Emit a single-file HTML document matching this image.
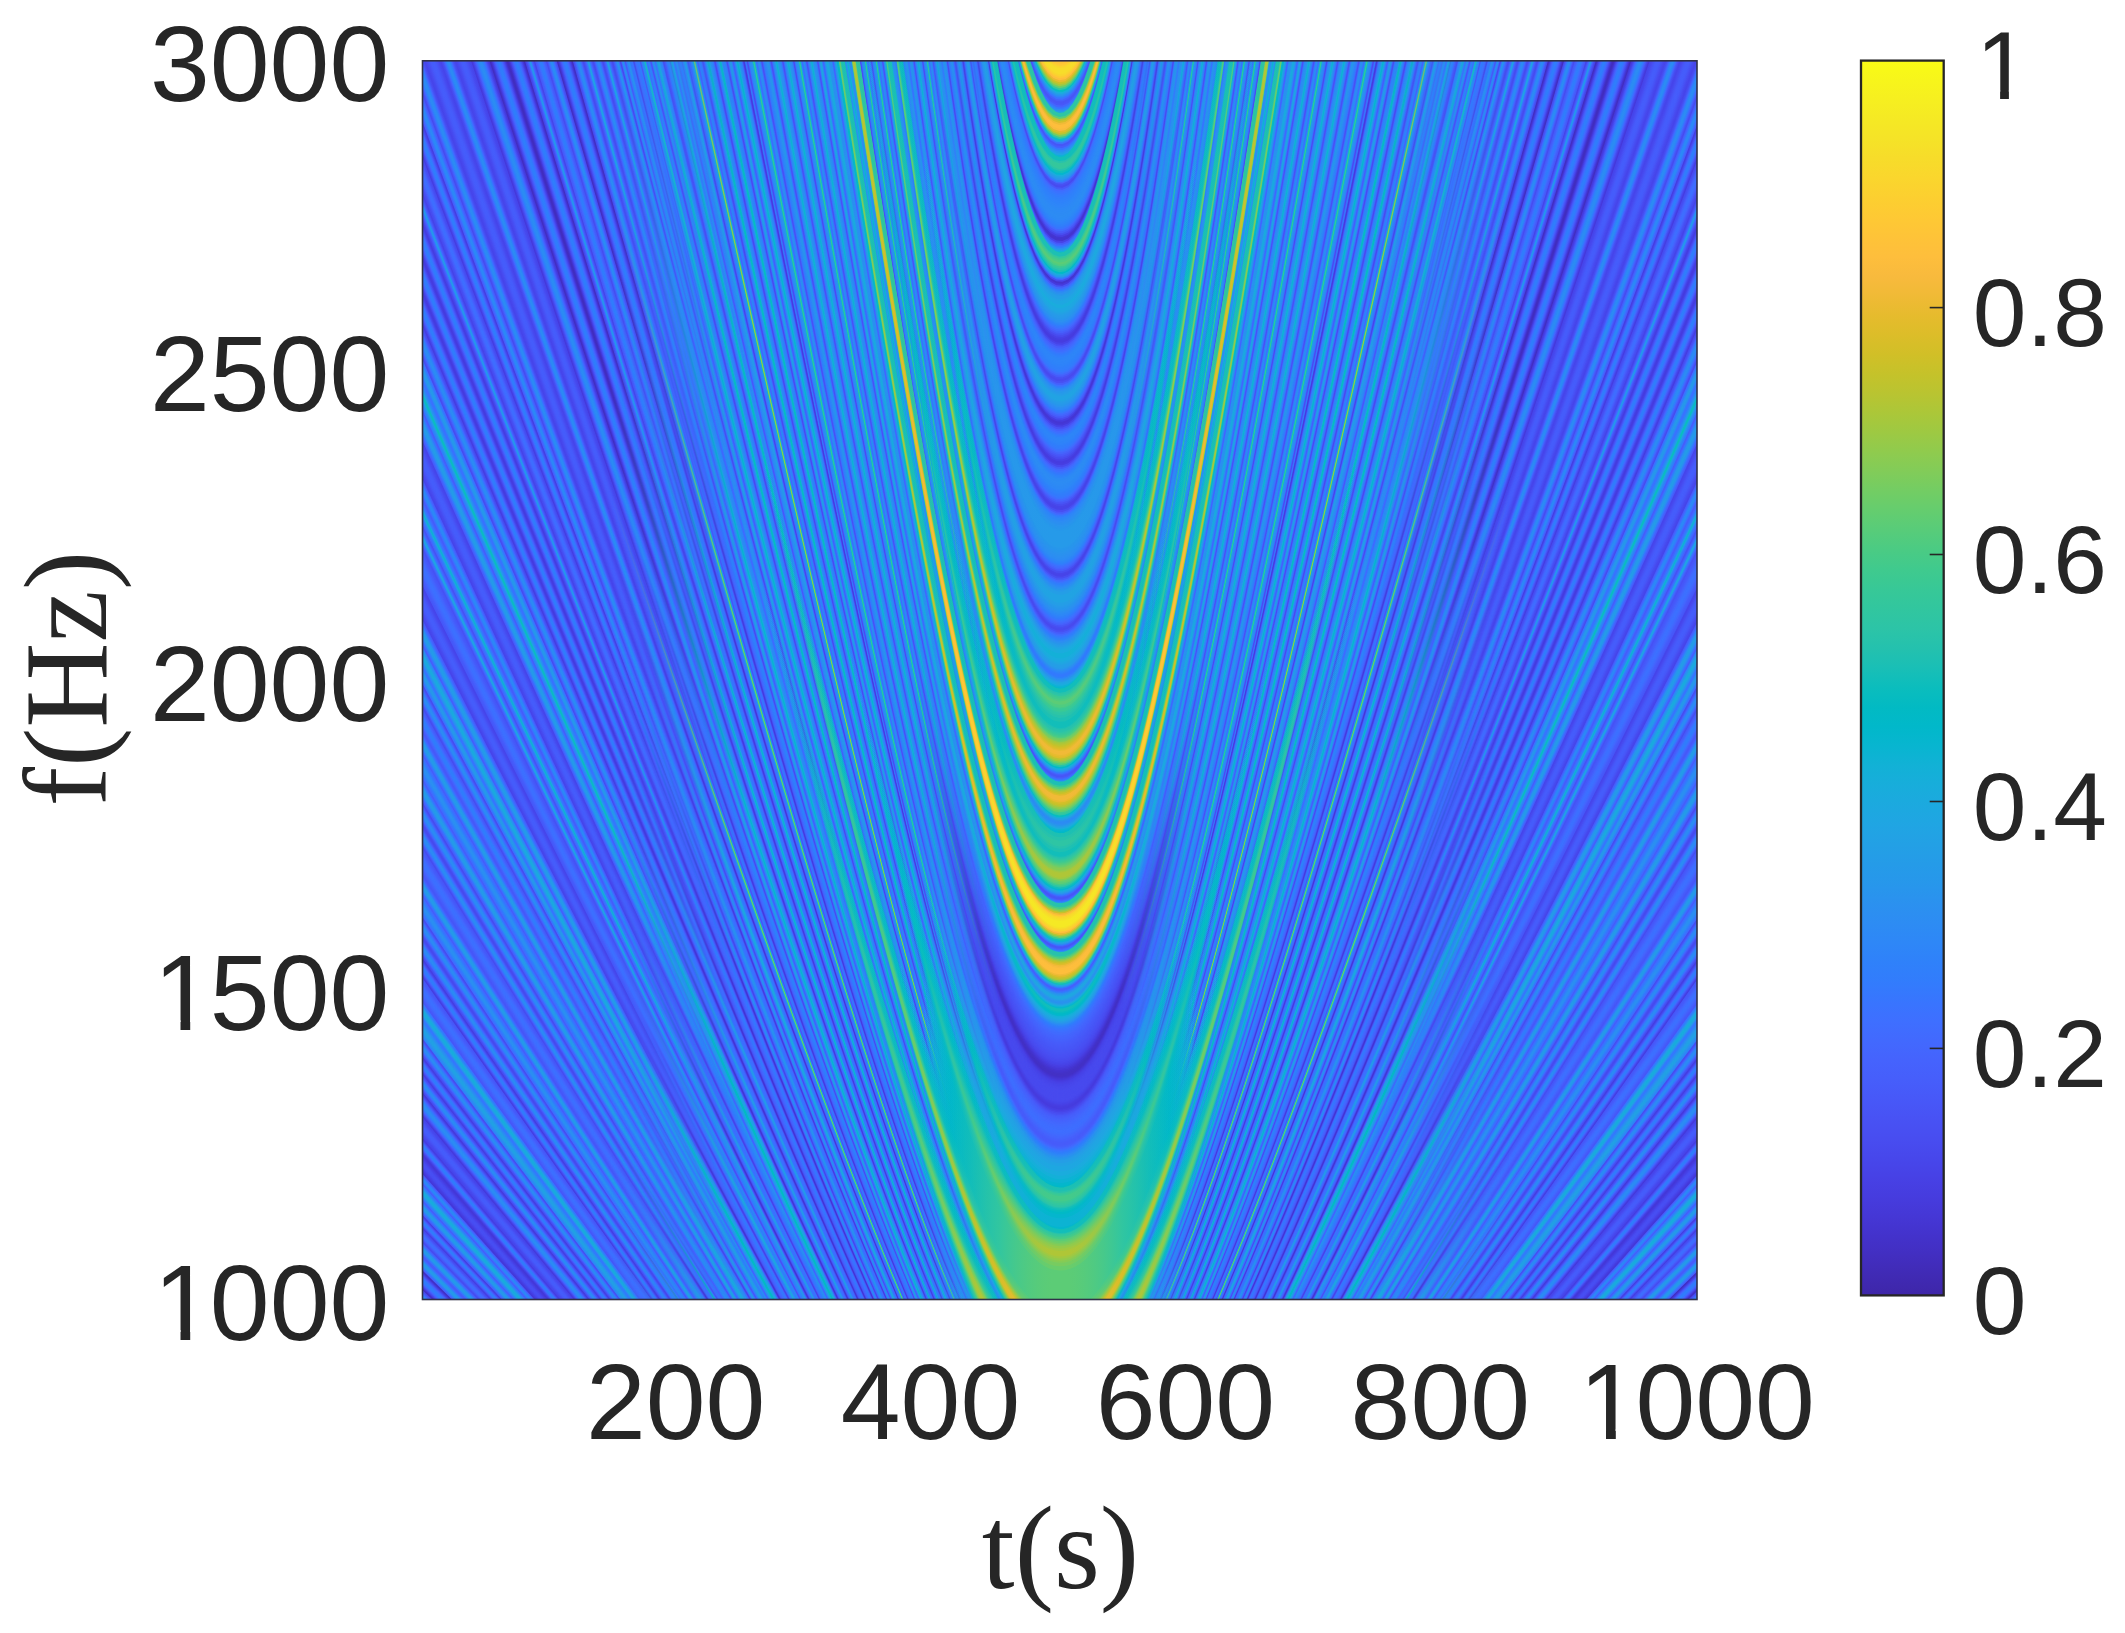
<!DOCTYPE html><html><head><meta charset="utf-8"><title>f-t</title><style>html,body{margin:0;padding:0;background:#fff}svg{display:block}text{fill:#262626}.s{font-family:"Liberation Sans",Arial,sans-serif}.r{font-family:"Liberation Serif","Times New Roman",serif}path{fill:none;stroke-width:4;vector-effect:non-scaling-stroke}.b22{stroke:url(#b22)}.v22{stroke:url(#v22)}.b23{stroke:url(#b23)}.v23{stroke:url(#v23)}.b24{stroke:url(#b24)}.v24{stroke:url(#v24)}.b25{stroke:url(#b25)}.v25{stroke:url(#v25)}.b26{stroke:url(#b26)}.v26{stroke:url(#v26)}.b27{stroke:url(#b27)}.v27{stroke:url(#v27)}.b28{stroke:url(#b28)}.v28{stroke:url(#v28)}.b29{stroke:url(#b29)}.v29{stroke:url(#v29)}.b30{stroke:url(#b30)}.v30{stroke:url(#v30)}.b31{stroke:url(#b31)}.v31{stroke:url(#v31)}.b32{stroke:url(#b32)}.v32{stroke:url(#v32)}.b33{stroke:url(#b33)}.v33{stroke:url(#v33)}.b34{stroke:url(#b34)}.v34{stroke:url(#v34)}.b35{stroke:url(#b35)}.v35{stroke:url(#v35)}.b36{stroke:url(#b36)}.v36{stroke:url(#v36)}.b37{stroke:url(#b37)}.v37{stroke:url(#v37)}.b38{stroke:url(#b38)}.v38{stroke:url(#v38)}.b39{stroke:url(#b39)}.v39{stroke:url(#v39)}.b40{stroke:url(#b40)}.v40{stroke:url(#v40)}.b41{stroke:url(#b41)}.v41{stroke:url(#v41)}.b42{stroke:url(#b42)}.v42{stroke:url(#v42)}.b43{stroke:url(#b43)}.v43{stroke:url(#v43)}.b44{stroke:url(#b44)}.v44{stroke:url(#v44)}.b45{stroke:url(#b45)}.v45{stroke:url(#v45)}.b46{stroke:url(#b46)}.v46{stroke:url(#v46)}.b47{stroke:url(#b47)}.v47{stroke:url(#v47)}.b48{stroke:url(#b48)}.v48{stroke:url(#v48)}.b49{stroke:url(#b49)}.v49{stroke:url(#v49)}.b50{stroke:url(#b50)}.v50{stroke:url(#v50)}.b51{stroke:url(#b51)}.v51{stroke:url(#v51)}.b52{stroke:url(#b52)}.v52{stroke:url(#v52)}.v53{stroke:url(#v53)}.v54{stroke:url(#v54)}.v55{stroke:url(#v55)}.v56{stroke:url(#v56)}.v57{stroke:url(#v57)}.v58{stroke:url(#v58)}.v59{stroke:url(#v59)}.v60{stroke:url(#v60)}.v61{stroke:url(#v61)}</style></head><body>
<svg width="2125" height="1633" viewBox="0 0 2125 1633">
<defs><clipPath id="cp"><rect x="422.5" y="60.8" width="1274.5" height="1238.7"/></clipPath><path id="c" d="M-153.344,0.957770 -148.344,0.939726 -143.344,0.921945 -138.344,0.904441 -133.344,0.887231 -128.344,0.870334 -123.344,0.853766 -118.344,0.837549 -113.344,0.821701 -108.344,0.806247 -103.344,0.791208 -98.3444,0.776608 -93.3444,0.762473 -88.3444,0.748829 -83.3444,0.735704 -78.3444,0.723126 -73.3444,0.711123 -68.3444,0.699725 -63.3444,0.688963 -58.3444,0.678866 -53.3444,0.669466 -48.3444,0.660790 -43.3444,0.652869 -38.3444,0.645730 -33.3444,0.639399 -28.3444,0.633901 -23.3444,0.629257 -18.3444,0.625486 -13.3444,0.622604 -8.34442,0.620625 -3.34442,0.619555 1.65558,0.619400 6.65558,0.620161 11.6556,0.621834 16.6556,0.624413 21.6556,0.627884 26.6556,0.632236 31.6556,0.637448 36.6556,0.643500 41.6556,0.650369 46.6556,0.658029 51.6556,0.666453 56.6556,0.675612 61.6556,0.685477 66.6556,0.696018 71.6556,0.707204 76.6556,0.719006 81.6556,0.731393 86.6556,0.744337 91.6556,0.757808 96.6556,0.771780 101.656,0.786226 106.656,0.801119 111.656,0.816436 116.656,0.832153 121.656,0.848248 126.656,0.864700 131.656,0.881488 136.656,0.898594 141.656,0.916001 146.656,0.933690 151.656,0.951647 153.344,0.957770"/><path id="ch" d="M-643.85,3.129352 -631.85,3.073333 -619.85,3.017357 -607.85,2.961427 -595.85,2.905545 -583.85,2.849714 -571.85,2.793938 -559.85,2.738219 -547.85,2.682561 -535.85,2.626968 -523.85,2.571444 -511.85,2.515994 -499.85,2.460623 -487.85,2.405336 -475.85,2.350139 -463.85,2.295038 -451.85,2.240042 -439.85,2.185157 -427.85,2.130392 -415.85,2.075757 -403.85,2.021263 -391.85,1.966920 -379.85,1.912742 -367.85,1.858744 -355.85,1.804941 -343.85,1.751351 -331.85,1.697995 -319.85,1.644895 -307.85,1.592077 -295.85,1.539571 -283.85,1.487408 -271.85,1.435627 -259.85,1.384270 -247.85,1.333386 -235.85,1.283032 -230.85,1.262222 -225.85,1.241521 -220.85,1.220933 -215.85,1.200465 -210.85,1.180123 -205.85,1.159914 -200.85,1.139844 -195.85,1.119921 -190.85,1.100153 -185.85,1.080548 -180.85,1.061116 -175.85,1.041867 -170.85,1.022810 -165.85,1.003956 -160.85,0.985318 -155.85,0.966907 -150.85,0.948737 -145.85,0.930822 -140.85,0.913177 -135.85,0.895818 -130.85,0.878761 -125.85,0.862026 -120.85,0.845630 -115.85,0.829595 -110.85,0.813941 -105.85,0.798691 -100.85,0.783868 -95.85,0.769497 -90.85,0.755603 -85.85,0.742215 -80.85,0.729359 -75.85,0.717064 -70.85,0.705359 -65.85,0.694275 -60.85,0.683841 -55.85,0.674088 -50.85,0.665045 -45.85,0.656742 -40.85,0.649208 -35.85,0.642469 -30.85,0.636550 -25.85,0.631476 -20.85,0.627265 -15.85,0.623936 -10.85,0.621503 -5.85,0.619977 -0.85,0.619363 4.15,0.619666 9.15,0.620882 14.15,0.623008 19.15,0.626034 24.15,0.629946 29.15,0.634729 34.15,0.640363 39.15,0.646826 44.15,0.654093 49.15,0.662138 54.15,0.670932 59.15,0.680447 64.15,0.690653 69.15,0.701519 74.15,0.713016 79.15,0.725114 84.15,0.737783 89.15,0.750993 94.15,0.764718 99.15,0.778929 104.15,0.793602 109.15,0.808709 114.15,0.824229 119.15,0.840137 124.15,0.856412 129.15,0.873034 134.15,0.889984 139.15,0.907242 144.15,0.924791 149.15,0.942616 154.15,0.960701 159.15,0.979032 164.15,0.997594 169.15,1.016376 174.15,1.035365 179.15,1.054551 184.15,1.073922 189.15,1.093469 194.15,1.113182 199.15,1.133053 204.15,1.153074 209.15,1.173237 214.15,1.193535 219.15,1.213960 224.15,1.234508 229.15,1.255171 234.15,1.275944 239.15,1.296823 244.15,1.317801 256.15,1.368527 268.15,1.419744 280.15,1.471400 292.15,1.523449 304.15,1.575853 316.15,1.628578 328.15,1.681594 340.15,1.734874 352.15,1.788394 364.15,1.842133 376.15,1.896073 388.15,1.950197 400.15,2.004490 412.15,2.058939 424.15,2.113532 436.15,2.168258 448.15,2.223107 460.15,2.278070 472.15,2.333139 484.15,2.388307 496.15,2.443567 508.15,2.498912 520.15,2.554339 532.15,2.609840 544.15,2.665412 556.15,2.721051 568.15,2.776751 580.15,2.832511 592.15,2.888325 604.15,2.944191 616.15,3.000107 628.15,3.056069 640.15,3.112075 643.85,3.129352"/><path id="c2" d="M-457.582,2.266299 -445.582,2.211359 -433.582,2.156536 -421.582,2.101838 -409.582,2.047275 -397.582,1.992858 -385.582,1.938600 -373.582,1.884514 -361.582,1.830615 -349.582,1.776921 -337.582,1.723451 -325.582,1.670226 -313.582,1.617270 -301.582,1.564611 -289.582,1.512279 -277.582,1.460311 -265.582,1.408745 -253.582,1.357629 -241.582,1.307014 -229.582,1.256962 -224.582,1.236289 -219.582,1.215731 -214.582,1.195295 -209.582,1.174986 -204.582,1.154811 -199.582,1.134777 -194.582,1.114893 -189.582,1.095165 -184.582,1.075604 -179.582,1.056217 -174.582,1.037015 -169.582,1.018009 -164.582,0.999209 -159.582,0.980627 -154.582,0.962276 -149.582,0.944169 -144.582,0.926321 -139.582,0.908747 -134.582,0.891463 -129.582,0.874486 -124.582,0.857835 -119.582,0.841529 -114.582,0.825588 -109.582,0.810034 -104.582,0.794890 -99.582,0.780179 -94.582,0.765927 -89.582,0.752159 -84.582,0.738903 -79.582,0.726187 -74.582,0.714039 -69.582,0.702488 -64.582,0.691566 -59.582,0.681302 -54.582,0.671726 -51.5735,0.666308M51.5735,0.666308 56.5735,0.675456 61.5735,0.685309 66.5735,0.695839 71.5735,0.707015 76.5735,0.718807 81.5735,0.731185 86.5735,0.744120 91.5735,0.757583 96.5735,0.771547 101.573,0.785985 106.573,0.800871 111.573,0.816182 116.573,0.831892 121.573,0.847981 126.573,0.864427 131.573,0.881210 136.573,0.898311 141.573,0.915713 146.573,0.933398 151.573,0.951350 156.573,0.969556 161.573,0.988001 166.573,1.006671 171.573,1.025555 176.573,1.044641 181.573,1.063917 186.573,1.083375 191.573,1.103003 196.573,1.122794 201.573,1.142739 206.573,1.162830 211.573,1.183059 216.573,1.203419 221.573,1.223905 226.573,1.244509 231.573,1.265226 236.573,1.286051 241.573,1.306978 253.573,1.357593 265.573,1.408709 277.573,1.460274 289.573,1.512242 301.573,1.564573 313.573,1.617232 325.573,1.670188 337.573,1.723413 349.573,1.776883 361.573,1.830577 373.573,1.884475 385.573,1.938561 397.573,1.992820 409.573,2.047236 421.573,2.101799 433.573,2.156497 445.573,2.211320 457.573,2.266259 457.582,2.266299"/><path id="c3" d="M-643.85,3.129352 -631.85,3.073333 -619.85,3.017357 -607.85,2.961427 -595.85,2.905545 -583.85,2.849714 -571.85,2.793938 -559.85,2.738219 -547.85,2.682561 -535.85,2.626968 -523.85,2.571444 -511.85,2.515994 -499.85,2.460623 -487.85,2.405336 -475.85,2.350139 -463.85,2.295038 -451.85,2.240042 -439.85,2.185157 -427.85,2.130392 -415.85,2.075757 -403.85,2.021263 -391.85,1.966920 -379.85,1.912742 -367.85,1.858744 -355.85,1.804941 -343.85,1.751351 -331.85,1.697995 -319.85,1.644895 -307.85,1.592077 -304,1.575196M304,1.575196 316,1.627918 328,1.680930 340,1.734206 352,1.787723 364,1.841460 376,1.895398 388,1.949520 400,2.003811 412,2.058258 424,2.112849 436,2.167573 448,2.222420 460,2.277382 472,2.332450 484,2.387616 496,2.442875 508,2.498220 520,2.553645 532,2.609146 544,2.664717 556,2.720355 568,2.776055 580,2.831813 592,2.887627 604,2.943493 616,2.999408 628,3.055369 640,3.111375 643.85,3.129352"/><linearGradient id="cb" x1="0" y1="0" x2="0" y2="1"><stop offset="0.0000" stop-color="#f9fb15"/><stop offset="0.0159" stop-color="#f7f51b"/><stop offset="0.0317" stop-color="#f6ef20"/><stop offset="0.0476" stop-color="#f5e924"/><stop offset="0.0635" stop-color="#f5e327"/><stop offset="0.0794" stop-color="#f7dc2a"/><stop offset="0.0952" stop-color="#fad62d"/><stop offset="0.1111" stop-color="#fccf30"/><stop offset="0.1270" stop-color="#fec934"/><stop offset="0.1429" stop-color="#fec338"/><stop offset="0.1587" stop-color="#febe3c"/><stop offset="0.1746" stop-color="#f8ba3d"/><stop offset="0.1905" stop-color="#f0ba36"/><stop offset="0.2063" stop-color="#e6bb2d"/><stop offset="0.2222" stop-color="#dcbd29"/><stop offset="0.2381" stop-color="#d1bf27"/><stop offset="0.2540" stop-color="#c5c22a"/><stop offset="0.2698" stop-color="#b9c431"/><stop offset="0.2857" stop-color="#abc739"/><stop offset="0.3016" stop-color="#9dc943"/><stop offset="0.3175" stop-color="#8fcb4e"/><stop offset="0.3333" stop-color="#81cc59"/><stop offset="0.3492" stop-color="#72cd64"/><stop offset="0.3651" stop-color="#64cd6f"/><stop offset="0.3810" stop-color="#57cc7a"/><stop offset="0.3968" stop-color="#4acb84"/><stop offset="0.4127" stop-color="#3fca8e"/><stop offset="0.4286" stop-color="#37c897"/><stop offset="0.4444" stop-color="#31c69f"/><stop offset="0.4603" stop-color="#2cc4a7"/><stop offset="0.4762" stop-color="#24c1ae"/><stop offset="0.4921" stop-color="#19bfb6"/><stop offset="0.5079" stop-color="#0bbdbd"/><stop offset="0.5238" stop-color="#02bac3"/><stop offset="0.5397" stop-color="#01b8ca"/><stop offset="0.5556" stop-color="#08b5d0"/><stop offset="0.5714" stop-color="#12b1d6"/><stop offset="0.5873" stop-color="#18addb"/><stop offset="0.6032" stop-color="#1ca9df"/><stop offset="0.6190" stop-color="#20a5e3"/><stop offset="0.6349" stop-color="#23a0e5"/><stop offset="0.6508" stop-color="#259be8"/><stop offset="0.6667" stop-color="#2797eb"/><stop offset="0.6825" stop-color="#2b91ef"/><stop offset="0.6984" stop-color="#2d8cf3"/><stop offset="0.7143" stop-color="#2e87f7"/><stop offset="0.7302" stop-color="#2f81fa"/><stop offset="0.7460" stop-color="#327cfc"/><stop offset="0.7619" stop-color="#3875fe"/><stop offset="0.7778" stop-color="#3e6fff"/><stop offset="0.7937" stop-color="#4269fe"/><stop offset="0.8095" stop-color="#4563fd"/><stop offset="0.8254" stop-color="#465efb"/><stop offset="0.8413" stop-color="#4758f8"/><stop offset="0.8571" stop-color="#4852f4"/><stop offset="0.8730" stop-color="#484df0"/><stop offset="0.8889" stop-color="#4747eb"/><stop offset="0.9048" stop-color="#4741e5"/><stop offset="0.9206" stop-color="#463cde"/><stop offset="0.9365" stop-color="#4537d5"/><stop offset="0.9524" stop-color="#4332cb"/><stop offset="0.9683" stop-color="#422ec0"/><stop offset="0.9841" stop-color="#402ab4"/><stop offset="1.0000" stop-color="#3e26a8"/></linearGradient><linearGradient id="b22" gradientUnits="userSpaceOnUse" x1="0" x2="0" y1="0.61935" y2="3.22062"><stop offset="0.000" stop-color="#269ae9"/><stop offset="0.024" stop-color="#2896ec"/><stop offset="0.048" stop-color="#2a93ee"/><stop offset="0.071" stop-color="#2b90ef"/><stop offset="0.107" stop-color="#2c8ef1"/><stop offset="0.143" stop-color="#2d8df2"/><stop offset="0.190" stop-color="#2d8cf3"/><stop offset="0.238" stop-color="#2d8bf4"/><stop offset="0.286" stop-color="#2d8bf4"/><stop offset="0.357" stop-color="#2d8af4"/><stop offset="0.452" stop-color="#2d8af4"/><stop offset="0.595" stop-color="#2d8af4"/><stop offset="0.786" stop-color="#2d8af4"/><stop offset="1.000" stop-color="#2d8af4"/></linearGradient><linearGradient id="v22" gradientUnits="userSpaceOnUse" x1="0" x2="0" y1="0.61935" y2="3.22062"><stop offset="0.000" stop-color="#269ae9"/><stop offset="0.024" stop-color="#2896ec"/><stop offset="0.048" stop-color="#2a93ee"/><stop offset="0.071" stop-color="#2b90ef"/><stop offset="0.107" stop-color="#2c8ef1"/><stop offset="0.143" stop-color="#2d8df2"/><stop offset="0.190" stop-color="#2d8cf3"/><stop offset="0.238" stop-color="#2d8bf4"/><stop offset="0.286" stop-color="#2d8bf4"/><stop offset="0.357" stop-color="#2d8af4"/><stop offset="0.452" stop-color="#2d8af4"/><stop offset="0.595" stop-color="#2d8af4"/><stop offset="0.786" stop-color="#2d8af4"/><stop offset="1.000" stop-color="#2d8af4"/></linearGradient><linearGradient id="b23" gradientUnits="userSpaceOnUse" x1="0" x2="0" y1="0.61935" y2="3.22062"><stop offset="0.000" stop-color="#249ee6"/><stop offset="0.024" stop-color="#2699e9"/><stop offset="0.048" stop-color="#2896ec"/><stop offset="0.071" stop-color="#2a93ed"/><stop offset="0.107" stop-color="#2b90f0"/><stop offset="0.143" stop-color="#2c8ff1"/><stop offset="0.190" stop-color="#2d8df2"/><stop offset="0.238" stop-color="#2d8cf3"/><stop offset="0.286" stop-color="#2d8cf3"/><stop offset="0.357" stop-color="#2d8cf3"/><stop offset="0.452" stop-color="#2d8cf3"/><stop offset="0.595" stop-color="#2d8cf3"/><stop offset="0.786" stop-color="#2d8cf3"/><stop offset="1.000" stop-color="#2d8cf3"/></linearGradient><linearGradient id="v23" gradientUnits="userSpaceOnUse" x1="0" x2="0" y1="0.61935" y2="3.22062"><stop offset="0.000" stop-color="#249ee6"/><stop offset="0.024" stop-color="#2699e9"/><stop offset="0.048" stop-color="#2896ec"/><stop offset="0.071" stop-color="#2a93ed"/><stop offset="0.107" stop-color="#2b90f0"/><stop offset="0.143" stop-color="#2c8ff1"/><stop offset="0.190" stop-color="#2d8df2"/><stop offset="0.238" stop-color="#2d8cf3"/><stop offset="0.286" stop-color="#2d8cf3"/><stop offset="0.357" stop-color="#2d8cf3"/><stop offset="0.452" stop-color="#2d8cf3"/><stop offset="0.595" stop-color="#2d8cf3"/><stop offset="0.786" stop-color="#2d8cf3"/><stop offset="1.000" stop-color="#2d8cf3"/></linearGradient><linearGradient id="b24" gradientUnits="userSpaceOnUse" x1="0" x2="0" y1="0.61935" y2="3.22062"><stop offset="0.000" stop-color="#21a3e3"/><stop offset="0.024" stop-color="#249de6"/><stop offset="0.048" stop-color="#2699e9"/><stop offset="0.071" stop-color="#2896ec"/><stop offset="0.107" stop-color="#2a92ee"/><stop offset="0.143" stop-color="#2b90ef"/><stop offset="0.190" stop-color="#2c8ff1"/><stop offset="0.238" stop-color="#2c8ef1"/><stop offset="0.286" stop-color="#2d8df2"/><stop offset="0.357" stop-color="#2d8df2"/><stop offset="0.452" stop-color="#2d8df2"/><stop offset="0.595" stop-color="#2d8df2"/><stop offset="0.786" stop-color="#2d8df2"/><stop offset="1.000" stop-color="#2d8df2"/></linearGradient><linearGradient id="v24" gradientUnits="userSpaceOnUse" x1="0" x2="0" y1="0.61935" y2="3.22062"><stop offset="0.000" stop-color="#21a3e3"/><stop offset="0.024" stop-color="#249de6"/><stop offset="0.048" stop-color="#2699e9"/><stop offset="0.071" stop-color="#2896ec"/><stop offset="0.107" stop-color="#2a92ee"/><stop offset="0.143" stop-color="#2b90ef"/><stop offset="0.190" stop-color="#2c8ff1"/><stop offset="0.238" stop-color="#2c8ef1"/><stop offset="0.286" stop-color="#2d8df2"/><stop offset="0.357" stop-color="#2d8df2"/><stop offset="0.452" stop-color="#2d8df2"/><stop offset="0.595" stop-color="#2d8df2"/><stop offset="0.786" stop-color="#2d8df2"/><stop offset="1.000" stop-color="#2d8df2"/></linearGradient><linearGradient id="b25" gradientUnits="userSpaceOnUse" x1="0" x2="0" y1="0.61935" y2="3.22062"><stop offset="0.000" stop-color="#1ea7e1"/><stop offset="0.024" stop-color="#23a1e4"/><stop offset="0.048" stop-color="#259ce7"/><stop offset="0.071" stop-color="#2698ea"/><stop offset="0.107" stop-color="#2995ec"/><stop offset="0.143" stop-color="#2a92ee"/><stop offset="0.190" stop-color="#2b90f0"/><stop offset="0.238" stop-color="#2c8ff0"/><stop offset="0.286" stop-color="#2c8ff1"/><stop offset="0.357" stop-color="#2c8ef1"/><stop offset="0.452" stop-color="#2c8ef1"/><stop offset="0.595" stop-color="#2c8ef1"/><stop offset="0.786" stop-color="#2c8ef1"/><stop offset="1.000" stop-color="#2c8ef1"/></linearGradient><linearGradient id="v25" gradientUnits="userSpaceOnUse" x1="0" x2="0" y1="0.61935" y2="3.22062"><stop offset="0.000" stop-color="#1ea7e1"/><stop offset="0.024" stop-color="#23a1e4"/><stop offset="0.048" stop-color="#259ce7"/><stop offset="0.071" stop-color="#2698ea"/><stop offset="0.107" stop-color="#2995ec"/><stop offset="0.143" stop-color="#2a92ee"/><stop offset="0.190" stop-color="#2b90f0"/><stop offset="0.238" stop-color="#2c8ff0"/><stop offset="0.286" stop-color="#2c8ff1"/><stop offset="0.357" stop-color="#2c8ef1"/><stop offset="0.452" stop-color="#2c8ef1"/><stop offset="0.595" stop-color="#2c8ef1"/><stop offset="0.786" stop-color="#2c8ef1"/><stop offset="1.000" stop-color="#2c8ef1"/></linearGradient><linearGradient id="b26" gradientUnits="userSpaceOnUse" x1="0" x2="0" y1="0.61935" y2="3.22062"><stop offset="0.000" stop-color="#1aacdd"/><stop offset="0.024" stop-color="#20a5e3"/><stop offset="0.048" stop-color="#249fe5"/><stop offset="0.071" stop-color="#259be8"/><stop offset="0.107" stop-color="#2797eb"/><stop offset="0.143" stop-color="#2994ed"/><stop offset="0.190" stop-color="#2b92ee"/><stop offset="0.238" stop-color="#2b91ef"/><stop offset="0.286" stop-color="#2b90f0"/><stop offset="0.357" stop-color="#2c90f0"/><stop offset="0.452" stop-color="#2c90f0"/><stop offset="0.595" stop-color="#2c90f0"/><stop offset="0.786" stop-color="#2c8ff0"/><stop offset="1.000" stop-color="#2c8ff0"/></linearGradient><linearGradient id="v26" gradientUnits="userSpaceOnUse" x1="0" x2="0" y1="0.61935" y2="3.22062"><stop offset="0.000" stop-color="#1aacdd"/><stop offset="0.024" stop-color="#20a5e3"/><stop offset="0.048" stop-color="#249fe5"/><stop offset="0.071" stop-color="#259be8"/><stop offset="0.107" stop-color="#2797eb"/><stop offset="0.143" stop-color="#2994ed"/><stop offset="0.190" stop-color="#2b92ee"/><stop offset="0.238" stop-color="#2b91ef"/><stop offset="0.286" stop-color="#2b90f0"/><stop offset="0.357" stop-color="#2c90f0"/><stop offset="0.452" stop-color="#2c90f0"/><stop offset="0.595" stop-color="#2c90f0"/><stop offset="0.786" stop-color="#2c8ff0"/><stop offset="1.000" stop-color="#2c8ff0"/></linearGradient><linearGradient id="b27" gradientUnits="userSpaceOnUse" x1="0" x2="0" y1="0.61935" y2="3.22062"><stop offset="0.000" stop-color="#14b0d8"/><stop offset="0.024" stop-color="#1da8e0"/><stop offset="0.048" stop-color="#22a2e4"/><stop offset="0.071" stop-color="#249de6"/><stop offset="0.107" stop-color="#2699e9"/><stop offset="0.143" stop-color="#2896ec"/><stop offset="0.190" stop-color="#2a93ed"/><stop offset="0.238" stop-color="#2a92ee"/><stop offset="0.286" stop-color="#2b92ef"/><stop offset="0.357" stop-color="#2b91ef"/><stop offset="0.452" stop-color="#2b91ef"/><stop offset="0.595" stop-color="#2b91ef"/><stop offset="0.786" stop-color="#2b91ef"/><stop offset="1.000" stop-color="#2b91ef"/></linearGradient><linearGradient id="v27" gradientUnits="userSpaceOnUse" x1="0" x2="0" y1="0.61935" y2="3.22062"><stop offset="0.000" stop-color="#14b0d8"/><stop offset="0.024" stop-color="#1da8e0"/><stop offset="0.048" stop-color="#22a2e4"/><stop offset="0.071" stop-color="#249de6"/><stop offset="0.107" stop-color="#2699e9"/><stop offset="0.143" stop-color="#2896ec"/><stop offset="0.190" stop-color="#2a93ed"/><stop offset="0.238" stop-color="#2a92ee"/><stop offset="0.286" stop-color="#2b92ef"/><stop offset="0.357" stop-color="#2b91ef"/><stop offset="0.452" stop-color="#2b91ef"/><stop offset="0.595" stop-color="#2b91ef"/><stop offset="0.786" stop-color="#2b91ef"/><stop offset="1.000" stop-color="#2b91ef"/></linearGradient><linearGradient id="b28" gradientUnits="userSpaceOnUse" x1="0" x2="0" y1="0.61935" y2="3.22062"><stop offset="0.000" stop-color="#0cb3d3"/><stop offset="0.024" stop-color="#1aabdd"/><stop offset="0.048" stop-color="#20a5e2"/><stop offset="0.071" stop-color="#23a0e5"/><stop offset="0.107" stop-color="#259be8"/><stop offset="0.143" stop-color="#2798ea"/><stop offset="0.190" stop-color="#2895ec"/><stop offset="0.238" stop-color="#2994ed"/><stop offset="0.286" stop-color="#2a93ee"/><stop offset="0.357" stop-color="#2a92ee"/><stop offset="0.452" stop-color="#2b92ee"/><stop offset="0.595" stop-color="#2b92ee"/><stop offset="0.786" stop-color="#2b92ee"/><stop offset="1.000" stop-color="#2b92ee"/></linearGradient><linearGradient id="v28" gradientUnits="userSpaceOnUse" x1="0" x2="0" y1="0.61935" y2="3.22062"><stop offset="0.000" stop-color="#0cb3d3"/><stop offset="0.024" stop-color="#1aabdd"/><stop offset="0.048" stop-color="#20a5e2"/><stop offset="0.071" stop-color="#23a0e5"/><stop offset="0.107" stop-color="#259be8"/><stop offset="0.143" stop-color="#2798ea"/><stop offset="0.190" stop-color="#2895ec"/><stop offset="0.238" stop-color="#2994ed"/><stop offset="0.286" stop-color="#2a93ee"/><stop offset="0.357" stop-color="#2a92ee"/><stop offset="0.452" stop-color="#2b92ee"/><stop offset="0.595" stop-color="#2b92ee"/><stop offset="0.786" stop-color="#2b92ee"/><stop offset="1.000" stop-color="#2b92ee"/></linearGradient><linearGradient id="b29" gradientUnits="userSpaceOnUse" x1="0" x2="0" y1="0.61935" y2="3.22062"><stop offset="0.000" stop-color="#04b6cd"/><stop offset="0.024" stop-color="#16afda"/><stop offset="0.048" stop-color="#1da8e0"/><stop offset="0.071" stop-color="#22a2e4"/><stop offset="0.107" stop-color="#259de7"/><stop offset="0.143" stop-color="#2699e9"/><stop offset="0.190" stop-color="#2796eb"/><stop offset="0.238" stop-color="#2895ec"/><stop offset="0.286" stop-color="#2994ed"/><stop offset="0.357" stop-color="#2994ed"/><stop offset="0.452" stop-color="#2a93ed"/><stop offset="0.595" stop-color="#2a93ed"/><stop offset="0.786" stop-color="#2a93ed"/><stop offset="1.000" stop-color="#2a93ed"/></linearGradient><linearGradient id="v29" gradientUnits="userSpaceOnUse" x1="0" x2="0" y1="0.61935" y2="3.22062"><stop offset="0.000" stop-color="#04b6cd"/><stop offset="0.024" stop-color="#16afda"/><stop offset="0.048" stop-color="#1da8e0"/><stop offset="0.071" stop-color="#22a2e4"/><stop offset="0.107" stop-color="#259de7"/><stop offset="0.143" stop-color="#2699e9"/><stop offset="0.190" stop-color="#2796eb"/><stop offset="0.238" stop-color="#2895ec"/><stop offset="0.286" stop-color="#2994ed"/><stop offset="0.357" stop-color="#2994ed"/><stop offset="0.452" stop-color="#2a93ed"/><stop offset="0.595" stop-color="#2a93ed"/><stop offset="0.786" stop-color="#2a93ed"/><stop offset="1.000" stop-color="#2a93ed"/></linearGradient><linearGradient id="b30" gradientUnits="userSpaceOnUse" x1="0" x2="0" y1="0.61935" y2="3.22062"><stop offset="0.000" stop-color="#01b9c6"/><stop offset="0.024" stop-color="#11b1d6"/><stop offset="0.048" stop-color="#1babde"/><stop offset="0.071" stop-color="#20a5e2"/><stop offset="0.107" stop-color="#249fe6"/><stop offset="0.143" stop-color="#259be8"/><stop offset="0.190" stop-color="#2798ea"/><stop offset="0.238" stop-color="#2796eb"/><stop offset="0.286" stop-color="#2896ec"/><stop offset="0.357" stop-color="#2895ec"/><stop offset="0.452" stop-color="#2995ec"/><stop offset="0.595" stop-color="#2995ec"/><stop offset="0.786" stop-color="#2995ec"/><stop offset="1.000" stop-color="#2995ec"/></linearGradient><linearGradient id="v30" gradientUnits="userSpaceOnUse" x1="0" x2="0" y1="0.61935" y2="3.22062"><stop offset="0.000" stop-color="#01b9c6"/><stop offset="0.024" stop-color="#11b1d6"/><stop offset="0.048" stop-color="#1babde"/><stop offset="0.071" stop-color="#20a5e2"/><stop offset="0.107" stop-color="#249fe6"/><stop offset="0.143" stop-color="#259be8"/><stop offset="0.190" stop-color="#2798ea"/><stop offset="0.238" stop-color="#2796eb"/><stop offset="0.286" stop-color="#2896ec"/><stop offset="0.357" stop-color="#2895ec"/><stop offset="0.452" stop-color="#2995ec"/><stop offset="0.595" stop-color="#2995ec"/><stop offset="0.786" stop-color="#2995ec"/><stop offset="1.000" stop-color="#2995ec"/></linearGradient><linearGradient id="b31" gradientUnits="userSpaceOnUse" x1="0" x2="0" y1="0.61935" y2="3.22062"><stop offset="0.000" stop-color="#07bcc0"/><stop offset="0.024" stop-color="#09b4d1"/><stop offset="0.048" stop-color="#18addb"/><stop offset="0.071" stop-color="#1ea7e1"/><stop offset="0.107" stop-color="#23a1e4"/><stop offset="0.143" stop-color="#259de7"/><stop offset="0.190" stop-color="#2699e9"/><stop offset="0.238" stop-color="#2798ea"/><stop offset="0.286" stop-color="#2797eb"/><stop offset="0.357" stop-color="#2896eb"/><stop offset="0.452" stop-color="#2896eb"/><stop offset="0.595" stop-color="#2896ec"/><stop offset="0.786" stop-color="#2896ec"/><stop offset="1.000" stop-color="#2896ec"/></linearGradient><linearGradient id="v31" gradientUnits="userSpaceOnUse" x1="0" x2="0" y1="0.61935" y2="3.22062"><stop offset="0.000" stop-color="#07bcc0"/><stop offset="0.024" stop-color="#09b4d1"/><stop offset="0.048" stop-color="#18addb"/><stop offset="0.071" stop-color="#1ea7e1"/><stop offset="0.107" stop-color="#23a1e4"/><stop offset="0.143" stop-color="#259de7"/><stop offset="0.190" stop-color="#2699e9"/><stop offset="0.238" stop-color="#2798ea"/><stop offset="0.286" stop-color="#2797eb"/><stop offset="0.357" stop-color="#2896eb"/><stop offset="0.452" stop-color="#2896eb"/><stop offset="0.595" stop-color="#2896ec"/><stop offset="0.786" stop-color="#2896ec"/><stop offset="1.000" stop-color="#2896ec"/></linearGradient><linearGradient id="b32" gradientUnits="userSpaceOnUse" x1="0" x2="0" y1="0.61935" y2="3.22062"><stop offset="0.000" stop-color="#12beb9"/><stop offset="0.024" stop-color="#03b7cc" stop-opacity="0.19"/><stop offset="0.048" stop-color="#14b0d8" stop-opacity="0.00"/><stop offset="0.071" stop-color="#1caadf" stop-opacity="0.00"/><stop offset="0.107" stop-color="#21a3e4" stop-opacity="0.00"/><stop offset="0.143" stop-color="#249ee6" stop-opacity="0.00"/><stop offset="0.190" stop-color="#259be8" stop-opacity="0.00"/><stop offset="0.238" stop-color="#2699e9" stop-opacity="0.00"/><stop offset="0.286" stop-color="#2798ea" stop-opacity="0.00"/><stop offset="0.357" stop-color="#2797ea" stop-opacity="0.00"/><stop offset="0.452" stop-color="#2797eb" stop-opacity="0.00"/><stop offset="0.595" stop-color="#2797eb" stop-opacity="0.00"/><stop offset="0.786" stop-color="#2797eb" stop-opacity="0.00"/><stop offset="1.000" stop-color="#2797eb" stop-opacity="0.00"/></linearGradient><linearGradient id="v32" gradientUnits="userSpaceOnUse" x1="0" x2="0" y1="0.61935" y2="3.22062"><stop offset="0.000" stop-color="#12beb9"/><stop offset="0.024" stop-color="#03b7cc" stop-opacity="0.19"/><stop offset="0.048" stop-color="#14b0d8" stop-opacity="0.00"/><stop offset="0.071" stop-color="#1caadf" stop-opacity="0.00"/><stop offset="0.107" stop-color="#21a3e4" stop-opacity="0.00"/><stop offset="0.143" stop-color="#249ee6" stop-opacity="0.00"/><stop offset="0.190" stop-color="#259be8" stop-opacity="0.00"/><stop offset="0.238" stop-color="#2699e9" stop-opacity="0.00"/><stop offset="0.286" stop-color="#2798ea" stop-opacity="0.00"/><stop offset="0.357" stop-color="#2797ea" stop-opacity="0.00"/><stop offset="0.452" stop-color="#2797eb" stop-opacity="0.00"/><stop offset="0.595" stop-color="#2797eb" stop-opacity="0.00"/><stop offset="0.786" stop-color="#2797eb" stop-opacity="0.00"/><stop offset="1.000" stop-color="#2797eb" stop-opacity="0.00"/></linearGradient><linearGradient id="b33" gradientUnits="userSpaceOnUse" x1="0" x2="0" y1="0.61935" y2="3.22062"><stop offset="0.000" stop-color="#1ec0b2"/><stop offset="0.024" stop-color="#01b9c7" stop-opacity="0.29"/><stop offset="0.048" stop-color="#0fb2d5" stop-opacity="0.02"/><stop offset="0.071" stop-color="#1aacdd" stop-opacity="0.00"/><stop offset="0.107" stop-color="#20a5e3" stop-opacity="0.00"/><stop offset="0.143" stop-color="#23a0e5" stop-opacity="0.00"/><stop offset="0.190" stop-color="#259ce7" stop-opacity="0.00"/><stop offset="0.238" stop-color="#269ae8" stop-opacity="0.00"/><stop offset="0.286" stop-color="#2699e9" stop-opacity="0.00"/><stop offset="0.357" stop-color="#2699e9" stop-opacity="0.00"/><stop offset="0.452" stop-color="#2798ea" stop-opacity="0.00"/><stop offset="0.595" stop-color="#2798ea" stop-opacity="0.00"/><stop offset="0.786" stop-color="#2798ea" stop-opacity="0.00"/><stop offset="1.000" stop-color="#2798ea" stop-opacity="0.00"/></linearGradient><linearGradient id="v33" gradientUnits="userSpaceOnUse" x1="0" x2="0" y1="0.61935" y2="3.22062"><stop offset="0.000" stop-color="#1ec0b2"/><stop offset="0.024" stop-color="#01b9c7" stop-opacity="0.29"/><stop offset="0.048" stop-color="#0fb2d5" stop-opacity="0.02"/><stop offset="0.071" stop-color="#1aacdd" stop-opacity="0.00"/><stop offset="0.107" stop-color="#20a5e3" stop-opacity="0.00"/><stop offset="0.143" stop-color="#23a0e5" stop-opacity="0.00"/><stop offset="0.190" stop-color="#259ce7" stop-opacity="0.00"/><stop offset="0.238" stop-color="#269ae8" stop-opacity="0.00"/><stop offset="0.286" stop-color="#2699e9" stop-opacity="0.00"/><stop offset="0.357" stop-color="#2699e9" stop-opacity="0.00"/><stop offset="0.452" stop-color="#2798ea" stop-opacity="0.00"/><stop offset="0.595" stop-color="#2798ea" stop-opacity="0.00"/><stop offset="0.786" stop-color="#2798ea" stop-opacity="0.00"/><stop offset="1.000" stop-color="#2798ea" stop-opacity="0.00"/></linearGradient><linearGradient id="b34" gradientUnits="userSpaceOnUse" x1="0" x2="0" y1="0.61935" y2="3.22062"><stop offset="0.000" stop-color="#28c2ab"/><stop offset="0.024" stop-color="#04bbc2" stop-opacity="0.38"/><stop offset="0.048" stop-color="#09b4d1" stop-opacity="0.09"/><stop offset="0.071" stop-color="#17aedb" stop-opacity="0.00"/><stop offset="0.107" stop-color="#1ea7e1" stop-opacity="0.00"/><stop offset="0.143" stop-color="#22a2e4" stop-opacity="0.00"/><stop offset="0.190" stop-color="#249ee6" stop-opacity="0.00"/><stop offset="0.238" stop-color="#259ce7" stop-opacity="0.00"/><stop offset="0.286" stop-color="#269be8" stop-opacity="0.00"/><stop offset="0.357" stop-color="#269ae9" stop-opacity="0.00"/><stop offset="0.452" stop-color="#269ae9" stop-opacity="0.00"/><stop offset="0.595" stop-color="#2699e9" stop-opacity="0.00"/><stop offset="0.786" stop-color="#2699e9" stop-opacity="0.00"/><stop offset="1.000" stop-color="#2699e9" stop-opacity="0.00"/></linearGradient><linearGradient id="v34" gradientUnits="userSpaceOnUse" x1="0" x2="0" y1="0.61935" y2="3.22062"><stop offset="0.000" stop-color="#28c2ab"/><stop offset="0.024" stop-color="#04bbc2" stop-opacity="0.38"/><stop offset="0.048" stop-color="#09b4d1" stop-opacity="0.09"/><stop offset="0.071" stop-color="#17aedb" stop-opacity="0.00"/><stop offset="0.107" stop-color="#1ea7e1" stop-opacity="0.00"/><stop offset="0.143" stop-color="#22a2e4" stop-opacity="0.00"/><stop offset="0.190" stop-color="#249ee6" stop-opacity="0.00"/><stop offset="0.238" stop-color="#259ce7" stop-opacity="0.00"/><stop offset="0.286" stop-color="#269be8" stop-opacity="0.00"/><stop offset="0.357" stop-color="#269ae9" stop-opacity="0.00"/><stop offset="0.452" stop-color="#269ae9" stop-opacity="0.00"/><stop offset="0.595" stop-color="#2699e9" stop-opacity="0.00"/><stop offset="0.786" stop-color="#2699e9" stop-opacity="0.00"/><stop offset="1.000" stop-color="#2699e9" stop-opacity="0.00"/></linearGradient><linearGradient id="b35" gradientUnits="userSpaceOnUse" x1="0" x2="0" y1="0.61935" y2="3.22062"><stop offset="0.000" stop-color="#2ec5a4"/><stop offset="0.024" stop-color="#0bbdbd" stop-opacity="0.48"/><stop offset="0.048" stop-color="#04b6cd" stop-opacity="0.17"/><stop offset="0.071" stop-color="#14b0d8" stop-opacity="0.00"/><stop offset="0.107" stop-color="#1da8e0" stop-opacity="0.00"/><stop offset="0.143" stop-color="#21a3e3" stop-opacity="0.00"/><stop offset="0.190" stop-color="#249fe5" stop-opacity="0.00"/><stop offset="0.238" stop-color="#259de7" stop-opacity="0.00"/><stop offset="0.286" stop-color="#259ce7" stop-opacity="0.00"/><stop offset="0.357" stop-color="#259be8" stop-opacity="0.00"/><stop offset="0.452" stop-color="#259be8" stop-opacity="0.00"/><stop offset="0.595" stop-color="#269be8" stop-opacity="0.00"/><stop offset="0.786" stop-color="#269be8" stop-opacity="0.00"/><stop offset="1.000" stop-color="#269be8" stop-opacity="0.00"/></linearGradient><linearGradient id="v35" gradientUnits="userSpaceOnUse" x1="0" x2="0" y1="0.61935" y2="3.22062"><stop offset="0.000" stop-color="#2ec5a4"/><stop offset="0.024" stop-color="#0bbdbd" stop-opacity="0.48"/><stop offset="0.048" stop-color="#04b6cd" stop-opacity="0.17"/><stop offset="0.071" stop-color="#14b0d8" stop-opacity="0.00"/><stop offset="0.107" stop-color="#1da8e0" stop-opacity="0.00"/><stop offset="0.143" stop-color="#21a3e3" stop-opacity="0.00"/><stop offset="0.190" stop-color="#249fe5" stop-opacity="0.00"/><stop offset="0.238" stop-color="#259de7" stop-opacity="0.00"/><stop offset="0.286" stop-color="#259ce7" stop-opacity="0.00"/><stop offset="0.357" stop-color="#259be8" stop-opacity="0.00"/><stop offset="0.452" stop-color="#259be8" stop-opacity="0.00"/><stop offset="0.595" stop-color="#269be8" stop-opacity="0.00"/><stop offset="0.786" stop-color="#269be8" stop-opacity="0.00"/><stop offset="1.000" stop-color="#269be8" stop-opacity="0.00"/></linearGradient><linearGradient id="b36" gradientUnits="userSpaceOnUse" x1="0" x2="0" y1="0.61935" y2="3.22062"><stop offset="0.000" stop-color="#34c79c"/><stop offset="0.024" stop-color="#16bfb7" stop-opacity="0.57"/><stop offset="0.048" stop-color="#01b8c9" stop-opacity="0.25"/><stop offset="0.071" stop-color="#10b2d5" stop-opacity="0.01"/><stop offset="0.107" stop-color="#1baade" stop-opacity="0.00"/><stop offset="0.143" stop-color="#20a5e2" stop-opacity="0.00"/><stop offset="0.190" stop-color="#23a1e5" stop-opacity="0.00"/><stop offset="0.238" stop-color="#249ee6" stop-opacity="0.00"/><stop offset="0.286" stop-color="#249de6" stop-opacity="0.00"/><stop offset="0.357" stop-color="#259ce7" stop-opacity="0.00"/><stop offset="0.452" stop-color="#259ce7" stop-opacity="0.00"/><stop offset="0.595" stop-color="#259ce7" stop-opacity="0.00"/><stop offset="0.786" stop-color="#259ce7" stop-opacity="0.00"/><stop offset="1.000" stop-color="#259ce7" stop-opacity="0.00"/></linearGradient><linearGradient id="v36" gradientUnits="userSpaceOnUse" x1="0" x2="0" y1="0.61935" y2="3.22062"><stop offset="0.000" stop-color="#34c79c"/><stop offset="0.024" stop-color="#16bfb7" stop-opacity="0.57"/><stop offset="0.048" stop-color="#01b8c9" stop-opacity="0.25"/><stop offset="0.071" stop-color="#10b2d5" stop-opacity="0.01"/><stop offset="0.107" stop-color="#1baade" stop-opacity="0.00"/><stop offset="0.143" stop-color="#20a5e2" stop-opacity="0.00"/><stop offset="0.190" stop-color="#23a1e5" stop-opacity="0.00"/><stop offset="0.238" stop-color="#249ee6" stop-opacity="0.00"/><stop offset="0.286" stop-color="#249de6" stop-opacity="0.00"/><stop offset="0.357" stop-color="#259ce7" stop-opacity="0.00"/><stop offset="0.452" stop-color="#259ce7" stop-opacity="0.00"/><stop offset="0.595" stop-color="#259ce7" stop-opacity="0.00"/><stop offset="0.786" stop-color="#259ce7" stop-opacity="0.00"/><stop offset="1.000" stop-color="#259ce7" stop-opacity="0.00"/></linearGradient><linearGradient id="b37" gradientUnits="userSpaceOnUse" x1="0" x2="0" y1="0.61935" y2="3.22062"><stop offset="0.000" stop-color="#3ac993"/><stop offset="0.024" stop-color="#1fc0b2" stop-opacity="0.67"/><stop offset="0.048" stop-color="#02bac5" stop-opacity="0.33"/><stop offset="0.071" stop-color="#0ab4d2" stop-opacity="0.08"/><stop offset="0.107" stop-color="#1aacdd" stop-opacity="0.00"/><stop offset="0.143" stop-color="#1ea7e1" stop-opacity="0.00"/><stop offset="0.190" stop-color="#22a2e4" stop-opacity="0.00"/><stop offset="0.238" stop-color="#23a0e5" stop-opacity="0.00"/><stop offset="0.286" stop-color="#249ee6" stop-opacity="0.00"/><stop offset="0.357" stop-color="#249de6" stop-opacity="0.00"/><stop offset="0.452" stop-color="#249de7" stop-opacity="0.00"/><stop offset="0.595" stop-color="#259de7" stop-opacity="0.00"/><stop offset="0.786" stop-color="#259de7" stop-opacity="0.00"/><stop offset="1.000" stop-color="#259de7" stop-opacity="0.00"/></linearGradient><linearGradient id="v37" gradientUnits="userSpaceOnUse" x1="0" x2="0" y1="0.61935" y2="3.22062"><stop offset="0.000" stop-color="#3ac993"/><stop offset="0.024" stop-color="#1fc0b2" stop-opacity="0.67"/><stop offset="0.048" stop-color="#02bac5" stop-opacity="0.33"/><stop offset="0.071" stop-color="#0ab4d2" stop-opacity="0.08"/><stop offset="0.107" stop-color="#1aacdd" stop-opacity="0.00"/><stop offset="0.143" stop-color="#1ea7e1" stop-opacity="0.00"/><stop offset="0.190" stop-color="#22a2e4" stop-opacity="0.00"/><stop offset="0.238" stop-color="#23a0e5" stop-opacity="0.00"/><stop offset="0.286" stop-color="#249ee6" stop-opacity="0.00"/><stop offset="0.357" stop-color="#249de6" stop-opacity="0.00"/><stop offset="0.452" stop-color="#249de7" stop-opacity="0.00"/><stop offset="0.595" stop-color="#259de7" stop-opacity="0.00"/><stop offset="0.786" stop-color="#259de7" stop-opacity="0.00"/><stop offset="1.000" stop-color="#259de7" stop-opacity="0.00"/></linearGradient><linearGradient id="b38" gradientUnits="userSpaceOnUse" x1="0" x2="0" y1="0.61935" y2="3.22062"><stop offset="0.000" stop-color="#44ca8a"/><stop offset="0.024" stop-color="#27c2ac" stop-opacity="0.76"/><stop offset="0.048" stop-color="#05bbc1" stop-opacity="0.40"/><stop offset="0.071" stop-color="#06b5cf" stop-opacity="0.14"/><stop offset="0.107" stop-color="#18aedb" stop-opacity="0.00"/><stop offset="0.143" stop-color="#1da8e0" stop-opacity="0.00"/><stop offset="0.190" stop-color="#21a3e3" stop-opacity="0.00"/><stop offset="0.238" stop-color="#23a1e4" stop-opacity="0.00"/><stop offset="0.286" stop-color="#23a0e5" stop-opacity="0.00"/><stop offset="0.357" stop-color="#249fe6" stop-opacity="0.00"/><stop offset="0.452" stop-color="#249ee6" stop-opacity="0.00"/><stop offset="0.595" stop-color="#249ee6" stop-opacity="0.00"/><stop offset="0.786" stop-color="#249ee6" stop-opacity="0.00"/><stop offset="1.000" stop-color="#249ee6" stop-opacity="0.00"/></linearGradient><linearGradient id="v38" gradientUnits="userSpaceOnUse" x1="0" x2="0" y1="0.61935" y2="3.22062"><stop offset="0.000" stop-color="#44ca8a"/><stop offset="0.024" stop-color="#27c2ac" stop-opacity="0.76"/><stop offset="0.048" stop-color="#05bbc1" stop-opacity="0.40"/><stop offset="0.071" stop-color="#06b5cf" stop-opacity="0.14"/><stop offset="0.107" stop-color="#18aedb" stop-opacity="0.00"/><stop offset="0.143" stop-color="#1da8e0" stop-opacity="0.00"/><stop offset="0.190" stop-color="#21a3e3" stop-opacity="0.00"/><stop offset="0.238" stop-color="#23a1e4" stop-opacity="0.00"/><stop offset="0.286" stop-color="#23a0e5" stop-opacity="0.00"/><stop offset="0.357" stop-color="#249fe6" stop-opacity="0.00"/><stop offset="0.452" stop-color="#249ee6" stop-opacity="0.00"/><stop offset="0.595" stop-color="#249ee6" stop-opacity="0.00"/><stop offset="0.786" stop-color="#249ee6" stop-opacity="0.00"/><stop offset="1.000" stop-color="#249ee6" stop-opacity="0.00"/></linearGradient><linearGradient id="b39" gradientUnits="userSpaceOnUse" x1="0" x2="0" y1="0.61935" y2="3.22062"><stop offset="0.000" stop-color="#4fcc80"/><stop offset="0.024" stop-color="#2dc4a6" stop-opacity="0.86"/><stop offset="0.048" stop-color="#0cbdbc" stop-opacity="0.48"/><stop offset="0.071" stop-color="#02b7cb" stop-opacity="0.21"/><stop offset="0.107" stop-color="#15afd9" stop-opacity="0.00"/><stop offset="0.143" stop-color="#1caadf" stop-opacity="0.00"/><stop offset="0.190" stop-color="#20a5e2" stop-opacity="0.00"/><stop offset="0.238" stop-color="#22a2e4" stop-opacity="0.00"/><stop offset="0.286" stop-color="#23a1e4" stop-opacity="0.00"/><stop offset="0.357" stop-color="#23a0e5" stop-opacity="0.00"/><stop offset="0.452" stop-color="#239fe5" stop-opacity="0.00"/><stop offset="0.595" stop-color="#249fe5" stop-opacity="0.00"/><stop offset="0.786" stop-color="#249fe5" stop-opacity="0.00"/><stop offset="1.000" stop-color="#249fe5" stop-opacity="0.00"/></linearGradient><linearGradient id="v39" gradientUnits="userSpaceOnUse" x1="0" x2="0" y1="0.61935" y2="3.22062"><stop offset="0.000" stop-color="#4fcc80"/><stop offset="0.024" stop-color="#2dc4a6" stop-opacity="0.86"/><stop offset="0.048" stop-color="#0cbdbc" stop-opacity="0.48"/><stop offset="0.071" stop-color="#02b7cb" stop-opacity="0.21"/><stop offset="0.107" stop-color="#15afd9" stop-opacity="0.00"/><stop offset="0.143" stop-color="#1caadf" stop-opacity="0.00"/><stop offset="0.190" stop-color="#20a5e2" stop-opacity="0.00"/><stop offset="0.238" stop-color="#22a2e4" stop-opacity="0.00"/><stop offset="0.286" stop-color="#23a1e4" stop-opacity="0.00"/><stop offset="0.357" stop-color="#23a0e5" stop-opacity="0.00"/><stop offset="0.452" stop-color="#239fe5" stop-opacity="0.00"/><stop offset="0.595" stop-color="#249fe5" stop-opacity="0.00"/><stop offset="0.786" stop-color="#249fe5" stop-opacity="0.00"/><stop offset="1.000" stop-color="#249fe5" stop-opacity="0.00"/></linearGradient><linearGradient id="b40" gradientUnits="userSpaceOnUse" x1="0" x2="0" y1="0.61935" y2="3.22062"><stop offset="0.000" stop-color="#5ccc76"/><stop offset="0.024" stop-color="#31c6a0" stop-opacity="0.95"/><stop offset="0.048" stop-color="#14beb8" stop-opacity="0.56"/><stop offset="0.071" stop-color="#01b9c8" stop-opacity="0.27"/><stop offset="0.107" stop-color="#12b1d6" stop-opacity="0.00"/><stop offset="0.143" stop-color="#1aabde" stop-opacity="0.00"/><stop offset="0.190" stop-color="#1fa6e1" stop-opacity="0.00"/><stop offset="0.238" stop-color="#21a3e3" stop-opacity="0.00"/><stop offset="0.286" stop-color="#22a2e4" stop-opacity="0.00"/><stop offset="0.357" stop-color="#22a1e4" stop-opacity="0.00"/><stop offset="0.452" stop-color="#23a1e5" stop-opacity="0.00"/><stop offset="0.595" stop-color="#23a0e5" stop-opacity="0.00"/><stop offset="0.786" stop-color="#23a0e5" stop-opacity="0.00"/><stop offset="1.000" stop-color="#23a0e5" stop-opacity="0.00"/></linearGradient><linearGradient id="v40" gradientUnits="userSpaceOnUse" x1="0" x2="0" y1="0.61935" y2="3.22062"><stop offset="0.000" stop-color="#5ccc76"/><stop offset="0.024" stop-color="#31c6a0" stop-opacity="0.95"/><stop offset="0.048" stop-color="#14beb8" stop-opacity="0.56"/><stop offset="0.071" stop-color="#01b9c8" stop-opacity="0.27"/><stop offset="0.107" stop-color="#12b1d6" stop-opacity="0.00"/><stop offset="0.143" stop-color="#1aabde" stop-opacity="0.00"/><stop offset="0.190" stop-color="#1fa6e1" stop-opacity="0.00"/><stop offset="0.238" stop-color="#21a3e3" stop-opacity="0.00"/><stop offset="0.286" stop-color="#22a2e4" stop-opacity="0.00"/><stop offset="0.357" stop-color="#22a1e4" stop-opacity="0.00"/><stop offset="0.452" stop-color="#23a1e5" stop-opacity="0.00"/><stop offset="0.595" stop-color="#23a0e5" stop-opacity="0.00"/><stop offset="0.786" stop-color="#23a0e5" stop-opacity="0.00"/><stop offset="1.000" stop-color="#23a0e5" stop-opacity="0.00"/></linearGradient><linearGradient id="b41" gradientUnits="userSpaceOnUse" x1="0" x2="0" y1="0.61935" y2="3.22062"><stop offset="0.000" stop-color="#69cd6b"/><stop offset="0.024" stop-color="#35c79a"/><stop offset="0.048" stop-color="#1cc0b3" stop-opacity="0.64"/><stop offset="0.071" stop-color="#02bac4" stop-opacity="0.34"/><stop offset="0.107" stop-color="#0eb2d4" stop-opacity="0.03"/><stop offset="0.143" stop-color="#19addc" stop-opacity="0.00"/><stop offset="0.190" stop-color="#1ea8e1" stop-opacity="0.00"/><stop offset="0.238" stop-color="#20a5e2" stop-opacity="0.00"/><stop offset="0.286" stop-color="#21a3e3" stop-opacity="0.00"/><stop offset="0.357" stop-color="#22a2e4" stop-opacity="0.00"/><stop offset="0.452" stop-color="#22a2e4" stop-opacity="0.00"/><stop offset="0.595" stop-color="#22a2e4" stop-opacity="0.00"/><stop offset="0.786" stop-color="#22a2e4" stop-opacity="0.00"/><stop offset="1.000" stop-color="#22a2e4" stop-opacity="0.00"/></linearGradient><linearGradient id="v41" gradientUnits="userSpaceOnUse" x1="0" x2="0" y1="0.61935" y2="3.22062"><stop offset="0.000" stop-color="#69cd6b"/><stop offset="0.024" stop-color="#35c79a"/><stop offset="0.048" stop-color="#1cc0b3" stop-opacity="0.64"/><stop offset="0.071" stop-color="#02bac4" stop-opacity="0.34"/><stop offset="0.107" stop-color="#0eb2d4" stop-opacity="0.03"/><stop offset="0.143" stop-color="#19addc" stop-opacity="0.00"/><stop offset="0.190" stop-color="#1ea8e1" stop-opacity="0.00"/><stop offset="0.238" stop-color="#20a5e2" stop-opacity="0.00"/><stop offset="0.286" stop-color="#21a3e3" stop-opacity="0.00"/><stop offset="0.357" stop-color="#22a2e4" stop-opacity="0.00"/><stop offset="0.452" stop-color="#22a2e4" stop-opacity="0.00"/><stop offset="0.595" stop-color="#22a2e4" stop-opacity="0.00"/><stop offset="0.786" stop-color="#22a2e4" stop-opacity="0.00"/><stop offset="1.000" stop-color="#22a2e4" stop-opacity="0.00"/></linearGradient><linearGradient id="b42" gradientUnits="userSpaceOnUse" x1="0" x2="0" y1="0.61935" y2="3.22062"><stop offset="0.000" stop-color="#77cc60"/><stop offset="0.024" stop-color="#3bc993"/><stop offset="0.048" stop-color="#23c1af" stop-opacity="0.71"/><stop offset="0.071" stop-color="#05bbc1" stop-opacity="0.40"/><stop offset="0.107" stop-color="#0ab4d1" stop-opacity="0.08"/><stop offset="0.143" stop-color="#17aeda" stop-opacity="0.00"/><stop offset="0.190" stop-color="#1da9e0" stop-opacity="0.00"/><stop offset="0.238" stop-color="#1fa6e2" stop-opacity="0.00"/><stop offset="0.286" stop-color="#20a4e3" stop-opacity="0.00"/><stop offset="0.357" stop-color="#21a3e3" stop-opacity="0.00"/><stop offset="0.452" stop-color="#21a3e3" stop-opacity="0.00"/><stop offset="0.595" stop-color="#21a3e3" stop-opacity="0.00"/><stop offset="0.786" stop-color="#21a3e4" stop-opacity="0.00"/><stop offset="1.000" stop-color="#21a3e4" stop-opacity="0.00"/></linearGradient><linearGradient id="v42" gradientUnits="userSpaceOnUse" x1="0" x2="0" y1="0.61935" y2="3.22062"><stop offset="0.000" stop-color="#77cc60"/><stop offset="0.024" stop-color="#3bc993"/><stop offset="0.048" stop-color="#23c1af" stop-opacity="0.71"/><stop offset="0.071" stop-color="#05bbc1" stop-opacity="0.40"/><stop offset="0.107" stop-color="#0ab4d1" stop-opacity="0.08"/><stop offset="0.143" stop-color="#17aeda" stop-opacity="0.00"/><stop offset="0.190" stop-color="#1da9e0" stop-opacity="0.00"/><stop offset="0.238" stop-color="#1fa6e2" stop-opacity="0.00"/><stop offset="0.286" stop-color="#20a4e3" stop-opacity="0.00"/><stop offset="0.357" stop-color="#21a3e3" stop-opacity="0.00"/><stop offset="0.452" stop-color="#21a3e3" stop-opacity="0.00"/><stop offset="0.595" stop-color="#21a3e3" stop-opacity="0.00"/><stop offset="0.786" stop-color="#21a3e4" stop-opacity="0.00"/><stop offset="1.000" stop-color="#21a3e4" stop-opacity="0.00"/></linearGradient><linearGradient id="b43" gradientUnits="userSpaceOnUse" x1="0" x2="0" y1="0.61935" y2="3.22062"><stop offset="0.000" stop-color="#85cb55"/><stop offset="0.024" stop-color="#42ca8b"/><stop offset="0.048" stop-color="#28c3aa" stop-opacity="0.79"/><stop offset="0.071" stop-color="#0abdbd" stop-opacity="0.47"/><stop offset="0.107" stop-color="#06b5cf" stop-opacity="0.14"/><stop offset="0.143" stop-color="#15afd9" stop-opacity="0.00"/><stop offset="0.190" stop-color="#1baade" stop-opacity="0.00"/><stop offset="0.238" stop-color="#1ea7e1" stop-opacity="0.00"/><stop offset="0.286" stop-color="#1fa6e2" stop-opacity="0.00"/><stop offset="0.357" stop-color="#20a5e3" stop-opacity="0.00"/><stop offset="0.452" stop-color="#20a4e3" stop-opacity="0.00"/><stop offset="0.595" stop-color="#20a4e3" stop-opacity="0.00"/><stop offset="0.786" stop-color="#20a4e3" stop-opacity="0.00"/><stop offset="1.000" stop-color="#20a4e3" stop-opacity="0.00"/></linearGradient><linearGradient id="v43" gradientUnits="userSpaceOnUse" x1="0" x2="0" y1="0.61935" y2="3.22062"><stop offset="0.000" stop-color="#85cb55"/><stop offset="0.024" stop-color="#42ca8b"/><stop offset="0.048" stop-color="#28c3aa" stop-opacity="0.79"/><stop offset="0.071" stop-color="#0abdbd" stop-opacity="0.47"/><stop offset="0.107" stop-color="#06b5cf" stop-opacity="0.14"/><stop offset="0.143" stop-color="#15afd9" stop-opacity="0.00"/><stop offset="0.190" stop-color="#1baade" stop-opacity="0.00"/><stop offset="0.238" stop-color="#1ea7e1" stop-opacity="0.00"/><stop offset="0.286" stop-color="#1fa6e2" stop-opacity="0.00"/><stop offset="0.357" stop-color="#20a5e3" stop-opacity="0.00"/><stop offset="0.452" stop-color="#20a4e3" stop-opacity="0.00"/><stop offset="0.595" stop-color="#20a4e3" stop-opacity="0.00"/><stop offset="0.786" stop-color="#20a4e3" stop-opacity="0.00"/><stop offset="1.000" stop-color="#20a4e3" stop-opacity="0.00"/></linearGradient><linearGradient id="b44" gradientUnits="userSpaceOnUse" x1="0" x2="0" y1="0.61935" y2="3.22062"><stop offset="0.000" stop-color="#94ca4a"/><stop offset="0.024" stop-color="#4dcb82"/><stop offset="0.048" stop-color="#2ec5a4" stop-opacity="0.90"/><stop offset="0.071" stop-color="#14bfb8" stop-opacity="0.56"/><stop offset="0.107" stop-color="#02b7cb" stop-opacity="0.22"/><stop offset="0.143" stop-color="#11b1d6" stop-opacity="0.00"/><stop offset="0.190" stop-color="#1aacdd" stop-opacity="0.00"/><stop offset="0.238" stop-color="#1da9e0" stop-opacity="0.00"/><stop offset="0.286" stop-color="#1ea7e1" stop-opacity="0.00"/><stop offset="0.357" stop-color="#1fa6e2" stop-opacity="0.00"/><stop offset="0.452" stop-color="#1fa5e2" stop-opacity="0.00"/><stop offset="0.595" stop-color="#20a5e2" stop-opacity="0.00"/><stop offset="0.786" stop-color="#20a5e2" stop-opacity="0.00"/><stop offset="1.000" stop-color="#20a5e2" stop-opacity="0.00"/></linearGradient><linearGradient id="v44" gradientUnits="userSpaceOnUse" x1="0" x2="0" y1="0.61935" y2="3.22062"><stop offset="0.000" stop-color="#94ca4a"/><stop offset="0.024" stop-color="#4dcb82"/><stop offset="0.048" stop-color="#2ec5a4" stop-opacity="0.90"/><stop offset="0.071" stop-color="#14bfb8" stop-opacity="0.56"/><stop offset="0.107" stop-color="#02b7cb" stop-opacity="0.22"/><stop offset="0.143" stop-color="#11b1d6" stop-opacity="0.00"/><stop offset="0.190" stop-color="#1aacdd" stop-opacity="0.00"/><stop offset="0.238" stop-color="#1da9e0" stop-opacity="0.00"/><stop offset="0.286" stop-color="#1ea7e1" stop-opacity="0.00"/><stop offset="0.357" stop-color="#1fa6e2" stop-opacity="0.00"/><stop offset="0.452" stop-color="#1fa5e2" stop-opacity="0.00"/><stop offset="0.595" stop-color="#20a5e2" stop-opacity="0.00"/><stop offset="0.786" stop-color="#20a5e2" stop-opacity="0.00"/><stop offset="1.000" stop-color="#20a5e2" stop-opacity="0.00"/></linearGradient><linearGradient id="b45" gradientUnits="userSpaceOnUse" x1="0" x2="0" y1="0.61935" y2="3.22062"><stop offset="0.000" stop-color="#a2c840"/><stop offset="0.024" stop-color="#5bcc76"/><stop offset="0.048" stop-color="#35c79a"/><stop offset="0.071" stop-color="#22c1b0" stop-opacity="0.70"/><stop offset="0.107" stop-color="#02bac4" stop-opacity="0.34"/><stop offset="0.143" stop-color="#08b4d0" stop-opacity="0.10"/><stop offset="0.190" stop-color="#16afd9" stop-opacity="0.00"/><stop offset="0.238" stop-color="#1aabdd" stop-opacity="0.00"/><stop offset="0.286" stop-color="#1ca9e0" stop-opacity="0.00"/><stop offset="0.357" stop-color="#1ea7e1" stop-opacity="0.00"/><stop offset="0.452" stop-color="#1ea6e1" stop-opacity="0.00"/><stop offset="0.595" stop-color="#1fa6e2" stop-opacity="0.00"/><stop offset="0.786" stop-color="#1fa6e2" stop-opacity="0.00"/><stop offset="1.000" stop-color="#1fa6e2" stop-opacity="0.00"/></linearGradient><linearGradient id="v45" gradientUnits="userSpaceOnUse" x1="0" x2="0" y1="0.61935" y2="3.22062"><stop offset="0.000" stop-color="#a2c840"/><stop offset="0.024" stop-color="#5bcc76"/><stop offset="0.048" stop-color="#35c79a"/><stop offset="0.071" stop-color="#22c1b0" stop-opacity="0.70"/><stop offset="0.107" stop-color="#02bac4" stop-opacity="0.34"/><stop offset="0.143" stop-color="#08b4d0" stop-opacity="0.10"/><stop offset="0.190" stop-color="#16afd9" stop-opacity="0.00"/><stop offset="0.238" stop-color="#1aabdd" stop-opacity="0.00"/><stop offset="0.286" stop-color="#1ca9e0" stop-opacity="0.00"/><stop offset="0.357" stop-color="#1ea7e1" stop-opacity="0.00"/><stop offset="0.452" stop-color="#1ea6e1" stop-opacity="0.00"/><stop offset="0.595" stop-color="#1fa6e2" stop-opacity="0.00"/><stop offset="0.786" stop-color="#1fa6e2" stop-opacity="0.00"/><stop offset="1.000" stop-color="#1fa6e2" stop-opacity="0.00"/></linearGradient><linearGradient id="b46" gradientUnits="userSpaceOnUse" x1="0" x2="0" y1="0.61935" y2="3.22062"><stop offset="0.000" stop-color="#afc637"/><stop offset="0.024" stop-color="#6bcd69"/><stop offset="0.048" stop-color="#3eca8f"/><stop offset="0.071" stop-color="#2cc4a7" stop-opacity="0.85"/><stop offset="0.107" stop-color="#0bbdbd" stop-opacity="0.48"/><stop offset="0.143" stop-color="#01b7ca" stop-opacity="0.22"/><stop offset="0.190" stop-color="#10b2d5" stop-opacity="0.01"/><stop offset="0.238" stop-color="#18aedb" stop-opacity="0.00"/><stop offset="0.286" stop-color="#1aabdd" stop-opacity="0.00"/><stop offset="0.357" stop-color="#1ca9e0" stop-opacity="0.00"/><stop offset="0.452" stop-color="#1da8e0" stop-opacity="0.00"/><stop offset="0.595" stop-color="#1ea7e1" stop-opacity="0.00"/><stop offset="0.786" stop-color="#1ea7e1" stop-opacity="0.00"/><stop offset="1.000" stop-color="#1ea7e1" stop-opacity="0.00"/></linearGradient><linearGradient id="v46" gradientUnits="userSpaceOnUse" x1="0" x2="0" y1="0.61935" y2="3.22062"><stop offset="0.000" stop-color="#afc637"/><stop offset="0.024" stop-color="#6bcd69"/><stop offset="0.048" stop-color="#3eca8f"/><stop offset="0.071" stop-color="#2cc4a7" stop-opacity="0.85"/><stop offset="0.107" stop-color="#0bbdbd" stop-opacity="0.48"/><stop offset="0.143" stop-color="#01b7ca" stop-opacity="0.22"/><stop offset="0.190" stop-color="#10b2d5" stop-opacity="0.01"/><stop offset="0.238" stop-color="#18aedb" stop-opacity="0.00"/><stop offset="0.286" stop-color="#1aabdd" stop-opacity="0.00"/><stop offset="0.357" stop-color="#1ca9e0" stop-opacity="0.00"/><stop offset="0.452" stop-color="#1da8e0" stop-opacity="0.00"/><stop offset="0.595" stop-color="#1ea7e1" stop-opacity="0.00"/><stop offset="0.786" stop-color="#1ea7e1" stop-opacity="0.00"/><stop offset="1.000" stop-color="#1ea7e1" stop-opacity="0.00"/></linearGradient><linearGradient id="b47" gradientUnits="userSpaceOnUse" x1="0" x2="0" y1="0.61935" y2="3.22062"><stop offset="0.000" stop-color="#bcc42f"/><stop offset="0.024" stop-color="#7dcc5b"/><stop offset="0.048" stop-color="#4dcc82"/><stop offset="0.071" stop-color="#34c79c"/><stop offset="0.107" stop-color="#1bc0b4" stop-opacity="0.63"/><stop offset="0.143" stop-color="#02bbc3" stop-opacity="0.36"/><stop offset="0.190" stop-color="#07b5d0" stop-opacity="0.10"/><stop offset="0.238" stop-color="#13b1d7" stop-opacity="0.00"/><stop offset="0.286" stop-color="#18aedb" stop-opacity="0.00"/><stop offset="0.357" stop-color="#1babde" stop-opacity="0.00"/><stop offset="0.452" stop-color="#1ca9df" stop-opacity="0.00"/><stop offset="0.595" stop-color="#1da9e0" stop-opacity="0.00"/><stop offset="0.786" stop-color="#1da8e0" stop-opacity="0.00"/><stop offset="1.000" stop-color="#1da8e0" stop-opacity="0.00"/></linearGradient><linearGradient id="v47" gradientUnits="userSpaceOnUse" x1="0" x2="0" y1="0.61935" y2="3.22062"><stop offset="0.000" stop-color="#bcc42f"/><stop offset="0.024" stop-color="#7dcc5b"/><stop offset="0.048" stop-color="#4dcc82"/><stop offset="0.071" stop-color="#34c79c"/><stop offset="0.107" stop-color="#1bc0b4" stop-opacity="0.63"/><stop offset="0.143" stop-color="#02bbc3" stop-opacity="0.36"/><stop offset="0.190" stop-color="#07b5d0" stop-opacity="0.12"/><stop offset="0.238" stop-color="#13b1d7" stop-opacity="0.00"/><stop offset="0.286" stop-color="#18aedb" stop-opacity="0.00"/><stop offset="0.357" stop-color="#1babde" stop-opacity="0.00"/><stop offset="0.452" stop-color="#1ca9df" stop-opacity="0.00"/><stop offset="0.595" stop-color="#1da9e0" stop-opacity="0.00"/><stop offset="0.786" stop-color="#1da8e0" stop-opacity="0.00"/><stop offset="1.000" stop-color="#1da8e0" stop-opacity="0.00"/></linearGradient><linearGradient id="b48" gradientUnits="userSpaceOnUse" x1="0" x2="0" y1="0.61935" y2="3.22062"><stop offset="0.000" stop-color="#c8c129"/><stop offset="0.024" stop-color="#90ca4d"/><stop offset="0.048" stop-color="#5fcd73"/><stop offset="0.071" stop-color="#3eca8f"/><stop offset="0.107" stop-color="#29c3aa" stop-opacity="0.80"/><stop offset="0.143" stop-color="#0fbeba" stop-opacity="0.52"/><stop offset="0.190" stop-color="#01b8c9" stop-opacity="0.21"/><stop offset="0.238" stop-color="#0ab4d2" stop-opacity="0.04"/><stop offset="0.286" stop-color="#13b0d7" stop-opacity="0.00"/><stop offset="0.357" stop-color="#18addb" stop-opacity="0.00"/><stop offset="0.452" stop-color="#1babde" stop-opacity="0.00"/><stop offset="0.595" stop-color="#1caadf" stop-opacity="0.00"/><stop offset="0.786" stop-color="#1ca9df" stop-opacity="0.00"/><stop offset="1.000" stop-color="#1ca9df" stop-opacity="0.00"/></linearGradient><linearGradient id="v48" gradientUnits="userSpaceOnUse" x1="0" x2="0" y1="0.61935" y2="3.22062"><stop offset="0.000" stop-color="#c8c129"/><stop offset="0.024" stop-color="#90ca4d"/><stop offset="0.048" stop-color="#5fcd73"/><stop offset="0.071" stop-color="#3eca8f"/><stop offset="0.107" stop-color="#29c3aa" stop-opacity="0.80"/><stop offset="0.143" stop-color="#0fbeba" stop-opacity="0.52"/><stop offset="0.190" stop-color="#01b8c9" stop-opacity="0.25"/><stop offset="0.238" stop-color="#0ab4d2" stop-opacity="0.08"/><stop offset="0.286" stop-color="#13b0d7" stop-opacity="0.00"/><stop offset="0.357" stop-color="#18addb" stop-opacity="0.00"/><stop offset="0.452" stop-color="#1babde" stop-opacity="0.00"/><stop offset="0.595" stop-color="#1caadf" stop-opacity="0.00"/><stop offset="0.786" stop-color="#1ca9df" stop-opacity="0.00"/><stop offset="1.000" stop-color="#1ca9df" stop-opacity="0.00"/></linearGradient><linearGradient id="b49" gradientUnits="userSpaceOnUse" x1="0" x2="0" y1="0.61935" y2="3.22062"><stop offset="0.000" stop-color="#d4bf28"/><stop offset="0.024" stop-color="#a2c83f"/><stop offset="0.048" stop-color="#73cd63"/><stop offset="0.071" stop-color="#4fcc80"/><stop offset="0.107" stop-color="#33c69e" stop-opacity="0.99"/><stop offset="0.143" stop-color="#22c1b0" stop-opacity="0.70"/><stop offset="0.190" stop-color="#06bcc0" stop-opacity="0.34"/><stop offset="0.238" stop-color="#02b7cb" stop-opacity="0.11"/><stop offset="0.286" stop-color="#0ab4d2" stop-opacity="0.01"/><stop offset="0.357" stop-color="#14b0d8" stop-opacity="0.00"/><stop offset="0.452" stop-color="#18addb" stop-opacity="0.00"/><stop offset="0.595" stop-color="#1aabdd" stop-opacity="0.00"/><stop offset="0.786" stop-color="#1babde" stop-opacity="0.00"/><stop offset="1.000" stop-color="#1baade" stop-opacity="0.00"/></linearGradient><linearGradient id="v49" gradientUnits="userSpaceOnUse" x1="0" x2="0" y1="0.61935" y2="3.22062"><stop offset="0.000" stop-color="#d4bf28"/><stop offset="0.024" stop-color="#a2c83f"/><stop offset="0.048" stop-color="#73cd63"/><stop offset="0.071" stop-color="#4fcc80"/><stop offset="0.107" stop-color="#33c69e" stop-opacity="0.99"/><stop offset="0.143" stop-color="#22c1b0" stop-opacity="0.70"/><stop offset="0.190" stop-color="#06bcc0" stop-opacity="0.41"/><stop offset="0.238" stop-color="#02b7cb" stop-opacity="0.22"/><stop offset="0.286" stop-color="#0ab4d2" stop-opacity="0.08"/><stop offset="0.357" stop-color="#14b0d8" stop-opacity="0.00"/><stop offset="0.452" stop-color="#18addb" stop-opacity="0.00"/><stop offset="0.595" stop-color="#1aabdd" stop-opacity="0.00"/><stop offset="0.786" stop-color="#1babde" stop-opacity="0.00"/><stop offset="1.000" stop-color="#1baade" stop-opacity="0.00"/></linearGradient><linearGradient id="b50" gradientUnits="userSpaceOnUse" x1="0" x2="0" y1="0.61935" y2="3.22062"><stop offset="0.000" stop-color="#debc2a"/><stop offset="0.024" stop-color="#b4c533"/><stop offset="0.048" stop-color="#8acb51"/><stop offset="0.071" stop-color="#65cd6e"/><stop offset="0.107" stop-color="#3fca8e"/><stop offset="0.143" stop-color="#2fc5a3" stop-opacity="0.91"/><stop offset="0.190" stop-color="#19bfb5" stop-opacity="0.50"/><stop offset="0.238" stop-color="#04bbc2" stop-opacity="0.19"/><stop offset="0.286" stop-color="#01b7ca" stop-opacity="0.04"/><stop offset="0.357" stop-color="#0bb3d2" stop-opacity="0.00"/><stop offset="0.452" stop-color="#14b0d8" stop-opacity="0.00"/><stop offset="0.595" stop-color="#18addb" stop-opacity="0.00"/><stop offset="0.786" stop-color="#1aacdd" stop-opacity="0.00"/><stop offset="1.000" stop-color="#1aacdd" stop-opacity="0.00"/></linearGradient><linearGradient id="v50" gradientUnits="userSpaceOnUse" x1="0" x2="0" y1="0.61935" y2="3.22062"><stop offset="0.000" stop-color="#debc2a"/><stop offset="0.024" stop-color="#b4c533"/><stop offset="0.048" stop-color="#8acb51"/><stop offset="0.071" stop-color="#65cd6e"/><stop offset="0.107" stop-color="#3fca8e"/><stop offset="0.143" stop-color="#2fc5a3" stop-opacity="0.91"/><stop offset="0.190" stop-color="#19bfb5" stop-opacity="0.60"/><stop offset="0.238" stop-color="#04bbc2" stop-opacity="0.38"/><stop offset="0.286" stop-color="#01b7ca" stop-opacity="0.23"/><stop offset="0.357" stop-color="#0bb3d2" stop-opacity="0.07"/><stop offset="0.452" stop-color="#14b0d8" stop-opacity="0.00"/><stop offset="0.595" stop-color="#18addb" stop-opacity="0.00"/><stop offset="0.786" stop-color="#1aacdd" stop-opacity="0.00"/><stop offset="1.000" stop-color="#1aacdd" stop-opacity="0.00"/></linearGradient><linearGradient id="b51" gradientUnits="userSpaceOnUse" x1="0" x2="0" y1="0.61935" y2="3.22062"><stop offset="0.000" stop-color="#e8bb2f"/><stop offset="0.024" stop-color="#c6c22a"/><stop offset="0.048" stop-color="#a2c83f"/><stop offset="0.071" stop-color="#80cc59"/><stop offset="0.107" stop-color="#56cc7b"/><stop offset="0.143" stop-color="#3bc993"/><stop offset="0.190" stop-color="#2bc3a8" stop-opacity="0.69"/><stop offset="0.238" stop-color="#18bfb6" stop-opacity="0.30"/><stop offset="0.286" stop-color="#06bcc0" stop-opacity="0.07"/><stop offset="0.357" stop-color="#02b7cb" stop-opacity="0.00"/><stop offset="0.452" stop-color="#0cb3d3" stop-opacity="0.00"/><stop offset="0.595" stop-color="#14b0d8" stop-opacity="0.00"/><stop offset="0.786" stop-color="#18aedb" stop-opacity="0.00"/><stop offset="1.000" stop-color="#19addc" stop-opacity="0.00"/></linearGradient><linearGradient id="v51" gradientUnits="userSpaceOnUse" x1="0" x2="0" y1="0.61935" y2="3.22062"><stop offset="0.000" stop-color="#e8bb2f"/><stop offset="0.024" stop-color="#c6c22a"/><stop offset="0.048" stop-color="#a2c83f"/><stop offset="0.071" stop-color="#80cc59"/><stop offset="0.107" stop-color="#56cc7b"/><stop offset="0.143" stop-color="#3bc993"/><stop offset="0.190" stop-color="#2bc3a8" stop-opacity="0.83"/><stop offset="0.238" stop-color="#18bfb6" stop-opacity="0.59"/><stop offset="0.286" stop-color="#06bcc0" stop-opacity="0.41"/><stop offset="0.357" stop-color="#02b7cb" stop-opacity="0.22"/><stop offset="0.452" stop-color="#0cb3d3" stop-opacity="0.06"/><stop offset="0.595" stop-color="#14b0d8" stop-opacity="0.00"/><stop offset="0.786" stop-color="#18aedb" stop-opacity="0.00"/><stop offset="1.000" stop-color="#19addc" stop-opacity="0.00"/></linearGradient><linearGradient id="b52" gradientUnits="userSpaceOnUse" x1="0" x2="0" y1="0.61935" y2="3.22062"><stop offset="0.000" stop-color="#f1ba37"/><stop offset="0.024" stop-color="#d7be28"/><stop offset="0.048" stop-color="#bac430"/><stop offset="0.071" stop-color="#9dc943"/><stop offset="0.107" stop-color="#74cc62"/><stop offset="0.143" stop-color="#54cc7c"/><stop offset="0.190" stop-color="#39c895" stop-opacity="0.83"/><stop offset="0.238" stop-color="#2dc4a6" stop-opacity="0.43"/><stop offset="0.286" stop-color="#1ec0b2" stop-opacity="0.11"/><stop offset="0.357" stop-color="#08bcbf" stop-opacity="0.00"/><stop offset="0.452" stop-color="#01b8ca" stop-opacity="0.00"/><stop offset="0.595" stop-color="#0cb3d3" stop-opacity="0.00"/><stop offset="0.786" stop-color="#14b0d8" stop-opacity="0.00"/><stop offset="1.000" stop-color="#17aeda" stop-opacity="0.00"/></linearGradient><linearGradient id="v52" gradientUnits="userSpaceOnUse" x1="0" x2="0" y1="0.61935" y2="3.22062"><stop offset="0.000" stop-color="#f1ba37"/><stop offset="0.024" stop-color="#d7be28"/><stop offset="0.048" stop-color="#bac430"/><stop offset="0.071" stop-color="#9dc943"/><stop offset="0.107" stop-color="#74cc62"/><stop offset="0.143" stop-color="#54cc7c"/><stop offset="0.190" stop-color="#39c895"/><stop offset="0.238" stop-color="#2dc4a6" stop-opacity="0.86"/><stop offset="0.286" stop-color="#1ec0b2" stop-opacity="0.66"/><stop offset="0.357" stop-color="#08bcbf" stop-opacity="0.43"/><stop offset="0.452" stop-color="#01b8ca" stop-opacity="0.23"/><stop offset="0.595" stop-color="#0cb3d3" stop-opacity="0.05"/><stop offset="0.786" stop-color="#14b0d8" stop-opacity="0.00"/><stop offset="1.000" stop-color="#17aeda" stop-opacity="0.00"/></linearGradient><linearGradient id="v53" gradientUnits="userSpaceOnUse" x1="0" x2="0" y1="0.61935" y2="3.22062"><stop offset="0.000" stop-color="#f9bb3d"/><stop offset="0.024" stop-color="#e6bb2d"/><stop offset="0.048" stop-color="#d1bf27"/><stop offset="0.071" stop-color="#bac430"/><stop offset="0.107" stop-color="#99c946"/><stop offset="0.143" stop-color="#79cc5e"/><stop offset="0.190" stop-color="#57cc7a"/><stop offset="0.238" stop-color="#3fca8e"/><stop offset="0.286" stop-color="#33c69e" stop-opacity="0.99"/><stop offset="0.357" stop-color="#25c2ad" stop-opacity="0.74"/><stop offset="0.452" stop-color="#0cbdbc" stop-opacity="0.49"/><stop offset="0.595" stop-color="#01b8c9" stop-opacity="0.25"/><stop offset="0.786" stop-color="#0bb3d2" stop-opacity="0.07"/><stop offset="1.000" stop-color="#12b1d7" stop-opacity="0.00"/></linearGradient><linearGradient id="v54" gradientUnits="userSpaceOnUse" x1="0" x2="0" y1="0.61935" y2="3.22062"><stop offset="0.000" stop-color="#febe3c"/><stop offset="0.024" stop-color="#f3ba38"/><stop offset="0.048" stop-color="#e3bc2c"/><stop offset="0.071" stop-color="#d2bf27"/><stop offset="0.107" stop-color="#b8c431"/><stop offset="0.143" stop-color="#9ec942"/><stop offset="0.190" stop-color="#7dcc5c"/><stop offset="0.238" stop-color="#60cd72"/><stop offset="0.286" stop-color="#4acb84"/><stop offset="0.357" stop-color="#36c898"/><stop offset="0.452" stop-color="#28c3aa" stop-opacity="0.79"/><stop offset="0.595" stop-color="#0dbdbc" stop-opacity="0.50"/><stop offset="0.786" stop-color="#01b8c9" stop-opacity="0.25"/><stop offset="1.000" stop-color="#08b4d1" stop-opacity="0.10"/></linearGradient><linearGradient id="v55" gradientUnits="userSpaceOnUse" x1="0" x2="0" y1="0.61935" y2="3.22062"><stop offset="0.000" stop-color="#fec437"/><stop offset="0.024" stop-color="#fabb3d"/><stop offset="0.048" stop-color="#ecba32"/><stop offset="0.071" stop-color="#dcbd29"/><stop offset="0.107" stop-color="#c2c22c"/><stop offset="0.143" stop-color="#a8c73b"/><stop offset="0.190" stop-color="#86cb54"/><stop offset="0.238" stop-color="#69cd6b"/><stop offset="0.286" stop-color="#52cc7e"/><stop offset="0.357" stop-color="#3ac994"/><stop offset="0.452" stop-color="#2cc4a7" stop-opacity="0.84"/><stop offset="0.595" stop-color="#12beb9" stop-opacity="0.54"/><stop offset="0.786" stop-color="#01b9c7" stop-opacity="0.29"/><stop offset="1.000" stop-color="#06b5cf" stop-opacity="0.14"/></linearGradient><linearGradient id="v56" gradientUnits="userSpaceOnUse" x1="0" x2="0" y1="0.61935" y2="3.22062"><stop offset="0.000" stop-color="#feca33"/><stop offset="0.024" stop-color="#febf3b"/><stop offset="0.048" stop-color="#f3ba39"/><stop offset="0.071" stop-color="#e4bb2c"/><stop offset="0.107" stop-color="#ccc028"/><stop offset="0.143" stop-color="#b2c635"/><stop offset="0.190" stop-color="#90ca4d"/><stop offset="0.238" stop-color="#71cd64"/><stop offset="0.286" stop-color="#59cc78"/><stop offset="0.357" stop-color="#3eca8f"/><stop offset="0.452" stop-color="#2ec5a4" stop-opacity="0.90"/><stop offset="0.595" stop-color="#17bfb6" stop-opacity="0.59"/><stop offset="0.786" stop-color="#02bac5" stop-opacity="0.33"/><stop offset="1.000" stop-color="#04b6cd" stop-opacity="0.17"/></linearGradient><linearGradient id="v57" gradientUnits="userSpaceOnUse" x1="0" x2="0" y1="0.61935" y2="3.22062"><stop offset="0.000" stop-color="#fcd030"/><stop offset="0.024" stop-color="#fec437"/><stop offset="0.048" stop-color="#fabb3d"/><stop offset="0.071" stop-color="#ecba33"/><stop offset="0.107" stop-color="#d5be28"/><stop offset="0.143" stop-color="#bbc42f"/><stop offset="0.190" stop-color="#9ac946"/><stop offset="0.238" stop-color="#7acc5d"/><stop offset="0.286" stop-color="#60cd72"/><stop offset="0.357" stop-color="#43ca8b"/><stop offset="0.452" stop-color="#31c6a0" stop-opacity="0.95"/><stop offset="0.595" stop-color="#1cc0b4" stop-opacity="0.63"/><stop offset="0.786" stop-color="#03bbc3" stop-opacity="0.37"/><stop offset="1.000" stop-color="#02b7cb" stop-opacity="0.21"/></linearGradient><linearGradient id="v58" gradientUnits="userSpaceOnUse" x1="0" x2="0" y1="0.61935" y2="3.22062"><stop offset="0.000" stop-color="#f9d62d"/><stop offset="0.024" stop-color="#feca33"/><stop offset="0.048" stop-color="#febf3b"/><stop offset="0.071" stop-color="#f4ba39"/><stop offset="0.107" stop-color="#ddbd29"/><stop offset="0.143" stop-color="#c5c22a"/><stop offset="0.190" stop-color="#a3c83f"/><stop offset="0.238" stop-color="#84cc57"/><stop offset="0.286" stop-color="#68cd6c"/><stop offset="0.357" stop-color="#49cb86"/><stop offset="0.452" stop-color="#33c79d"/><stop offset="0.595" stop-color="#20c1b1" stop-opacity="0.68"/><stop offset="0.786" stop-color="#06bcc0" stop-opacity="0.41"/><stop offset="1.000" stop-color="#01b8c9" stop-opacity="0.24"/></linearGradient><linearGradient id="v59" gradientUnits="userSpaceOnUse" x1="0" x2="0" y1="0.61935" y2="3.22062"><stop offset="0.000" stop-color="#f7dd2a"/><stop offset="0.024" stop-color="#fcd030"/><stop offset="0.048" stop-color="#fec438"/><stop offset="0.071" stop-color="#fabb3d"/><stop offset="0.107" stop-color="#e5bb2d"/><stop offset="0.143" stop-color="#cdc028"/><stop offset="0.190" stop-color="#acc738"/><stop offset="0.238" stop-color="#8ccb50"/><stop offset="0.286" stop-color="#6fcd65"/><stop offset="0.357" stop-color="#4fcc81"/><stop offset="0.452" stop-color="#36c799"/><stop offset="0.595" stop-color="#24c1ae" stop-opacity="0.72"/><stop offset="0.786" stop-color="#09bcbe" stop-opacity="0.45"/><stop offset="1.000" stop-color="#01b9c8" stop-opacity="0.28"/></linearGradient><linearGradient id="v60" gradientUnits="userSpaceOnUse" x1="0" x2="0" y1="0.61935" y2="3.22062"><stop offset="0.000" stop-color="#f5e327"/><stop offset="0.024" stop-color="#fad62d"/><stop offset="0.048" stop-color="#fec934"/><stop offset="0.071" stop-color="#febf3c"/><stop offset="0.107" stop-color="#ecba33"/><stop offset="0.143" stop-color="#d6be28"/><stop offset="0.190" stop-color="#b5c533"/><stop offset="0.238" stop-color="#95ca49"/><stop offset="0.286" stop-color="#78cc5f"/><stop offset="0.357" stop-color="#55cc7b"/><stop offset="0.452" stop-color="#39c895"/><stop offset="0.595" stop-color="#27c2ac" stop-opacity="0.77"/><stop offset="0.786" stop-color="#0cbdbc" stop-opacity="0.49"/><stop offset="1.000" stop-color="#01b9c6" stop-opacity="0.31"/></linearGradient><linearGradient id="v61" gradientUnits="userSpaceOnUse" x1="0" x2="0" y1="0.61935" y2="3.22062"><stop offset="0.000" stop-color="#f5e924"/><stop offset="0.024" stop-color="#f7dc2a"/><stop offset="0.048" stop-color="#fccf30"/><stop offset="0.071" stop-color="#fec338"/><stop offset="0.107" stop-color="#f3ba39"/><stop offset="0.143" stop-color="#debd29"/><stop offset="0.190" stop-color="#bec32e"/><stop offset="0.238" stop-color="#9ec942"/><stop offset="0.286" stop-color="#80cc59"/><stop offset="0.357" stop-color="#5ccc76"/><stop offset="0.452" stop-color="#3cc991"/><stop offset="0.595" stop-color="#2ac3a9" stop-opacity="0.82"/><stop offset="0.786" stop-color="#10beba" stop-opacity="0.53"/><stop offset="1.000" stop-color="#02bac4" stop-opacity="0.35"/></linearGradient><linearGradient id="k2l" gradientUnits="userSpaceOnUse" x1="1060.35" x2="420.5" y1="0" y2="0"><stop offset="0.0931" stop-color="#fff" stop-opacity="0.000"/><stop offset="0.1266" stop-color="#fff" stop-opacity="0.156"/><stop offset="0.1601" stop-color="#fff" stop-opacity="0.500"/><stop offset="0.1936" stop-color="#fff" stop-opacity="0.844"/><stop offset="0.2272" stop-color="#fff" stop-opacity="1.000"/></linearGradient><linearGradient id="k2r" gradientUnits="userSpaceOnUse" x1="1060.35" x2="1699" y1="0" y2="0"><stop offset="0.0933" stop-color="#fff" stop-opacity="0.000"/><stop offset="0.1269" stop-color="#fff" stop-opacity="0.156"/><stop offset="0.1604" stop-color="#fff" stop-opacity="0.500"/><stop offset="0.1940" stop-color="#fff" stop-opacity="0.844"/><stop offset="0.2276" stop-color="#fff" stop-opacity="1.000"/></linearGradient><mask id="k2" maskUnits="userSpaceOnUse" x="420.5" y="58.8" width="1278.5" height="1242.7"><rect x="420.5" y="58.8" width="639.85" height="1242.7" fill="url(#k2l)"/><rect x="1060.35" y="58.8" width="638.65" height="1242.7" fill="url(#k2r)"/></mask><linearGradient id="k3l" gradientUnits="userSpaceOnUse" x1="1060.35" x2="420.5" y1="0" y2="0"><stop offset="0.4876" stop-color="#fff" stop-opacity="0.000"/><stop offset="0.5414" stop-color="#fff" stop-opacity="0.156"/><stop offset="0.5951" stop-color="#fff" stop-opacity="0.500"/><stop offset="0.6489" stop-color="#fff" stop-opacity="0.844"/><stop offset="0.7026" stop-color="#fff" stop-opacity="1.000"/></linearGradient><linearGradient id="k3r" gradientUnits="userSpaceOnUse" x1="1060.35" x2="1699" y1="0" y2="0"><stop offset="0.4885" stop-color="#fff" stop-opacity="0.000"/><stop offset="0.5424" stop-color="#fff" stop-opacity="0.156"/><stop offset="0.5962" stop-color="#fff" stop-opacity="0.500"/><stop offset="0.6501" stop-color="#fff" stop-opacity="0.844"/><stop offset="0.7040" stop-color="#fff" stop-opacity="1.000"/></linearGradient><mask id="k3" maskUnits="userSpaceOnUse" x="420.5" y="58.8" width="1278.5" height="1242.7"><rect x="420.5" y="58.8" width="639.85" height="1242.7" fill="url(#k3l)"/><rect x="1060.35" y="58.8" width="638.65" height="1242.7" fill="url(#k3r)"/></mask>
<g id="ma0"><use href="#c2" transform="scale(1,1.00000)" stroke="#3a73fe"/><use href="#c2" transform="scale(1,1.00109)" stroke="#416bfe"/><use href="#c2" transform="scale(1,1.00218)" stroke="#465ffb"/><use href="#c2" transform="scale(1,1.00327)" stroke="#4851f3"/><use href="#c2" transform="scale(1,1.00436)" stroke="#4742e6"/><use href="#c2" transform="scale(1,1.00545)" stroke="#4538d7"/><use href="#c2" transform="scale(1,1.00655)" stroke="#4434cf"/><use href="#c2" transform="scale(1,1.00765)" stroke="#4536d4"/><use href="#c2" transform="scale(1,1.00874)" stroke="#463ee1"/><use href="#c2" transform="scale(1,1.00984)" stroke="#4848ec"/><use href="#c2" transform="scale(1,1.01094)" stroke="#4853f4"/><use href="#c2" transform="scale(1,1.01204)" stroke="#475af9"/><use href="#c2" transform="scale(1,1.01314)" stroke="#4660fb"/><use href="#c2" transform="scale(1,1.01424)" stroke="#4563fc"/><use href="#c2" transform="scale(1,1.01535)" stroke="#4465fd"/><use href="#c2" transform="scale(1,1.01645)" stroke="#4368fd"/><use href="#c2" transform="scale(1,1.01756)" stroke="#426afe"/><use href="#c2" transform="scale(1,1.01867)" stroke="#406dfe"/><use href="#c2" transform="scale(1,1.01978)" stroke="#3e6fff"/><use href="#c2" transform="scale(1,1.02089)" stroke="#3b72fe"/><use href="#c2" transform="scale(1,1.02200)" stroke="#3875fe"/><use href="#c2" transform="scale(1,1.02311)" stroke="#3678fe"/><use href="#c2" transform="scale(1,1.02422)" stroke="#3479fd"/><use href="#c2" transform="scale(1,1.02534)" stroke="#347afd"/><use href="#c2" transform="scale(1,1.02646)" stroke="#3678fd"/></g><g id="ma1"><use href="#c2" transform="scale(1,1.00000)" stroke="#2e84f8"/><use href="#c2" transform="scale(1,1.00109)" stroke="#327cfc"/><use href="#c2" transform="scale(1,1.00218)" stroke="#3e70ff"/><use href="#c2" transform="scale(1,1.00327)" stroke="#4661fc"/><use href="#c2" transform="scale(1,1.00436)" stroke="#4852f4"/><use href="#c2" transform="scale(1,1.00545)" stroke="#4747eb"/><use href="#c2" transform="scale(1,1.00655)" stroke="#4743e7"/><use href="#c2" transform="scale(1,1.00765)" stroke="#4745e9"/><use href="#c2" transform="scale(1,1.00874)" stroke="#484ef1"/><use href="#c2" transform="scale(1,1.00984)" stroke="#4758f8"/><use href="#c2" transform="scale(1,1.01094)" stroke="#4563fc"/><use href="#c2" transform="scale(1,1.01204)" stroke="#416bfe"/><use href="#c2" transform="scale(1,1.01314)" stroke="#3d70ff"/><use href="#c2" transform="scale(1,1.01424)" stroke="#3a74fe"/><use href="#c2" transform="scale(1,1.01535)" stroke="#3777fe"/><use href="#c2" transform="scale(1,1.01645)" stroke="#3579fd"/><use href="#c2" transform="scale(1,1.01756)" stroke="#327bfc"/><use href="#c2" transform="scale(1,1.01867)" stroke="#317efb"/><use href="#c2" transform="scale(1,1.01978)" stroke="#2f81fa"/><use href="#c2" transform="scale(1,1.02089)" stroke="#2e83f9"/><use href="#c2" transform="scale(1,1.02200)" stroke="#2e86f7"/><use href="#c2" transform="scale(1,1.02311)" stroke="#2d88f6"/><use href="#c2" transform="scale(1,1.02422)" stroke="#2d89f5"/><use href="#c2" transform="scale(1,1.02534)" stroke="#2d8af5"/><use href="#c2" transform="scale(1,1.02646)" stroke="#2d88f6"/></g><g id="ma2"><use href="#c2" transform="scale(1,1.00000)" stroke="#2b92ee"/><use href="#c2" transform="scale(1,1.00109)" stroke="#2d8af4"/><use href="#c2" transform="scale(1,1.00218)" stroke="#307ffb"/><use href="#c2" transform="scale(1,1.00327)" stroke="#3e6fff"/><use href="#c2" transform="scale(1,1.00436)" stroke="#4660fc"/><use href="#c2" transform="scale(1,1.00545)" stroke="#4755f6"/><use href="#c2" transform="scale(1,1.00655)" stroke="#4851f3"/><use href="#c2" transform="scale(1,1.00765)" stroke="#4854f5"/><use href="#c2" transform="scale(1,1.00874)" stroke="#475cfa"/><use href="#c2" transform="scale(1,1.00984)" stroke="#4367fd"/><use href="#c2" transform="scale(1,1.01094)" stroke="#3c72ff"/><use href="#c2" transform="scale(1,1.01204)" stroke="#337afd"/><use href="#c2" transform="scale(1,1.01314)" stroke="#3080fb"/><use href="#c2" transform="scale(1,1.01424)" stroke="#2e83f9"/><use href="#c2" transform="scale(1,1.01535)" stroke="#2e85f8"/><use href="#c2" transform="scale(1,1.01645)" stroke="#2d87f6"/><use href="#c2" transform="scale(1,1.01756)" stroke="#2d8af5"/><use href="#c2" transform="scale(1,1.01867)" stroke="#2d8cf3"/><use href="#c2" transform="scale(1,1.01978)" stroke="#2c8ef1"/><use href="#c2" transform="scale(1,1.02089)" stroke="#2b91ef"/><use href="#c2" transform="scale(1,1.02200)" stroke="#2a93ed"/><use href="#c2" transform="scale(1,1.02311)" stroke="#2895ec"/><use href="#c2" transform="scale(1,1.02422)" stroke="#2796eb"/><use href="#c2" transform="scale(1,1.02534)" stroke="#2797eb"/><use href="#c2" transform="scale(1,1.02646)" stroke="#2895ec"/></g><g id="ma3"><use href="#c2" transform="scale(1,1.00000)" stroke="#23a1e4"/><use href="#c2" transform="scale(1,1.00109)" stroke="#269ae8"/><use href="#c2" transform="scale(1,1.00218)" stroke="#2b90f0"/><use href="#c2" transform="scale(1,1.00327)" stroke="#2f83f9"/><use href="#c2" transform="scale(1,1.00436)" stroke="#3a73fe"/><use href="#c2" transform="scale(1,1.00545)" stroke="#4367fd"/><use href="#c2" transform="scale(1,1.00655)" stroke="#4563fc"/><use href="#c2" transform="scale(1,1.00765)" stroke="#4465fd"/><use href="#c2" transform="scale(1,1.00874)" stroke="#3f6eff"/><use href="#c2" transform="scale(1,1.00984)" stroke="#337afd"/><use href="#c2" transform="scale(1,1.01094)" stroke="#2e84f8"/><use href="#c2" transform="scale(1,1.01204)" stroke="#2d8cf3"/><use href="#c2" transform="scale(1,1.01314)" stroke="#2b91ef"/><use href="#c2" transform="scale(1,1.01424)" stroke="#2994ed"/><use href="#c2" transform="scale(1,1.01535)" stroke="#2896ec"/><use href="#c2" transform="scale(1,1.01645)" stroke="#2798ea"/><use href="#c2" transform="scale(1,1.01756)" stroke="#269ae9"/><use href="#c2" transform="scale(1,1.01867)" stroke="#259ce7"/><use href="#c2" transform="scale(1,1.01978)" stroke="#249ee6"/><use href="#c2" transform="scale(1,1.02089)" stroke="#23a0e5"/><use href="#c2" transform="scale(1,1.02200)" stroke="#22a2e4"/><use href="#c2" transform="scale(1,1.02311)" stroke="#20a4e3"/><use href="#c2" transform="scale(1,1.02422)" stroke="#1fa5e2"/><use href="#c2" transform="scale(1,1.02534)" stroke="#1fa6e2"/><use href="#c2" transform="scale(1,1.02646)" stroke="#20a4e3"/></g><g id="ma4"><use href="#c2" transform="scale(1,1.00000)" stroke="#12b1d6"/><use href="#c2" transform="scale(1,1.00109)" stroke="#1aacdd"/><use href="#c2" transform="scale(1,1.00218)" stroke="#21a3e4"/><use href="#c2" transform="scale(1,1.00327)" stroke="#2796eb"/><use href="#c2" transform="scale(1,1.00436)" stroke="#2d89f5"/><use href="#c2" transform="scale(1,1.00545)" stroke="#307efb"/><use href="#c2" transform="scale(1,1.00655)" stroke="#347afd"/><use href="#c2" transform="scale(1,1.00765)" stroke="#327dfc"/><use href="#c2" transform="scale(1,1.00874)" stroke="#2e85f8"/><use href="#c2" transform="scale(1,1.00984)" stroke="#2c8ff1"/><use href="#c2" transform="scale(1,1.01094)" stroke="#2798ea"/><use href="#c2" transform="scale(1,1.01204)" stroke="#249fe6"/><use href="#c2" transform="scale(1,1.01314)" stroke="#21a3e3"/><use href="#c2" transform="scale(1,1.01424)" stroke="#1fa6e2"/><use href="#c2" transform="scale(1,1.01535)" stroke="#1ea8e1"/><use href="#c2" transform="scale(1,1.01645)" stroke="#1ca9df"/><use href="#c2" transform="scale(1,1.01756)" stroke="#1babde"/><use href="#c2" transform="scale(1,1.01867)" stroke="#19addc"/><use href="#c2" transform="scale(1,1.01978)" stroke="#16afd9"/><use href="#c2" transform="scale(1,1.02089)" stroke="#13b0d7"/><use href="#c2" transform="scale(1,1.02200)" stroke="#0fb2d5"/><use href="#c2" transform="scale(1,1.02311)" stroke="#0bb3d2"/><use href="#c2" transform="scale(1,1.02422)" stroke="#09b4d1"/><use href="#c2" transform="scale(1,1.02534)" stroke="#08b4d0"/><use href="#c2" transform="scale(1,1.02646)" stroke="#0ab4d2"/></g><g id="ma5"><use href="#c2" transform="scale(1,1.00000)" stroke="#19bfb5"/><use href="#c2" transform="scale(1,1.00109)" stroke="#08bcbf"/><use href="#c2" transform="scale(1,1.00218)" stroke="#04b6cd"/><use href="#c2" transform="scale(1,1.00327)" stroke="#18addb"/><use href="#c2" transform="scale(1,1.00436)" stroke="#22a2e4"/><use href="#c2" transform="scale(1,1.00545)" stroke="#2699e9"/><use href="#c2" transform="scale(1,1.00655)" stroke="#2895ec"/><use href="#c2" transform="scale(1,1.00765)" stroke="#2797ea"/><use href="#c2" transform="scale(1,1.00874)" stroke="#249fe6"/><use href="#c2" transform="scale(1,1.00984)" stroke="#1ea7e1"/><use href="#c2" transform="scale(1,1.01094)" stroke="#16afd9"/><use href="#c2" transform="scale(1,1.01204)" stroke="#0ab4d2"/><use href="#c2" transform="scale(1,1.01314)" stroke="#03b7cc"/><use href="#c2" transform="scale(1,1.01424)" stroke="#01b8c8"/><use href="#c2" transform="scale(1,1.01535)" stroke="#01bac5"/><use href="#c2" transform="scale(1,1.01645)" stroke="#02bbc3"/><use href="#c2" transform="scale(1,1.01756)" stroke="#06bcc0"/><use href="#c2" transform="scale(1,1.01867)" stroke="#0abdbd"/><use href="#c2" transform="scale(1,1.01978)" stroke="#10beba"/><use href="#c2" transform="scale(1,1.02089)" stroke="#17bfb7"/><use href="#c2" transform="scale(1,1.02200)" stroke="#1cc0b3"/><use href="#c2" transform="scale(1,1.02311)" stroke="#20c1b1"/><use href="#c2" transform="scale(1,1.02422)" stroke="#23c1af"/><use href="#c2" transform="scale(1,1.02534)" stroke="#24c1ae"/><use href="#c2" transform="scale(1,1.02646)" stroke="#21c1b0"/></g><g id="mb0"><use href="#c2" transform="scale(1,1.00000)" stroke="#4368fd"/><use href="#c2" transform="scale(1,1.00110)" stroke="#4660fb"/><use href="#c2" transform="scale(1,1.00220)" stroke="#4755f6"/><use href="#c2" transform="scale(1,1.00330)" stroke="#4849ed"/><use href="#c2" transform="scale(1,1.00440)" stroke="#463de0"/><use href="#c2" transform="scale(1,1.00550)" stroke="#4536d3"/><use href="#c2" transform="scale(1,1.00660)" stroke="#4435d0"/><use href="#c2" transform="scale(1,1.00771)" stroke="#4639da"/><use href="#c2" transform="scale(1,1.00881)" stroke="#4744e8"/><use href="#c2" transform="scale(1,1.00992)" stroke="#4851f3"/><use href="#c2" transform="scale(1,1.01103)" stroke="#475cfa"/><use href="#c2" transform="scale(1,1.01214)" stroke="#4465fd"/><use href="#c2" transform="scale(1,1.01325)" stroke="#416bfe"/><use href="#c2" transform="scale(1,1.01436)" stroke="#3e70ff"/><use href="#c2" transform="scale(1,1.01547)" stroke="#3974fe"/><use href="#c2" transform="scale(1,1.01659)" stroke="#337bfd"/><use href="#c2" transform="scale(1,1.01770)" stroke="#2e83f9"/><use href="#c2" transform="scale(1,1.01882)" stroke="#2d8df2"/><use href="#c2" transform="scale(1,1.01994)" stroke="#2896eb"/><use href="#c2" transform="scale(1,1.02106)" stroke="#259ce7"/><use href="#c2" transform="scale(1,1.02218)" stroke="#259de7"/><use href="#c2" transform="scale(1,1.02330)" stroke="#2798ea"/><use href="#c2" transform="scale(1,1.02442)" stroke="#2c90f0"/><use href="#c2" transform="scale(1,1.02555)" stroke="#2e86f7"/><use href="#c2" transform="scale(1,1.02667)" stroke="#317dfc"/><use href="#c2" transform="scale(1,1.02780)" stroke="#3777fe"/><use href="#c2" transform="scale(1,1.02893)" stroke="#3b73fe"/><use href="#c2" transform="scale(1,1.03006)" stroke="#3c71ff"/><use href="#c2" transform="scale(1,1.03119)" stroke="#3d70ff"/><use href="#c2" transform="scale(1,1.03232)" stroke="#3f6fff"/><use href="#c2" transform="scale(1,1.03345)" stroke="#406cfe"/></g><g id="mb1"><use href="#c2" transform="scale(1,1.00000)" stroke="#3579fd"/><use href="#c2" transform="scale(1,1.00110)" stroke="#3d71ff"/><use href="#c2" transform="scale(1,1.00220)" stroke="#4466fd"/><use href="#c2" transform="scale(1,1.00330)" stroke="#4759f8"/><use href="#c2" transform="scale(1,1.00440)" stroke="#484df0"/><use href="#c2" transform="scale(1,1.00550)" stroke="#4745e9"/><use href="#c2" transform="scale(1,1.00660)" stroke="#4743e7"/><use href="#c2" transform="scale(1,1.00771)" stroke="#4849ed"/><use href="#c2" transform="scale(1,1.00881)" stroke="#4854f5"/><use href="#c2" transform="scale(1,1.00992)" stroke="#4661fc"/><use href="#c2" transform="scale(1,1.01103)" stroke="#406dfe"/><use href="#c2" transform="scale(1,1.01214)" stroke="#3776fe"/><use href="#c2" transform="scale(1,1.01325)" stroke="#317dfc"/><use href="#c2" transform="scale(1,1.01436)" stroke="#2f81fa"/><use href="#c2" transform="scale(1,1.01547)" stroke="#2e85f8"/><use href="#c2" transform="scale(1,1.01659)" stroke="#2d8af4"/><use href="#c2" transform="scale(1,1.01770)" stroke="#2b92ee"/><use href="#c2" transform="scale(1,1.01882)" stroke="#259be8"/><use href="#c2" transform="scale(1,1.01994)" stroke="#21a3e3"/><use href="#c2" transform="scale(1,1.02106)" stroke="#1da9e0"/><use href="#c2" transform="scale(1,1.02218)" stroke="#1caadf"/><use href="#c2" transform="scale(1,1.02330)" stroke="#1fa6e2"/><use href="#c2" transform="scale(1,1.02442)" stroke="#249ee6"/><use href="#c2" transform="scale(1,1.02555)" stroke="#2995ec"/><use href="#c2" transform="scale(1,1.02667)" stroke="#2d8df2"/><use href="#c2" transform="scale(1,1.02780)" stroke="#2e87f7"/><use href="#c2" transform="scale(1,1.02893)" stroke="#2e84f9"/><use href="#c2" transform="scale(1,1.03006)" stroke="#2f82f9"/><use href="#c2" transform="scale(1,1.03119)" stroke="#2f81fa"/><use href="#c2" transform="scale(1,1.03232)" stroke="#3080fa"/><use href="#c2" transform="scale(1,1.03345)" stroke="#317efb"/></g><g id="mb2"><use href="#c2" transform="scale(1,1.00000)" stroke="#2d87f7"/><use href="#c2" transform="scale(1,1.00110)" stroke="#2f80fa"/><use href="#c2" transform="scale(1,1.00220)" stroke="#3975fe"/><use href="#c2" transform="scale(1,1.00330)" stroke="#4367fd"/><use href="#c2" transform="scale(1,1.00440)" stroke="#475bf9"/><use href="#c2" transform="scale(1,1.00550)" stroke="#4853f5"/><use href="#c2" transform="scale(1,1.00660)" stroke="#4852f4"/><use href="#c2" transform="scale(1,1.00771)" stroke="#4757f7"/><use href="#c2" transform="scale(1,1.00881)" stroke="#4562fc"/><use href="#c2" transform="scale(1,1.00992)" stroke="#3e6fff"/><use href="#c2" transform="scale(1,1.01103)" stroke="#327cfc"/><use href="#c2" transform="scale(1,1.01214)" stroke="#2e85f8"/><use href="#c2" transform="scale(1,1.01325)" stroke="#2d8bf4"/><use href="#c2" transform="scale(1,1.01436)" stroke="#2c8ff1"/><use href="#c2" transform="scale(1,1.01547)" stroke="#2a92ee"/><use href="#c2" transform="scale(1,1.01659)" stroke="#2797ea"/><use href="#c2" transform="scale(1,1.01770)" stroke="#249ee6"/><use href="#c2" transform="scale(1,1.01882)" stroke="#1ea7e1"/><use href="#c2" transform="scale(1,1.01994)" stroke="#17aeda"/><use href="#c2" transform="scale(1,1.02106)" stroke="#0db3d3"/><use href="#c2" transform="scale(1,1.02218)" stroke="#0bb3d2"/><use href="#c2" transform="scale(1,1.02330)" stroke="#14b0d8"/><use href="#c2" transform="scale(1,1.02442)" stroke="#1ca9df"/><use href="#c2" transform="scale(1,1.02555)" stroke="#23a1e4"/><use href="#c2" transform="scale(1,1.02667)" stroke="#2699e9"/><use href="#c2" transform="scale(1,1.02780)" stroke="#2994ed"/><use href="#c2" transform="scale(1,1.02893)" stroke="#2b91ef"/><use href="#c2" transform="scale(1,1.03006)" stroke="#2c90f0"/><use href="#c2" transform="scale(1,1.03119)" stroke="#2c8ff1"/><use href="#c2" transform="scale(1,1.03232)" stroke="#2c8ef2"/><use href="#c2" transform="scale(1,1.03345)" stroke="#2d8bf3"/></g><g id="mb3"><use href="#c2" transform="scale(1,1.00000)" stroke="#2798ea"/><use href="#c2" transform="scale(1,1.00110)" stroke="#2b91ef"/><use href="#c2" transform="scale(1,1.00220)" stroke="#2e87f7"/><use href="#c2" transform="scale(1,1.00330)" stroke="#337bfd"/><use href="#c2" transform="scale(1,1.00440)" stroke="#3f6dfe"/><use href="#c2" transform="scale(1,1.00550)" stroke="#4465fd"/><use href="#c2" transform="scale(1,1.00660)" stroke="#4563fd"/><use href="#c2" transform="scale(1,1.00771)" stroke="#4269fe"/><use href="#c2" transform="scale(1,1.00881)" stroke="#3975fe"/><use href="#c2" transform="scale(1,1.00992)" stroke="#2f83f9"/><use href="#c2" transform="scale(1,1.01103)" stroke="#2c8ef2"/><use href="#c2" transform="scale(1,1.01214)" stroke="#2896ec"/><use href="#c2" transform="scale(1,1.01325)" stroke="#259be8"/><use href="#c2" transform="scale(1,1.01436)" stroke="#249ee6"/><use href="#c2" transform="scale(1,1.01547)" stroke="#22a2e4"/><use href="#c2" transform="scale(1,1.01659)" stroke="#1fa6e1"/><use href="#c2" transform="scale(1,1.01770)" stroke="#19acdc"/><use href="#c2" transform="scale(1,1.01882)" stroke="#0cb3d2"/><use href="#c2" transform="scale(1,1.01994)" stroke="#01b9c7"/><use href="#c2" transform="scale(1,1.02106)" stroke="#08bcbf"/><use href="#c2" transform="scale(1,1.02218)" stroke="#09bcbe"/><use href="#c2" transform="scale(1,1.02330)" stroke="#02bac4"/><use href="#c2" transform="scale(1,1.02442)" stroke="#06b5cf"/><use href="#c2" transform="scale(1,1.02555)" stroke="#16afda"/><use href="#c2" transform="scale(1,1.02667)" stroke="#1da8e0"/><use href="#c2" transform="scale(1,1.02780)" stroke="#21a3e3"/><use href="#c2" transform="scale(1,1.02893)" stroke="#23a1e5"/><use href="#c2" transform="scale(1,1.03006)" stroke="#249fe5"/><use href="#c2" transform="scale(1,1.03119)" stroke="#249ee6"/><use href="#c2" transform="scale(1,1.03232)" stroke="#249de6"/><use href="#c2" transform="scale(1,1.03345)" stroke="#259be7"/></g><g id="mb4"><use href="#c2" transform="scale(1,1.00000)" stroke="#1ca9df"/><use href="#c2" transform="scale(1,1.00110)" stroke="#21a3e3"/><use href="#c2" transform="scale(1,1.00220)" stroke="#269be8"/><use href="#c2" transform="scale(1,1.00330)" stroke="#2c8ff0"/><use href="#c2" transform="scale(1,1.00440)" stroke="#2e84f8"/><use href="#c2" transform="scale(1,1.00550)" stroke="#327cfc"/><use href="#c2" transform="scale(1,1.00660)" stroke="#337afd"/><use href="#c2" transform="scale(1,1.00771)" stroke="#2f80fa"/><use href="#c2" transform="scale(1,1.00881)" stroke="#2d8bf4"/><use href="#c2" transform="scale(1,1.00992)" stroke="#2796eb"/><use href="#c2" transform="scale(1,1.01103)" stroke="#23a0e5"/><use href="#c2" transform="scale(1,1.01214)" stroke="#1ea7e1"/><use href="#c2" transform="scale(1,1.01325)" stroke="#1aacdd"/><use href="#c2" transform="scale(1,1.01436)" stroke="#16afd9"/><use href="#c2" transform="scale(1,1.01547)" stroke="#10b2d5"/><use href="#c2" transform="scale(1,1.01659)" stroke="#07b5cf"/><use href="#c2" transform="scale(1,1.01770)" stroke="#01b9c6"/><use href="#c2" transform="scale(1,1.01882)" stroke="#10beba"/><use href="#c2" transform="scale(1,1.01994)" stroke="#25c2ad"/><use href="#c2" transform="scale(1,1.02106)" stroke="#2ec4a4"/><use href="#c2" transform="scale(1,1.02218)" stroke="#2fc5a3"/><use href="#c2" transform="scale(1,1.02330)" stroke="#29c3aa"/><use href="#c2" transform="scale(1,1.02442)" stroke="#18bfb6"/><use href="#c2" transform="scale(1,1.02555)" stroke="#03bbc3"/><use href="#c2" transform="scale(1,1.02667)" stroke="#04b6cd"/><use href="#c2" transform="scale(1,1.02780)" stroke="#0db3d3"/><use href="#c2" transform="scale(1,1.02893)" stroke="#12b1d7"/><use href="#c2" transform="scale(1,1.03006)" stroke="#14b0d8"/><use href="#c2" transform="scale(1,1.03119)" stroke="#16afd9"/><use href="#c2" transform="scale(1,1.03232)" stroke="#17aeda"/><use href="#c2" transform="scale(1,1.03345)" stroke="#19acdc"/></g><g id="mb5"><use href="#c2" transform="scale(1,1.00000)" stroke="#02bbc3"/><use href="#c2" transform="scale(1,1.00110)" stroke="#03b7cb"/><use href="#c2" transform="scale(1,1.00220)" stroke="#12b1d7"/><use href="#c2" transform="scale(1,1.00330)" stroke="#1ea8e0"/><use href="#c2" transform="scale(1,1.00440)" stroke="#249ee6"/><use href="#c2" transform="scale(1,1.00550)" stroke="#2797eb"/><use href="#c2" transform="scale(1,1.00660)" stroke="#2896ec"/><use href="#c2" transform="scale(1,1.00771)" stroke="#269be8"/><use href="#c2" transform="scale(1,1.00881)" stroke="#21a4e3"/><use href="#c2" transform="scale(1,1.00992)" stroke="#18addb"/><use href="#c2" transform="scale(1,1.01103)" stroke="#07b5d0"/><use href="#c2" transform="scale(1,1.01214)" stroke="#01b9c6"/><use href="#c2" transform="scale(1,1.01325)" stroke="#08bcbf"/><use href="#c2" transform="scale(1,1.01436)" stroke="#11beba"/><use href="#c2" transform="scale(1,1.01547)" stroke="#1ac0b4"/><use href="#c2" transform="scale(1,1.01659)" stroke="#25c2ad"/><use href="#c2" transform="scale(1,1.01770)" stroke="#2fc5a2"/><use href="#c2" transform="scale(1,1.01882)" stroke="#3ac993"/><use href="#c2" transform="scale(1,1.01994)" stroke="#4dcc82"/><use href="#c2" transform="scale(1,1.02106)" stroke="#5dcc75"/><use href="#c2" transform="scale(1,1.02218)" stroke="#5fcd73"/><use href="#c2" transform="scale(1,1.02330)" stroke="#53cc7d"/><use href="#c2" transform="scale(1,1.02442)" stroke="#3fca8e"/><use href="#c2" transform="scale(1,1.02555)" stroke="#32c69e"/><use href="#c2" transform="scale(1,1.02667)" stroke="#29c3aa"/><use href="#c2" transform="scale(1,1.02780)" stroke="#1fc0b2"/><use href="#c2" transform="scale(1,1.02893)" stroke="#18bfb6"/><use href="#c2" transform="scale(1,1.03006)" stroke="#14beb8"/><use href="#c2" transform="scale(1,1.03119)" stroke="#11beb9"/><use href="#c2" transform="scale(1,1.03232)" stroke="#0ebebb"/><use href="#c2" transform="scale(1,1.03345)" stroke="#09bdbe"/></g><g id="mc0"><use href="#c2" transform="scale(1,1.00000)" stroke="#4465fd"/><use href="#c2" transform="scale(1,1.00112)" stroke="#475af9"/><use href="#c2" transform="scale(1,1.00224)" stroke="#484cef"/><use href="#c2" transform="scale(1,1.00336)" stroke="#463cde"/><use href="#c2" transform="scale(1,1.00448)" stroke="#4332ca"/><use href="#c2" transform="scale(1,1.00560)" stroke="#4330c5"/><use href="#c2" transform="scale(1,1.00673)" stroke="#4536d3"/><use href="#c2" transform="scale(1,1.00785)" stroke="#4743e8"/><use href="#c2" transform="scale(1,1.00898)" stroke="#4853f5"/><use href="#c2" transform="scale(1,1.01010)" stroke="#4660fc"/><use href="#c2" transform="scale(1,1.01123)" stroke="#4369fe"/><use href="#c2" transform="scale(1,1.01236)" stroke="#406dfe"/><use href="#c2" transform="scale(1,1.01350)" stroke="#3e6fff"/><use href="#c2" transform="scale(1,1.01463)" stroke="#3d70ff"/><use href="#c2" transform="scale(1,1.01576)" stroke="#3c71ff"/><use href="#c2" transform="scale(1,1.01690)" stroke="#3a74fe"/><use href="#c2" transform="scale(1,1.01803)" stroke="#337bfc"/><use href="#c2" transform="scale(1,1.01917)" stroke="#2d89f5"/><use href="#c2" transform="scale(1,1.02031)" stroke="#249ee6"/><use href="#c2" transform="scale(1,1.02145)" stroke="#0eb2d4"/><use href="#c2" transform="scale(1,1.02259)" stroke="#08bcbf"/><use href="#c2" transform="scale(1,1.02374)" stroke="#08bcbf"/><use href="#c2" transform="scale(1,1.02488)" stroke="#0eb2d4"/><use href="#c2" transform="scale(1,1.02603)" stroke="#259de7"/><use href="#c2" transform="scale(1,1.02717)" stroke="#2e85f8"/><use href="#c2" transform="scale(1,1.02832)" stroke="#406dfe"/><use href="#c2" transform="scale(1,1.02947)" stroke="#475af9"/><use href="#c2" transform="scale(1,1.03062)" stroke="#484ef1"/><use href="#c2" transform="scale(1,1.03177)" stroke="#484ef1"/><use href="#c2" transform="scale(1,1.03293)" stroke="#4757f7"/><use href="#c2" transform="scale(1,1.03408)" stroke="#4563fc"/><use href="#c2" transform="scale(1,1.03524)" stroke="#416bfe"/><use href="#c2" transform="scale(1,1.03640)" stroke="#3f6eff"/><use href="#c2" transform="scale(1,1.03755)" stroke="#3f6eff"/><use href="#c2" transform="scale(1,1.03871)" stroke="#416bfe"/></g><g id="mc1"><use href="#c2" transform="scale(1,1.00000)" stroke="#3776fe"/><use href="#c2" transform="scale(1,1.00112)" stroke="#416bfe"/><use href="#c2" transform="scale(1,1.00224)" stroke="#475cfa"/><use href="#c2" transform="scale(1,1.00336)" stroke="#484cef"/><use href="#c2" transform="scale(1,1.00448)" stroke="#4740e4"/><use href="#c2" transform="scale(1,1.00560)" stroke="#463de0"/><use href="#c2" transform="scale(1,1.00673)" stroke="#4745e9"/><use href="#c2" transform="scale(1,1.00785)" stroke="#4854f5"/><use href="#c2" transform="scale(1,1.00898)" stroke="#4563fd"/><use href="#c2" transform="scale(1,1.01010)" stroke="#3c71ff"/><use href="#c2" transform="scale(1,1.01123)" stroke="#337afd"/><use href="#c2" transform="scale(1,1.01236)" stroke="#307ffb"/><use href="#c2" transform="scale(1,1.01350)" stroke="#2f81fa"/><use href="#c2" transform="scale(1,1.01463)" stroke="#2f81fa"/><use href="#c2" transform="scale(1,1.01576)" stroke="#2f82f9"/><use href="#c2" transform="scale(1,1.01690)" stroke="#2e84f8"/><use href="#c2" transform="scale(1,1.01803)" stroke="#2d8bf4"/><use href="#c2" transform="scale(1,1.01917)" stroke="#2798ea"/><use href="#c2" transform="scale(1,1.02031)" stroke="#1babde"/><use href="#c2" transform="scale(1,1.02145)" stroke="#04bbc2"/><use href="#c2" transform="scale(1,1.02259)" stroke="#28c3aa"/><use href="#c2" transform="scale(1,1.02374)" stroke="#28c3aa"/><use href="#c2" transform="scale(1,1.02488)" stroke="#03bbc2"/><use href="#c2" transform="scale(1,1.02603)" stroke="#1caadf"/><use href="#c2" transform="scale(1,1.02717)" stroke="#2994ed"/><use href="#c2" transform="scale(1,1.02832)" stroke="#307ffb"/><use href="#c2" transform="scale(1,1.02947)" stroke="#416bfe"/><use href="#c2" transform="scale(1,1.03062)" stroke="#465efb"/><use href="#c2" transform="scale(1,1.03177)" stroke="#465dfb"/><use href="#c2" transform="scale(1,1.03293)" stroke="#4367fd"/><use href="#c2" transform="scale(1,1.03408)" stroke="#3a74fe"/><use href="#c2" transform="scale(1,1.03524)" stroke="#327dfc"/><use href="#c2" transform="scale(1,1.03640)" stroke="#3080fb"/><use href="#c2" transform="scale(1,1.03755)" stroke="#3080fb"/><use href="#c2" transform="scale(1,1.03871)" stroke="#317dfc"/></g><g id="mc2"><use href="#c2" transform="scale(1,1.00000)" stroke="#2e85f8"/><use href="#c2" transform="scale(1,1.00112)" stroke="#337afd"/><use href="#c2" transform="scale(1,1.00224)" stroke="#426afe"/><use href="#c2" transform="scale(1,1.00336)" stroke="#475af9"/><use href="#c2" transform="scale(1,1.00448)" stroke="#484ef1"/><use href="#c2" transform="scale(1,1.00560)" stroke="#484cef"/><use href="#c2" transform="scale(1,1.00673)" stroke="#4853f5"/><use href="#c2" transform="scale(1,1.00785)" stroke="#4562fc"/><use href="#c2" transform="scale(1,1.00898)" stroke="#3b73fe"/><use href="#c2" transform="scale(1,1.01010)" stroke="#2f80fa"/><use href="#c2" transform="scale(1,1.01123)" stroke="#2d88f6"/><use href="#c2" transform="scale(1,1.01236)" stroke="#2d8cf3"/><use href="#c2" transform="scale(1,1.01350)" stroke="#2c8ef1"/><use href="#c2" transform="scale(1,1.01463)" stroke="#2c8ff1"/><use href="#c2" transform="scale(1,1.01576)" stroke="#2c90f0"/><use href="#c2" transform="scale(1,1.01690)" stroke="#2b92ee"/><use href="#c2" transform="scale(1,1.01803)" stroke="#2798ea"/><use href="#c2" transform="scale(1,1.01917)" stroke="#21a4e3"/><use href="#c2" transform="scale(1,1.02031)" stroke="#08b4d1"/><use href="#c2" transform="scale(1,1.02145)" stroke="#21c1b0"/><use href="#c2" transform="scale(1,1.02259)" stroke="#38c896"/><use href="#c2" transform="scale(1,1.02374)" stroke="#38c896"/><use href="#c2" transform="scale(1,1.02488)" stroke="#20c1b1"/><use href="#c2" transform="scale(1,1.02603)" stroke="#0ab4d2"/><use href="#c2" transform="scale(1,1.02717)" stroke="#23a0e5"/><use href="#c2" transform="scale(1,1.02832)" stroke="#2d8cf3"/><use href="#c2" transform="scale(1,1.02947)" stroke="#347afd"/><use href="#c2" transform="scale(1,1.03062)" stroke="#406dfe"/><use href="#c2" transform="scale(1,1.03177)" stroke="#406cfe"/><use href="#c2" transform="scale(1,1.03293)" stroke="#3777fe"/><use href="#c2" transform="scale(1,1.03408)" stroke="#2e83f9"/><use href="#c2" transform="scale(1,1.03524)" stroke="#2d8bf4"/><use href="#c2" transform="scale(1,1.03640)" stroke="#2d8df2"/><use href="#c2" transform="scale(1,1.03755)" stroke="#2d8df2"/><use href="#c2" transform="scale(1,1.03871)" stroke="#2d8bf4"/></g><g id="mc3"><use href="#c2" transform="scale(1,1.00000)" stroke="#2896ec"/><use href="#c2" transform="scale(1,1.00112)" stroke="#2d8cf3"/><use href="#c2" transform="scale(1,1.00224)" stroke="#317dfb"/><use href="#c2" transform="scale(1,1.00336)" stroke="#406cfe"/><use href="#c2" transform="scale(1,1.00448)" stroke="#4660fb"/><use href="#c2" transform="scale(1,1.00560)" stroke="#465dfb"/><use href="#c2" transform="scale(1,1.00673)" stroke="#4465fd"/><use href="#c2" transform="scale(1,1.00785)" stroke="#3975fe"/><use href="#c2" transform="scale(1,1.00898)" stroke="#2e85f8"/><use href="#c2" transform="scale(1,1.01010)" stroke="#2b91ef"/><use href="#c2" transform="scale(1,1.01123)" stroke="#2699ea"/><use href="#c2" transform="scale(1,1.01236)" stroke="#259ce7"/><use href="#c2" transform="scale(1,1.01350)" stroke="#249ee6"/><use href="#c2" transform="scale(1,1.01463)" stroke="#249ee6"/><use href="#c2" transform="scale(1,1.01576)" stroke="#249fe5"/><use href="#c2" transform="scale(1,1.01690)" stroke="#22a1e4"/><use href="#c2" transform="scale(1,1.01803)" stroke="#1ea7e1"/><use href="#c2" transform="scale(1,1.01917)" stroke="#12b1d6"/><use href="#c2" transform="scale(1,1.02031)" stroke="#0cbdbc"/><use href="#c2" transform="scale(1,1.02145)" stroke="#36c898"/><use href="#c2" transform="scale(1,1.02259)" stroke="#5acc78"/><use href="#c2" transform="scale(1,1.02374)" stroke="#5acc78"/><use href="#c2" transform="scale(1,1.02488)" stroke="#36c898"/><use href="#c2" transform="scale(1,1.02603)" stroke="#0abdbe"/><use href="#c2" transform="scale(1,1.02717)" stroke="#17aedb"/><use href="#c2" transform="scale(1,1.02832)" stroke="#259ce7"/><use href="#c2" transform="scale(1,1.02947)" stroke="#2d8cf3"/><use href="#c2" transform="scale(1,1.03062)" stroke="#2f80fa"/><use href="#c2" transform="scale(1,1.03177)" stroke="#307ffb"/><use href="#c2" transform="scale(1,1.03293)" stroke="#2d89f5"/><use href="#c2" transform="scale(1,1.03408)" stroke="#2994ed"/><use href="#c2" transform="scale(1,1.03524)" stroke="#269be8"/><use href="#c2" transform="scale(1,1.03640)" stroke="#249de6"/><use href="#c2" transform="scale(1,1.03755)" stroke="#259de7"/><use href="#c2" transform="scale(1,1.03871)" stroke="#259be8"/></g><g id="mc4"><use href="#c2" transform="scale(1,1.00000)" stroke="#1ea7e1"/><use href="#c2" transform="scale(1,1.00112)" stroke="#249fe6"/><use href="#c2" transform="scale(1,1.00224)" stroke="#2b92ee"/><use href="#c2" transform="scale(1,1.00336)" stroke="#2e83f9"/><use href="#c2" transform="scale(1,1.00448)" stroke="#3777fe"/><use href="#c2" transform="scale(1,1.00560)" stroke="#3a74fe"/><use href="#c2" transform="scale(1,1.00673)" stroke="#327cfc"/><use href="#c2" transform="scale(1,1.00785)" stroke="#2d8af4"/><use href="#c2" transform="scale(1,1.00898)" stroke="#2699e9"/><use href="#c2" transform="scale(1,1.01010)" stroke="#21a4e3"/><use href="#c2" transform="scale(1,1.01123)" stroke="#1baadf"/><use href="#c2" transform="scale(1,1.01236)" stroke="#18addb"/><use href="#c2" transform="scale(1,1.01350)" stroke="#16afda"/><use href="#c2" transform="scale(1,1.01463)" stroke="#15afd9"/><use href="#c2" transform="scale(1,1.01576)" stroke="#14b0d8"/><use href="#c2" transform="scale(1,1.01690)" stroke="#11b1d6"/><use href="#c2" transform="scale(1,1.01803)" stroke="#06b5cf"/><use href="#c2" transform="scale(1,1.01917)" stroke="#08bcbe"/><use href="#c2" transform="scale(1,1.02031)" stroke="#31c6a1"/><use href="#c2" transform="scale(1,1.02145)" stroke="#5fcd73"/><use href="#c2" transform="scale(1,1.02259)" stroke="#8fcb4e"/><use href="#c2" transform="scale(1,1.02374)" stroke="#8fcb4e"/><use href="#c2" transform="scale(1,1.02488)" stroke="#5fcd73"/><use href="#c2" transform="scale(1,1.02603)" stroke="#2fc5a2"/><use href="#c2" transform="scale(1,1.02717)" stroke="#02bac4"/><use href="#c2" transform="scale(1,1.02832)" stroke="#18addb"/><use href="#c2" transform="scale(1,1.02947)" stroke="#249fe6"/><use href="#c2" transform="scale(1,1.03062)" stroke="#2994ed"/><use href="#c2" transform="scale(1,1.03177)" stroke="#2994ed"/><use href="#c2" transform="scale(1,1.03293)" stroke="#259ce7"/><use href="#c2" transform="scale(1,1.03408)" stroke="#1fa6e2"/><use href="#c2" transform="scale(1,1.03524)" stroke="#1aacdd"/><use href="#c2" transform="scale(1,1.03640)" stroke="#17aeda"/><use href="#c2" transform="scale(1,1.03755)" stroke="#17aedb"/><use href="#c2" transform="scale(1,1.03871)" stroke="#1aacdd"/></g><g id="mc5"><use href="#c2" transform="scale(1,1.00000)" stroke="#01b9c6"/><use href="#c2" transform="scale(1,1.00112)" stroke="#0ab4d2"/><use href="#c2" transform="scale(1,1.00224)" stroke="#1caadf"/><use href="#c2" transform="scale(1,1.00336)" stroke="#259de7"/><use href="#c2" transform="scale(1,1.00448)" stroke="#2a93ee"/><use href="#c2" transform="scale(1,1.00560)" stroke="#2b90f0"/><use href="#c2" transform="scale(1,1.00673)" stroke="#2797eb"/><use href="#c2" transform="scale(1,1.00785)" stroke="#21a3e3"/><use href="#c2" transform="scale(1,1.00898)" stroke="#15afd9"/><use href="#c2" transform="scale(1,1.01010)" stroke="#02b7cb"/><use href="#c2" transform="scale(1,1.01123)" stroke="#04bbc2"/><use href="#c2" transform="scale(1,1.01236)" stroke="#0bbdbc"/><use href="#c2" transform="scale(1,1.01350)" stroke="#10beba"/><use href="#c2" transform="scale(1,1.01463)" stroke="#12beb9"/><use href="#c2" transform="scale(1,1.01576)" stroke="#14beb8"/><use href="#c2" transform="scale(1,1.01690)" stroke="#19bfb5"/><use href="#c2" transform="scale(1,1.01803)" stroke="#26c2ad"/><use href="#c2" transform="scale(1,1.01917)" stroke="#36c799"/><use href="#c2" transform="scale(1,1.02031)" stroke="#62cd70"/><use href="#c2" transform="scale(1,1.02145)" stroke="#a7c73c"/><use href="#c2" transform="scale(1,1.02259)" stroke="#d2bf27"/><use href="#c2" transform="scale(1,1.02374)" stroke="#d2bf27"/><use href="#c2" transform="scale(1,1.02488)" stroke="#a6c73c"/><use href="#c2" transform="scale(1,1.02603)" stroke="#60cd73"/><use href="#c2" transform="scale(1,1.02717)" stroke="#31c6a0"/><use href="#c2" transform="scale(1,1.02832)" stroke="#0bbdbd"/><use href="#c2" transform="scale(1,1.02947)" stroke="#0ab4d2"/><use href="#c2" transform="scale(1,1.03062)" stroke="#1aacdd"/><use href="#c2" transform="scale(1,1.03177)" stroke="#1aabdd"/><use href="#c2" transform="scale(1,1.03293)" stroke="#10b2d5"/><use href="#c2" transform="scale(1,1.03408)" stroke="#01b8c8"/><use href="#c2" transform="scale(1,1.03524)" stroke="#08bcbf"/><use href="#c2" transform="scale(1,1.03640)" stroke="#0ebdbb"/><use href="#c2" transform="scale(1,1.03755)" stroke="#0dbdbb"/><use href="#c2" transform="scale(1,1.03871)" stroke="#08bcbf"/></g><g id="md0"><use href="#c2" transform="scale(1,1.00000)" stroke="#406dfe"/><use href="#c2" transform="scale(1,1.00111)" stroke="#4369fe"/><use href="#c2" transform="scale(1,1.00222)" stroke="#4561fc"/><use href="#c2" transform="scale(1,1.00333)" stroke="#4756f6"/><use href="#c2" transform="scale(1,1.00444)" stroke="#4848ec"/><use href="#c2" transform="scale(1,1.00556)" stroke="#463bdd"/><use href="#c2" transform="scale(1,1.00667)" stroke="#4435d1"/><use href="#c2" transform="scale(1,1.00779)" stroke="#4536d3"/><use href="#c2" transform="scale(1,1.00891)" stroke="#473ee2"/><use href="#c2" transform="scale(1,1.01003)" stroke="#484df1"/><use href="#c2" transform="scale(1,1.01115)" stroke="#465efb"/><use href="#c2" transform="scale(1,1.01227)" stroke="#3f6efe"/><use href="#c2" transform="scale(1,1.01339)" stroke="#327cfc"/><use href="#c2" transform="scale(1,1.01452)" stroke="#2e86f7"/><use href="#c2" transform="scale(1,1.01564)" stroke="#2d8cf3"/><use href="#c2" transform="scale(1,1.01677)" stroke="#2d8df2"/><use href="#c2" transform="scale(1,1.01790)" stroke="#2d89f5"/><use href="#c2" transform="scale(1,1.01903)" stroke="#2f82f9"/><use href="#c2" transform="scale(1,1.02016)" stroke="#3678fe"/><use href="#c2" transform="scale(1,1.02129)" stroke="#426afe"/><use href="#c2" transform="scale(1,1.02242)" stroke="#475cfa"/><use href="#c2" transform="scale(1,1.02356)" stroke="#484ff2"/><use href="#c2" transform="scale(1,1.02469)" stroke="#4747eb"/><use href="#c2" transform="scale(1,1.02583)" stroke="#4746eb"/><use href="#c2" transform="scale(1,1.02697)" stroke="#484ef1"/><use href="#c2" transform="scale(1,1.02811)" stroke="#4759f8"/><use href="#c2" transform="scale(1,1.02925)" stroke="#4464fd"/><use href="#c2" transform="scale(1,1.03039)" stroke="#3f6efe"/><use href="#c2" transform="scale(1,1.03153)" stroke="#3975fe"/><use href="#c2" transform="scale(1,1.03267)" stroke="#327bfc"/><use href="#c2" transform="scale(1,1.03382)" stroke="#2f82fa"/><use href="#c2" transform="scale(1,1.03497)" stroke="#2d88f6"/><use href="#c2" transform="scale(1,1.03612)" stroke="#2c8ef1"/><use href="#c2" transform="scale(1,1.03726)" stroke="#2a92ee"/><use href="#c2" transform="scale(1,1.03842)" stroke="#2994ed"/><use href="#c2" transform="scale(1,1.03957)" stroke="#2a92ee"/><use href="#c2" transform="scale(1,1.04072)" stroke="#2c8ef1"/><use href="#c2" transform="scale(1,1.04187)" stroke="#2d88f6"/><use href="#c2" transform="scale(1,1.04303)" stroke="#2f82f9"/><use href="#c2" transform="scale(1,1.04419)" stroke="#327cfc"/><use href="#c2" transform="scale(1,1.04535)" stroke="#3677fe"/><use href="#c2" transform="scale(1,1.04651)" stroke="#3974fe"/><use href="#c2" transform="scale(1,1.04767)" stroke="#3b72ff"/><use href="#c2" transform="scale(1,1.04883)" stroke="#3c71ff"/><use href="#c2" transform="scale(1,1.04999)" stroke="#3d70ff"/><use href="#c2" transform="scale(1,1.05116)" stroke="#3e6fff"/></g><g id="md1"><use href="#c2" transform="scale(1,1.00000)" stroke="#307efb"/><use href="#c2" transform="scale(1,1.00111)" stroke="#337afd"/><use href="#c2" transform="scale(1,1.00222)" stroke="#3c72ff"/><use href="#c2" transform="scale(1,1.00333)" stroke="#4466fd"/><use href="#c2" transform="scale(1,1.00444)" stroke="#4758f8"/><use href="#c2" transform="scale(1,1.00556)" stroke="#484bef"/><use href="#c2" transform="scale(1,1.00667)" stroke="#4744e8"/><use href="#c2" transform="scale(1,1.00779)" stroke="#4745e9"/><use href="#c2" transform="scale(1,1.00891)" stroke="#484ff1"/><use href="#c2" transform="scale(1,1.01003)" stroke="#465dfb"/><use href="#c2" transform="scale(1,1.01115)" stroke="#3f6fff"/><use href="#c2" transform="scale(1,1.01227)" stroke="#307ffb"/><use href="#c2" transform="scale(1,1.01339)" stroke="#2d8cf3"/><use href="#c2" transform="scale(1,1.01452)" stroke="#2995ec"/><use href="#c2" transform="scale(1,1.01564)" stroke="#269ae8"/><use href="#c2" transform="scale(1,1.01677)" stroke="#259be8"/><use href="#c2" transform="scale(1,1.01790)" stroke="#2798ea"/><use href="#c2" transform="scale(1,1.01903)" stroke="#2b91ef"/><use href="#c2" transform="scale(1,1.02016)" stroke="#2d88f6"/><use href="#c2" transform="scale(1,1.02129)" stroke="#327bfc"/><use href="#c2" transform="scale(1,1.02242)" stroke="#406cfe"/><use href="#c2" transform="scale(1,1.02356)" stroke="#465ffb"/><use href="#c2" transform="scale(1,1.02469)" stroke="#4757f7"/><use href="#c2" transform="scale(1,1.02583)" stroke="#4756f7"/><use href="#c2" transform="scale(1,1.02697)" stroke="#465efb"/><use href="#c2" transform="scale(1,1.02811)" stroke="#4269fe"/><use href="#c2" transform="scale(1,1.02925)" stroke="#3875fe"/><use href="#c2" transform="scale(1,1.03039)" stroke="#307ffb"/><use href="#c2" transform="scale(1,1.03153)" stroke="#2e86f8"/><use href="#c2" transform="scale(1,1.03267)" stroke="#2d8bf4"/><use href="#c2" transform="scale(1,1.03382)" stroke="#2b91ef"/><use href="#c2" transform="scale(1,1.03497)" stroke="#2797eb"/><use href="#c2" transform="scale(1,1.03612)" stroke="#259ce7"/><use href="#c2" transform="scale(1,1.03726)" stroke="#23a0e5"/><use href="#c2" transform="scale(1,1.03842)" stroke="#22a1e4"/><use href="#c2" transform="scale(1,1.03957)" stroke="#23a0e5"/><use href="#c2" transform="scale(1,1.04072)" stroke="#259ce7"/><use href="#c2" transform="scale(1,1.04187)" stroke="#2797eb"/><use href="#c2" transform="scale(1,1.04303)" stroke="#2b91ef"/><use href="#c2" transform="scale(1,1.04419)" stroke="#2d8cf3"/><use href="#c2" transform="scale(1,1.04535)" stroke="#2d88f6"/><use href="#c2" transform="scale(1,1.04651)" stroke="#2e85f8"/><use href="#c2" transform="scale(1,1.04767)" stroke="#2e83f9"/><use href="#c2" transform="scale(1,1.04883)" stroke="#2f82f9"/><use href="#c2" transform="scale(1,1.04999)" stroke="#2f81fa"/><use href="#c2" transform="scale(1,1.05116)" stroke="#2f80fa"/></g><g id="md2"><use href="#c2" transform="scale(1,1.00000)" stroke="#2d8cf3"/><use href="#c2" transform="scale(1,1.00111)" stroke="#2d88f6"/><use href="#c2" transform="scale(1,1.00222)" stroke="#2f81fa"/><use href="#c2" transform="scale(1,1.00333)" stroke="#3875fe"/><use href="#c2" transform="scale(1,1.00444)" stroke="#4466fd"/><use href="#c2" transform="scale(1,1.00556)" stroke="#4759f9"/><use href="#c2" transform="scale(1,1.00667)" stroke="#4852f4"/><use href="#c2" transform="scale(1,1.00779)" stroke="#4853f5"/><use href="#c2" transform="scale(1,1.00891)" stroke="#475dfa"/><use href="#c2" transform="scale(1,1.01003)" stroke="#406cfe"/><use href="#c2" transform="scale(1,1.01115)" stroke="#317efb"/><use href="#c2" transform="scale(1,1.01227)" stroke="#2d8df2"/><use href="#c2" transform="scale(1,1.01339)" stroke="#2699ea"/><use href="#c2" transform="scale(1,1.01452)" stroke="#23a1e4"/><use href="#c2" transform="scale(1,1.01564)" stroke="#1fa6e2"/><use href="#c2" transform="scale(1,1.01677)" stroke="#1ea7e1"/><use href="#c2" transform="scale(1,1.01790)" stroke="#20a4e3"/><use href="#c2" transform="scale(1,1.01903)" stroke="#249ee6"/><use href="#c2" transform="scale(1,1.02016)" stroke="#2895ec"/><use href="#c2" transform="scale(1,1.02129)" stroke="#2d8af5"/><use href="#c2" transform="scale(1,1.02242)" stroke="#327cfc"/><use href="#c2" transform="scale(1,1.02356)" stroke="#3f6efe"/><use href="#c2" transform="scale(1,1.02469)" stroke="#4465fd"/><use href="#c2" transform="scale(1,1.02583)" stroke="#4465fd"/><use href="#c2" transform="scale(1,1.02697)" stroke="#406cfe"/><use href="#c2" transform="scale(1,1.02811)" stroke="#3579fd"/><use href="#c2" transform="scale(1,1.02925)" stroke="#2e84f8"/><use href="#c2" transform="scale(1,1.03039)" stroke="#2d8df2"/><use href="#c2" transform="scale(1,1.03153)" stroke="#2a93ee"/><use href="#c2" transform="scale(1,1.03267)" stroke="#2798ea"/><use href="#c2" transform="scale(1,1.03382)" stroke="#249de6"/><use href="#c2" transform="scale(1,1.03497)" stroke="#21a3e3"/><use href="#c2" transform="scale(1,1.03612)" stroke="#1da8e0"/><use href="#c2" transform="scale(1,1.03726)" stroke="#1aabdd"/><use href="#c2" transform="scale(1,1.03842)" stroke="#19addc"/><use href="#c2" transform="scale(1,1.03957)" stroke="#1aabdd"/><use href="#c2" transform="scale(1,1.04072)" stroke="#1da8e0"/><use href="#c2" transform="scale(1,1.04187)" stroke="#21a3e3"/><use href="#c2" transform="scale(1,1.04303)" stroke="#249ee6"/><use href="#c2" transform="scale(1,1.04419)" stroke="#2699e9"/><use href="#c2" transform="scale(1,1.04535)" stroke="#2895ec"/><use href="#c2" transform="scale(1,1.04651)" stroke="#2a92ee"/><use href="#c2" transform="scale(1,1.04767)" stroke="#2b91ef"/><use href="#c2" transform="scale(1,1.04883)" stroke="#2c90f0"/><use href="#c2" transform="scale(1,1.04999)" stroke="#2c8ff1"/><use href="#c2" transform="scale(1,1.05116)" stroke="#2c8ef1"/></g><g id="md3"><use href="#c2" transform="scale(1,1.00000)" stroke="#259ce7"/><use href="#c2" transform="scale(1,1.00111)" stroke="#2699ea"/><use href="#c2" transform="scale(1,1.00222)" stroke="#2b92ee"/><use href="#c2" transform="scale(1,1.00333)" stroke="#2d88f6"/><use href="#c2" transform="scale(1,1.00444)" stroke="#347afd"/><use href="#c2" transform="scale(1,1.00556)" stroke="#416cfe"/><use href="#c2" transform="scale(1,1.00667)" stroke="#4564fd"/><use href="#c2" transform="scale(1,1.00779)" stroke="#4465fd"/><use href="#c2" transform="scale(1,1.00891)" stroke="#3e6fff"/><use href="#c2" transform="scale(1,1.01003)" stroke="#307ffb"/><use href="#c2" transform="scale(1,1.01115)" stroke="#2c8ff0"/><use href="#c2" transform="scale(1,1.01227)" stroke="#259de7"/><use href="#c2" transform="scale(1,1.01339)" stroke="#1ea7e1"/><use href="#c2" transform="scale(1,1.01452)" stroke="#16afd9"/><use href="#c2" transform="scale(1,1.01564)" stroke="#0eb3d4"/><use href="#c2" transform="scale(1,1.01677)" stroke="#0cb3d2"/><use href="#c2" transform="scale(1,1.01790)" stroke="#12b1d6"/><use href="#c2" transform="scale(1,1.01903)" stroke="#1aacdd"/><use href="#c2" transform="scale(1,1.02016)" stroke="#20a4e3"/><use href="#c2" transform="scale(1,1.02129)" stroke="#269ae9"/><use href="#c2" transform="scale(1,1.02242)" stroke="#2d8df2"/><use href="#c2" transform="scale(1,1.02356)" stroke="#2f81fa"/><use href="#c2" transform="scale(1,1.02469)" stroke="#3578fd"/><use href="#c2" transform="scale(1,1.02583)" stroke="#3678fd"/><use href="#c2" transform="scale(1,1.02697)" stroke="#3080fb"/><use href="#c2" transform="scale(1,1.02811)" stroke="#2d8bf4"/><use href="#c2" transform="scale(1,1.02925)" stroke="#2895ec"/><use href="#c2" transform="scale(1,1.03039)" stroke="#259ce7"/><use href="#c2" transform="scale(1,1.03153)" stroke="#22a2e4"/><use href="#c2" transform="scale(1,1.03267)" stroke="#1ea7e1"/><use href="#c2" transform="scale(1,1.03382)" stroke="#1aacdd"/><use href="#c2" transform="scale(1,1.03497)" stroke="#13b0d7"/><use href="#c2" transform="scale(1,1.03612)" stroke="#09b4d1"/><use href="#c2" transform="scale(1,1.03726)" stroke="#03b7cc"/><use href="#c2" transform="scale(1,1.03842)" stroke="#01b8ca"/><use href="#c2" transform="scale(1,1.03957)" stroke="#03b7cc"/><use href="#c2" transform="scale(1,1.04072)" stroke="#09b4d1"/><use href="#c2" transform="scale(1,1.04187)" stroke="#13b0d7"/><use href="#c2" transform="scale(1,1.04303)" stroke="#1aacdd"/><use href="#c2" transform="scale(1,1.04419)" stroke="#1ea7e1"/><use href="#c2" transform="scale(1,1.04535)" stroke="#20a4e3"/><use href="#c2" transform="scale(1,1.04651)" stroke="#22a1e4"/><use href="#c2" transform="scale(1,1.04767)" stroke="#23a0e5"/><use href="#c2" transform="scale(1,1.04883)" stroke="#249fe5"/><use href="#c2" transform="scale(1,1.04999)" stroke="#249fe6"/><use href="#c2" transform="scale(1,1.05116)" stroke="#249ee6"/></g><g id="md4"><use href="#c2" transform="scale(1,1.00000)" stroke="#18addb"/><use href="#c2" transform="scale(1,1.00111)" stroke="#1baadf"/><use href="#c2" transform="scale(1,1.00222)" stroke="#20a4e3"/><use href="#c2" transform="scale(1,1.00333)" stroke="#259be8"/><use href="#c2" transform="scale(1,1.00444)" stroke="#2c8ff1"/><use href="#c2" transform="scale(1,1.00556)" stroke="#2f82f9"/><use href="#c2" transform="scale(1,1.00667)" stroke="#337bfc"/><use href="#c2" transform="scale(1,1.00779)" stroke="#327cfc"/><use href="#c2" transform="scale(1,1.00891)" stroke="#2e86f8"/><use href="#c2" transform="scale(1,1.01003)" stroke="#2994ed"/><use href="#c2" transform="scale(1,1.01115)" stroke="#22a2e4"/><use href="#c2" transform="scale(1,1.01227)" stroke="#18aedb"/><use href="#c2" transform="scale(1,1.01339)" stroke="#05b6ce"/><use href="#c2" transform="scale(1,1.01452)" stroke="#03bbc3"/><use href="#c2" transform="scale(1,1.01564)" stroke="#0dbdbb"/><use href="#c2" transform="scale(1,1.01677)" stroke="#10beba"/><use href="#c2" transform="scale(1,1.01790)" stroke="#09bcbe"/><use href="#c2" transform="scale(1,1.01903)" stroke="#01b9c7"/><use href="#c2" transform="scale(1,1.02016)" stroke="#0bb3d2"/><use href="#c2" transform="scale(1,1.02129)" stroke="#1babde"/><use href="#c2" transform="scale(1,1.02242)" stroke="#23a0e5"/><use href="#c2" transform="scale(1,1.02356)" stroke="#2895ec"/><use href="#c2" transform="scale(1,1.02469)" stroke="#2d8df2"/><use href="#c2" transform="scale(1,1.02583)" stroke="#2d8df2"/><use href="#c2" transform="scale(1,1.02697)" stroke="#2994ed"/><use href="#c2" transform="scale(1,1.02811)" stroke="#249ee6"/><use href="#c2" transform="scale(1,1.02925)" stroke="#1ea7e1"/><use href="#c2" transform="scale(1,1.03039)" stroke="#18addb"/><use href="#c2" transform="scale(1,1.03153)" stroke="#10b2d5"/><use href="#c2" transform="scale(1,1.03267)" stroke="#06b5ce"/><use href="#c2" transform="scale(1,1.03382)" stroke="#01b9c7"/><use href="#c2" transform="scale(1,1.03497)" stroke="#07bcbf"/><use href="#c2" transform="scale(1,1.03612)" stroke="#14bfb8"/><use href="#c2" transform="scale(1,1.03726)" stroke="#1ec0b2"/><use href="#c2" transform="scale(1,1.03842)" stroke="#21c1b0"/><use href="#c2" transform="scale(1,1.03957)" stroke="#1ec0b2"/><use href="#c2" transform="scale(1,1.04072)" stroke="#14bfb8"/><use href="#c2" transform="scale(1,1.04187)" stroke="#07bcbf"/><use href="#c2" transform="scale(1,1.04303)" stroke="#01b9c7"/><use href="#c2" transform="scale(1,1.04419)" stroke="#05b6ce"/><use href="#c2" transform="scale(1,1.04535)" stroke="#0bb3d2"/><use href="#c2" transform="scale(1,1.04651)" stroke="#11b1d6"/><use href="#c2" transform="scale(1,1.04767)" stroke="#13b0d7"/><use href="#c2" transform="scale(1,1.04883)" stroke="#14b0d8"/><use href="#c2" transform="scale(1,1.04999)" stroke="#15afd9"/><use href="#c2" transform="scale(1,1.05116)" stroke="#16aeda"/></g><g id="md5"><use href="#c2" transform="scale(1,1.00000)" stroke="#0bbdbd"/><use href="#c2" transform="scale(1,1.00111)" stroke="#04bbc2"/><use href="#c2" transform="scale(1,1.00222)" stroke="#01b7ca"/><use href="#c2" transform="scale(1,1.00333)" stroke="#12b1d6"/><use href="#c2" transform="scale(1,1.00444)" stroke="#1ea7e1"/><use href="#c2" transform="scale(1,1.00556)" stroke="#259ce7"/><use href="#c2" transform="scale(1,1.00667)" stroke="#2896eb"/><use href="#c2" transform="scale(1,1.00779)" stroke="#2797eb"/><use href="#c2" transform="scale(1,1.00891)" stroke="#249fe5"/><use href="#c2" transform="scale(1,1.01003)" stroke="#1aabde"/><use href="#c2" transform="scale(1,1.01115)" stroke="#05b6ce"/><use href="#c2" transform="scale(1,1.01227)" stroke="#0dbdbc"/><use href="#c2" transform="scale(1,1.01339)" stroke="#27c2ab"/><use href="#c2" transform="scale(1,1.01452)" stroke="#32c69e"/><use href="#c2" transform="scale(1,1.01564)" stroke="#39c895"/><use href="#c2" transform="scale(1,1.01677)" stroke="#3ac993"/><use href="#c2" transform="scale(1,1.01790)" stroke="#36c899"/><use href="#c2" transform="scale(1,1.01903)" stroke="#2ec5a3"/><use href="#c2" transform="scale(1,1.02016)" stroke="#20c1b1"/><use href="#c2" transform="scale(1,1.02129)" stroke="#06bcc0"/><use href="#c2" transform="scale(1,1.02242)" stroke="#07b5d0"/><use href="#c2" transform="scale(1,1.02356)" stroke="#19acdc"/><use href="#c2" transform="scale(1,1.02469)" stroke="#1fa6e2"/><use href="#c2" transform="scale(1,1.02583)" stroke="#1fa6e2"/><use href="#c2" transform="scale(1,1.02697)" stroke="#1aabdd"/><use href="#c2" transform="scale(1,1.02811)" stroke="#0cb3d3"/><use href="#c2" transform="scale(1,1.02925)" stroke="#01b9c7"/><use href="#c2" transform="scale(1,1.03039)" stroke="#0cbdbc"/><use href="#c2" transform="scale(1,1.03153)" stroke="#1bc0b4"/><use href="#c2" transform="scale(1,1.03267)" stroke="#26c2ac"/><use href="#c2" transform="scale(1,1.03382)" stroke="#2ec5a4"/><use href="#c2" transform="scale(1,1.03497)" stroke="#35c79a"/><use href="#c2" transform="scale(1,1.03612)" stroke="#3dc991"/><use href="#c2" transform="scale(1,1.03726)" stroke="#45cb89"/><use href="#c2" transform="scale(1,1.03842)" stroke="#48cb86"/><use href="#c2" transform="scale(1,1.03957)" stroke="#45cb89"/><use href="#c2" transform="scale(1,1.04072)" stroke="#3dc991"/><use href="#c2" transform="scale(1,1.04187)" stroke="#35c79a"/><use href="#c2" transform="scale(1,1.04303)" stroke="#2ec5a4"/><use href="#c2" transform="scale(1,1.04419)" stroke="#27c2ab"/><use href="#c2" transform="scale(1,1.04535)" stroke="#20c1b1"/><use href="#c2" transform="scale(1,1.04651)" stroke="#1ac0b5"/><use href="#c2" transform="scale(1,1.04767)" stroke="#16bfb7"/><use href="#c2" transform="scale(1,1.04883)" stroke="#13beb8"/><use href="#c2" transform="scale(1,1.04999)" stroke="#12beb9"/><use href="#c2" transform="scale(1,1.05116)" stroke="#10beba"/></g><g id="me0"><use href="#c2" transform="scale(1,1.00000)" stroke="#3c72ff"/><use href="#c2" transform="scale(1,1.00107)" stroke="#406cfe"/><use href="#c2" transform="scale(1,1.00215)" stroke="#4465fd"/><use href="#c2" transform="scale(1,1.00323)" stroke="#475dfa"/><use href="#c2" transform="scale(1,1.00430)" stroke="#4756f6"/><use href="#c2" transform="scale(1,1.00538)" stroke="#4852f4"/><use href="#c2" transform="scale(1,1.00646)" stroke="#4854f5"/><use href="#c2" transform="scale(1,1.00754)" stroke="#475af9"/><use href="#c2" transform="scale(1,1.00863)" stroke="#4562fc"/><use href="#c2" transform="scale(1,1.00971)" stroke="#426afe"/><use href="#c2" transform="scale(1,1.01079)" stroke="#3d70ff"/><use href="#c2" transform="scale(1,1.01188)" stroke="#3974fe"/><use href="#c2" transform="scale(1,1.01297)" stroke="#3776fe"/><use href="#c2" transform="scale(1,1.01406)" stroke="#3677fe"/><use href="#c2" transform="scale(1,1.01515)" stroke="#3678fd"/><use href="#c2" transform="scale(1,1.01624)" stroke="#3678fd"/><use href="#c2" transform="scale(1,1.01733)" stroke="#3678fe"/><use href="#c2" transform="scale(1,1.01842)" stroke="#3777fe"/><use href="#c2" transform="scale(1,1.01951)" stroke="#3875fe"/></g><g id="me1"><use href="#c2" transform="scale(1,1.00000)" stroke="#2e83f9"/><use href="#c2" transform="scale(1,1.00107)" stroke="#317efb"/><use href="#c2" transform="scale(1,1.00215)" stroke="#3876fe"/><use href="#c2" transform="scale(1,1.00323)" stroke="#406dfe"/><use href="#c2" transform="scale(1,1.00430)" stroke="#4466fd"/><use href="#c2" transform="scale(1,1.00538)" stroke="#4562fc"/><use href="#c2" transform="scale(1,1.00646)" stroke="#4564fd"/><use href="#c2" transform="scale(1,1.00754)" stroke="#426afe"/><use href="#c2" transform="scale(1,1.00863)" stroke="#3b72fe"/><use href="#c2" transform="scale(1,1.00971)" stroke="#337bfc"/><use href="#c2" transform="scale(1,1.01079)" stroke="#2f81fa"/><use href="#c2" transform="scale(1,1.01188)" stroke="#2e85f8"/><use href="#c2" transform="scale(1,1.01297)" stroke="#2e87f7"/><use href="#c2" transform="scale(1,1.01406)" stroke="#2d88f6"/><use href="#c2" transform="scale(1,1.01515)" stroke="#2d88f6"/><use href="#c2" transform="scale(1,1.01624)" stroke="#2d88f6"/><use href="#c2" transform="scale(1,1.01733)" stroke="#2d88f6"/><use href="#c2" transform="scale(1,1.01842)" stroke="#2d87f7"/><use href="#c2" transform="scale(1,1.01951)" stroke="#2e86f7"/></g><g id="me2"><use href="#c2" transform="scale(1,1.00000)" stroke="#2b90ef"/><use href="#c2" transform="scale(1,1.00107)" stroke="#2d8cf3"/><use href="#c2" transform="scale(1,1.00215)" stroke="#2e85f8"/><use href="#c2" transform="scale(1,1.00323)" stroke="#317dfc"/><use href="#c2" transform="scale(1,1.00430)" stroke="#3875fe"/><use href="#c2" transform="scale(1,1.00538)" stroke="#3c72ff"/><use href="#c2" transform="scale(1,1.00646)" stroke="#3a73fe"/><use href="#c2" transform="scale(1,1.00754)" stroke="#3479fd"/><use href="#c2" transform="scale(1,1.00863)" stroke="#2f82fa"/><use href="#c2" transform="scale(1,1.00971)" stroke="#2d89f5"/><use href="#c2" transform="scale(1,1.01079)" stroke="#2c8ff1"/><use href="#c2" transform="scale(1,1.01188)" stroke="#2a92ee"/><use href="#c2" transform="scale(1,1.01297)" stroke="#2994ed"/><use href="#c2" transform="scale(1,1.01406)" stroke="#2895ec"/><use href="#c2" transform="scale(1,1.01515)" stroke="#2895ec"/><use href="#c2" transform="scale(1,1.01624)" stroke="#2895ec"/><use href="#c2" transform="scale(1,1.01733)" stroke="#2895ec"/><use href="#c2" transform="scale(1,1.01842)" stroke="#2995ec"/><use href="#c2" transform="scale(1,1.01951)" stroke="#2a93ed"/></g><g id="me3"><use href="#c2" transform="scale(1,1.00000)" stroke="#23a0e5"/><use href="#c2" transform="scale(1,1.00107)" stroke="#259ce7"/><use href="#c2" transform="scale(1,1.00215)" stroke="#2895ec"/><use href="#c2" transform="scale(1,1.00323)" stroke="#2c8ef1"/><use href="#c2" transform="scale(1,1.00430)" stroke="#2d88f6"/><use href="#c2" transform="scale(1,1.00538)" stroke="#2e84f8"/><use href="#c2" transform="scale(1,1.00646)" stroke="#2e86f8"/><use href="#c2" transform="scale(1,1.00754)" stroke="#2d8bf4"/><use href="#c2" transform="scale(1,1.00863)" stroke="#2a92ee"/><use href="#c2" transform="scale(1,1.00971)" stroke="#2699e9"/><use href="#c2" transform="scale(1,1.01079)" stroke="#249ee6"/><use href="#c2" transform="scale(1,1.01188)" stroke="#22a2e4"/><use href="#c2" transform="scale(1,1.01297)" stroke="#21a3e3"/><use href="#c2" transform="scale(1,1.01406)" stroke="#20a4e3"/><use href="#c2" transform="scale(1,1.01515)" stroke="#20a4e3"/><use href="#c2" transform="scale(1,1.01624)" stroke="#20a4e3"/><use href="#c2" transform="scale(1,1.01733)" stroke="#20a4e3"/><use href="#c2" transform="scale(1,1.01842)" stroke="#21a4e3"/><use href="#c2" transform="scale(1,1.01951)" stroke="#22a2e4"/></g><g id="me4"><use href="#c2" transform="scale(1,1.00000)" stroke="#13b0d7"/><use href="#c2" transform="scale(1,1.00107)" stroke="#19addc"/><use href="#c2" transform="scale(1,1.00215)" stroke="#1ea7e1"/><use href="#c2" transform="scale(1,1.00323)" stroke="#23a1e5"/><use href="#c2" transform="scale(1,1.00430)" stroke="#259be8"/><use href="#c2" transform="scale(1,1.00538)" stroke="#2798ea"/><use href="#c2" transform="scale(1,1.00646)" stroke="#2699e9"/><use href="#c2" transform="scale(1,1.00754)" stroke="#249ee6"/><use href="#c2" transform="scale(1,1.00863)" stroke="#20a5e3"/><use href="#c2" transform="scale(1,1.00971)" stroke="#1babde"/><use href="#c2" transform="scale(1,1.01079)" stroke="#15afd9"/><use href="#c2" transform="scale(1,1.01188)" stroke="#11b1d5"/><use href="#c2" transform="scale(1,1.01297)" stroke="#0db3d3"/><use href="#c2" transform="scale(1,1.01406)" stroke="#0bb3d2"/><use href="#c2" transform="scale(1,1.01515)" stroke="#0bb4d2"/><use href="#c2" transform="scale(1,1.01624)" stroke="#0bb4d2"/><use href="#c2" transform="scale(1,1.01733)" stroke="#0bb3d2"/><use href="#c2" transform="scale(1,1.01842)" stroke="#0cb3d3"/><use href="#c2" transform="scale(1,1.01951)" stroke="#0fb2d4"/></g><g id="me5"><use href="#c2" transform="scale(1,1.00000)" stroke="#15bfb7"/><use href="#c2" transform="scale(1,1.00107)" stroke="#0abdbd"/><use href="#c2" transform="scale(1,1.00215)" stroke="#01b9c6"/><use href="#c2" transform="scale(1,1.00323)" stroke="#06b5cf"/><use href="#c2" transform="scale(1,1.00430)" stroke="#12b1d6"/><use href="#c2" transform="scale(1,1.00538)" stroke="#16afd9"/><use href="#c2" transform="scale(1,1.00646)" stroke="#14b0d8"/><use href="#c2" transform="scale(1,1.00754)" stroke="#0bb3d2"/><use href="#c2" transform="scale(1,1.00863)" stroke="#01b8ca"/><use href="#c2" transform="scale(1,1.00971)" stroke="#05bbc1"/><use href="#c2" transform="scale(1,1.01079)" stroke="#11beb9"/><use href="#c2" transform="scale(1,1.01188)" stroke="#1ac0b5"/><use href="#c2" transform="scale(1,1.01297)" stroke="#1ec0b2"/><use href="#c2" transform="scale(1,1.01406)" stroke="#20c1b1"/><use href="#c2" transform="scale(1,1.01515)" stroke="#21c1b0"/><use href="#c2" transform="scale(1,1.01624)" stroke="#21c1b0"/><use href="#c2" transform="scale(1,1.01733)" stroke="#20c1b1"/><use href="#c2" transform="scale(1,1.01842)" stroke="#1fc0b1"/><use href="#c2" transform="scale(1,1.01951)" stroke="#1cc0b3"/></g><g id="pa0"><use href="#c2" transform="scale(1,1.00000)" stroke="#337bfc"/><use href="#c2" transform="scale(1,1.00111)" stroke="#3d70ff"/><use href="#c2" transform="scale(1,1.00223)" stroke="#4561fc"/><use href="#c2" transform="scale(1,1.00334)" stroke="#4851f3"/><use href="#c2" transform="scale(1,1.00446)" stroke="#4742e6"/><use href="#c2" transform="scale(1,1.00558)" stroke="#463adc"/><use href="#c2" transform="scale(1,1.00670)" stroke="#463cde"/><use href="#c2" transform="scale(1,1.00782)" stroke="#4745e9"/><use href="#c2" transform="scale(1,1.00894)" stroke="#4851f4"/><use href="#c2" transform="scale(1,1.01006)" stroke="#475cfa"/><use href="#c2" transform="scale(1,1.01119)" stroke="#4464fd"/><use href="#c2" transform="scale(1,1.01232)" stroke="#4269fe"/><use href="#c2" transform="scale(1,1.01344)" stroke="#406cfe"/><use href="#c2" transform="scale(1,1.01457)" stroke="#3e6fff"/><use href="#c2" transform="scale(1,1.01570)" stroke="#3c72ff"/><use href="#c2" transform="scale(1,1.01683)" stroke="#3975fe"/><use href="#c2" transform="scale(1,1.01796)" stroke="#3678fd"/><use href="#c2" transform="scale(1,1.01910)" stroke="#327bfc"/><use href="#c2" transform="scale(1,1.02023)" stroke="#317efb"/><use href="#c2" transform="scale(1,1.02137)" stroke="#2f80fa"/><use href="#c2" transform="scale(1,1.02250)" stroke="#2f81fa"/><use href="#c2" transform="scale(1,1.02364)" stroke="#3080fb"/></g><g id="pa1"><use href="#c2" transform="scale(1,1.00000)" stroke="#2d8bf4"/><use href="#c2" transform="scale(1,1.00111)" stroke="#2f82fa"/><use href="#c2" transform="scale(1,1.00223)" stroke="#3b72fe"/><use href="#c2" transform="scale(1,1.00334)" stroke="#4661fc"/><use href="#c2" transform="scale(1,1.00446)" stroke="#4852f4"/><use href="#c2" transform="scale(1,1.00558)" stroke="#484aee"/><use href="#c2" transform="scale(1,1.00670)" stroke="#484cef"/><use href="#c2" transform="scale(1,1.00782)" stroke="#4755f6"/><use href="#c2" transform="scale(1,1.00894)" stroke="#4561fc"/><use href="#c2" transform="scale(1,1.01006)" stroke="#406dfe"/><use href="#c2" transform="scale(1,1.01119)" stroke="#3875fe"/><use href="#c2" transform="scale(1,1.01232)" stroke="#337afd"/><use href="#c2" transform="scale(1,1.01344)" stroke="#317efb"/><use href="#c2" transform="scale(1,1.01457)" stroke="#2f80fa"/><use href="#c2" transform="scale(1,1.01570)" stroke="#2e83f9"/><use href="#c2" transform="scale(1,1.01683)" stroke="#2e85f8"/><use href="#c2" transform="scale(1,1.01796)" stroke="#2d88f6"/><use href="#c2" transform="scale(1,1.01910)" stroke="#2d8bf4"/><use href="#c2" transform="scale(1,1.02023)" stroke="#2c8ef2"/><use href="#c2" transform="scale(1,1.02137)" stroke="#2c90f0"/><use href="#c2" transform="scale(1,1.02250)" stroke="#2b90f0"/><use href="#c2" transform="scale(1,1.02364)" stroke="#2c8ff0"/></g><g id="pa2"><use href="#c2" transform="scale(1,1.00000)" stroke="#2798ea"/><use href="#c2" transform="scale(1,1.00111)" stroke="#2c8ff0"/><use href="#c2" transform="scale(1,1.00223)" stroke="#2f82fa"/><use href="#c2" transform="scale(1,1.00334)" stroke="#3e6fff"/><use href="#c2" transform="scale(1,1.00446)" stroke="#4660fc"/><use href="#c2" transform="scale(1,1.00558)" stroke="#4758f8"/><use href="#c2" transform="scale(1,1.00670)" stroke="#475af9"/><use href="#c2" transform="scale(1,1.00782)" stroke="#4563fd"/><use href="#c2" transform="scale(1,1.00894)" stroke="#3d70ff"/><use href="#c2" transform="scale(1,1.01006)" stroke="#327cfc"/><use href="#c2" transform="scale(1,1.01119)" stroke="#2e84f8"/><use href="#c2" transform="scale(1,1.01232)" stroke="#2d89f6"/><use href="#c2" transform="scale(1,1.01344)" stroke="#2d8cf3"/><use href="#c2" transform="scale(1,1.01457)" stroke="#2c8ef2"/><use href="#c2" transform="scale(1,1.01570)" stroke="#2c90f0"/><use href="#c2" transform="scale(1,1.01683)" stroke="#2a93ee"/><use href="#c2" transform="scale(1,1.01796)" stroke="#2895ec"/><use href="#c2" transform="scale(1,1.01910)" stroke="#2798ea"/><use href="#c2" transform="scale(1,1.02023)" stroke="#269ae8"/><use href="#c2" transform="scale(1,1.02137)" stroke="#259ce7"/><use href="#c2" transform="scale(1,1.02250)" stroke="#259de7"/><use href="#c2" transform="scale(1,1.02364)" stroke="#259ce7"/></g><g id="pa3"><use href="#c2" transform="scale(1,1.00000)" stroke="#1ea6e1"/><use href="#c2" transform="scale(1,1.00111)" stroke="#249fe6"/><use href="#c2" transform="scale(1,1.00223)" stroke="#2a92ee"/><use href="#c2" transform="scale(1,1.00334)" stroke="#2f83f9"/><use href="#c2" transform="scale(1,1.00446)" stroke="#3b73fe"/><use href="#c2" transform="scale(1,1.00558)" stroke="#416bfe"/><use href="#c2" transform="scale(1,1.00670)" stroke="#406cfe"/><use href="#c2" transform="scale(1,1.00782)" stroke="#3776fe"/><use href="#c2" transform="scale(1,1.00894)" stroke="#2e83f9"/><use href="#c2" transform="scale(1,1.01006)" stroke="#2c8ef2"/><use href="#c2" transform="scale(1,1.01119)" stroke="#2995ec"/><use href="#c2" transform="scale(1,1.01232)" stroke="#2699e9"/><use href="#c2" transform="scale(1,1.01344)" stroke="#259be7"/><use href="#c2" transform="scale(1,1.01457)" stroke="#249de6"/><use href="#c2" transform="scale(1,1.01570)" stroke="#23a0e5"/><use href="#c2" transform="scale(1,1.01683)" stroke="#22a2e4"/><use href="#c2" transform="scale(1,1.01796)" stroke="#20a4e3"/><use href="#c2" transform="scale(1,1.01910)" stroke="#1ea7e1"/><use href="#c2" transform="scale(1,1.02023)" stroke="#1da9e0"/><use href="#c2" transform="scale(1,1.02137)" stroke="#1baade"/><use href="#c2" transform="scale(1,1.02250)" stroke="#1babde"/><use href="#c2" transform="scale(1,1.02364)" stroke="#1baadf"/></g><g id="pa4"><use href="#c2" transform="scale(1,1.00000)" stroke="#06b5cf"/><use href="#c2" transform="scale(1,1.00111)" stroke="#15afd9"/><use href="#c2" transform="scale(1,1.00223)" stroke="#20a5e3"/><use href="#c2" transform="scale(1,1.00334)" stroke="#2796eb"/><use href="#c2" transform="scale(1,1.00446)" stroke="#2d89f5"/><use href="#c2" transform="scale(1,1.00558)" stroke="#2f81fa"/><use href="#c2" transform="scale(1,1.00670)" stroke="#2e83f9"/><use href="#c2" transform="scale(1,1.00782)" stroke="#2d8cf3"/><use href="#c2" transform="scale(1,1.00894)" stroke="#2797eb"/><use href="#c2" transform="scale(1,1.01006)" stroke="#23a0e5"/><use href="#c2" transform="scale(1,1.01119)" stroke="#1ea7e1"/><use href="#c2" transform="scale(1,1.01232)" stroke="#1baade"/><use href="#c2" transform="scale(1,1.01344)" stroke="#19acdc"/><use href="#c2" transform="scale(1,1.01457)" stroke="#17aeda"/><use href="#c2" transform="scale(1,1.01570)" stroke="#14b0d8"/><use href="#c2" transform="scale(1,1.01683)" stroke="#10b2d5"/><use href="#c2" transform="scale(1,1.01796)" stroke="#0ab4d2"/><use href="#c2" transform="scale(1,1.01910)" stroke="#06b5cf"/><use href="#c2" transform="scale(1,1.02023)" stroke="#03b7cc"/><use href="#c2" transform="scale(1,1.02137)" stroke="#01b8c9"/><use href="#c2" transform="scale(1,1.02250)" stroke="#01b8c8"/><use href="#c2" transform="scale(1,1.02364)" stroke="#01b8ca"/></g><g id="pa5"><use href="#c2" transform="scale(1,1.00000)" stroke="#26c2ad"/><use href="#c2" transform="scale(1,1.00111)" stroke="#12beb9"/><use href="#c2" transform="scale(1,1.00223)" stroke="#01b8ca"/><use href="#c2" transform="scale(1,1.00334)" stroke="#18addb"/><use href="#c2" transform="scale(1,1.00446)" stroke="#22a2e4"/><use href="#c2" transform="scale(1,1.00558)" stroke="#259ce7"/><use href="#c2" transform="scale(1,1.00670)" stroke="#259de7"/><use href="#c2" transform="scale(1,1.00782)" stroke="#20a5e3"/><use href="#c2" transform="scale(1,1.00894)" stroke="#17aeda"/><use href="#c2" transform="scale(1,1.01006)" stroke="#07b5d0"/><use href="#c2" transform="scale(1,1.01119)" stroke="#01b9c7"/><use href="#c2" transform="scale(1,1.01232)" stroke="#05bbc1"/><use href="#c2" transform="scale(1,1.01344)" stroke="#0abdbe"/><use href="#c2" transform="scale(1,1.01457)" stroke="#0fbebb"/><use href="#c2" transform="scale(1,1.01570)" stroke="#15bfb7"/><use href="#c2" transform="scale(1,1.01683)" stroke="#1bc0b4"/><use href="#c2" transform="scale(1,1.01796)" stroke="#21c1b0"/><use href="#c2" transform="scale(1,1.01910)" stroke="#26c2ac"/><use href="#c2" transform="scale(1,1.02023)" stroke="#2ac3a9"/><use href="#c2" transform="scale(1,1.02137)" stroke="#2dc4a6"/><use href="#c2" transform="scale(1,1.02250)" stroke="#2dc4a5"/><use href="#c2" transform="scale(1,1.02364)" stroke="#2cc4a7"/></g><g id="pb0"><use href="#c2" transform="scale(1,1.00000)" stroke="#3f6fff"/><use href="#c2" transform="scale(1,1.00109)" stroke="#4466fd"/><use href="#c2" transform="scale(1,1.00219)" stroke="#4759f8"/><use href="#c2" transform="scale(1,1.00328)" stroke="#484bef"/><use href="#c2" transform="scale(1,1.00438)" stroke="#473fe3"/><use href="#c2" transform="scale(1,1.00548)" stroke="#463adc"/><use href="#c2" transform="scale(1,1.00658)" stroke="#463ee1"/><use href="#c2" transform="scale(1,1.00768)" stroke="#4849ed"/><use href="#c2" transform="scale(1,1.00878)" stroke="#4757f7"/><use href="#c2" transform="scale(1,1.00988)" stroke="#4564fd"/><use href="#c2" transform="scale(1,1.01099)" stroke="#3f6efe"/><use href="#c2" transform="scale(1,1.01209)" stroke="#3975fe"/><use href="#c2" transform="scale(1,1.01320)" stroke="#337bfc"/><use href="#c2" transform="scale(1,1.01431)" stroke="#2f82f9"/><use href="#c2" transform="scale(1,1.01542)" stroke="#2c8ef2"/><use href="#c2" transform="scale(1,1.01653)" stroke="#259de7"/><use href="#c2" transform="scale(1,1.01764)" stroke="#1aacdd"/><use href="#c2" transform="scale(1,1.01875)" stroke="#08b5d0"/><use href="#c2" transform="scale(1,1.01987)" stroke="#05b6cd"/><use href="#c2" transform="scale(1,1.02098)" stroke="#13b0d8"/><use href="#c2" transform="scale(1,1.02210)" stroke="#21a3e3"/><use href="#c2" transform="scale(1,1.02322)" stroke="#2994ed"/><use href="#c2" transform="scale(1,1.02433)" stroke="#2e87f7"/><use href="#c2" transform="scale(1,1.02545)" stroke="#307ffb"/><use href="#c2" transform="scale(1,1.02658)" stroke="#337afd"/><use href="#c2" transform="scale(1,1.02770)" stroke="#3578fd"/><use href="#c2" transform="scale(1,1.02882)" stroke="#3777fe"/><use href="#c2" transform="scale(1,1.02995)" stroke="#3974fe"/></g><g id="pb1"><use href="#c2" transform="scale(1,1.00000)" stroke="#3080fa"/><use href="#c2" transform="scale(1,1.00109)" stroke="#3777fe"/><use href="#c2" transform="scale(1,1.00219)" stroke="#426afe"/><use href="#c2" transform="scale(1,1.00328)" stroke="#475bf9"/><use href="#c2" transform="scale(1,1.00438)" stroke="#484ff2"/><use href="#c2" transform="scale(1,1.00548)" stroke="#484aee"/><use href="#c2" transform="scale(1,1.00658)" stroke="#484ef1"/><use href="#c2" transform="scale(1,1.00768)" stroke="#4759f8"/><use href="#c2" transform="scale(1,1.00878)" stroke="#4367fd"/><use href="#c2" transform="scale(1,1.00988)" stroke="#3975fe"/><use href="#c2" transform="scale(1,1.01099)" stroke="#307ffb"/><use href="#c2" transform="scale(1,1.01209)" stroke="#2e85f8"/><use href="#c2" transform="scale(1,1.01320)" stroke="#2d8bf4"/><use href="#c2" transform="scale(1,1.01431)" stroke="#2b92ef"/><use href="#c2" transform="scale(1,1.01542)" stroke="#259ce7"/><use href="#c2" transform="scale(1,1.01653)" stroke="#1caadf"/><use href="#c2" transform="scale(1,1.01764)" stroke="#05b6ce"/><use href="#c2" transform="scale(1,1.01875)" stroke="#09bdbe"/><use href="#c2" transform="scale(1,1.01987)" stroke="#0fbebb"/><use href="#c2" transform="scale(1,1.02098)" stroke="#01b9c6"/><use href="#c2" transform="scale(1,1.02210)" stroke="#15afd9"/><use href="#c2" transform="scale(1,1.02322)" stroke="#22a1e4"/><use href="#c2" transform="scale(1,1.02433)" stroke="#2896ec"/><use href="#c2" transform="scale(1,1.02545)" stroke="#2c8ef1"/><use href="#c2" transform="scale(1,1.02658)" stroke="#2d8af4"/><use href="#c2" transform="scale(1,1.02770)" stroke="#2d89f6"/><use href="#c2" transform="scale(1,1.02882)" stroke="#2e87f7"/><use href="#c2" transform="scale(1,1.02995)" stroke="#2e85f8"/></g><g id="pb2"><use href="#c2" transform="scale(1,1.00000)" stroke="#2c8ef2"/><use href="#c2" transform="scale(1,1.00109)" stroke="#2e86f8"/><use href="#c2" transform="scale(1,1.00219)" stroke="#3579fd"/><use href="#c2" transform="scale(1,1.00328)" stroke="#426afe"/><use href="#c2" transform="scale(1,1.00438)" stroke="#465efb"/><use href="#c2" transform="scale(1,1.00548)" stroke="#4758f8"/><use href="#c2" transform="scale(1,1.00658)" stroke="#475cfa"/><use href="#c2" transform="scale(1,1.00768)" stroke="#4367fd"/><use href="#c2" transform="scale(1,1.00878)" stroke="#3876fe"/><use href="#c2" transform="scale(1,1.00988)" stroke="#2e84f9"/><use href="#c2" transform="scale(1,1.01099)" stroke="#2d8df2"/><use href="#c2" transform="scale(1,1.01209)" stroke="#2a93ee"/><use href="#c2" transform="scale(1,1.01320)" stroke="#2798ea"/><use href="#c2" transform="scale(1,1.01431)" stroke="#249ee6"/><use href="#c2" transform="scale(1,1.01542)" stroke="#1ea8e0"/><use href="#c2" transform="scale(1,1.01653)" stroke="#0bb3d2"/><use href="#c2" transform="scale(1,1.01764)" stroke="#0abdbd"/><use href="#c2" transform="scale(1,1.01875)" stroke="#27c2ac"/><use href="#c2" transform="scale(1,1.01987)" stroke="#2ac3a9"/><use href="#c2" transform="scale(1,1.02098)" stroke="#19bfb5"/><use href="#c2" transform="scale(1,1.02210)" stroke="#01b8ca"/><use href="#c2" transform="scale(1,1.02322)" stroke="#19acdc"/><use href="#c2" transform="scale(1,1.02433)" stroke="#22a2e4"/><use href="#c2" transform="scale(1,1.02545)" stroke="#259be8"/><use href="#c2" transform="scale(1,1.02658)" stroke="#2797ea"/><use href="#c2" transform="scale(1,1.02770)" stroke="#2896ec"/><use href="#c2" transform="scale(1,1.02882)" stroke="#2994ed"/><use href="#c2" transform="scale(1,1.02995)" stroke="#2a92ee"/></g><g id="pb3"><use href="#c2" transform="scale(1,1.00000)" stroke="#249de6"/><use href="#c2" transform="scale(1,1.00109)" stroke="#2896eb"/><use href="#c2" transform="scale(1,1.00219)" stroke="#2d8bf4"/><use href="#c2" transform="scale(1,1.00328)" stroke="#317dfc"/><use href="#c2" transform="scale(1,1.00438)" stroke="#3d70ff"/><use href="#c2" transform="scale(1,1.00548)" stroke="#416bfe"/><use href="#c2" transform="scale(1,1.00658)" stroke="#3f6eff"/><use href="#c2" transform="scale(1,1.00768)" stroke="#337afd"/><use href="#c2" transform="scale(1,1.00878)" stroke="#2d88f6"/><use href="#c2" transform="scale(1,1.00988)" stroke="#2994ed"/><use href="#c2" transform="scale(1,1.01099)" stroke="#259de7"/><use href="#c2" transform="scale(1,1.01209)" stroke="#22a2e4"/><use href="#c2" transform="scale(1,1.01320)" stroke="#1fa6e1"/><use href="#c2" transform="scale(1,1.01431)" stroke="#1aacdd"/><use href="#c2" transform="scale(1,1.01542)" stroke="#09b4d1"/><use href="#c2" transform="scale(1,1.01653)" stroke="#09bcbe"/><use href="#c2" transform="scale(1,1.01764)" stroke="#2cc4a6"/><use href="#c2" transform="scale(1,1.01875)" stroke="#3bc993"/><use href="#c2" transform="scale(1,1.01987)" stroke="#3fca8f"/><use href="#c2" transform="scale(1,1.02098)" stroke="#33c69e"/><use href="#c2" transform="scale(1,1.02210)" stroke="#1ac0b5"/><use href="#c2" transform="scale(1,1.02322)" stroke="#01b7ca"/><use href="#c2" transform="scale(1,1.02433)" stroke="#15afd9"/><use href="#c2" transform="scale(1,1.02545)" stroke="#1ca9df"/><use href="#c2" transform="scale(1,1.02658)" stroke="#1fa6e2"/><use href="#c2" transform="scale(1,1.02770)" stroke="#20a5e3"/><use href="#c2" transform="scale(1,1.02882)" stroke="#21a3e3"/><use href="#c2" transform="scale(1,1.02995)" stroke="#22a1e4"/></g><g id="pb4"><use href="#c2" transform="scale(1,1.00000)" stroke="#17aeda"/><use href="#c2" transform="scale(1,1.00109)" stroke="#1da8e0"/><use href="#c2" transform="scale(1,1.00219)" stroke="#249ee6"/><use href="#c2" transform="scale(1,1.00328)" stroke="#2b92ef"/><use href="#c2" transform="scale(1,1.00438)" stroke="#2e87f7"/><use href="#c2" transform="scale(1,1.00548)" stroke="#2f81fa"/><use href="#c2" transform="scale(1,1.00658)" stroke="#2e85f8"/><use href="#c2" transform="scale(1,1.00768)" stroke="#2c8ff0"/><use href="#c2" transform="scale(1,1.00878)" stroke="#259ce7"/><use href="#c2" transform="scale(1,1.00988)" stroke="#1fa6e1"/><use href="#c2" transform="scale(1,1.01099)" stroke="#18aedb"/><use href="#c2" transform="scale(1,1.01209)" stroke="#10b2d5"/><use href="#c2" transform="scale(1,1.01320)" stroke="#06b5cf"/><use href="#c2" transform="scale(1,1.01431)" stroke="#01b9c7"/><use href="#c2" transform="scale(1,1.01542)" stroke="#13beb8"/><use href="#c2" transform="scale(1,1.01653)" stroke="#2fc5a3"/><use href="#c2" transform="scale(1,1.01764)" stroke="#49cb86"/><use href="#c2" transform="scale(1,1.01875)" stroke="#67cd6c"/><use href="#c2" transform="scale(1,1.01987)" stroke="#6ecd67"/><use href="#c2" transform="scale(1,1.02098)" stroke="#57cc7a"/><use href="#c2" transform="scale(1,1.02210)" stroke="#37c898"/><use href="#c2" transform="scale(1,1.02322)" stroke="#21c1b0"/><use href="#c2" transform="scale(1,1.02433)" stroke="#04bbc2"/><use href="#c2" transform="scale(1,1.02545)" stroke="#02b7cb"/><use href="#c2" transform="scale(1,1.02658)" stroke="#07b5d0"/><use href="#c2" transform="scale(1,1.02770)" stroke="#0ab4d2"/><use href="#c2" transform="scale(1,1.02882)" stroke="#0cb3d3"/><use href="#c2" transform="scale(1,1.02995)" stroke="#11b1d6"/></g><g id="pb5"><use href="#c2" transform="scale(1,1.00000)" stroke="#0fbebb"/><use href="#c2" transform="scale(1,1.00109)" stroke="#02bac5"/><use href="#c2" transform="scale(1,1.00219)" stroke="#0cb3d3"/><use href="#c2" transform="scale(1,1.00328)" stroke="#1caadf"/><use href="#c2" transform="scale(1,1.00438)" stroke="#23a0e5"/><use href="#c2" transform="scale(1,1.00548)" stroke="#259ce7"/><use href="#c2" transform="scale(1,1.00658)" stroke="#249fe6"/><use href="#c2" transform="scale(1,1.00768)" stroke="#1ea7e1"/><use href="#c2" transform="scale(1,1.00878)" stroke="#11b1d6"/><use href="#c2" transform="scale(1,1.00988)" stroke="#01b9c7"/><use href="#c2" transform="scale(1,1.01099)" stroke="#0cbdbc"/><use href="#c2" transform="scale(1,1.01209)" stroke="#1bc0b4"/><use href="#c2" transform="scale(1,1.01320)" stroke="#26c2ad"/><use href="#c2" transform="scale(1,1.01431)" stroke="#2fc5a3"/><use href="#c2" transform="scale(1,1.01542)" stroke="#3cc991"/><use href="#c2" transform="scale(1,1.01653)" stroke="#5fcd73"/><use href="#c2" transform="scale(1,1.01764)" stroke="#8ecb4f"/><use href="#c2" transform="scale(1,1.01875)" stroke="#afc636"/><use href="#c2" transform="scale(1,1.01987)" stroke="#b5c533"/><use href="#c2" transform="scale(1,1.02098)" stroke="#9ec942"/><use href="#c2" transform="scale(1,1.02210)" stroke="#71cd64"/><use href="#c2" transform="scale(1,1.02322)" stroke="#47cb87"/><use href="#c2" transform="scale(1,1.02433)" stroke="#33c69d"/><use href="#c2" transform="scale(1,1.02545)" stroke="#2bc3a8"/><use href="#c2" transform="scale(1,1.02658)" stroke="#25c2ae"/><use href="#c2" transform="scale(1,1.02770)" stroke="#22c1b0"/><use href="#c2" transform="scale(1,1.02882)" stroke="#1fc0b2"/><use href="#c2" transform="scale(1,1.02995)" stroke="#1ac0b5"/></g><g id="pc0"><use href="#c2" transform="scale(1,1.00000)" stroke="#406cfe"/><use href="#c2" transform="scale(1,1.00110)" stroke="#4660fb"/><use href="#c2" transform="scale(1,1.00220)" stroke="#484ff2"/><use href="#c2" transform="scale(1,1.00330)" stroke="#473ee1"/><use href="#c2" transform="scale(1,1.00441)" stroke="#4536d3"/><use href="#c2" transform="scale(1,1.00551)" stroke="#4538d7"/><use href="#c2" transform="scale(1,1.00662)" stroke="#4744e9"/><use href="#c2" transform="scale(1,1.00773)" stroke="#4756f7"/><use href="#c2" transform="scale(1,1.00884)" stroke="#4465fd"/><use href="#c2" transform="scale(1,1.00995)" stroke="#3e70ff"/><use href="#c2" transform="scale(1,1.01106)" stroke="#3975fe"/><use href="#c2" transform="scale(1,1.01217)" stroke="#3677fe"/><use href="#c2" transform="scale(1,1.01328)" stroke="#3578fd"/><use href="#c2" transform="scale(1,1.01440)" stroke="#347afd"/><use href="#c2" transform="scale(1,1.01551)" stroke="#2f80fa"/><use href="#c2" transform="scale(1,1.01663)" stroke="#2c90f0"/><use href="#c2" transform="scale(1,1.01775)" stroke="#1aacdd"/><use href="#c2" transform="scale(1,1.01887)" stroke="#2bc3a8"/><use href="#c2" transform="scale(1,1.01999)" stroke="#70cd65"/><use href="#c2" transform="scale(1,1.02111)" stroke="#85cb55"/><use href="#c2" transform="scale(1,1.02224)" stroke="#40ca8d"/><use href="#c2" transform="scale(1,1.02336)" stroke="#04b6cd"/><use href="#c2" transform="scale(1,1.02449)" stroke="#2895ec"/><use href="#c2" transform="scale(1,1.02562)" stroke="#3876fe"/><use href="#c2" transform="scale(1,1.02674)" stroke="#465efb"/><use href="#c2" transform="scale(1,1.02787)" stroke="#4854f5"/><use href="#c2" transform="scale(1,1.02900)" stroke="#4758f8"/><use href="#c2" transform="scale(1,1.03014)" stroke="#4465fd"/><use href="#c2" transform="scale(1,1.03127)" stroke="#3d71ff"/><use href="#c2" transform="scale(1,1.03240)" stroke="#3876fe"/><use href="#c2" transform="scale(1,1.03354)" stroke="#3776fe"/><use href="#c2" transform="scale(1,1.03468)" stroke="#3a73fe"/></g><g id="pc1"><use href="#c2" transform="scale(1,1.00000)" stroke="#317efb"/><use href="#c2" transform="scale(1,1.00110)" stroke="#3d70ff"/><use href="#c2" transform="scale(1,1.00220)" stroke="#465ffb"/><use href="#c2" transform="scale(1,1.00330)" stroke="#484ef1"/><use href="#c2" transform="scale(1,1.00441)" stroke="#4745e9"/><use href="#c2" transform="scale(1,1.00551)" stroke="#4747eb"/><use href="#c2" transform="scale(1,1.00662)" stroke="#4854f6"/><use href="#c2" transform="scale(1,1.00773)" stroke="#4466fd"/><use href="#c2" transform="scale(1,1.00884)" stroke="#3776fe"/><use href="#c2" transform="scale(1,1.00995)" stroke="#2f81fa"/><use href="#c2" transform="scale(1,1.01106)" stroke="#2e86f8"/><use href="#c2" transform="scale(1,1.01217)" stroke="#2d88f6"/><use href="#c2" transform="scale(1,1.01328)" stroke="#2d88f6"/><use href="#c2" transform="scale(1,1.01440)" stroke="#2d8af4"/><use href="#c2" transform="scale(1,1.01551)" stroke="#2c90f0"/><use href="#c2" transform="scale(1,1.01663)" stroke="#249ee6"/><use href="#c2" transform="scale(1,1.01775)" stroke="#05b6cd"/><use href="#c2" transform="scale(1,1.01887)" stroke="#3dc991"/><use href="#c2" transform="scale(1,1.01999)" stroke="#9ac945"/><use href="#c2" transform="scale(1,1.02111)" stroke="#adc638"/><use href="#c2" transform="scale(1,1.02224)" stroke="#62cd70"/><use href="#c2" transform="scale(1,1.02336)" stroke="#10beba"/><use href="#c2" transform="scale(1,1.02449)" stroke="#21a3e3"/><use href="#c2" transform="scale(1,1.02562)" stroke="#2e86f7"/><use href="#c2" transform="scale(1,1.02674)" stroke="#3f6fff"/><use href="#c2" transform="scale(1,1.02787)" stroke="#4564fd"/><use href="#c2" transform="scale(1,1.02900)" stroke="#4369fe"/><use href="#c2" transform="scale(1,1.03014)" stroke="#3777fe"/><use href="#c2" transform="scale(1,1.03127)" stroke="#2f82fa"/><use href="#c2" transform="scale(1,1.03240)" stroke="#2e86f7"/><use href="#c2" transform="scale(1,1.03354)" stroke="#2e87f7"/><use href="#c2" transform="scale(1,1.03468)" stroke="#2e84f8"/></g><g id="pc2"><use href="#c2" transform="scale(1,1.00000)" stroke="#2d8bf3"/><use href="#c2" transform="scale(1,1.00110)" stroke="#3080fb"/><use href="#c2" transform="scale(1,1.00220)" stroke="#3f6efe"/><use href="#c2" transform="scale(1,1.00330)" stroke="#475cfa"/><use href="#c2" transform="scale(1,1.00441)" stroke="#4853f5"/><use href="#c2" transform="scale(1,1.00551)" stroke="#4755f6"/><use href="#c2" transform="scale(1,1.00662)" stroke="#4563fc"/><use href="#c2" transform="scale(1,1.00773)" stroke="#3875fe"/><use href="#c2" transform="scale(1,1.00884)" stroke="#2e85f8"/><use href="#c2" transform="scale(1,1.00995)" stroke="#2c8ef1"/><use href="#c2" transform="scale(1,1.01106)" stroke="#2a93ee"/><use href="#c2" transform="scale(1,1.01217)" stroke="#2995ec"/><use href="#c2" transform="scale(1,1.01328)" stroke="#2896ec"/><use href="#c2" transform="scale(1,1.01440)" stroke="#2797eb"/><use href="#c2" transform="scale(1,1.01551)" stroke="#259ce7"/><use href="#c2" transform="scale(1,1.01663)" stroke="#1ca9df"/><use href="#c2" transform="scale(1,1.01775)" stroke="#0bbdbd"/><use href="#c2" transform="scale(1,1.01887)" stroke="#59cc78"/><use href="#c2" transform="scale(1,1.01999)" stroke="#bcc42f"/><use href="#c2" transform="scale(1,1.02111)" stroke="#cdc028"/><use href="#c2" transform="scale(1,1.02224)" stroke="#87cb54"/><use href="#c2" transform="scale(1,1.02336)" stroke="#2bc3a8"/><use href="#c2" transform="scale(1,1.02449)" stroke="#18aedb"/><use href="#c2" transform="scale(1,1.02562)" stroke="#2994ed"/><use href="#c2" transform="scale(1,1.02674)" stroke="#317efb"/><use href="#c2" transform="scale(1,1.02787)" stroke="#3a73fe"/><use href="#c2" transform="scale(1,1.02900)" stroke="#3578fd"/><use href="#c2" transform="scale(1,1.03014)" stroke="#2e85f8"/><use href="#c2" transform="scale(1,1.03127)" stroke="#2c8ff0"/><use href="#c2" transform="scale(1,1.03240)" stroke="#2994ed"/><use href="#c2" transform="scale(1,1.03354)" stroke="#2994ed"/><use href="#c2" transform="scale(1,1.03468)" stroke="#2b92ef"/></g><g id="pc3"><use href="#c2" transform="scale(1,1.00000)" stroke="#259be8"/><use href="#c2" transform="scale(1,1.00110)" stroke="#2b91ef"/><use href="#c2" transform="scale(1,1.00220)" stroke="#2f81fa"/><use href="#c2" transform="scale(1,1.00330)" stroke="#3e6fff"/><use href="#c2" transform="scale(1,1.00441)" stroke="#4465fd"/><use href="#c2" transform="scale(1,1.00551)" stroke="#4367fd"/><use href="#c2" transform="scale(1,1.00662)" stroke="#3876fe"/><use href="#c2" transform="scale(1,1.00773)" stroke="#2d88f6"/><use href="#c2" transform="scale(1,1.00884)" stroke="#2896ec"/><use href="#c2" transform="scale(1,1.00995)" stroke="#249ee6"/><use href="#c2" transform="scale(1,1.01106)" stroke="#22a2e4"/><use href="#c2" transform="scale(1,1.01217)" stroke="#20a4e3"/><use href="#c2" transform="scale(1,1.01328)" stroke="#20a5e3"/><use href="#c2" transform="scale(1,1.01440)" stroke="#1fa6e2"/><use href="#c2" transform="scale(1,1.01551)" stroke="#1baade"/><use href="#c2" transform="scale(1,1.01663)" stroke="#06b5cf"/><use href="#c2" transform="scale(1,1.01775)" stroke="#2cc4a6"/><use href="#c2" transform="scale(1,1.01887)" stroke="#86cb55"/><use href="#c2" transform="scale(1,1.01999)" stroke="#e0bc2b"/><use href="#c2" transform="scale(1,1.02111)" stroke="#eeba34"/><use href="#c2" transform="scale(1,1.02224)" stroke="#b3c534"/><use href="#c2" transform="scale(1,1.02336)" stroke="#3fca8e"/><use href="#c2" transform="scale(1,1.02449)" stroke="#01b8c8"/><use href="#c2" transform="scale(1,1.02562)" stroke="#21a3e4"/><use href="#c2" transform="scale(1,1.02674)" stroke="#2c8ff0"/><use href="#c2" transform="scale(1,1.02787)" stroke="#2e86f8"/><use href="#c2" transform="scale(1,1.02900)" stroke="#2d8af4"/><use href="#c2" transform="scale(1,1.03014)" stroke="#2896ec"/><use href="#c2" transform="scale(1,1.03127)" stroke="#249fe5"/><use href="#c2" transform="scale(1,1.03240)" stroke="#21a3e4"/><use href="#c2" transform="scale(1,1.03354)" stroke="#21a3e3"/><use href="#c2" transform="scale(1,1.03468)" stroke="#23a1e4"/></g><g id="pc4"><use href="#c2" transform="scale(1,1.00000)" stroke="#19acdc"/><use href="#c2" transform="scale(1,1.00110)" stroke="#21a3e3"/><use href="#c2" transform="scale(1,1.00220)" stroke="#2895ec"/><use href="#c2" transform="scale(1,1.00330)" stroke="#2e85f8"/><use href="#c2" transform="scale(1,1.00441)" stroke="#327cfc"/><use href="#c2" transform="scale(1,1.00551)" stroke="#307efb"/><use href="#c2" transform="scale(1,1.00662)" stroke="#2d8bf3"/><use href="#c2" transform="scale(1,1.00773)" stroke="#259be8"/><use href="#c2" transform="scale(1,1.00884)" stroke="#1ea8e1"/><use href="#c2" transform="scale(1,1.00995)" stroke="#16afd9"/><use href="#c2" transform="scale(1,1.01106)" stroke="#0fb2d5"/><use href="#c2" transform="scale(1,1.01217)" stroke="#0cb3d3"/><use href="#c2" transform="scale(1,1.01328)" stroke="#0ab4d2"/><use href="#c2" transform="scale(1,1.01440)" stroke="#07b5d0"/><use href="#c2" transform="scale(1,1.01551)" stroke="#01b8c9"/><use href="#c2" transform="scale(1,1.01663)" stroke="#19bfb6"/><use href="#c2" transform="scale(1,1.01775)" stroke="#49cb85"/><use href="#c2" transform="scale(1,1.01887)" stroke="#bac430"/><use href="#c2" transform="scale(1,1.01999)" stroke="#febf3c"/><use href="#c2" transform="scale(1,1.02111)" stroke="#fec735"/><use href="#c2" transform="scale(1,1.02224)" stroke="#e0bc2a"/><use href="#c2" transform="scale(1,1.02336)" stroke="#6fcd66"/><use href="#c2" transform="scale(1,1.02449)" stroke="#24c1ae"/><use href="#c2" transform="scale(1,1.02562)" stroke="#0eb2d4"/><use href="#c2" transform="scale(1,1.02674)" stroke="#22a2e4"/><use href="#c2" transform="scale(1,1.02787)" stroke="#2699e9"/><use href="#c2" transform="scale(1,1.02900)" stroke="#249de6"/><use href="#c2" transform="scale(1,1.03014)" stroke="#1ea8e1"/><use href="#c2" transform="scale(1,1.03127)" stroke="#15afd9"/><use href="#c2" transform="scale(1,1.03240)" stroke="#0eb2d4"/><use href="#c2" transform="scale(1,1.03354)" stroke="#0db3d4"/><use href="#c2" transform="scale(1,1.03468)" stroke="#12b1d6"/></g><g id="pc5"><use href="#c2" transform="scale(1,1.00000)" stroke="#09bdbe"/><use href="#c2" transform="scale(1,1.00110)" stroke="#03b7cc"/><use href="#c2" transform="scale(1,1.00220)" stroke="#19acdc"/><use href="#c2" transform="scale(1,1.00330)" stroke="#249fe5"/><use href="#c2" transform="scale(1,1.00441)" stroke="#2797eb"/><use href="#c2" transform="scale(1,1.00551)" stroke="#2699e9"/><use href="#c2" transform="scale(1,1.00662)" stroke="#20a4e3"/><use href="#c2" transform="scale(1,1.00773)" stroke="#12b1d6"/><use href="#c2" transform="scale(1,1.00884)" stroke="#01bac6"/><use href="#c2" transform="scale(1,1.00995)" stroke="#10beba"/><use href="#c2" transform="scale(1,1.01106)" stroke="#1cc0b4"/><use href="#c2" transform="scale(1,1.01217)" stroke="#20c1b1"/><use href="#c2" transform="scale(1,1.01328)" stroke="#21c1b0"/><use href="#c2" transform="scale(1,1.01440)" stroke="#25c2ae"/><use href="#c2" transform="scale(1,1.01551)" stroke="#2dc4a6"/><use href="#c2" transform="scale(1,1.01663)" stroke="#3fca8e"/><use href="#c2" transform="scale(1,1.01775)" stroke="#8ecb4f"/><use href="#c2" transform="scale(1,1.01887)" stroke="#f1ba37"/><use href="#c2" transform="scale(1,1.01999)" stroke="#f6de29"/><use href="#c2" transform="scale(1,1.02111)" stroke="#f5e725"/><use href="#c2" transform="scale(1,1.02224)" stroke="#fec636"/><use href="#c2" transform="scale(1,1.02336)" stroke="#b7c532"/><use href="#c2" transform="scale(1,1.02449)" stroke="#4bcb84"/><use href="#c2" transform="scale(1,1.02562)" stroke="#1dc0b3"/><use href="#c2" transform="scale(1,1.02674)" stroke="#05b6ce"/><use href="#c2" transform="scale(1,1.02787)" stroke="#14b0d8"/><use href="#c2" transform="scale(1,1.02900)" stroke="#0db3d4"/><use href="#c2" transform="scale(1,1.03014)" stroke="#01bac5"/><use href="#c2" transform="scale(1,1.03127)" stroke="#13beb9"/><use href="#c2" transform="scale(1,1.03240)" stroke="#1dc0b3"/><use href="#c2" transform="scale(1,1.03354)" stroke="#1ec0b2"/><use href="#c2" transform="scale(1,1.03468)" stroke="#19bfb6"/></g><g id="pd0"><use href="#c2" transform="scale(1,1.00000)" stroke="#3975fe"/><use href="#c2" transform="scale(1,1.00112)" stroke="#3e6fff"/><use href="#c2" transform="scale(1,1.00224)" stroke="#4465fd"/><use href="#c2" transform="scale(1,1.00336)" stroke="#4757f7"/><use href="#c2" transform="scale(1,1.00449)" stroke="#4848ec"/><use href="#c2" transform="scale(1,1.00561)" stroke="#463ddf"/><use href="#c2" transform="scale(1,1.00674)" stroke="#463bdd"/><use href="#c2" transform="scale(1,1.00787)" stroke="#4744e9"/><use href="#c2" transform="scale(1,1.00900)" stroke="#4755f6"/><use href="#c2" transform="scale(1,1.01013)" stroke="#4368fe"/><use href="#c2" transform="scale(1,1.01126)" stroke="#347afd"/><use href="#c2" transform="scale(1,1.01239)" stroke="#2d88f6"/><use href="#c2" transform="scale(1,1.01352)" stroke="#2c90f0"/><use href="#c2" transform="scale(1,1.01466)" stroke="#2a93ed"/><use href="#c2" transform="scale(1,1.01580)" stroke="#2b91ef"/><use href="#c2" transform="scale(1,1.01693)" stroke="#2d8af4"/><use href="#c2" transform="scale(1,1.01807)" stroke="#307ffb"/><use href="#c2" transform="scale(1,1.01921)" stroke="#3e70ff"/><use href="#c2" transform="scale(1,1.02036)" stroke="#465ffb"/><use href="#c2" transform="scale(1,1.02150)" stroke="#4852f4"/><use href="#c2" transform="scale(1,1.02264)" stroke="#484df0"/><use href="#c2" transform="scale(1,1.02379)" stroke="#4852f4"/><use href="#c2" transform="scale(1,1.02494)" stroke="#465efb"/><use href="#c2" transform="scale(1,1.02608)" stroke="#416bfe"/><use href="#c2" transform="scale(1,1.02723)" stroke="#3678fe"/><use href="#c2" transform="scale(1,1.02838)" stroke="#2f82fa"/><use href="#c2" transform="scale(1,1.02954)" stroke="#2d8bf4"/><use href="#c2" transform="scale(1,1.03069)" stroke="#2895ec"/><use href="#c2" transform="scale(1,1.03184)" stroke="#23a0e5"/><use href="#c2" transform="scale(1,1.03300)" stroke="#1ea7e1"/><use href="#c2" transform="scale(1,1.03416)" stroke="#1aabdd"/><use href="#c2" transform="scale(1,1.03531)" stroke="#1caadf"/><use href="#c2" transform="scale(1,1.03647)" stroke="#20a4e3"/><use href="#c2" transform="scale(1,1.03763)" stroke="#269be8"/><use href="#c2" transform="scale(1,1.03880)" stroke="#2b90ef"/><use href="#c2" transform="scale(1,1.03996)" stroke="#2e87f7"/><use href="#c2" transform="scale(1,1.04113)" stroke="#2f80fa"/><use href="#c2" transform="scale(1,1.04229)" stroke="#327cfc"/><use href="#c2" transform="scale(1,1.04346)" stroke="#347afd"/><use href="#c2" transform="scale(1,1.04463)" stroke="#3578fd"/><use href="#c2" transform="scale(1,1.04580)" stroke="#3677fe"/></g><g id="pd1"><use href="#c2" transform="scale(1,1.00000)" stroke="#2e85f8"/><use href="#c2" transform="scale(1,1.00112)" stroke="#2f80fa"/><use href="#c2" transform="scale(1,1.00224)" stroke="#3776fe"/><use href="#c2" transform="scale(1,1.00336)" stroke="#4367fd"/><use href="#c2" transform="scale(1,1.00449)" stroke="#4758f8"/><use href="#c2" transform="scale(1,1.00561)" stroke="#484df0"/><use href="#c2" transform="scale(1,1.00674)" stroke="#484bef"/><use href="#c2" transform="scale(1,1.00787)" stroke="#4855f6"/><use href="#c2" transform="scale(1,1.00900)" stroke="#4465fd"/><use href="#c2" transform="scale(1,1.01013)" stroke="#3479fd"/><use href="#c2" transform="scale(1,1.01126)" stroke="#2d8af5"/><use href="#c2" transform="scale(1,1.01239)" stroke="#2796eb"/><use href="#c2" transform="scale(1,1.01352)" stroke="#249ee6"/><use href="#c2" transform="scale(1,1.01466)" stroke="#22a1e4"/><use href="#c2" transform="scale(1,1.01580)" stroke="#249fe5"/><use href="#c2" transform="scale(1,1.01693)" stroke="#2699ea"/><use href="#c2" transform="scale(1,1.01807)" stroke="#2c8ef1"/><use href="#c2" transform="scale(1,1.01921)" stroke="#2f81fa"/><use href="#c2" transform="scale(1,1.02036)" stroke="#3d70ff"/><use href="#c2" transform="scale(1,1.02150)" stroke="#4562fc"/><use href="#c2" transform="scale(1,1.02264)" stroke="#475dfa"/><use href="#c2" transform="scale(1,1.02379)" stroke="#4562fc"/><use href="#c2" transform="scale(1,1.02494)" stroke="#3f6eff"/><use href="#c2" transform="scale(1,1.02608)" stroke="#317dfc"/><use href="#c2" transform="scale(1,1.02723)" stroke="#2d88f6"/><use href="#c2" transform="scale(1,1.02838)" stroke="#2b91ef"/><use href="#c2" transform="scale(1,1.02954)" stroke="#2699e9"/><use href="#c2" transform="scale(1,1.03069)" stroke="#21a3e3"/><use href="#c2" transform="scale(1,1.03184)" stroke="#19acdc"/><use href="#c2" transform="scale(1,1.03300)" stroke="#0db3d3"/><use href="#c2" transform="scale(1,1.03416)" stroke="#05b6ce"/><use href="#c2" transform="scale(1,1.03531)" stroke="#07b5d0"/><use href="#c2" transform="scale(1,1.03647)" stroke="#14b0d8"/><use href="#c2" transform="scale(1,1.03763)" stroke="#1da8e0"/><use href="#c2" transform="scale(1,1.03880)" stroke="#249ee6"/><use href="#c2" transform="scale(1,1.03996)" stroke="#2896eb"/><use href="#c2" transform="scale(1,1.04113)" stroke="#2c90f0"/><use href="#c2" transform="scale(1,1.04229)" stroke="#2d8cf3"/><use href="#c2" transform="scale(1,1.04346)" stroke="#2d8af5"/><use href="#c2" transform="scale(1,1.04463)" stroke="#2d89f6"/><use href="#c2" transform="scale(1,1.04580)" stroke="#2d88f6"/></g><g id="pd2"><use href="#c2" transform="scale(1,1.00000)" stroke="#2a93ee"/><use href="#c2" transform="scale(1,1.00112)" stroke="#2c8ef1"/><use href="#c2" transform="scale(1,1.00224)" stroke="#2e85f8"/><use href="#c2" transform="scale(1,1.00336)" stroke="#3777fe"/><use href="#c2" transform="scale(1,1.00449)" stroke="#4466fd"/><use href="#c2" transform="scale(1,1.00561)" stroke="#475bf9"/><use href="#c2" transform="scale(1,1.00674)" stroke="#4759f9"/><use href="#c2" transform="scale(1,1.00787)" stroke="#4563fc"/><use href="#c2" transform="scale(1,1.00900)" stroke="#3975fe"/><use href="#c2" transform="scale(1,1.01013)" stroke="#2d88f6"/><use href="#c2" transform="scale(1,1.01126)" stroke="#2797eb"/><use href="#c2" transform="scale(1,1.01239)" stroke="#22a2e4"/><use href="#c2" transform="scale(1,1.01352)" stroke="#1caadf"/><use href="#c2" transform="scale(1,1.01466)" stroke="#19acdc"/><use href="#c2" transform="scale(1,1.01580)" stroke="#1baade"/><use href="#c2" transform="scale(1,1.01693)" stroke="#20a4e3"/><use href="#c2" transform="scale(1,1.01807)" stroke="#259be8"/><use href="#c2" transform="scale(1,1.01921)" stroke="#2c8ff1"/><use href="#c2" transform="scale(1,1.02036)" stroke="#3080fb"/><use href="#c2" transform="scale(1,1.02150)" stroke="#3c71ff"/><use href="#c2" transform="scale(1,1.02264)" stroke="#416bfe"/><use href="#c2" transform="scale(1,1.02379)" stroke="#3d71ff"/><use href="#c2" transform="scale(1,1.02494)" stroke="#317efb"/><use href="#c2" transform="scale(1,1.02608)" stroke="#2d8bf4"/><use href="#c2" transform="scale(1,1.02723)" stroke="#2895ec"/><use href="#c2" transform="scale(1,1.02838)" stroke="#249de6"/><use href="#c2" transform="scale(1,1.02954)" stroke="#1fa5e2"/><use href="#c2" transform="scale(1,1.03069)" stroke="#17aeda"/><use href="#c2" transform="scale(1,1.03184)" stroke="#06b5cf"/><use href="#c2" transform="scale(1,1.03300)" stroke="#02bac3"/><use href="#c2" transform="scale(1,1.03416)" stroke="#09bdbe"/><use href="#c2" transform="scale(1,1.03531)" stroke="#07bcc0"/><use href="#c2" transform="scale(1,1.03647)" stroke="#01b8c9"/><use href="#c2" transform="scale(1,1.03763)" stroke="#0fb2d5"/><use href="#c2" transform="scale(1,1.03880)" stroke="#1caadf"/><use href="#c2" transform="scale(1,1.03996)" stroke="#22a2e4"/><use href="#c2" transform="scale(1,1.04113)" stroke="#259ce7"/><use href="#c2" transform="scale(1,1.04229)" stroke="#2699e9"/><use href="#c2" transform="scale(1,1.04346)" stroke="#2797eb"/><use href="#c2" transform="scale(1,1.04463)" stroke="#2896ec"/><use href="#c2" transform="scale(1,1.04580)" stroke="#2995ec"/></g><g id="pd3"><use href="#c2" transform="scale(1,1.00000)" stroke="#22a2e4"/><use href="#c2" transform="scale(1,1.00112)" stroke="#249ee6"/><use href="#c2" transform="scale(1,1.00224)" stroke="#2896ec"/><use href="#c2" transform="scale(1,1.00336)" stroke="#2d89f5"/><use href="#c2" transform="scale(1,1.00449)" stroke="#3479fd"/><use href="#c2" transform="scale(1,1.00561)" stroke="#406dfe"/><use href="#c2" transform="scale(1,1.00674)" stroke="#416cfe"/><use href="#c2" transform="scale(1,1.00787)" stroke="#3876fe"/><use href="#c2" transform="scale(1,1.00900)" stroke="#2e87f7"/><use href="#c2" transform="scale(1,1.01013)" stroke="#2798ea"/><use href="#c2" transform="scale(1,1.01126)" stroke="#1fa6e2"/><use href="#c2" transform="scale(1,1.01239)" stroke="#14b0d8"/><use href="#c2" transform="scale(1,1.01352)" stroke="#06b5cf"/><use href="#c2" transform="scale(1,1.01466)" stroke="#02b7cb"/><use href="#c2" transform="scale(1,1.01580)" stroke="#05b6cd"/><use href="#c2" transform="scale(1,1.01693)" stroke="#11b1d6"/><use href="#c2" transform="scale(1,1.01807)" stroke="#1caadf"/><use href="#c2" transform="scale(1,1.01921)" stroke="#249ee6"/><use href="#c2" transform="scale(1,1.02036)" stroke="#2b91ef"/><use href="#c2" transform="scale(1,1.02150)" stroke="#2e84f8"/><use href="#c2" transform="scale(1,1.02264)" stroke="#307ffb"/><use href="#c2" transform="scale(1,1.02379)" stroke="#2e83f9"/><use href="#c2" transform="scale(1,1.02494)" stroke="#2c8ff1"/><use href="#c2" transform="scale(1,1.02608)" stroke="#259be8"/><use href="#c2" transform="scale(1,1.02723)" stroke="#20a4e3"/><use href="#c2" transform="scale(1,1.02838)" stroke="#1aabdd"/><use href="#c2" transform="scale(1,1.02954)" stroke="#0fb2d4"/><use href="#c2" transform="scale(1,1.03069)" stroke="#01b9c8"/><use href="#c2" transform="scale(1,1.03184)" stroke="#10beba"/><use href="#c2" transform="scale(1,1.03300)" stroke="#25c2ae"/><use href="#c2" transform="scale(1,1.03416)" stroke="#2cc4a7"/><use href="#c2" transform="scale(1,1.03531)" stroke="#29c3a9"/><use href="#c2" transform="scale(1,1.03647)" stroke="#1cc0b3"/><use href="#c2" transform="scale(1,1.03763)" stroke="#05bbc1"/><use href="#c2" transform="scale(1,1.03880)" stroke="#06b6ce"/><use href="#c2" transform="scale(1,1.03996)" stroke="#14b0d8"/><use href="#c2" transform="scale(1,1.04113)" stroke="#1babde"/><use href="#c2" transform="scale(1,1.04229)" stroke="#1ea7e1"/><use href="#c2" transform="scale(1,1.04346)" stroke="#1fa6e2"/><use href="#c2" transform="scale(1,1.04463)" stroke="#20a5e3"/><use href="#c2" transform="scale(1,1.04580)" stroke="#20a4e3"/></g><g id="pd4"><use href="#c2" transform="scale(1,1.00000)" stroke="#10b2d5"/><use href="#c2" transform="scale(1,1.00112)" stroke="#16aeda"/><use href="#c2" transform="scale(1,1.00224)" stroke="#1ea7e1"/><use href="#c2" transform="scale(1,1.00336)" stroke="#259ce7"/><use href="#c2" transform="scale(1,1.00449)" stroke="#2c8ef1"/><use href="#c2" transform="scale(1,1.00561)" stroke="#2e84f9"/><use href="#c2" transform="scale(1,1.00674)" stroke="#2f82f9"/><use href="#c2" transform="scale(1,1.00787)" stroke="#2d8bf3"/><use href="#c2" transform="scale(1,1.00900)" stroke="#269ae8"/><use href="#c2" transform="scale(1,1.01013)" stroke="#1ca9df"/><use href="#c2" transform="scale(1,1.01126)" stroke="#07b5d0"/><use href="#c2" transform="scale(1,1.01239)" stroke="#06bbc1"/><use href="#c2" transform="scale(1,1.01352)" stroke="#19bfb5"/><use href="#c2" transform="scale(1,1.01466)" stroke="#20c1b1"/><use href="#c2" transform="scale(1,1.01580)" stroke="#1bc0b4"/><use href="#c2" transform="scale(1,1.01693)" stroke="#0abdbd"/><use href="#c2" transform="scale(1,1.01807)" stroke="#02b7cb"/><use href="#c2" transform="scale(1,1.01921)" stroke="#16afd9"/><use href="#c2" transform="scale(1,1.02036)" stroke="#21a3e3"/><use href="#c2" transform="scale(1,1.02150)" stroke="#2798ea"/><use href="#c2" transform="scale(1,1.02264)" stroke="#2a93ee"/><use href="#c2" transform="scale(1,1.02379)" stroke="#2797eb"/><use href="#c2" transform="scale(1,1.02494)" stroke="#22a1e4"/><use href="#c2" transform="scale(1,1.02608)" stroke="#1aacdd"/><use href="#c2" transform="scale(1,1.02723)" stroke="#0bb3d2"/><use href="#c2" transform="scale(1,1.02838)" stroke="#01b9c8"/><use href="#c2" transform="scale(1,1.02954)" stroke="#0cbdbc"/><use href="#c2" transform="scale(1,1.03069)" stroke="#25c2ae"/><use href="#c2" transform="scale(1,1.03184)" stroke="#32c69e"/><use href="#c2" transform="scale(1,1.03300)" stroke="#3eca8f"/><use href="#c2" transform="scale(1,1.03416)" stroke="#47cb87"/><use href="#c2" transform="scale(1,1.03531)" stroke="#44cb89"/><use href="#c2" transform="scale(1,1.03647)" stroke="#38c896"/><use href="#c2" transform="scale(1,1.03763)" stroke="#2dc4a6"/><use href="#c2" transform="scale(1,1.03880)" stroke="#1abfb5"/><use href="#c2" transform="scale(1,1.03996)" stroke="#05bbc1"/><use href="#c2" transform="scale(1,1.04113)" stroke="#01b8c9"/><use href="#c2" transform="scale(1,1.04229)" stroke="#05b6ce"/><use href="#c2" transform="scale(1,1.04346)" stroke="#08b5d0"/><use href="#c2" transform="scale(1,1.04463)" stroke="#0ab4d1"/><use href="#c2" transform="scale(1,1.04580)" stroke="#0cb3d3"/></g><g id="pd5"><use href="#c2" transform="scale(1,1.00000)" stroke="#1bc0b4"/><use href="#c2" transform="scale(1,1.00112)" stroke="#0fbeba"/><use href="#c2" transform="scale(1,1.00224)" stroke="#01bac6"/><use href="#c2" transform="scale(1,1.00336)" stroke="#10b2d5"/><use href="#c2" transform="scale(1,1.00449)" stroke="#1ea7e1"/><use href="#c2" transform="scale(1,1.00561)" stroke="#249ee6"/><use href="#c2" transform="scale(1,1.00674)" stroke="#259ce7"/><use href="#c2" transform="scale(1,1.00787)" stroke="#20a4e3"/><use href="#c2" transform="scale(1,1.00900)" stroke="#13b1d7"/><use href="#c2" transform="scale(1,1.01013)" stroke="#03bbc3"/><use href="#c2" transform="scale(1,1.01126)" stroke="#24c2ae"/><use href="#c2" transform="scale(1,1.01239)" stroke="#34c79c"/><use href="#c2" transform="scale(1,1.01352)" stroke="#40ca8d"/><use href="#c2" transform="scale(1,1.01466)" stroke="#47cb87"/><use href="#c2" transform="scale(1,1.01580)" stroke="#42ca8b"/><use href="#c2" transform="scale(1,1.01693)" stroke="#37c898"/><use href="#c2" transform="scale(1,1.01807)" stroke="#2bc3a8"/><use href="#c2" transform="scale(1,1.01921)" stroke="#11beba"/><use href="#c2" transform="scale(1,1.02036)" stroke="#03b7cc"/><use href="#c2" transform="scale(1,1.02150)" stroke="#16afda"/><use href="#c2" transform="scale(1,1.02264)" stroke="#1babde"/><use href="#c2" transform="scale(1,1.02379)" stroke="#17aeda"/><use href="#c2" transform="scale(1,1.02494)" stroke="#05b6ce"/><use href="#c2" transform="scale(1,1.02608)" stroke="#08bcbf"/><use href="#c2" transform="scale(1,1.02723)" stroke="#20c1b1"/><use href="#c2" transform="scale(1,1.02838)" stroke="#2ec4a4"/><use href="#c2" transform="scale(1,1.02954)" stroke="#38c896"/><use href="#c2" transform="scale(1,1.03069)" stroke="#4ccb83"/><use href="#c2" transform="scale(1,1.03184)" stroke="#67cd6d"/><use href="#c2" transform="scale(1,1.03300)" stroke="#80cc59"/><use href="#c2" transform="scale(1,1.03416)" stroke="#8ccb50"/><use href="#c2" transform="scale(1,1.03531)" stroke="#88cb53"/><use href="#c2" transform="scale(1,1.03647)" stroke="#74cc62"/><use href="#c2" transform="scale(1,1.03763)" stroke="#59cc78"/><use href="#c2" transform="scale(1,1.03880)" stroke="#40ca8d"/><use href="#c2" transform="scale(1,1.03996)" stroke="#34c79c"/><use href="#c2" transform="scale(1,1.04113)" stroke="#2dc4a6"/><use href="#c2" transform="scale(1,1.04229)" stroke="#27c2ab"/><use href="#c2" transform="scale(1,1.04346)" stroke="#24c1ae"/><use href="#c2" transform="scale(1,1.04463)" stroke="#22c1b0"/><use href="#c2" transform="scale(1,1.04580)" stroke="#20c1b1"/></g><g id="pe0"><use href="#c2" transform="scale(1,1.00000)" stroke="#347afd"/><use href="#c2" transform="scale(1,1.00108)" stroke="#3b73fe"/><use href="#c2" transform="scale(1,1.00216)" stroke="#426afe"/><use href="#c2" transform="scale(1,1.00325)" stroke="#4661fc"/><use href="#c2" transform="scale(1,1.00433)" stroke="#475bf9"/><use href="#c2" transform="scale(1,1.00541)" stroke="#475af9"/><use href="#c2" transform="scale(1,1.00650)" stroke="#465ffb"/><use href="#c2" transform="scale(1,1.00759)" stroke="#4368fe"/><use href="#c2" transform="scale(1,1.00868)" stroke="#3c71ff"/><use href="#c2" transform="scale(1,1.00977)" stroke="#3578fd"/><use href="#c2" transform="scale(1,1.01086)" stroke="#317dfc"/><use href="#c2" transform="scale(1,1.01195)" stroke="#307ffb"/><use href="#c2" transform="scale(1,1.01304)" stroke="#307ffb"/><use href="#c2" transform="scale(1,1.01414)" stroke="#3080fb"/><use href="#c2" transform="scale(1,1.01523)" stroke="#307ffb"/><use href="#c2" transform="scale(1,1.01633)" stroke="#307ffb"/><use href="#c2" transform="scale(1,1.01743)" stroke="#317dfc"/></g><g id="pe1"><use href="#c2" transform="scale(1,1.00000)" stroke="#2d8af5"/><use href="#c2" transform="scale(1,1.00108)" stroke="#2e84f9"/><use href="#c2" transform="scale(1,1.00216)" stroke="#327bfc"/><use href="#c2" transform="scale(1,1.00325)" stroke="#3c72ff"/><use href="#c2" transform="scale(1,1.00433)" stroke="#416bfe"/><use href="#c2" transform="scale(1,1.00541)" stroke="#426afe"/><use href="#c2" transform="scale(1,1.00650)" stroke="#3e70ff"/><use href="#c2" transform="scale(1,1.00759)" stroke="#3479fd"/><use href="#c2" transform="scale(1,1.00868)" stroke="#2f82f9"/><use href="#c2" transform="scale(1,1.00977)" stroke="#2d89f6"/><use href="#c2" transform="scale(1,1.01086)" stroke="#2d8cf3"/><use href="#c2" transform="scale(1,1.01195)" stroke="#2c8ef1"/><use href="#c2" transform="scale(1,1.01304)" stroke="#2c8ff1"/><use href="#c2" transform="scale(1,1.01414)" stroke="#2c8ff1"/><use href="#c2" transform="scale(1,1.01523)" stroke="#2c8ff1"/><use href="#c2" transform="scale(1,1.01633)" stroke="#2c8ef1"/><use href="#c2" transform="scale(1,1.01743)" stroke="#2d8df2"/></g><g id="pe2"><use href="#c2" transform="scale(1,1.00000)" stroke="#2797eb"/><use href="#c2" transform="scale(1,1.00108)" stroke="#2b91ef"/><use href="#c2" transform="scale(1,1.00216)" stroke="#2d89f5"/><use href="#c2" transform="scale(1,1.00325)" stroke="#2f81fa"/><use href="#c2" transform="scale(1,1.00433)" stroke="#337afd"/><use href="#c2" transform="scale(1,1.00541)" stroke="#347afd"/><use href="#c2" transform="scale(1,1.00650)" stroke="#307ffb"/><use href="#c2" transform="scale(1,1.00759)" stroke="#2d88f6"/><use href="#c2" transform="scale(1,1.00868)" stroke="#2c90f0"/><use href="#c2" transform="scale(1,1.00977)" stroke="#2896ec"/><use href="#c2" transform="scale(1,1.01086)" stroke="#2699e9"/><use href="#c2" transform="scale(1,1.01195)" stroke="#269be8"/><use href="#c2" transform="scale(1,1.01304)" stroke="#259be8"/><use href="#c2" transform="scale(1,1.01414)" stroke="#259be7"/><use href="#c2" transform="scale(1,1.01523)" stroke="#259be7"/><use href="#c2" transform="scale(1,1.01633)" stroke="#259be8"/><use href="#c2" transform="scale(1,1.01743)" stroke="#269ae9"/></g><g id="pe3"><use href="#c2" transform="scale(1,1.00000)" stroke="#1fa5e2"/><use href="#c2" transform="scale(1,1.00108)" stroke="#23a1e5"/><use href="#c2" transform="scale(1,1.00216)" stroke="#2699e9"/><use href="#c2" transform="scale(1,1.00325)" stroke="#2b92ee"/><use href="#c2" transform="scale(1,1.00433)" stroke="#2d8cf3"/><use href="#c2" transform="scale(1,1.00541)" stroke="#2d8bf3"/><use href="#c2" transform="scale(1,1.00650)" stroke="#2b90f0"/><use href="#c2" transform="scale(1,1.00759)" stroke="#2798ea"/><use href="#c2" transform="scale(1,1.00868)" stroke="#249fe5"/><use href="#c2" transform="scale(1,1.00977)" stroke="#20a5e3"/><use href="#c2" transform="scale(1,1.01086)" stroke="#1da8e0"/><use href="#c2" transform="scale(1,1.01195)" stroke="#1ca9df"/><use href="#c2" transform="scale(1,1.01304)" stroke="#1caadf"/><use href="#c2" transform="scale(1,1.01414)" stroke="#1caadf"/><use href="#c2" transform="scale(1,1.01523)" stroke="#1caadf"/><use href="#c2" transform="scale(1,1.01633)" stroke="#1ca9df"/><use href="#c2" transform="scale(1,1.01743)" stroke="#1da8e0"/></g><g id="pe4"><use href="#c2" transform="scale(1,1.00000)" stroke="#08b4d0"/><use href="#c2" transform="scale(1,1.00108)" stroke="#12b1d7"/><use href="#c2" transform="scale(1,1.00216)" stroke="#1babde"/><use href="#c2" transform="scale(1,1.00325)" stroke="#20a4e3"/><use href="#c2" transform="scale(1,1.00433)" stroke="#249fe5"/><use href="#c2" transform="scale(1,1.00541)" stroke="#249ee6"/><use href="#c2" transform="scale(1,1.00650)" stroke="#21a3e4"/><use href="#c2" transform="scale(1,1.00759)" stroke="#1caadf"/><use href="#c2" transform="scale(1,1.00868)" stroke="#14b0d8"/><use href="#c2" transform="scale(1,1.00977)" stroke="#0ab4d1"/><use href="#c2" transform="scale(1,1.01086)" stroke="#04b6cd"/><use href="#c2" transform="scale(1,1.01195)" stroke="#02b7cb"/><use href="#c2" transform="scale(1,1.01304)" stroke="#01b7ca"/><use href="#c2" transform="scale(1,1.01414)" stroke="#01b8ca"/><use href="#c2" transform="scale(1,1.01523)" stroke="#01b7ca"/><use href="#c2" transform="scale(1,1.01633)" stroke="#02b7cb"/><use href="#c2" transform="scale(1,1.01743)" stroke="#04b6cd"/></g><g id="pe5"><use href="#c2" transform="scale(1,1.00000)" stroke="#24c1af"/><use href="#c2" transform="scale(1,1.00108)" stroke="#18bfb6"/><use href="#c2" transform="scale(1,1.00216)" stroke="#06bcc0"/><use href="#c2" transform="scale(1,1.00325)" stroke="#02b7cb"/><use href="#c2" transform="scale(1,1.00433)" stroke="#0ab4d1"/><use href="#c2" transform="scale(1,1.00541)" stroke="#0bb4d2"/><use href="#c2" transform="scale(1,1.00650)" stroke="#04b6cc"/><use href="#c2" transform="scale(1,1.00759)" stroke="#03bbc3"/><use href="#c2" transform="scale(1,1.00868)" stroke="#14beb8"/><use href="#c2" transform="scale(1,1.00977)" stroke="#22c1b0"/><use href="#c2" transform="scale(1,1.01086)" stroke="#28c2ab"/><use href="#c2" transform="scale(1,1.01195)" stroke="#2ac3a8"/><use href="#c2" transform="scale(1,1.01304)" stroke="#2bc4a7"/><use href="#c2" transform="scale(1,1.01414)" stroke="#2cc4a7"/><use href="#c2" transform="scale(1,1.01523)" stroke="#2cc4a7"/><use href="#c2" transform="scale(1,1.01633)" stroke="#2bc3a8"/><use href="#c2" transform="scale(1,1.01743)" stroke="#29c3aa"/></g>
<g id="na0"><use href="#c3" transform="scale(1,1.00000)" stroke="#4269fe"/><use href="#c3" transform="scale(1,1.00109)" stroke="#4758f8"/><use href="#c3" transform="scale(1,1.00217)" stroke="#4742e6"/><use href="#c3" transform="scale(1,1.00326)" stroke="#4536d3"/><use href="#c3" transform="scale(1,1.00435)" stroke="#463ada"/><use href="#c3" transform="scale(1,1.00544)" stroke="#4848ec"/><use href="#c3" transform="scale(1,1.00654)" stroke="#4854f5"/><use href="#c3" transform="scale(1,1.00763)" stroke="#475af9"/><use href="#c3" transform="scale(1,1.00872)" stroke="#465efb"/><use href="#c3" transform="scale(1,1.00982)" stroke="#4562fc"/><use href="#c3" transform="scale(1,1.01092)" stroke="#4367fd"/><use href="#c3" transform="scale(1,1.01201)" stroke="#416cfe"/><use href="#c3" transform="scale(1,1.01311)" stroke="#3e6fff"/><use href="#c3" transform="scale(1,1.01421)" stroke="#3e70ff"/></g><g id="na1"><use href="#c3" transform="scale(1,1.00000)" stroke="#337afd"/><use href="#c3" transform="scale(1,1.00109)" stroke="#4369fe"/><use href="#c3" transform="scale(1,1.00217)" stroke="#4852f4"/><use href="#c3" transform="scale(1,1.00326)" stroke="#4745e9"/><use href="#c3" transform="scale(1,1.00435)" stroke="#4849ed"/><use href="#c3" transform="scale(1,1.00544)" stroke="#4758f8"/><use href="#c3" transform="scale(1,1.00654)" stroke="#4564fd"/><use href="#c3" transform="scale(1,1.00763)" stroke="#416bfe"/><use href="#c3" transform="scale(1,1.00872)" stroke="#3f6fff"/><use href="#c3" transform="scale(1,1.00982)" stroke="#3b73fe"/><use href="#c3" transform="scale(1,1.01092)" stroke="#3678fd"/><use href="#c3" transform="scale(1,1.01201)" stroke="#317dfc"/><use href="#c3" transform="scale(1,1.01311)" stroke="#2f81fa"/><use href="#c3" transform="scale(1,1.01421)" stroke="#2f81fa"/></g><g id="na2"><use href="#c3" transform="scale(1,1.00000)" stroke="#2d89f6"/><use href="#c3" transform="scale(1,1.00109)" stroke="#3578fd"/><use href="#c3" transform="scale(1,1.00217)" stroke="#4661fc"/><use href="#c3" transform="scale(1,1.00326)" stroke="#4853f5"/><use href="#c3" transform="scale(1,1.00435)" stroke="#4757f7"/><use href="#c3" transform="scale(1,1.00544)" stroke="#4466fd"/><use href="#c3" transform="scale(1,1.00654)" stroke="#3a73fe"/><use href="#c3" transform="scale(1,1.00763)" stroke="#347afd"/><use href="#c3" transform="scale(1,1.00872)" stroke="#317efb"/><use href="#c3" transform="scale(1,1.00982)" stroke="#2f82f9"/><use href="#c3" transform="scale(1,1.01092)" stroke="#2e87f7"/><use href="#c3" transform="scale(1,1.01201)" stroke="#2d8bf4"/><use href="#c3" transform="scale(1,1.01311)" stroke="#2c8ef1"/><use href="#c3" transform="scale(1,1.01421)" stroke="#2c8ef1"/></g><g id="na3"><use href="#c3" transform="scale(1,1.00000)" stroke="#2699e9"/><use href="#c3" transform="scale(1,1.00109)" stroke="#2d8af4"/><use href="#c3" transform="scale(1,1.00217)" stroke="#3a73fe"/><use href="#c3" transform="scale(1,1.00326)" stroke="#4465fd"/><use href="#c3" transform="scale(1,1.00435)" stroke="#4269fe"/><use href="#c3" transform="scale(1,1.00544)" stroke="#3479fd"/><use href="#c3" transform="scale(1,1.00654)" stroke="#2e86f7"/><use href="#c3" transform="scale(1,1.00763)" stroke="#2d8cf3"/><use href="#c3" transform="scale(1,1.00872)" stroke="#2c8ff0"/><use href="#c3" transform="scale(1,1.00982)" stroke="#2a93ee"/><use href="#c3" transform="scale(1,1.01092)" stroke="#2797eb"/><use href="#c3" transform="scale(1,1.01201)" stroke="#259be8"/><use href="#c3" transform="scale(1,1.01311)" stroke="#249ee6"/><use href="#c3" transform="scale(1,1.01421)" stroke="#249ee6"/></g><g id="na4"><use href="#c3" transform="scale(1,1.00000)" stroke="#1baade"/><use href="#c3" transform="scale(1,1.00109)" stroke="#249de6"/><use href="#c3" transform="scale(1,1.00217)" stroke="#2d89f5"/><use href="#c3" transform="scale(1,1.00326)" stroke="#327cfc"/><use href="#c3" transform="scale(1,1.00435)" stroke="#2f80fa"/><use href="#c3" transform="scale(1,1.00544)" stroke="#2c8ef1"/><use href="#c3" transform="scale(1,1.00654)" stroke="#2699e9"/><use href="#c3" transform="scale(1,1.00763)" stroke="#249fe6"/><use href="#c3" transform="scale(1,1.00872)" stroke="#22a2e4"/><use href="#c3" transform="scale(1,1.00982)" stroke="#20a5e2"/><use href="#c3" transform="scale(1,1.01092)" stroke="#1da9e0"/><use href="#c3" transform="scale(1,1.01201)" stroke="#1aacdd"/><use href="#c3" transform="scale(1,1.01311)" stroke="#16afda"/><use href="#c3" transform="scale(1,1.01421)" stroke="#16afd9"/></g><g id="na5"><use href="#c3" transform="scale(1,1.00000)" stroke="#05bbc1"/><use href="#c3" transform="scale(1,1.00109)" stroke="#0db3d4"/><use href="#c3" transform="scale(1,1.00217)" stroke="#21a2e4"/><use href="#c3" transform="scale(1,1.00326)" stroke="#2797eb"/><use href="#c3" transform="scale(1,1.00435)" stroke="#259be8"/><use href="#c3" transform="scale(1,1.00544)" stroke="#1ea7e1"/><use href="#c3" transform="scale(1,1.00654)" stroke="#14b0d8"/><use href="#c3" transform="scale(1,1.00763)" stroke="#0ab4d2"/><use href="#c3" transform="scale(1,1.00872)" stroke="#05b6ce"/><use href="#c3" transform="scale(1,1.00982)" stroke="#01b8c9"/><use href="#c3" transform="scale(1,1.01092)" stroke="#02bac4"/><use href="#c3" transform="scale(1,1.01201)" stroke="#09bcbe"/><use href="#c3" transform="scale(1,1.01311)" stroke="#10beba"/><use href="#c3" transform="scale(1,1.01421)" stroke="#11beba"/></g><g id="nb0"><use href="#c3" transform="scale(1,1.00000)" stroke="#465efb"/><use href="#c3" transform="scale(1,1.00112)" stroke="#484ff2"/><use href="#c3" transform="scale(1,1.00224)" stroke="#463cdf"/><use href="#c3" transform="scale(1,1.00336)" stroke="#4536d3"/><use href="#c3" transform="scale(1,1.00448)" stroke="#4740e3"/><use href="#c3" transform="scale(1,1.00560)" stroke="#4852f4"/><use href="#c3" transform="scale(1,1.00673)" stroke="#4660fb"/><use href="#c3" transform="scale(1,1.00785)" stroke="#4367fd"/><use href="#c3" transform="scale(1,1.00898)" stroke="#3e70ff"/><use href="#c3" transform="scale(1,1.01011)" stroke="#3080fa"/><use href="#c3" transform="scale(1,1.01124)" stroke="#2c8ff1"/><use href="#c3" transform="scale(1,1.01237)" stroke="#2c8ff0"/><use href="#c3" transform="scale(1,1.01350)" stroke="#2f82fa"/><use href="#c3" transform="scale(1,1.01464)" stroke="#3c71ff"/><use href="#c3" transform="scale(1,1.01577)" stroke="#4269fe"/><use href="#c3" transform="scale(1,1.01691)" stroke="#4367fd"/><use href="#c3" transform="scale(1,1.01804)" stroke="#4465fd"/></g><g id="nb1"><use href="#c3" transform="scale(1,1.00000)" stroke="#3f6eff"/><use href="#c3" transform="scale(1,1.00112)" stroke="#465ffb"/><use href="#c3" transform="scale(1,1.00224)" stroke="#484cf0"/><use href="#c3" transform="scale(1,1.00336)" stroke="#4745e9"/><use href="#c3" transform="scale(1,1.00448)" stroke="#4850f2"/><use href="#c3" transform="scale(1,1.00560)" stroke="#4562fc"/><use href="#c3" transform="scale(1,1.00673)" stroke="#3d71ff"/><use href="#c3" transform="scale(1,1.00785)" stroke="#3579fd"/><use href="#c3" transform="scale(1,1.00898)" stroke="#2f81fa"/><use href="#c3" transform="scale(1,1.01011)" stroke="#2c8ff0"/><use href="#c3" transform="scale(1,1.01124)" stroke="#259de7"/><use href="#c3" transform="scale(1,1.01237)" stroke="#249de6"/><use href="#c3" transform="scale(1,1.01350)" stroke="#2b91ef"/><use href="#c3" transform="scale(1,1.01464)" stroke="#2f82f9"/><use href="#c3" transform="scale(1,1.01577)" stroke="#337bfd"/><use href="#c3" transform="scale(1,1.01691)" stroke="#3678fd"/><use href="#c3" transform="scale(1,1.01804)" stroke="#3876fe"/></g><g id="nb2"><use href="#c3" transform="scale(1,1.00000)" stroke="#317efb"/><use href="#c3" transform="scale(1,1.00112)" stroke="#3f6efe"/><use href="#c3" transform="scale(1,1.00224)" stroke="#475bf9"/><use href="#c3" transform="scale(1,1.00336)" stroke="#4853f5"/><use href="#c3" transform="scale(1,1.00448)" stroke="#465efb"/><use href="#c3" transform="scale(1,1.00560)" stroke="#3c72ff"/><use href="#c3" transform="scale(1,1.00673)" stroke="#3080fa"/><use href="#c3" transform="scale(1,1.00785)" stroke="#2e87f7"/><use href="#c3" transform="scale(1,1.00898)" stroke="#2c8ff1"/><use href="#c3" transform="scale(1,1.01011)" stroke="#259ce7"/><use href="#c3" transform="scale(1,1.01124)" stroke="#1da8e0"/><use href="#c3" transform="scale(1,1.01237)" stroke="#1ca9e0"/><use href="#c3" transform="scale(1,1.01350)" stroke="#249de6"/><use href="#c3" transform="scale(1,1.01464)" stroke="#2c90f0"/><use href="#c3" transform="scale(1,1.01577)" stroke="#2d89f5"/><use href="#c3" transform="scale(1,1.01691)" stroke="#2e87f7"/><use href="#c3" transform="scale(1,1.01804)" stroke="#2e85f8"/></g><g id="nb3"><use href="#c3" transform="scale(1,1.00000)" stroke="#2c8ff1"/><use href="#c3" transform="scale(1,1.00112)" stroke="#2f81fa"/><use href="#c3" transform="scale(1,1.00224)" stroke="#406dfe"/><use href="#c3" transform="scale(1,1.00336)" stroke="#4465fd"/><use href="#c3" transform="scale(1,1.00448)" stroke="#3d71ff"/><use href="#c3" transform="scale(1,1.00560)" stroke="#2e84f8"/><use href="#c3" transform="scale(1,1.00673)" stroke="#2b91ef"/><use href="#c3" transform="scale(1,1.00785)" stroke="#2797ea"/><use href="#c3" transform="scale(1,1.00898)" stroke="#249ee6"/><use href="#c3" transform="scale(1,1.01011)" stroke="#1baade"/><use href="#c3" transform="scale(1,1.01124)" stroke="#08b4d0"/><use href="#c3" transform="scale(1,1.01237)" stroke="#07b5cf"/><use href="#c3" transform="scale(1,1.01350)" stroke="#1aabdd"/><use href="#c3" transform="scale(1,1.01464)" stroke="#249fe5"/><use href="#c3" transform="scale(1,1.01577)" stroke="#2699e9"/><use href="#c3" transform="scale(1,1.01691)" stroke="#2797eb"/><use href="#c3" transform="scale(1,1.01804)" stroke="#2895ec"/></g><g id="nb4"><use href="#c3" transform="scale(1,1.00000)" stroke="#22a1e4"/><use href="#c3" transform="scale(1,1.00112)" stroke="#2895ec"/><use href="#c3" transform="scale(1,1.00224)" stroke="#2e84f9"/><use href="#c3" transform="scale(1,1.00336)" stroke="#327cfc"/><use href="#c3" transform="scale(1,1.00448)" stroke="#2e87f7"/><use href="#c3" transform="scale(1,1.00560)" stroke="#2798ea"/><use href="#c3" transform="scale(1,1.00673)" stroke="#21a3e3"/><use href="#c3" transform="scale(1,1.00785)" stroke="#1da9e0"/><use href="#c3" transform="scale(1,1.00898)" stroke="#16afd9"/><use href="#c3" transform="scale(1,1.01011)" stroke="#01b8ca"/><use href="#c3" transform="scale(1,1.01124)" stroke="#15bfb7"/><use href="#c3" transform="scale(1,1.01237)" stroke="#17bfb6"/><use href="#c3" transform="scale(1,1.01350)" stroke="#01b9c8"/><use href="#c3" transform="scale(1,1.01464)" stroke="#14b0d8"/><use href="#c3" transform="scale(1,1.01577)" stroke="#1baade"/><use href="#c3" transform="scale(1,1.01691)" stroke="#1da9e0"/><use href="#c3" transform="scale(1,1.01804)" stroke="#1ea7e1"/></g><g id="nb5"><use href="#c3" transform="scale(1,1.00000)" stroke="#05b6ce"/><use href="#c3" transform="scale(1,1.00112)" stroke="#19acdc"/><use href="#c3" transform="scale(1,1.00224)" stroke="#249de6"/><use href="#c3" transform="scale(1,1.00336)" stroke="#2797eb"/><use href="#c3" transform="scale(1,1.00448)" stroke="#23a0e5"/><use href="#c3" transform="scale(1,1.00560)" stroke="#16afd9"/><use href="#c3" transform="scale(1,1.00673)" stroke="#03b7cb"/><use href="#c3" transform="scale(1,1.00785)" stroke="#02bac3"/><use href="#c3" transform="scale(1,1.00898)" stroke="#11beba"/><use href="#c3" transform="scale(1,1.01011)" stroke="#2cc4a7"/><use href="#c3" transform="scale(1,1.01124)" stroke="#3dc990"/><use href="#c3" transform="scale(1,1.01237)" stroke="#3fca8e"/><use href="#c3" transform="scale(1,1.01350)" stroke="#2ec4a4"/><use href="#c3" transform="scale(1,1.01464)" stroke="#14beb8"/><use href="#c3" transform="scale(1,1.01577)" stroke="#05bbc1"/><use href="#c3" transform="scale(1,1.01691)" stroke="#02bac4"/><use href="#c3" transform="scale(1,1.01804)" stroke="#01b9c6"/></g><g id="nc0"><use href="#c3" transform="scale(1,1.00000)" stroke="#475bf9"/><use href="#c3" transform="scale(1,1.00109)" stroke="#4747eb"/><use href="#c3" transform="scale(1,1.00219)" stroke="#4435d0"/><use href="#c3" transform="scale(1,1.00328)" stroke="#4435d0"/><use href="#c3" transform="scale(1,1.00438)" stroke="#4747eb"/><use href="#c3" transform="scale(1,1.00548)" stroke="#475bf9"/><use href="#c3" transform="scale(1,1.00658)" stroke="#4464fd"/><use href="#c3" transform="scale(1,1.00768)" stroke="#4367fd"/><use href="#c3" transform="scale(1,1.00878)" stroke="#4368fe"/><use href="#c3" transform="scale(1,1.00988)" stroke="#3c71ff"/><use href="#c3" transform="scale(1,1.01098)" stroke="#2c8ff0"/><use href="#c3" transform="scale(1,1.01209)" stroke="#14b0d8"/><use href="#c3" transform="scale(1,1.01320)" stroke="#14b0d8"/><use href="#c3" transform="scale(1,1.01430)" stroke="#2c8ef1"/><use href="#c3" transform="scale(1,1.01541)" stroke="#4465fd"/><use href="#c3" transform="scale(1,1.01652)" stroke="#4849ec"/><use href="#c3" transform="scale(1,1.01763)" stroke="#4747eb"/><use href="#c3" transform="scale(1,1.01875)" stroke="#475bf9"/><use href="#c3" transform="scale(1,1.01986)" stroke="#4465fd"/><use href="#c3" transform="scale(1,1.02097)" stroke="#4464fd"/></g><g id="nc1"><use href="#c3" transform="scale(1,1.00000)" stroke="#416cfe"/><use href="#c3" transform="scale(1,1.00109)" stroke="#4757f7"/><use href="#c3" transform="scale(1,1.00219)" stroke="#4743e7"/><use href="#c3" transform="scale(1,1.00328)" stroke="#4743e7"/><use href="#c3" transform="scale(1,1.00438)" stroke="#4757f7"/><use href="#c3" transform="scale(1,1.00548)" stroke="#416cfe"/><use href="#c3" transform="scale(1,1.00658)" stroke="#3875fe"/><use href="#c3" transform="scale(1,1.00768)" stroke="#3678fe"/><use href="#c3" transform="scale(1,1.00878)" stroke="#3479fd"/><use href="#c3" transform="scale(1,1.00988)" stroke="#2f82f9"/><use href="#c3" transform="scale(1,1.01098)" stroke="#249ee6"/><use href="#c3" transform="scale(1,1.01209)" stroke="#01b9c7"/><use href="#c3" transform="scale(1,1.01320)" stroke="#01b9c7"/><use href="#c3" transform="scale(1,1.01430)" stroke="#259ce7"/><use href="#c3" transform="scale(1,1.01541)" stroke="#3777fe"/><use href="#c3" transform="scale(1,1.01652)" stroke="#4759f8"/><use href="#c3" transform="scale(1,1.01763)" stroke="#4757f7"/><use href="#c3" transform="scale(1,1.01875)" stroke="#416cfe"/><use href="#c3" transform="scale(1,1.01986)" stroke="#3876fe"/><use href="#c3" transform="scale(1,1.02097)" stroke="#3875fe"/></g><g id="nc2"><use href="#c3" transform="scale(1,1.00000)" stroke="#337bfc"/><use href="#c3" transform="scale(1,1.00109)" stroke="#4466fd"/><use href="#c3" transform="scale(1,1.00219)" stroke="#4851f4"/><use href="#c3" transform="scale(1,1.00328)" stroke="#4851f4"/><use href="#c3" transform="scale(1,1.00438)" stroke="#4466fd"/><use href="#c3" transform="scale(1,1.00548)" stroke="#337bfc"/><use href="#c3" transform="scale(1,1.00658)" stroke="#2e84f8"/><use href="#c3" transform="scale(1,1.00768)" stroke="#2e86f7"/><use href="#c3" transform="scale(1,1.00878)" stroke="#2d88f6"/><use href="#c3" transform="scale(1,1.00988)" stroke="#2c90f0"/><use href="#c3" transform="scale(1,1.01098)" stroke="#1ca9e0"/><use href="#c3" transform="scale(1,1.01209)" stroke="#19bfb6"/><use href="#c3" transform="scale(1,1.01320)" stroke="#18bfb6"/><use href="#c3" transform="scale(1,1.01430)" stroke="#1da8e0"/><use href="#c3" transform="scale(1,1.01541)" stroke="#2e85f8"/><use href="#c3" transform="scale(1,1.01652)" stroke="#4367fd"/><use href="#c3" transform="scale(1,1.01763)" stroke="#4466fd"/><use href="#c3" transform="scale(1,1.01875)" stroke="#327bfc"/><use href="#c3" transform="scale(1,1.01986)" stroke="#2e85f8"/><use href="#c3" transform="scale(1,1.02097)" stroke="#2e84f8"/></g><g id="nc3"><use href="#c3" transform="scale(1,1.00000)" stroke="#2d8df2"/><use href="#c3" transform="scale(1,1.00109)" stroke="#3579fd"/><use href="#c3" transform="scale(1,1.00219)" stroke="#4563fd"/><use href="#c3" transform="scale(1,1.00328)" stroke="#4563fd"/><use href="#c3" transform="scale(1,1.00438)" stroke="#3579fd"/><use href="#c3" transform="scale(1,1.00548)" stroke="#2d8df2"/><use href="#c3" transform="scale(1,1.00658)" stroke="#2995ec"/><use href="#c3" transform="scale(1,1.00768)" stroke="#2797eb"/><use href="#c3" transform="scale(1,1.00878)" stroke="#2798ea"/><use href="#c3" transform="scale(1,1.00988)" stroke="#239fe5"/><use href="#c3" transform="scale(1,1.01098)" stroke="#07b5cf"/><use href="#c3" transform="scale(1,1.01209)" stroke="#32c69e"/><use href="#c3" transform="scale(1,1.01320)" stroke="#32c69e"/><use href="#c3" transform="scale(1,1.01430)" stroke="#09b4d1"/><use href="#c3" transform="scale(1,1.01541)" stroke="#2896ec"/><use href="#c3" transform="scale(1,1.01652)" stroke="#337afd"/><use href="#c3" transform="scale(1,1.01763)" stroke="#3579fd"/><use href="#c3" transform="scale(1,1.01875)" stroke="#2d8df2"/><use href="#c3" transform="scale(1,1.01986)" stroke="#2895ec"/><use href="#c3" transform="scale(1,1.02097)" stroke="#2995ec"/></g><g id="nc4"><use href="#c3" transform="scale(1,1.00000)" stroke="#239fe5"/><use href="#c3" transform="scale(1,1.00109)" stroke="#2c8ef1"/><use href="#c3" transform="scale(1,1.00219)" stroke="#337afd"/><use href="#c3" transform="scale(1,1.00328)" stroke="#337afd"/><use href="#c3" transform="scale(1,1.00438)" stroke="#2c8ef1"/><use href="#c3" transform="scale(1,1.00548)" stroke="#239fe5"/><use href="#c3" transform="scale(1,1.00658)" stroke="#1ea7e1"/><use href="#c3" transform="scale(1,1.00768)" stroke="#1da8e0"/><use href="#c3" transform="scale(1,1.00878)" stroke="#1caadf"/><use href="#c3" transform="scale(1,1.00988)" stroke="#14b0d8"/><use href="#c3" transform="scale(1,1.01098)" stroke="#17bfb6"/><use href="#c3" transform="scale(1,1.01209)" stroke="#56cc7b"/><use href="#c3" transform="scale(1,1.01320)" stroke="#56cc7b"/><use href="#c3" transform="scale(1,1.01430)" stroke="#14beb8"/><use href="#c3" transform="scale(1,1.01541)" stroke="#1ea8e1"/><use href="#c3" transform="scale(1,1.01652)" stroke="#2c8ff0"/><use href="#c3" transform="scale(1,1.01763)" stroke="#2c8ef1"/><use href="#c3" transform="scale(1,1.01875)" stroke="#239fe5"/><use href="#c3" transform="scale(1,1.01986)" stroke="#1ea7e1"/><use href="#c3" transform="scale(1,1.02097)" stroke="#1ea7e1"/></g><g id="nc5"><use href="#c3" transform="scale(1,1.00000)" stroke="#09b4d1"/><use href="#c3" transform="scale(1,1.00109)" stroke="#1ea6e1"/><use href="#c3" transform="scale(1,1.00219)" stroke="#2896ec"/><use href="#c3" transform="scale(1,1.00328)" stroke="#2896ec"/><use href="#c3" transform="scale(1,1.00438)" stroke="#1ea6e1"/><use href="#c3" transform="scale(1,1.00548)" stroke="#09b4d1"/><use href="#c3" transform="scale(1,1.00658)" stroke="#01b9c7"/><use href="#c3" transform="scale(1,1.00768)" stroke="#02bac4"/><use href="#c3" transform="scale(1,1.00878)" stroke="#03bbc2"/><use href="#c3" transform="scale(1,1.00988)" stroke="#14bfb8"/><use href="#c3" transform="scale(1,1.01098)" stroke="#3fca8e"/><use href="#c3" transform="scale(1,1.01209)" stroke="#9dc943"/><use href="#c3" transform="scale(1,1.01320)" stroke="#9dc943"/><use href="#c3" transform="scale(1,1.01430)" stroke="#3dc991"/><use href="#c3" transform="scale(1,1.01541)" stroke="#01bac5"/><use href="#c3" transform="scale(1,1.01652)" stroke="#1ea7e1"/><use href="#c3" transform="scale(1,1.01763)" stroke="#1ea6e1"/><use href="#c3" transform="scale(1,1.01875)" stroke="#08b4d1"/><use href="#c3" transform="scale(1,1.01986)" stroke="#01b9c6"/><use href="#c3" transform="scale(1,1.02097)" stroke="#01b9c7"/></g><g id="nd0"><use href="#c3" transform="scale(1,1.00000)" stroke="#4563fd"/><use href="#c3" transform="scale(1,1.00110)" stroke="#4759f9"/><use href="#c3" transform="scale(1,1.00219)" stroke="#4747eb"/><use href="#c3" transform="scale(1,1.00329)" stroke="#4537d6"/><use href="#c3" transform="scale(1,1.00439)" stroke="#463adb"/><use href="#c3" transform="scale(1,1.00550)" stroke="#484ef1"/><use href="#c3" transform="scale(1,1.00660)" stroke="#4367fd"/><use href="#c3" transform="scale(1,1.00770)" stroke="#327cfc"/><use href="#c3" transform="scale(1,1.00881)" stroke="#2e84f8"/><use href="#c3" transform="scale(1,1.00991)" stroke="#307ffb"/><use href="#c3" transform="scale(1,1.01102)" stroke="#3f6eff"/><use href="#c3" transform="scale(1,1.01213)" stroke="#4759f8"/><use href="#c3" transform="scale(1,1.01324)" stroke="#4747eb"/><use href="#c3" transform="scale(1,1.01435)" stroke="#4746eb"/><use href="#c3" transform="scale(1,1.01546)" stroke="#4756f6"/><use href="#c3" transform="scale(1,1.01658)" stroke="#4464fd"/><use href="#c3" transform="scale(1,1.01769)" stroke="#3e6fff"/><use href="#c3" transform="scale(1,1.01881)" stroke="#347afd"/><use href="#c3" transform="scale(1,1.01993)" stroke="#2e84f8"/><use href="#c3" transform="scale(1,1.02105)" stroke="#2d88f6"/><use href="#c3" transform="scale(1,1.02217)" stroke="#2e84f8"/><use href="#c3" transform="scale(1,1.02329)" stroke="#347afd"/><use href="#c3" transform="scale(1,1.02441)" stroke="#3e70ff"/><use href="#c3" transform="scale(1,1.02553)" stroke="#426afe"/><use href="#c3" transform="scale(1,1.02666)" stroke="#4368fd"/><use href="#c3" transform="scale(1,1.02778)" stroke="#4466fd"/></g><g id="nd1"><use href="#c3" transform="scale(1,1.00000)" stroke="#3974fe"/><use href="#c3" transform="scale(1,1.00110)" stroke="#426afe"/><use href="#c3" transform="scale(1,1.00219)" stroke="#4757f7"/><use href="#c3" transform="scale(1,1.00329)" stroke="#4747eb"/><use href="#c3" transform="scale(1,1.00439)" stroke="#4849ed"/><use href="#c3" transform="scale(1,1.00550)" stroke="#465efb"/><use href="#c3" transform="scale(1,1.00660)" stroke="#3678fd"/><use href="#c3" transform="scale(1,1.00770)" stroke="#2d8bf3"/><use href="#c3" transform="scale(1,1.00881)" stroke="#2a93ed"/><use href="#c3" transform="scale(1,1.00991)" stroke="#2c8ef1"/><use href="#c3" transform="scale(1,1.01102)" stroke="#307ffb"/><use href="#c3" transform="scale(1,1.01213)" stroke="#4269fe"/><use href="#c3" transform="scale(1,1.01324)" stroke="#4757f7"/><use href="#c3" transform="scale(1,1.01435)" stroke="#4757f7"/><use href="#c3" transform="scale(1,1.01546)" stroke="#4466fd"/><use href="#c3" transform="scale(1,1.01658)" stroke="#3876fe"/><use href="#c3" transform="scale(1,1.01769)" stroke="#2f80fa"/><use href="#c3" transform="scale(1,1.01881)" stroke="#2d8af5"/><use href="#c3" transform="scale(1,1.01993)" stroke="#2a93ed"/><use href="#c3" transform="scale(1,1.02105)" stroke="#2797eb"/><use href="#c3" transform="scale(1,1.02217)" stroke="#2a93ed"/><use href="#c3" transform="scale(1,1.02329)" stroke="#2d8af5"/><use href="#c3" transform="scale(1,1.02441)" stroke="#2f81fa"/><use href="#c3" transform="scale(1,1.02553)" stroke="#327bfc"/><use href="#c3" transform="scale(1,1.02666)" stroke="#3579fd"/><use href="#c3" transform="scale(1,1.02778)" stroke="#3678fe"/></g><g id="nd2"><use href="#c3" transform="scale(1,1.00000)" stroke="#2e83f9"/><use href="#c3" transform="scale(1,1.00110)" stroke="#3479fd"/><use href="#c3" transform="scale(1,1.00219)" stroke="#4465fd"/><use href="#c3" transform="scale(1,1.00329)" stroke="#4755f6"/><use href="#c3" transform="scale(1,1.00439)" stroke="#4758f8"/><use href="#c3" transform="scale(1,1.00550)" stroke="#406dfe"/><use href="#c3" transform="scale(1,1.00660)" stroke="#2e87f7"/><use href="#c3" transform="scale(1,1.00770)" stroke="#2798ea"/><use href="#c3" transform="scale(1,1.00881)" stroke="#23a0e5"/><use href="#c3" transform="scale(1,1.00991)" stroke="#259be8"/><use href="#c3" transform="scale(1,1.01102)" stroke="#2d8df2"/><use href="#c3" transform="scale(1,1.01213)" stroke="#3579fd"/><use href="#c3" transform="scale(1,1.01324)" stroke="#4465fd"/><use href="#c3" transform="scale(1,1.01435)" stroke="#4465fd"/><use href="#c3" transform="scale(1,1.01546)" stroke="#3875fe"/><use href="#c3" transform="scale(1,1.01658)" stroke="#2e84f8"/><use href="#c3" transform="scale(1,1.01769)" stroke="#2c8ef2"/><use href="#c3" transform="scale(1,1.01881)" stroke="#2797eb"/><use href="#c3" transform="scale(1,1.01993)" stroke="#249fe5"/><use href="#c3" transform="scale(1,1.02105)" stroke="#21a3e3"/><use href="#c3" transform="scale(1,1.02217)" stroke="#249fe5"/><use href="#c3" transform="scale(1,1.02329)" stroke="#2797eb"/><use href="#c3" transform="scale(1,1.02441)" stroke="#2c8ff1"/><use href="#c3" transform="scale(1,1.02553)" stroke="#2d89f5"/><use href="#c3" transform="scale(1,1.02666)" stroke="#2d87f7"/><use href="#c3" transform="scale(1,1.02778)" stroke="#2e86f7"/></g><g id="nd3"><use href="#c3" transform="scale(1,1.00000)" stroke="#2994ed"/><use href="#c3" transform="scale(1,1.00110)" stroke="#2d8bf4"/><use href="#c3" transform="scale(1,1.00219)" stroke="#3578fd"/><use href="#c3" transform="scale(1,1.00329)" stroke="#4367fd"/><use href="#c3" transform="scale(1,1.00439)" stroke="#426afe"/><use href="#c3" transform="scale(1,1.00550)" stroke="#2f80fa"/><use href="#c3" transform="scale(1,1.00660)" stroke="#2797eb"/><use href="#c3" transform="scale(1,1.00770)" stroke="#1ea7e1"/><use href="#c3" transform="scale(1,1.00881)" stroke="#18aedb"/><use href="#c3" transform="scale(1,1.00991)" stroke="#1caadf"/><use href="#c3" transform="scale(1,1.01102)" stroke="#259de7"/><use href="#c3" transform="scale(1,1.01213)" stroke="#2d8af4"/><use href="#c3" transform="scale(1,1.01324)" stroke="#3579fd"/><use href="#c3" transform="scale(1,1.01435)" stroke="#3678fd"/><use href="#c3" transform="scale(1,1.01546)" stroke="#2d87f6"/><use href="#c3" transform="scale(1,1.01658)" stroke="#2895ec"/><use href="#c3" transform="scale(1,1.01769)" stroke="#249de6"/><use href="#c3" transform="scale(1,1.01881)" stroke="#1fa6e2"/><use href="#c3" transform="scale(1,1.01993)" stroke="#18addb"/><use href="#c3" transform="scale(1,1.02105)" stroke="#13b0d7"/><use href="#c3" transform="scale(1,1.02217)" stroke="#18addb"/><use href="#c3" transform="scale(1,1.02329)" stroke="#1fa6e2"/><use href="#c3" transform="scale(1,1.02441)" stroke="#249ee6"/><use href="#c3" transform="scale(1,1.02553)" stroke="#269ae9"/><use href="#c3" transform="scale(1,1.02666)" stroke="#2798ea"/><use href="#c3" transform="scale(1,1.02778)" stroke="#2797eb"/></g><g id="nd4"><use href="#c3" transform="scale(1,1.00000)" stroke="#1fa6e2"/><use href="#c3" transform="scale(1,1.00110)" stroke="#249ee6"/><use href="#c3" transform="scale(1,1.00219)" stroke="#2c8ef2"/><use href="#c3" transform="scale(1,1.00329)" stroke="#317efb"/><use href="#c3" transform="scale(1,1.00439)" stroke="#2f81fa"/><use href="#c3" transform="scale(1,1.00550)" stroke="#2994ed"/><use href="#c3" transform="scale(1,1.00660)" stroke="#1da9e0"/><use href="#c3" transform="scale(1,1.00770)" stroke="#06b5ce"/><use href="#c3" transform="scale(1,1.00881)" stroke="#02bac4"/><use href="#c3" transform="scale(1,1.00991)" stroke="#02b7cb"/><use href="#c3" transform="scale(1,1.01102)" stroke="#18aedb"/><use href="#c3" transform="scale(1,1.01213)" stroke="#249de6"/><use href="#c3" transform="scale(1,1.01324)" stroke="#2c8ef1"/><use href="#c3" transform="scale(1,1.01435)" stroke="#2d8df2"/><use href="#c3" transform="scale(1,1.01546)" stroke="#259be8"/><use href="#c3" transform="scale(1,1.01658)" stroke="#1ea7e1"/><use href="#c3" transform="scale(1,1.01769)" stroke="#17aeda"/><use href="#c3" transform="scale(1,1.01881)" stroke="#08b5d0"/><use href="#c3" transform="scale(1,1.01993)" stroke="#02bac5"/><use href="#c3" transform="scale(1,1.02105)" stroke="#07bcc0"/><use href="#c3" transform="scale(1,1.02217)" stroke="#02bac5"/><use href="#c3" transform="scale(1,1.02329)" stroke="#07b5d0"/><use href="#c3" transform="scale(1,1.02441)" stroke="#16afd9"/><use href="#c3" transform="scale(1,1.02553)" stroke="#1babde"/><use href="#c3" transform="scale(1,1.02666)" stroke="#1ca9df"/><use href="#c3" transform="scale(1,1.02778)" stroke="#1da8e0"/></g><g id="nd5"><use href="#c3" transform="scale(1,1.00000)" stroke="#01b9c8"/><use href="#c3" transform="scale(1,1.00110)" stroke="#0cb3d3"/><use href="#c3" transform="scale(1,1.00219)" stroke="#1fa6e2"/><use href="#c3" transform="scale(1,1.00329)" stroke="#2699ea"/><use href="#c3" transform="scale(1,1.00439)" stroke="#259be8"/><use href="#c3" transform="scale(1,1.00550)" stroke="#1aacdd"/><use href="#c3" transform="scale(1,1.00660)" stroke="#02bac4"/><use href="#c3" transform="scale(1,1.00770)" stroke="#27c2ac"/><use href="#c3" transform="scale(1,1.00881)" stroke="#31c6a0"/><use href="#c3" transform="scale(1,1.00991)" stroke="#2bc3a8"/><use href="#c3" transform="scale(1,1.01102)" stroke="#0dbdbc"/><use href="#c3" transform="scale(1,1.01213)" stroke="#0db3d3"/><use href="#c3" transform="scale(1,1.01324)" stroke="#1fa6e1"/><use href="#c3" transform="scale(1,1.01435)" stroke="#1fa6e2"/><use href="#c3" transform="scale(1,1.01546)" stroke="#12b1d6"/><use href="#c3" transform="scale(1,1.01658)" stroke="#01b9c6"/><use href="#c3" transform="scale(1,1.01769)" stroke="#0fbebb"/><use href="#c3" transform="scale(1,1.01881)" stroke="#24c1ae"/><use href="#c3" transform="scale(1,1.01993)" stroke="#30c5a1"/><use href="#c3" transform="scale(1,1.02105)" stroke="#35c79a"/><use href="#c3" transform="scale(1,1.02217)" stroke="#30c5a1"/><use href="#c3" transform="scale(1,1.02329)" stroke="#24c2ae"/><use href="#c3" transform="scale(1,1.02441)" stroke="#11beba"/><use href="#c3" transform="scale(1,1.02553)" stroke="#06bcc0"/><use href="#c3" transform="scale(1,1.02666)" stroke="#02bbc3"/><use href="#c3" transform="scale(1,1.02778)" stroke="#02bac4"/></g><g id="ne0"><use href="#c3" transform="scale(1,1.00000)" stroke="#4368fe"/><use href="#c3" transform="scale(1,1.00104)" stroke="#465efb"/><use href="#c3" transform="scale(1,1.00207)" stroke="#4854f5"/><use href="#c3" transform="scale(1,1.00311)" stroke="#4850f3"/><use href="#c3" transform="scale(1,1.00415)" stroke="#4758f8"/><use href="#c3" transform="scale(1,1.00520)" stroke="#4563fc"/><use href="#c3" transform="scale(1,1.00624)" stroke="#416afe"/><use href="#c3" transform="scale(1,1.00728)" stroke="#3f6dfe"/><use href="#c3" transform="scale(1,1.00833)" stroke="#3f6eff"/><use href="#c3" transform="scale(1,1.00937)" stroke="#3f6eff"/><use href="#c3" transform="scale(1,1.01042)" stroke="#406dfe"/></g><g id="ne1"><use href="#c3" transform="scale(1,1.00000)" stroke="#3479fd"/><use href="#c3" transform="scale(1,1.00104)" stroke="#3e6fff"/><use href="#c3" transform="scale(1,1.00207)" stroke="#4564fd"/><use href="#c3" transform="scale(1,1.00311)" stroke="#4660fc"/><use href="#c3" transform="scale(1,1.00415)" stroke="#4368fe"/><use href="#c3" transform="scale(1,1.00520)" stroke="#3a74fe"/><use href="#c3" transform="scale(1,1.00624)" stroke="#327cfc"/><use href="#c3" transform="scale(1,1.00728)" stroke="#307ffb"/><use href="#c3" transform="scale(1,1.00833)" stroke="#3080fb"/><use href="#c3" transform="scale(1,1.00937)" stroke="#307ffb"/><use href="#c3" transform="scale(1,1.01042)" stroke="#317efb"/></g><g id="ne2"><use href="#c3" transform="scale(1,1.00000)" stroke="#2d88f6"/><use href="#c3" transform="scale(1,1.00104)" stroke="#307ffb"/><use href="#c3" transform="scale(1,1.00207)" stroke="#3b73fe"/><use href="#c3" transform="scale(1,1.00311)" stroke="#3e6fff"/><use href="#c3" transform="scale(1,1.00415)" stroke="#3677fe"/><use href="#c3" transform="scale(1,1.00520)" stroke="#2e83f9"/><use href="#c3" transform="scale(1,1.00624)" stroke="#2d8af5"/><use href="#c3" transform="scale(1,1.00728)" stroke="#2d8df2"/><use href="#c3" transform="scale(1,1.00833)" stroke="#2d8df2"/><use href="#c3" transform="scale(1,1.00937)" stroke="#2d8df2"/><use href="#c3" transform="scale(1,1.01042)" stroke="#2d8cf3"/></g><g id="ne3"><use href="#c3" transform="scale(1,1.00000)" stroke="#2798ea"/><use href="#c3" transform="scale(1,1.00104)" stroke="#2c90f0"/><use href="#c3" transform="scale(1,1.00207)" stroke="#2e85f8"/><use href="#c3" transform="scale(1,1.00311)" stroke="#2f82fa"/><use href="#c3" transform="scale(1,1.00415)" stroke="#2d89f5"/><use href="#c3" transform="scale(1,1.00520)" stroke="#2994ed"/><use href="#c3" transform="scale(1,1.00624)" stroke="#269ae8"/><use href="#c3" transform="scale(1,1.00728)" stroke="#259ce7"/><use href="#c3" transform="scale(1,1.00833)" stroke="#259de7"/><use href="#c3" transform="scale(1,1.00937)" stroke="#259de7"/><use href="#c3" transform="scale(1,1.01042)" stroke="#259ce7"/></g><g id="ne4"><use href="#c3" transform="scale(1,1.00000)" stroke="#1caadf"/><use href="#c3" transform="scale(1,1.00104)" stroke="#22a2e4"/><use href="#c3" transform="scale(1,1.00207)" stroke="#2699e9"/><use href="#c3" transform="scale(1,1.00311)" stroke="#2896eb"/><use href="#c3" transform="scale(1,1.00415)" stroke="#259ce7"/><use href="#c3" transform="scale(1,1.00520)" stroke="#1fa6e2"/><use href="#c3" transform="scale(1,1.00624)" stroke="#1aabdd"/><use href="#c3" transform="scale(1,1.00728)" stroke="#18addb"/><use href="#c3" transform="scale(1,1.00833)" stroke="#17aedb"/><use href="#c3" transform="scale(1,1.00937)" stroke="#18aedb"/><use href="#c3" transform="scale(1,1.01042)" stroke="#19addc"/></g><g id="ne5"><use href="#c3" transform="scale(1,1.00000)" stroke="#03bbc2"/><use href="#c3" transform="scale(1,1.00104)" stroke="#04b6cd"/><use href="#c3" transform="scale(1,1.00207)" stroke="#15afd8"/><use href="#c3" transform="scale(1,1.00311)" stroke="#19addc"/><use href="#c3" transform="scale(1,1.00415)" stroke="#0fb2d5"/><use href="#c3" transform="scale(1,1.00520)" stroke="#01b8c8"/><use href="#c3" transform="scale(1,1.00624)" stroke="#07bcc0"/><use href="#c3" transform="scale(1,1.00728)" stroke="#0cbdbc"/><use href="#c3" transform="scale(1,1.00833)" stroke="#0dbdbb"/><use href="#c3" transform="scale(1,1.00937)" stroke="#0dbdbc"/><use href="#c3" transform="scale(1,1.01042)" stroke="#0abdbd"/></g><g id="oa0"><use href="#c3" transform="scale(1,1.00000)" stroke="#4230c3"/><use href="#c3" transform="scale(1,1.00111)" stroke="#4332ca"/><use href="#c3" transform="scale(1,1.00221)" stroke="#4537d6"/><use href="#c3" transform="scale(1,1.00332)" stroke="#473fe3"/><use href="#c3" transform="scale(1,1.00443)" stroke="#484aee"/><use href="#c3" transform="scale(1,1.00554)" stroke="#4755f6"/><use href="#c3" transform="scale(1,1.00665)" stroke="#465efb"/><use href="#c3" transform="scale(1,1.00777)" stroke="#4367fd"/><use href="#c3" transform="scale(1,1.00888)" stroke="#406cfe"/><use href="#c3" transform="scale(1,1.01000)" stroke="#3f6eff"/><use href="#c3" transform="scale(1,1.01111)" stroke="#406cfe"/><use href="#c3" transform="scale(1,1.01223)" stroke="#4367fd"/><use href="#c3" transform="scale(1,1.01335)" stroke="#465efb"/><use href="#c3" transform="scale(1,1.01447)" stroke="#4755f6"/><use href="#c3" transform="scale(1,1.01559)" stroke="#484aee"/><use href="#c3" transform="scale(1,1.01672)" stroke="#473fe3"/><use href="#c3" transform="scale(1,1.01784)" stroke="#4537d6"/><use href="#c3" transform="scale(1,1.01897)" stroke="#4332ca"/><use href="#c3" transform="scale(1,1.02009)" stroke="#4230c3"/></g><g id="oa1"><use href="#c3" transform="scale(1,1.00000)" stroke="#463cdf"/><use href="#c3" transform="scale(1,1.00111)" stroke="#4740e3"/><use href="#c3" transform="scale(1,1.00221)" stroke="#4746eb"/><use href="#c3" transform="scale(1,1.00332)" stroke="#4850f2"/><use href="#c3" transform="scale(1,1.00443)" stroke="#475af9"/><use href="#c3" transform="scale(1,1.00554)" stroke="#4465fd"/><use href="#c3" transform="scale(1,1.00665)" stroke="#3e6fff"/><use href="#c3" transform="scale(1,1.00777)" stroke="#3678fd"/><use href="#c3" transform="scale(1,1.00888)" stroke="#317dfb"/><use href="#c3" transform="scale(1,1.01000)" stroke="#307ffb"/><use href="#c3" transform="scale(1,1.01111)" stroke="#317dfb"/><use href="#c3" transform="scale(1,1.01223)" stroke="#3678fd"/><use href="#c3" transform="scale(1,1.01335)" stroke="#3e6fff"/><use href="#c3" transform="scale(1,1.01447)" stroke="#4465fd"/><use href="#c3" transform="scale(1,1.01559)" stroke="#475af9"/><use href="#c3" transform="scale(1,1.01672)" stroke="#4850f2"/><use href="#c3" transform="scale(1,1.01784)" stroke="#4746eb"/><use href="#c3" transform="scale(1,1.01897)" stroke="#4740e3"/><use href="#c3" transform="scale(1,1.02009)" stroke="#463cdf"/></g><g id="oa2"><use href="#c3" transform="scale(1,1.00000)" stroke="#484bee"/><use href="#c3" transform="scale(1,1.00111)" stroke="#484ef1"/><use href="#c3" transform="scale(1,1.00221)" stroke="#4755f6"/><use href="#c3" transform="scale(1,1.00332)" stroke="#465efb"/><use href="#c3" transform="scale(1,1.00443)" stroke="#4368fe"/><use href="#c3" transform="scale(1,1.00554)" stroke="#3a74fe"/><use href="#c3" transform="scale(1,1.00665)" stroke="#307ffb"/><use href="#c3" transform="scale(1,1.00777)" stroke="#2e86f7"/><use href="#c3" transform="scale(1,1.00888)" stroke="#2d8bf3"/><use href="#c3" transform="scale(1,1.01000)" stroke="#2d8df2"/><use href="#c3" transform="scale(1,1.01111)" stroke="#2d8bf3"/><use href="#c3" transform="scale(1,1.01223)" stroke="#2e86f7"/><use href="#c3" transform="scale(1,1.01335)" stroke="#307ffb"/><use href="#c3" transform="scale(1,1.01447)" stroke="#3a74fe"/><use href="#c3" transform="scale(1,1.01559)" stroke="#4368fe"/><use href="#c3" transform="scale(1,1.01672)" stroke="#465efb"/><use href="#c3" transform="scale(1,1.01784)" stroke="#4755f6"/><use href="#c3" transform="scale(1,1.01897)" stroke="#484ef1"/><use href="#c3" transform="scale(1,1.02009)" stroke="#484bee"/></g><g id="oa3"><use href="#c3" transform="scale(1,1.00000)" stroke="#475cfa"/><use href="#c3" transform="scale(1,1.00111)" stroke="#4660fb"/><use href="#c3" transform="scale(1,1.00221)" stroke="#4367fd"/><use href="#c3" transform="scale(1,1.00332)" stroke="#3d70ff"/><use href="#c3" transform="scale(1,1.00443)" stroke="#327cfc"/><use href="#c3" transform="scale(1,1.00554)" stroke="#2e86f7"/><use href="#c3" transform="scale(1,1.00665)" stroke="#2c90f0"/><use href="#c3" transform="scale(1,1.00777)" stroke="#2797eb"/><use href="#c3" transform="scale(1,1.00888)" stroke="#259be8"/><use href="#c3" transform="scale(1,1.01000)" stroke="#259de7"/><use href="#c3" transform="scale(1,1.01111)" stroke="#259be8"/><use href="#c3" transform="scale(1,1.01223)" stroke="#2797eb"/><use href="#c3" transform="scale(1,1.01335)" stroke="#2c90f0"/><use href="#c3" transform="scale(1,1.01447)" stroke="#2e86f7"/><use href="#c3" transform="scale(1,1.01559)" stroke="#327cfc"/><use href="#c3" transform="scale(1,1.01672)" stroke="#3d70ff"/><use href="#c3" transform="scale(1,1.01784)" stroke="#4367fd"/><use href="#c3" transform="scale(1,1.01897)" stroke="#4660fb"/><use href="#c3" transform="scale(1,1.02009)" stroke="#475cfa"/></g><g id="oa4"><use href="#c3" transform="scale(1,1.00000)" stroke="#3b73fe"/><use href="#c3" transform="scale(1,1.00111)" stroke="#3777fe"/><use href="#c3" transform="scale(1,1.00221)" stroke="#317efb"/><use href="#c3" transform="scale(1,1.00332)" stroke="#2e87f7"/><use href="#c3" transform="scale(1,1.00443)" stroke="#2b90ef"/><use href="#c3" transform="scale(1,1.00554)" stroke="#269ae9"/><use href="#c3" transform="scale(1,1.00665)" stroke="#22a2e4"/><use href="#c3" transform="scale(1,1.00777)" stroke="#1da9e0"/><use href="#c3" transform="scale(1,1.00888)" stroke="#19acdc"/><use href="#c3" transform="scale(1,1.01000)" stroke="#18aedb"/><use href="#c3" transform="scale(1,1.01111)" stroke="#19acdc"/><use href="#c3" transform="scale(1,1.01223)" stroke="#1da9e0"/><use href="#c3" transform="scale(1,1.01335)" stroke="#22a2e4"/><use href="#c3" transform="scale(1,1.01447)" stroke="#269ae9"/><use href="#c3" transform="scale(1,1.01559)" stroke="#2b90ef"/><use href="#c3" transform="scale(1,1.01672)" stroke="#2e87f7"/><use href="#c3" transform="scale(1,1.01784)" stroke="#317efb"/><use href="#c3" transform="scale(1,1.01897)" stroke="#3777fe"/><use href="#c3" transform="scale(1,1.02009)" stroke="#3b73fe"/></g><g id="oa5"><use href="#c3" transform="scale(1,1.00000)" stroke="#2c8ff0"/><use href="#c3" transform="scale(1,1.00111)" stroke="#2a93ee"/><use href="#c3" transform="scale(1,1.00221)" stroke="#2698ea"/><use href="#c3" transform="scale(1,1.00332)" stroke="#23a0e5"/><use href="#c3" transform="scale(1,1.00443)" stroke="#1da9e0"/><use href="#c3" transform="scale(1,1.00554)" stroke="#13b0d7"/><use href="#c3" transform="scale(1,1.00665)" stroke="#04b6cd"/><use href="#c3" transform="scale(1,1.00777)" stroke="#02bac4"/><use href="#c3" transform="scale(1,1.00888)" stroke="#09bcbe"/><use href="#c3" transform="scale(1,1.01000)" stroke="#0dbdbc"/><use href="#c3" transform="scale(1,1.01111)" stroke="#09bcbe"/><use href="#c3" transform="scale(1,1.01223)" stroke="#02bac4"/><use href="#c3" transform="scale(1,1.01335)" stroke="#04b6cd"/><use href="#c3" transform="scale(1,1.01447)" stroke="#13b0d7"/><use href="#c3" transform="scale(1,1.01559)" stroke="#1da9e0"/><use href="#c3" transform="scale(1,1.01672)" stroke="#23a0e5"/><use href="#c3" transform="scale(1,1.01784)" stroke="#2698ea"/><use href="#c3" transform="scale(1,1.01897)" stroke="#2a93ee"/><use href="#c3" transform="scale(1,1.02009)" stroke="#2c8ff0"/></g><g id="ob0"><use href="#c3" transform="scale(1,1.00000)" stroke="#422ebe"/><use href="#c3" transform="scale(1,1.00113)" stroke="#422ebe"/><use href="#c3" transform="scale(1,1.00226)" stroke="#422ebe"/><use href="#c3" transform="scale(1,1.00339)" stroke="#422ebe"/><use href="#c3" transform="scale(1,1.00452)" stroke="#4434ce"/><use href="#c3" transform="scale(1,1.00565)" stroke="#463cde"/><use href="#c3" transform="scale(1,1.00679)" stroke="#4745e9"/><use href="#c3" transform="scale(1,1.00793)" stroke="#484ff2"/><use href="#c3" transform="scale(1,1.00906)" stroke="#4757f7"/><use href="#c3" transform="scale(1,1.01020)" stroke="#465ffb"/><use href="#c3" transform="scale(1,1.01134)" stroke="#4465fd"/><use href="#c3" transform="scale(1,1.01248)" stroke="#426afe"/><use href="#c3" transform="scale(1,1.01363)" stroke="#406dfe"/><use href="#c3" transform="scale(1,1.01477)" stroke="#3f6efe"/><use href="#c3" transform="scale(1,1.01591)" stroke="#406dfe"/><use href="#c3" transform="scale(1,1.01706)" stroke="#426afe"/><use href="#c3" transform="scale(1,1.01821)" stroke="#4465fd"/><use href="#c3" transform="scale(1,1.01936)" stroke="#465ffb"/><use href="#c3" transform="scale(1,1.02051)" stroke="#4757f7"/><use href="#c3" transform="scale(1,1.02166)" stroke="#484ff2"/><use href="#c3" transform="scale(1,1.02281)" stroke="#4745e9"/><use href="#c3" transform="scale(1,1.02397)" stroke="#463cde"/><use href="#c3" transform="scale(1,1.02512)" stroke="#4434ce"/><use href="#c3" transform="scale(1,1.02628)" stroke="#422ebe"/><use href="#c3" transform="scale(1,1.02744)" stroke="#422ebe"/><use href="#c3" transform="scale(1,1.02860)" stroke="#422ebe"/><use href="#c3" transform="scale(1,1.02976)" stroke="#422ebe"/></g><g id="ob1"><use href="#c3" transform="scale(1,1.00000)" stroke="#422ebf"/><use href="#c3" transform="scale(1,1.00113)" stroke="#4330c4"/><use href="#c3" transform="scale(1,1.00226)" stroke="#4434cf"/><use href="#c3" transform="scale(1,1.00339)" stroke="#463adb"/><use href="#c3" transform="scale(1,1.00452)" stroke="#4742e6"/><use href="#c3" transform="scale(1,1.00565)" stroke="#484cef"/><use href="#c3" transform="scale(1,1.00679)" stroke="#4755f6"/><use href="#c3" transform="scale(1,1.00793)" stroke="#465ffb"/><use href="#c3" transform="scale(1,1.00906)" stroke="#4368fd"/><use href="#c3" transform="scale(1,1.01020)" stroke="#3e6fff"/><use href="#c3" transform="scale(1,1.01134)" stroke="#3776fe"/><use href="#c3" transform="scale(1,1.01248)" stroke="#327bfc"/><use href="#c3" transform="scale(1,1.01363)" stroke="#317efb"/><use href="#c3" transform="scale(1,1.01477)" stroke="#307ffb"/><use href="#c3" transform="scale(1,1.01591)" stroke="#317efb"/><use href="#c3" transform="scale(1,1.01706)" stroke="#327bfc"/><use href="#c3" transform="scale(1,1.01821)" stroke="#3776fe"/><use href="#c3" transform="scale(1,1.01936)" stroke="#3e6fff"/><use href="#c3" transform="scale(1,1.02051)" stroke="#4368fd"/><use href="#c3" transform="scale(1,1.02166)" stroke="#465ffb"/><use href="#c3" transform="scale(1,1.02281)" stroke="#4755f6"/><use href="#c3" transform="scale(1,1.02397)" stroke="#484cef"/><use href="#c3" transform="scale(1,1.02512)" stroke="#4742e6"/><use href="#c3" transform="scale(1,1.02628)" stroke="#463adb"/><use href="#c3" transform="scale(1,1.02744)" stroke="#4434cf"/><use href="#c3" transform="scale(1,1.02860)" stroke="#4330c4"/><use href="#c3" transform="scale(1,1.02976)" stroke="#422ebf"/></g><g id="ob2"><use href="#c3" transform="scale(1,1.00000)" stroke="#4639d9"/><use href="#c3" transform="scale(1,1.00113)" stroke="#463bde"/><use href="#c3" transform="scale(1,1.00226)" stroke="#4741e4"/><use href="#c3" transform="scale(1,1.00339)" stroke="#4848ec"/><use href="#c3" transform="scale(1,1.00452)" stroke="#4851f3"/><use href="#c3" transform="scale(1,1.00565)" stroke="#475af9"/><use href="#c3" transform="scale(1,1.00679)" stroke="#4564fd"/><use href="#c3" transform="scale(1,1.00793)" stroke="#3f6dfe"/><use href="#c3" transform="scale(1,1.00906)" stroke="#3777fe"/><use href="#c3" transform="scale(1,1.01020)" stroke="#307ffb"/><use href="#c3" transform="scale(1,1.01134)" stroke="#2e85f8"/><use href="#c3" transform="scale(1,1.01248)" stroke="#2d89f5"/><use href="#c3" transform="scale(1,1.01363)" stroke="#2d8cf3"/><use href="#c3" transform="scale(1,1.01477)" stroke="#2d8df2"/><use href="#c3" transform="scale(1,1.01591)" stroke="#2d8cf3"/><use href="#c3" transform="scale(1,1.01706)" stroke="#2d89f5"/><use href="#c3" transform="scale(1,1.01821)" stroke="#2e85f8"/><use href="#c3" transform="scale(1,1.01936)" stroke="#307ffb"/><use href="#c3" transform="scale(1,1.02051)" stroke="#3777fe"/><use href="#c3" transform="scale(1,1.02166)" stroke="#3f6dfe"/><use href="#c3" transform="scale(1,1.02281)" stroke="#4564fd"/><use href="#c3" transform="scale(1,1.02397)" stroke="#475af9"/><use href="#c3" transform="scale(1,1.02512)" stroke="#4851f3"/><use href="#c3" transform="scale(1,1.02628)" stroke="#4848ec"/><use href="#c3" transform="scale(1,1.02744)" stroke="#4741e4"/><use href="#c3" transform="scale(1,1.02860)" stroke="#463bde"/><use href="#c3" transform="scale(1,1.02976)" stroke="#4639d9"/></g><g id="ob3"><use href="#c3" transform="scale(1,1.00000)" stroke="#484aee"/><use href="#c3" transform="scale(1,1.00113)" stroke="#484df0"/><use href="#c3" transform="scale(1,1.00226)" stroke="#4852f4"/><use href="#c3" transform="scale(1,1.00339)" stroke="#475af9"/><use href="#c3" transform="scale(1,1.00452)" stroke="#4562fc"/><use href="#c3" transform="scale(1,1.00565)" stroke="#406cfe"/><use href="#c3" transform="scale(1,1.00679)" stroke="#3777fe"/><use href="#c3" transform="scale(1,1.00793)" stroke="#2f81fa"/><use href="#c3" transform="scale(1,1.00906)" stroke="#2d89f5"/><use href="#c3" transform="scale(1,1.01020)" stroke="#2c90f0"/><use href="#c3" transform="scale(1,1.01134)" stroke="#2896ec"/><use href="#c3" transform="scale(1,1.01248)" stroke="#2699e9"/><use href="#c3" transform="scale(1,1.01363)" stroke="#259ce7"/><use href="#c3" transform="scale(1,1.01477)" stroke="#259de7"/><use href="#c3" transform="scale(1,1.01591)" stroke="#259ce7"/><use href="#c3" transform="scale(1,1.01706)" stroke="#2699e9"/><use href="#c3" transform="scale(1,1.01821)" stroke="#2896ec"/><use href="#c3" transform="scale(1,1.01936)" stroke="#2c90f0"/><use href="#c3" transform="scale(1,1.02051)" stroke="#2d89f5"/><use href="#c3" transform="scale(1,1.02166)" stroke="#2f81fa"/><use href="#c3" transform="scale(1,1.02281)" stroke="#3777fe"/><use href="#c3" transform="scale(1,1.02397)" stroke="#406cfe"/><use href="#c3" transform="scale(1,1.02512)" stroke="#4562fc"/><use href="#c3" transform="scale(1,1.02628)" stroke="#475af9"/><use href="#c3" transform="scale(1,1.02744)" stroke="#4852f4"/><use href="#c3" transform="scale(1,1.02860)" stroke="#484df0"/><use href="#c3" transform="scale(1,1.02976)" stroke="#484aee"/></g><g id="ob4"><use href="#c3" transform="scale(1,1.00000)" stroke="#4660fb"/><use href="#c3" transform="scale(1,1.00113)" stroke="#4563fc"/><use href="#c3" transform="scale(1,1.00226)" stroke="#4368fe"/><use href="#c3" transform="scale(1,1.00339)" stroke="#3e70ff"/><use href="#c3" transform="scale(1,1.00452)" stroke="#3479fd"/><use href="#c3" transform="scale(1,1.00565)" stroke="#2e83f9"/><use href="#c3" transform="scale(1,1.00679)" stroke="#2d8cf3"/><use href="#c3" transform="scale(1,1.00793)" stroke="#2995ec"/><use href="#c3" transform="scale(1,1.00906)" stroke="#259ce7"/><use href="#c3" transform="scale(1,1.01020)" stroke="#21a2e4"/><use href="#c3" transform="scale(1,1.01134)" stroke="#1ea7e1"/><use href="#c3" transform="scale(1,1.01248)" stroke="#1babde"/><use href="#c3" transform="scale(1,1.01363)" stroke="#19addc"/><use href="#c3" transform="scale(1,1.01477)" stroke="#18aedb"/><use href="#c3" transform="scale(1,1.01591)" stroke="#19addc"/><use href="#c3" transform="scale(1,1.01706)" stroke="#1babde"/><use href="#c3" transform="scale(1,1.01821)" stroke="#1ea7e1"/><use href="#c3" transform="scale(1,1.01936)" stroke="#21a2e4"/><use href="#c3" transform="scale(1,1.02051)" stroke="#259ce7"/><use href="#c3" transform="scale(1,1.02166)" stroke="#2995ec"/><use href="#c3" transform="scale(1,1.02281)" stroke="#2d8cf3"/><use href="#c3" transform="scale(1,1.02397)" stroke="#2e83f9"/><use href="#c3" transform="scale(1,1.02512)" stroke="#3479fd"/><use href="#c3" transform="scale(1,1.02628)" stroke="#3e70ff"/><use href="#c3" transform="scale(1,1.02744)" stroke="#4368fe"/><use href="#c3" transform="scale(1,1.02860)" stroke="#4563fc"/><use href="#c3" transform="scale(1,1.02976)" stroke="#4660fb"/></g><g id="ob5"><use href="#c3" transform="scale(1,1.00000)" stroke="#317efb"/><use href="#c3" transform="scale(1,1.00113)" stroke="#2f81fa"/><use href="#c3" transform="scale(1,1.00226)" stroke="#2e86f7"/><use href="#c3" transform="scale(1,1.00339)" stroke="#2d8df2"/><use href="#c3" transform="scale(1,1.00452)" stroke="#2995ec"/><use href="#c3" transform="scale(1,1.00565)" stroke="#259de7"/><use href="#c3" transform="scale(1,1.00679)" stroke="#20a5e2"/><use href="#c3" transform="scale(1,1.00793)" stroke="#1aacdd"/><use href="#c3" transform="scale(1,1.00906)" stroke="#0fb2d5"/><use href="#c3" transform="scale(1,1.01020)" stroke="#04b6cd"/><use href="#c3" transform="scale(1,1.01134)" stroke="#01b9c6"/><use href="#c3" transform="scale(1,1.01248)" stroke="#06bcc0"/><use href="#c3" transform="scale(1,1.01363)" stroke="#0abdbd"/><use href="#c3" transform="scale(1,1.01477)" stroke="#0cbdbc"/><use href="#c3" transform="scale(1,1.01591)" stroke="#0abdbd"/><use href="#c3" transform="scale(1,1.01706)" stroke="#06bcc0"/><use href="#c3" transform="scale(1,1.01821)" stroke="#01b9c6"/><use href="#c3" transform="scale(1,1.01936)" stroke="#04b6cd"/><use href="#c3" transform="scale(1,1.02051)" stroke="#0fb2d5"/><use href="#c3" transform="scale(1,1.02166)" stroke="#1aacdd"/><use href="#c3" transform="scale(1,1.02281)" stroke="#20a5e2"/><use href="#c3" transform="scale(1,1.02397)" stroke="#259de7"/><use href="#c3" transform="scale(1,1.02512)" stroke="#2995ec"/><use href="#c3" transform="scale(1,1.02628)" stroke="#2d8df2"/><use href="#c3" transform="scale(1,1.02744)" stroke="#2e86f7"/><use href="#c3" transform="scale(1,1.02860)" stroke="#2f81fa"/><use href="#c3" transform="scale(1,1.02976)" stroke="#317efb"/></g><g id="oc0"><use href="#c3" transform="scale(1,1.00000)" stroke="#4434d0"/><use href="#c3" transform="scale(1,1.00112)" stroke="#4537d7"/><use href="#c3" transform="scale(1,1.00223)" stroke="#463ee1"/><use href="#c3" transform="scale(1,1.00335)" stroke="#4848ec"/><use href="#c3" transform="scale(1,1.00447)" stroke="#4852f4"/><use href="#c3" transform="scale(1,1.00559)" stroke="#465ffb"/><use href="#c3" transform="scale(1,1.00672)" stroke="#3a74fe"/><use href="#c3" transform="scale(1,1.00784)" stroke="#2d8bf3"/><use href="#c3" transform="scale(1,1.00896)" stroke="#2d8bf3"/><use href="#c3" transform="scale(1,1.01009)" stroke="#3a74fe"/><use href="#c3" transform="scale(1,1.01122)" stroke="#465ffb"/><use href="#c3" transform="scale(1,1.01235)" stroke="#4852f4"/><use href="#c3" transform="scale(1,1.01348)" stroke="#4848ec"/><use href="#c3" transform="scale(1,1.01461)" stroke="#463ee1"/><use href="#c3" transform="scale(1,1.01574)" stroke="#4537d7"/><use href="#c3" transform="scale(1,1.01688)" stroke="#4434d0"/></g><g id="oc1"><use href="#c3" transform="scale(1,1.00000)" stroke="#4743e7"/><use href="#c3" transform="scale(1,1.00112)" stroke="#4747eb"/><use href="#c3" transform="scale(1,1.00223)" stroke="#484ef1"/><use href="#c3" transform="scale(1,1.00335)" stroke="#4758f8"/><use href="#c3" transform="scale(1,1.00447)" stroke="#4562fc"/><use href="#c3" transform="scale(1,1.00559)" stroke="#3e6fff"/><use href="#c3" transform="scale(1,1.00672)" stroke="#2e85f8"/><use href="#c3" transform="scale(1,1.00784)" stroke="#269ae9"/><use href="#c3" transform="scale(1,1.00896)" stroke="#269ae9"/><use href="#c3" transform="scale(1,1.01009)" stroke="#2e85f8"/><use href="#c3" transform="scale(1,1.01122)" stroke="#3e6fff"/><use href="#c3" transform="scale(1,1.01235)" stroke="#4562fc"/><use href="#c3" transform="scale(1,1.01348)" stroke="#4758f8"/><use href="#c3" transform="scale(1,1.01461)" stroke="#484ef1"/><use href="#c3" transform="scale(1,1.01574)" stroke="#4747eb"/><use href="#c3" transform="scale(1,1.01688)" stroke="#4743e7"/></g><g id="oc2"><use href="#c3" transform="scale(1,1.00000)" stroke="#4851f3"/><use href="#c3" transform="scale(1,1.00112)" stroke="#4755f6"/><use href="#c3" transform="scale(1,1.00223)" stroke="#475cfa"/><use href="#c3" transform="scale(1,1.00335)" stroke="#4466fd"/><use href="#c3" transform="scale(1,1.00447)" stroke="#3c71ff"/><use href="#c3" transform="scale(1,1.00559)" stroke="#307ffb"/><use href="#c3" transform="scale(1,1.00672)" stroke="#2b92ee"/><use href="#c3" transform="scale(1,1.00784)" stroke="#1fa6e2"/><use href="#c3" transform="scale(1,1.00896)" stroke="#1fa6e2"/><use href="#c3" transform="scale(1,1.01009)" stroke="#2b92ee"/><use href="#c3" transform="scale(1,1.01122)" stroke="#307ffb"/><use href="#c3" transform="scale(1,1.01235)" stroke="#3c71ff"/><use href="#c3" transform="scale(1,1.01348)" stroke="#4466fd"/><use href="#c3" transform="scale(1,1.01461)" stroke="#475cfa"/><use href="#c3" transform="scale(1,1.01574)" stroke="#4755f6"/><use href="#c3" transform="scale(1,1.01688)" stroke="#4851f3"/></g><g id="oc3"><use href="#c3" transform="scale(1,1.00000)" stroke="#4563fd"/><use href="#c3" transform="scale(1,1.00112)" stroke="#4367fd"/><use href="#c3" transform="scale(1,1.00223)" stroke="#3f6fff"/><use href="#c3" transform="scale(1,1.00335)" stroke="#3579fd"/><use href="#c3" transform="scale(1,1.00447)" stroke="#2e84f8"/><use href="#c3" transform="scale(1,1.00559)" stroke="#2c90f0"/><use href="#c3" transform="scale(1,1.00672)" stroke="#22a1e4"/><use href="#c3" transform="scale(1,1.00784)" stroke="#0eb2d4"/><use href="#c3" transform="scale(1,1.00896)" stroke="#0eb2d4"/><use href="#c3" transform="scale(1,1.01009)" stroke="#22a1e4"/><use href="#c3" transform="scale(1,1.01122)" stroke="#2c90f0"/><use href="#c3" transform="scale(1,1.01235)" stroke="#2e84f8"/><use href="#c3" transform="scale(1,1.01348)" stroke="#3579fd"/><use href="#c3" transform="scale(1,1.01461)" stroke="#3f6fff"/><use href="#c3" transform="scale(1,1.01574)" stroke="#4367fd"/><use href="#c3" transform="scale(1,1.01688)" stroke="#4563fd"/></g><g id="oc4"><use href="#c3" transform="scale(1,1.00000)" stroke="#347afd"/><use href="#c3" transform="scale(1,1.00112)" stroke="#317efb"/><use href="#c3" transform="scale(1,1.00223)" stroke="#2e85f8"/><use href="#c3" transform="scale(1,1.00335)" stroke="#2c8ef1"/><use href="#c3" transform="scale(1,1.00447)" stroke="#2798ea"/><use href="#c3" transform="scale(1,1.00559)" stroke="#22a2e4"/><use href="#c3" transform="scale(1,1.00672)" stroke="#11b1d6"/><use href="#c3" transform="scale(1,1.00784)" stroke="#0dbdbc"/><use href="#c3" transform="scale(1,1.00896)" stroke="#0dbdbc"/><use href="#c3" transform="scale(1,1.01009)" stroke="#11b1d6"/><use href="#c3" transform="scale(1,1.01122)" stroke="#22a2e4"/><use href="#c3" transform="scale(1,1.01235)" stroke="#2798ea"/><use href="#c3" transform="scale(1,1.01348)" stroke="#2c8ef1"/><use href="#c3" transform="scale(1,1.01461)" stroke="#2e85f8"/><use href="#c3" transform="scale(1,1.01574)" stroke="#317efb"/><use href="#c3" transform="scale(1,1.01688)" stroke="#347afd"/></g><g id="oc5"><use href="#c3" transform="scale(1,1.00000)" stroke="#2895ec"/><use href="#c3" transform="scale(1,1.00112)" stroke="#2699e9"/><use href="#c3" transform="scale(1,1.00223)" stroke="#249fe5"/><use href="#c3" transform="scale(1,1.00335)" stroke="#1ea7e1"/><use href="#c3" transform="scale(1,1.00447)" stroke="#16aeda"/><use href="#c3" transform="scale(1,1.00559)" stroke="#04b6cd"/><use href="#c3" transform="scale(1,1.00672)" stroke="#19bfb5"/><use href="#c3" transform="scale(1,1.00784)" stroke="#38c896"/><use href="#c3" transform="scale(1,1.00896)" stroke="#38c896"/><use href="#c3" transform="scale(1,1.01009)" stroke="#19bfb5"/><use href="#c3" transform="scale(1,1.01122)" stroke="#04b6cd"/><use href="#c3" transform="scale(1,1.01235)" stroke="#16aeda"/><use href="#c3" transform="scale(1,1.01348)" stroke="#1ea7e1"/><use href="#c3" transform="scale(1,1.01461)" stroke="#249fe5"/><use href="#c3" transform="scale(1,1.01574)" stroke="#2699e9"/><use href="#c3" transform="scale(1,1.01688)" stroke="#2895ec"/></g><g id="od0"><use href="#c3" transform="scale(1,1.00000)" stroke="#463bdd"/><use href="#c3" transform="scale(1,1.00111)" stroke="#463de0"/><use href="#c3" transform="scale(1,1.00222)" stroke="#4741e5"/><use href="#c3" transform="scale(1,1.00333)" stroke="#4746eb"/><use href="#c3" transform="scale(1,1.00444)" stroke="#484df0"/><use href="#c3" transform="scale(1,1.00556)" stroke="#4853f5"/><use href="#c3" transform="scale(1,1.00667)" stroke="#4758f8"/><use href="#c3" transform="scale(1,1.00779)" stroke="#475cfa"/><use href="#c3" transform="scale(1,1.00891)" stroke="#465efb"/><use href="#c3" transform="scale(1,1.01002)" stroke="#465efb"/><use href="#c3" transform="scale(1,1.01114)" stroke="#475cfa"/><use href="#c3" transform="scale(1,1.01227)" stroke="#4758f8"/><use href="#c3" transform="scale(1,1.01339)" stroke="#4853f5"/><use href="#c3" transform="scale(1,1.01451)" stroke="#484df0"/><use href="#c3" transform="scale(1,1.01564)" stroke="#4746eb"/><use href="#c3" transform="scale(1,1.01676)" stroke="#4741e5"/><use href="#c3" transform="scale(1,1.01789)" stroke="#463de0"/><use href="#c3" transform="scale(1,1.01902)" stroke="#463bdd"/><use href="#c3" transform="scale(1,1.02015)" stroke="#4230c3"/><use href="#c3" transform="scale(1,1.02128)" stroke="#4332cb"/><use href="#c3" transform="scale(1,1.02241)" stroke="#4538d8"/><use href="#c3" transform="scale(1,1.02355)" stroke="#4741e5"/><use href="#c3" transform="scale(1,1.02468)" stroke="#484df0"/><use href="#c3" transform="scale(1,1.02582)" stroke="#4758f8"/><use href="#c3" transform="scale(1,1.02696)" stroke="#4562fc"/><use href="#c3" transform="scale(1,1.02810)" stroke="#4269fe"/><use href="#c3" transform="scale(1,1.02924)" stroke="#3f6dfe"/><use href="#c3" transform="scale(1,1.03038)" stroke="#3f6dfe"/><use href="#c3" transform="scale(1,1.03152)" stroke="#4269fe"/><use href="#c3" transform="scale(1,1.03266)" stroke="#4562fc"/><use href="#c3" transform="scale(1,1.03381)" stroke="#4758f8"/><use href="#c3" transform="scale(1,1.03496)" stroke="#484df0"/><use href="#c3" transform="scale(1,1.03610)" stroke="#4741e5"/><use href="#c3" transform="scale(1,1.03725)" stroke="#4538d8"/><use href="#c3" transform="scale(1,1.03840)" stroke="#4332cb"/><use href="#c3" transform="scale(1,1.03955)" stroke="#4230c3"/></g><g id="od1"><use href="#c3" transform="scale(1,1.00000)" stroke="#484bef"/><use href="#c3" transform="scale(1,1.00111)" stroke="#484df0"/><use href="#c3" transform="scale(1,1.00222)" stroke="#4851f3"/><use href="#c3" transform="scale(1,1.00333)" stroke="#4756f7"/><use href="#c3" transform="scale(1,1.00444)" stroke="#475dfa"/><use href="#c3" transform="scale(1,1.00556)" stroke="#4563fc"/><use href="#c3" transform="scale(1,1.00667)" stroke="#4368fe"/><use href="#c3" transform="scale(1,1.00779)" stroke="#406dfe"/><use href="#c3" transform="scale(1,1.00891)" stroke="#3e6fff"/><use href="#c3" transform="scale(1,1.01002)" stroke="#3e6fff"/><use href="#c3" transform="scale(1,1.01114)" stroke="#406dfe"/><use href="#c3" transform="scale(1,1.01227)" stroke="#4368fe"/><use href="#c3" transform="scale(1,1.01339)" stroke="#4563fc"/><use href="#c3" transform="scale(1,1.01451)" stroke="#475dfa"/><use href="#c3" transform="scale(1,1.01564)" stroke="#4756f7"/><use href="#c3" transform="scale(1,1.01676)" stroke="#4851f3"/><use href="#c3" transform="scale(1,1.01789)" stroke="#484df0"/><use href="#c3" transform="scale(1,1.01902)" stroke="#484bef"/><use href="#c3" transform="scale(1,1.02015)" stroke="#463cdf"/><use href="#c3" transform="scale(1,1.02128)" stroke="#4740e4"/><use href="#c3" transform="scale(1,1.02241)" stroke="#4848ec"/><use href="#c3" transform="scale(1,1.02355)" stroke="#4851f4"/><use href="#c3" transform="scale(1,1.02468)" stroke="#475dfa"/><use href="#c3" transform="scale(1,1.02582)" stroke="#4368fe"/><use href="#c3" transform="scale(1,1.02696)" stroke="#3b73fe"/><use href="#c3" transform="scale(1,1.02810)" stroke="#337bfd"/><use href="#c3" transform="scale(1,1.02924)" stroke="#307ffb"/><use href="#c3" transform="scale(1,1.03038)" stroke="#307ffb"/><use href="#c3" transform="scale(1,1.03152)" stroke="#337bfd"/><use href="#c3" transform="scale(1,1.03266)" stroke="#3b73fe"/><use href="#c3" transform="scale(1,1.03381)" stroke="#4368fe"/><use href="#c3" transform="scale(1,1.03496)" stroke="#475dfa"/><use href="#c3" transform="scale(1,1.03610)" stroke="#4851f4"/><use href="#c3" transform="scale(1,1.03725)" stroke="#4848ec"/><use href="#c3" transform="scale(1,1.03840)" stroke="#4740e4"/><use href="#c3" transform="scale(1,1.03955)" stroke="#463cdf"/></g><g id="od2"><use href="#c3" transform="scale(1,1.00000)" stroke="#4759f8"/><use href="#c3" transform="scale(1,1.00111)" stroke="#475bf9"/><use href="#c3" transform="scale(1,1.00222)" stroke="#465ffb"/><use href="#c3" transform="scale(1,1.00333)" stroke="#4465fd"/><use href="#c3" transform="scale(1,1.00444)" stroke="#416bfe"/><use href="#c3" transform="scale(1,1.00556)" stroke="#3c72ff"/><use href="#c3" transform="scale(1,1.00667)" stroke="#3678fd"/><use href="#c3" transform="scale(1,1.00779)" stroke="#327cfc"/><use href="#c3" transform="scale(1,1.00891)" stroke="#307efb"/><use href="#c3" transform="scale(1,1.01002)" stroke="#307efb"/><use href="#c3" transform="scale(1,1.01114)" stroke="#327cfc"/><use href="#c3" transform="scale(1,1.01227)" stroke="#3678fd"/><use href="#c3" transform="scale(1,1.01339)" stroke="#3c72ff"/><use href="#c3" transform="scale(1,1.01451)" stroke="#416bfe"/><use href="#c3" transform="scale(1,1.01564)" stroke="#4465fd"/><use href="#c3" transform="scale(1,1.01676)" stroke="#465ffb"/><use href="#c3" transform="scale(1,1.01789)" stroke="#475bf9"/><use href="#c3" transform="scale(1,1.01902)" stroke="#4759f8"/><use href="#c3" transform="scale(1,1.02015)" stroke="#484bee"/><use href="#c3" transform="scale(1,1.02128)" stroke="#484ff1"/><use href="#c3" transform="scale(1,1.02241)" stroke="#4756f6"/><use href="#c3" transform="scale(1,1.02355)" stroke="#4660fb"/><use href="#c3" transform="scale(1,1.02468)" stroke="#416bfe"/><use href="#c3" transform="scale(1,1.02582)" stroke="#3677fe"/><use href="#c3" transform="scale(1,1.02696)" stroke="#2f82fa"/><use href="#c3" transform="scale(1,1.02810)" stroke="#2d89f5"/><use href="#c3" transform="scale(1,1.02924)" stroke="#2d8df2"/><use href="#c3" transform="scale(1,1.03038)" stroke="#2d8df2"/><use href="#c3" transform="scale(1,1.03152)" stroke="#2d89f5"/><use href="#c3" transform="scale(1,1.03266)" stroke="#2f82fa"/><use href="#c3" transform="scale(1,1.03381)" stroke="#3677fe"/><use href="#c3" transform="scale(1,1.03496)" stroke="#416bfe"/><use href="#c3" transform="scale(1,1.03610)" stroke="#4660fb"/><use href="#c3" transform="scale(1,1.03725)" stroke="#4756f6"/><use href="#c3" transform="scale(1,1.03840)" stroke="#484ff1"/><use href="#c3" transform="scale(1,1.03955)" stroke="#484bee"/></g><g id="od3"><use href="#c3" transform="scale(1,1.00000)" stroke="#416bfe"/><use href="#c3" transform="scale(1,1.00111)" stroke="#3f6efe"/><use href="#c3" transform="scale(1,1.00222)" stroke="#3b72ff"/><use href="#c3" transform="scale(1,1.00333)" stroke="#3678fd"/><use href="#c3" transform="scale(1,1.00444)" stroke="#307ffb"/><use href="#c3" transform="scale(1,1.00556)" stroke="#2e85f8"/><use href="#c3" transform="scale(1,1.00667)" stroke="#2d8af5"/><use href="#c3" transform="scale(1,1.00779)" stroke="#2c8ef2"/><use href="#c3" transform="scale(1,1.00891)" stroke="#2c90f0"/><use href="#c3" transform="scale(1,1.01002)" stroke="#2c90f0"/><use href="#c3" transform="scale(1,1.01114)" stroke="#2c8ef2"/><use href="#c3" transform="scale(1,1.01227)" stroke="#2d8af5"/><use href="#c3" transform="scale(1,1.01339)" stroke="#2e85f8"/><use href="#c3" transform="scale(1,1.01451)" stroke="#307ffb"/><use href="#c3" transform="scale(1,1.01564)" stroke="#3678fd"/><use href="#c3" transform="scale(1,1.01676)" stroke="#3b72ff"/><use href="#c3" transform="scale(1,1.01789)" stroke="#3f6efe"/><use href="#c3" transform="scale(1,1.01902)" stroke="#416bfe"/><use href="#c3" transform="scale(1,1.02015)" stroke="#475cfa"/><use href="#c3" transform="scale(1,1.02128)" stroke="#4660fc"/><use href="#c3" transform="scale(1,1.02241)" stroke="#4368fe"/><use href="#c3" transform="scale(1,1.02355)" stroke="#3b72fe"/><use href="#c3" transform="scale(1,1.02468)" stroke="#307ffb"/><use href="#c3" transform="scale(1,1.02582)" stroke="#2d89f5"/><use href="#c3" transform="scale(1,1.02696)" stroke="#2a93ee"/><use href="#c3" transform="scale(1,1.02810)" stroke="#2699e9"/><use href="#c3" transform="scale(1,1.02924)" stroke="#259ce7"/><use href="#c3" transform="scale(1,1.03038)" stroke="#259ce7"/><use href="#c3" transform="scale(1,1.03152)" stroke="#2699e9"/><use href="#c3" transform="scale(1,1.03266)" stroke="#2a93ee"/><use href="#c3" transform="scale(1,1.03381)" stroke="#2d89f5"/><use href="#c3" transform="scale(1,1.03496)" stroke="#307ffb"/><use href="#c3" transform="scale(1,1.03610)" stroke="#3b72fe"/><use href="#c3" transform="scale(1,1.03725)" stroke="#4368fe"/><use href="#c3" transform="scale(1,1.03840)" stroke="#4660fc"/><use href="#c3" transform="scale(1,1.03955)" stroke="#475cfa"/></g><g id="od4"><use href="#c3" transform="scale(1,1.00000)" stroke="#2f82f9"/><use href="#c3" transform="scale(1,1.00111)" stroke="#2e84f8"/><use href="#c3" transform="scale(1,1.00222)" stroke="#2d88f6"/><use href="#c3" transform="scale(1,1.00333)" stroke="#2d8df2"/><use href="#c3" transform="scale(1,1.00444)" stroke="#2a93ee"/><use href="#c3" transform="scale(1,1.00556)" stroke="#2798ea"/><use href="#c3" transform="scale(1,1.00667)" stroke="#259de7"/><use href="#c3" transform="scale(1,1.00779)" stroke="#23a0e5"/><use href="#c3" transform="scale(1,1.00891)" stroke="#22a2e4"/><use href="#c3" transform="scale(1,1.01002)" stroke="#22a2e4"/><use href="#c3" transform="scale(1,1.01114)" stroke="#23a0e5"/><use href="#c3" transform="scale(1,1.01227)" stroke="#259de7"/><use href="#c3" transform="scale(1,1.01339)" stroke="#2798ea"/><use href="#c3" transform="scale(1,1.01451)" stroke="#2a93ee"/><use href="#c3" transform="scale(1,1.01564)" stroke="#2d8df2"/><use href="#c3" transform="scale(1,1.01676)" stroke="#2d88f6"/><use href="#c3" transform="scale(1,1.01789)" stroke="#2e84f8"/><use href="#c3" transform="scale(1,1.01902)" stroke="#2f82f9"/><use href="#c3" transform="scale(1,1.02015)" stroke="#3b73fe"/><use href="#c3" transform="scale(1,1.02128)" stroke="#3777fe"/><use href="#c3" transform="scale(1,1.02241)" stroke="#307ffb"/><use href="#c3" transform="scale(1,1.02355)" stroke="#2d88f6"/><use href="#c3" transform="scale(1,1.02468)" stroke="#2a93ee"/><use href="#c3" transform="scale(1,1.02582)" stroke="#259de7"/><use href="#c3" transform="scale(1,1.02696)" stroke="#20a5e2"/><use href="#c3" transform="scale(1,1.02810)" stroke="#1baade"/><use href="#c3" transform="scale(1,1.02924)" stroke="#18addb"/><use href="#c3" transform="scale(1,1.03038)" stroke="#18addb"/><use href="#c3" transform="scale(1,1.03152)" stroke="#1baade"/><use href="#c3" transform="scale(1,1.03266)" stroke="#20a5e2"/><use href="#c3" transform="scale(1,1.03381)" stroke="#259de7"/><use href="#c3" transform="scale(1,1.03496)" stroke="#2a93ee"/><use href="#c3" transform="scale(1,1.03610)" stroke="#2d88f6"/><use href="#c3" transform="scale(1,1.03725)" stroke="#307ffb"/><use href="#c3" transform="scale(1,1.03840)" stroke="#3777fe"/><use href="#c3" transform="scale(1,1.03955)" stroke="#3b73fe"/></g><g id="od5"><use href="#c3" transform="scale(1,1.00000)" stroke="#259ce7"/><use href="#c3" transform="scale(1,1.00111)" stroke="#249ee6"/><use href="#c3" transform="scale(1,1.00222)" stroke="#22a1e4"/><use href="#c3" transform="scale(1,1.00333)" stroke="#1fa6e2"/><use href="#c3" transform="scale(1,1.00444)" stroke="#1babde"/><use href="#c3" transform="scale(1,1.00556)" stroke="#15afd9"/><use href="#c3" transform="scale(1,1.00667)" stroke="#0eb2d4"/><use href="#c3" transform="scale(1,1.00779)" stroke="#07b5d0"/><use href="#c3" transform="scale(1,1.00891)" stroke="#04b6cd"/><use href="#c3" transform="scale(1,1.01002)" stroke="#04b6cd"/><use href="#c3" transform="scale(1,1.01114)" stroke="#07b5d0"/><use href="#c3" transform="scale(1,1.01227)" stroke="#0eb2d4"/><use href="#c3" transform="scale(1,1.01339)" stroke="#15afd9"/><use href="#c3" transform="scale(1,1.01451)" stroke="#1babde"/><use href="#c3" transform="scale(1,1.01564)" stroke="#1fa6e2"/><use href="#c3" transform="scale(1,1.01676)" stroke="#22a1e4"/><use href="#c3" transform="scale(1,1.01789)" stroke="#249ee6"/><use href="#c3" transform="scale(1,1.01902)" stroke="#259ce7"/><use href="#c3" transform="scale(1,1.02015)" stroke="#2c8ff0"/><use href="#c3" transform="scale(1,1.02128)" stroke="#2a93ee"/><use href="#c3" transform="scale(1,1.02241)" stroke="#2699e9"/><use href="#c3" transform="scale(1,1.02355)" stroke="#22a2e4"/><use href="#c3" transform="scale(1,1.02468)" stroke="#1babde"/><use href="#c3" transform="scale(1,1.02582)" stroke="#0eb2d4"/><use href="#c3" transform="scale(1,1.02696)" stroke="#01b8ca"/><use href="#c3" transform="scale(1,1.02810)" stroke="#05bbc1"/><use href="#c3" transform="scale(1,1.02924)" stroke="#0cbdbc"/><use href="#c3" transform="scale(1,1.03038)" stroke="#0cbdbc"/><use href="#c3" transform="scale(1,1.03152)" stroke="#05bbc1"/><use href="#c3" transform="scale(1,1.03266)" stroke="#01b8ca"/><use href="#c3" transform="scale(1,1.03381)" stroke="#0eb2d4"/><use href="#c3" transform="scale(1,1.03496)" stroke="#1babde"/><use href="#c3" transform="scale(1,1.03610)" stroke="#22a2e4"/><use href="#c3" transform="scale(1,1.03725)" stroke="#2699e9"/><use href="#c3" transform="scale(1,1.03840)" stroke="#2a93ee"/><use href="#c3" transform="scale(1,1.03955)" stroke="#2c8ff0"/></g><g id="oe0"><use href="#c3" transform="scale(1,1.00000)" stroke="#422ebe"/><use href="#c3" transform="scale(1,1.00109)" stroke="#422ebe"/><use href="#c3" transform="scale(1,1.00219)" stroke="#422ebe"/><use href="#c3" transform="scale(1,1.00329)" stroke="#422fc2"/><use href="#c3" transform="scale(1,1.00438)" stroke="#4331c8"/><use href="#c3" transform="scale(1,1.00548)" stroke="#4434ce"/><use href="#c3" transform="scale(1,1.00658)" stroke="#4536d4"/><use href="#c3" transform="scale(1,1.00769)" stroke="#4639d9"/><use href="#c3" transform="scale(1,1.00879)" stroke="#463bde"/><use href="#c3" transform="scale(1,1.00989)" stroke="#463ee1"/><use href="#c3" transform="scale(1,1.01100)" stroke="#473fe3"/><use href="#c3" transform="scale(1,1.01210)" stroke="#4740e4"/><use href="#c3" transform="scale(1,1.01321)" stroke="#4740e4"/><use href="#c3" transform="scale(1,1.01432)" stroke="#473fe3"/><use href="#c3" transform="scale(1,1.01543)" stroke="#463ee1"/><use href="#c3" transform="scale(1,1.01654)" stroke="#463bde"/><use href="#c3" transform="scale(1,1.01765)" stroke="#4639d9"/><use href="#c3" transform="scale(1,1.01877)" stroke="#4536d4"/><use href="#c3" transform="scale(1,1.01988)" stroke="#4434ce"/><use href="#c3" transform="scale(1,1.02100)" stroke="#4331c8"/><use href="#c3" transform="scale(1,1.02212)" stroke="#422fc2"/><use href="#c3" transform="scale(1,1.02323)" stroke="#422ebe"/><use href="#c3" transform="scale(1,1.02435)" stroke="#422ebe"/><use href="#c3" transform="scale(1,1.02548)" stroke="#422ebe"/></g><g id="oe1"><use href="#c3" transform="scale(1,1.00000)" stroke="#4538d7"/><use href="#c3" transform="scale(1,1.00109)" stroke="#4539d9"/><use href="#c3" transform="scale(1,1.00219)" stroke="#463adb"/><use href="#c3" transform="scale(1,1.00329)" stroke="#463cdf"/><use href="#c3" transform="scale(1,1.00438)" stroke="#473fe2"/><use href="#c3" transform="scale(1,1.00548)" stroke="#4742e6"/><use href="#c3" transform="scale(1,1.00658)" stroke="#4745e9"/><use href="#c3" transform="scale(1,1.00769)" stroke="#4848ec"/><use href="#c3" transform="scale(1,1.00879)" stroke="#484bef"/><use href="#c3" transform="scale(1,1.00989)" stroke="#484ef1"/><use href="#c3" transform="scale(1,1.01100)" stroke="#484ff2"/><use href="#c3" transform="scale(1,1.01210)" stroke="#4850f3"/><use href="#c3" transform="scale(1,1.01321)" stroke="#4850f3"/><use href="#c3" transform="scale(1,1.01432)" stroke="#484ff2"/><use href="#c3" transform="scale(1,1.01543)" stroke="#484ef1"/><use href="#c3" transform="scale(1,1.01654)" stroke="#484bef"/><use href="#c3" transform="scale(1,1.01765)" stroke="#4848ec"/><use href="#c3" transform="scale(1,1.01877)" stroke="#4745e9"/><use href="#c3" transform="scale(1,1.01988)" stroke="#4742e6"/><use href="#c3" transform="scale(1,1.02100)" stroke="#473fe2"/><use href="#c3" transform="scale(1,1.02212)" stroke="#463cdf"/><use href="#c3" transform="scale(1,1.02323)" stroke="#463adb"/><use href="#c3" transform="scale(1,1.02435)" stroke="#4539d9"/><use href="#c3" transform="scale(1,1.02548)" stroke="#4538d7"/></g><g id="oe2"><use href="#c3" transform="scale(1,1.00000)" stroke="#4746ea"/><use href="#c3" transform="scale(1,1.00109)" stroke="#4746eb"/><use href="#c3" transform="scale(1,1.00219)" stroke="#4848ec"/><use href="#c3" transform="scale(1,1.00329)" stroke="#484aee"/><use href="#c3" transform="scale(1,1.00438)" stroke="#484df0"/><use href="#c3" transform="scale(1,1.00548)" stroke="#4850f3"/><use href="#c3" transform="scale(1,1.00658)" stroke="#4854f5"/><use href="#c3" transform="scale(1,1.00769)" stroke="#4757f7"/><use href="#c3" transform="scale(1,1.00879)" stroke="#475af9"/><use href="#c3" transform="scale(1,1.00989)" stroke="#475cfa"/><use href="#c3" transform="scale(1,1.01100)" stroke="#465dfb"/><use href="#c3" transform="scale(1,1.01210)" stroke="#465efb"/><use href="#c3" transform="scale(1,1.01321)" stroke="#465efb"/><use href="#c3" transform="scale(1,1.01432)" stroke="#465dfb"/><use href="#c3" transform="scale(1,1.01543)" stroke="#475cfa"/><use href="#c3" transform="scale(1,1.01654)" stroke="#475af9"/><use href="#c3" transform="scale(1,1.01765)" stroke="#4757f7"/><use href="#c3" transform="scale(1,1.01877)" stroke="#4854f5"/><use href="#c3" transform="scale(1,1.01988)" stroke="#4850f3"/><use href="#c3" transform="scale(1,1.02100)" stroke="#484df0"/><use href="#c3" transform="scale(1,1.02212)" stroke="#484aee"/><use href="#c3" transform="scale(1,1.02323)" stroke="#4848ec"/><use href="#c3" transform="scale(1,1.02435)" stroke="#4746eb"/><use href="#c3" transform="scale(1,1.02548)" stroke="#4746ea"/></g><g id="oe3"><use href="#c3" transform="scale(1,1.00000)" stroke="#4757f7"/><use href="#c3" transform="scale(1,1.00109)" stroke="#4758f8"/><use href="#c3" transform="scale(1,1.00219)" stroke="#475af9"/><use href="#c3" transform="scale(1,1.00329)" stroke="#475cfa"/><use href="#c3" transform="scale(1,1.00438)" stroke="#465ffb"/><use href="#c3" transform="scale(1,1.00548)" stroke="#4562fc"/><use href="#c3" transform="scale(1,1.00658)" stroke="#4466fd"/><use href="#c3" transform="scale(1,1.00769)" stroke="#4269fe"/><use href="#c3" transform="scale(1,1.00879)" stroke="#416cfe"/><use href="#c3" transform="scale(1,1.00989)" stroke="#3f6eff"/><use href="#c3" transform="scale(1,1.01100)" stroke="#3d70ff"/><use href="#c3" transform="scale(1,1.01210)" stroke="#3d71ff"/><use href="#c3" transform="scale(1,1.01321)" stroke="#3d71ff"/><use href="#c3" transform="scale(1,1.01432)" stroke="#3d70ff"/><use href="#c3" transform="scale(1,1.01543)" stroke="#3f6eff"/><use href="#c3" transform="scale(1,1.01654)" stroke="#416cfe"/><use href="#c3" transform="scale(1,1.01765)" stroke="#4269fe"/><use href="#c3" transform="scale(1,1.01877)" stroke="#4466fd"/><use href="#c3" transform="scale(1,1.01988)" stroke="#4562fc"/><use href="#c3" transform="scale(1,1.02100)" stroke="#465ffb"/><use href="#c3" transform="scale(1,1.02212)" stroke="#475cfa"/><use href="#c3" transform="scale(1,1.02323)" stroke="#475af9"/><use href="#c3" transform="scale(1,1.02435)" stroke="#4758f8"/><use href="#c3" transform="scale(1,1.02548)" stroke="#4757f7"/></g><g id="oe4"><use href="#c3" transform="scale(1,1.00000)" stroke="#406dfe"/><use href="#c3" transform="scale(1,1.00109)" stroke="#3f6eff"/><use href="#c3" transform="scale(1,1.00219)" stroke="#3d70ff"/><use href="#c3" transform="scale(1,1.00329)" stroke="#3b72fe"/><use href="#c3" transform="scale(1,1.00438)" stroke="#3876fe"/><use href="#c3" transform="scale(1,1.00548)" stroke="#3579fd"/><use href="#c3" transform="scale(1,1.00658)" stroke="#327dfc"/><use href="#c3" transform="scale(1,1.00769)" stroke="#3080fb"/><use href="#c3" transform="scale(1,1.00879)" stroke="#2e83f9"/><use href="#c3" transform="scale(1,1.00989)" stroke="#2e85f8"/><use href="#c3" transform="scale(1,1.01100)" stroke="#2e86f7"/><use href="#c3" transform="scale(1,1.01210)" stroke="#2e87f7"/><use href="#c3" transform="scale(1,1.01321)" stroke="#2e87f7"/><use href="#c3" transform="scale(1,1.01432)" stroke="#2e86f7"/><use href="#c3" transform="scale(1,1.01543)" stroke="#2e85f8"/><use href="#c3" transform="scale(1,1.01654)" stroke="#2e83f9"/><use href="#c3" transform="scale(1,1.01765)" stroke="#3080fb"/><use href="#c3" transform="scale(1,1.01877)" stroke="#327dfc"/><use href="#c3" transform="scale(1,1.01988)" stroke="#3579fd"/><use href="#c3" transform="scale(1,1.02100)" stroke="#3876fe"/><use href="#c3" transform="scale(1,1.02212)" stroke="#3b72fe"/><use href="#c3" transform="scale(1,1.02323)" stroke="#3d70ff"/><use href="#c3" transform="scale(1,1.02435)" stroke="#3f6eff"/><use href="#c3" transform="scale(1,1.02548)" stroke="#406dfe"/></g><g id="oe5"><use href="#c3" transform="scale(1,1.00000)" stroke="#2d8bf4"/><use href="#c3" transform="scale(1,1.00109)" stroke="#2d8cf3"/><use href="#c3" transform="scale(1,1.00219)" stroke="#2d8df2"/><use href="#c3" transform="scale(1,1.00329)" stroke="#2c8ff0"/><use href="#c3" transform="scale(1,1.00438)" stroke="#2b92ee"/><use href="#c3" transform="scale(1,1.00548)" stroke="#2995ec"/><use href="#c3" transform="scale(1,1.00658)" stroke="#2797ea"/><use href="#c3" transform="scale(1,1.00769)" stroke="#269ae8"/><use href="#c3" transform="scale(1,1.00879)" stroke="#259de7"/><use href="#c3" transform="scale(1,1.00989)" stroke="#249ee6"/><use href="#c3" transform="scale(1,1.01100)" stroke="#23a0e5"/><use href="#c3" transform="scale(1,1.01210)" stroke="#23a1e5"/><use href="#c3" transform="scale(1,1.01321)" stroke="#23a1e5"/><use href="#c3" transform="scale(1,1.01432)" stroke="#23a0e5"/><use href="#c3" transform="scale(1,1.01543)" stroke="#249ee6"/><use href="#c3" transform="scale(1,1.01654)" stroke="#259de7"/><use href="#c3" transform="scale(1,1.01765)" stroke="#269ae8"/><use href="#c3" transform="scale(1,1.01877)" stroke="#2797ea"/><use href="#c3" transform="scale(1,1.01988)" stroke="#2995ec"/><use href="#c3" transform="scale(1,1.02100)" stroke="#2b92ee"/><use href="#c3" transform="scale(1,1.02212)" stroke="#2c8ff0"/><use href="#c3" transform="scale(1,1.02323)" stroke="#2d8df2"/><use href="#c3" transform="scale(1,1.02435)" stroke="#2d8cf3"/><use href="#c3" transform="scale(1,1.02548)" stroke="#2d8bf4"/></g><g id="of0"><use href="#c3" transform="scale(1,1.00000)" stroke="#463de0"/><use href="#c3" transform="scale(1,1.00105)" stroke="#4742e6"/><use href="#c3" transform="scale(1,1.00210)" stroke="#484aee"/><use href="#c3" transform="scale(1,1.00315)" stroke="#4854f5"/><use href="#c3" transform="scale(1,1.00421)" stroke="#465efb"/><use href="#c3" transform="scale(1,1.00526)" stroke="#4466fd"/><use href="#c3" transform="scale(1,1.00632)" stroke="#416afe"/><use href="#c3" transform="scale(1,1.00738)" stroke="#416afe"/><use href="#c3" transform="scale(1,1.00844)" stroke="#4466fd"/><use href="#c3" transform="scale(1,1.00949)" stroke="#465efb"/><use href="#c3" transform="scale(1,1.01056)" stroke="#4854f5"/><use href="#c3" transform="scale(1,1.01162)" stroke="#484aee"/><use href="#c3" transform="scale(1,1.01268)" stroke="#4742e6"/><use href="#c3" transform="scale(1,1.01374)" stroke="#463de0"/></g><g id="of1"><use href="#c3" transform="scale(1,1.00000)" stroke="#484df1"/><use href="#c3" transform="scale(1,1.00105)" stroke="#4852f4"/><use href="#c3" transform="scale(1,1.00210)" stroke="#475af9"/><use href="#c3" transform="scale(1,1.00315)" stroke="#4564fd"/><use href="#c3" transform="scale(1,1.00421)" stroke="#3f6eff"/><use href="#c3" transform="scale(1,1.00526)" stroke="#3777fe"/><use href="#c3" transform="scale(1,1.00632)" stroke="#327cfc"/><use href="#c3" transform="scale(1,1.00738)" stroke="#327cfc"/><use href="#c3" transform="scale(1,1.00844)" stroke="#3777fe"/><use href="#c3" transform="scale(1,1.00949)" stroke="#3f6eff"/><use href="#c3" transform="scale(1,1.01056)" stroke="#4564fd"/><use href="#c3" transform="scale(1,1.01162)" stroke="#475af9"/><use href="#c3" transform="scale(1,1.01268)" stroke="#4852f4"/><use href="#c3" transform="scale(1,1.01374)" stroke="#484df1"/></g><g id="of2"><use href="#c3" transform="scale(1,1.00000)" stroke="#475cfa"/><use href="#c3" transform="scale(1,1.00105)" stroke="#4660fc"/><use href="#c3" transform="scale(1,1.00210)" stroke="#4368fe"/><use href="#c3" transform="scale(1,1.00315)" stroke="#3b73fe"/><use href="#c3" transform="scale(1,1.00421)" stroke="#317efb"/><use href="#c3" transform="scale(1,1.00526)" stroke="#2e86f8"/><use href="#c3" transform="scale(1,1.00632)" stroke="#2d8af5"/><use href="#c3" transform="scale(1,1.00738)" stroke="#2d8af5"/><use href="#c3" transform="scale(1,1.00844)" stroke="#2e86f8"/><use href="#c3" transform="scale(1,1.00949)" stroke="#317efb"/><use href="#c3" transform="scale(1,1.01056)" stroke="#3b73fe"/><use href="#c3" transform="scale(1,1.01162)" stroke="#4368fe"/><use href="#c3" transform="scale(1,1.01268)" stroke="#4660fc"/><use href="#c3" transform="scale(1,1.01374)" stroke="#475cfa"/></g><g id="of3"><use href="#c3" transform="scale(1,1.00000)" stroke="#3f6eff"/><use href="#c3" transform="scale(1,1.00105)" stroke="#3b73fe"/><use href="#c3" transform="scale(1,1.00210)" stroke="#327cfc"/><use href="#c3" transform="scale(1,1.00315)" stroke="#2e86f8"/><use href="#c3" transform="scale(1,1.00421)" stroke="#2c8ff1"/><use href="#c3" transform="scale(1,1.00526)" stroke="#2896eb"/><use href="#c3" transform="scale(1,1.00632)" stroke="#269ae9"/><use href="#c3" transform="scale(1,1.00738)" stroke="#269ae9"/><use href="#c3" transform="scale(1,1.00844)" stroke="#2896eb"/><use href="#c3" transform="scale(1,1.00949)" stroke="#2c8ff1"/><use href="#c3" transform="scale(1,1.01056)" stroke="#2e86f8"/><use href="#c3" transform="scale(1,1.01162)" stroke="#327cfc"/><use href="#c3" transform="scale(1,1.01268)" stroke="#3b73fe"/><use href="#c3" transform="scale(1,1.01374)" stroke="#3f6eff"/></g><g id="of4"><use href="#c3" transform="scale(1,1.00000)" stroke="#2e85f8"/><use href="#c3" transform="scale(1,1.00105)" stroke="#2d89f5"/><use href="#c3" transform="scale(1,1.00210)" stroke="#2b90f0"/><use href="#c3" transform="scale(1,1.00315)" stroke="#2699e9"/><use href="#c3" transform="scale(1,1.00421)" stroke="#22a1e4"/><use href="#c3" transform="scale(1,1.00526)" stroke="#1da8e0"/><use href="#c3" transform="scale(1,1.00632)" stroke="#1aabdd"/><use href="#c3" transform="scale(1,1.00738)" stroke="#1aabdd"/><use href="#c3" transform="scale(1,1.00844)" stroke="#1da8e0"/><use href="#c3" transform="scale(1,1.00949)" stroke="#22a1e4"/><use href="#c3" transform="scale(1,1.01056)" stroke="#2699e9"/><use href="#c3" transform="scale(1,1.01162)" stroke="#2b90f0"/><use href="#c3" transform="scale(1,1.01268)" stroke="#2d89f5"/><use href="#c3" transform="scale(1,1.01374)" stroke="#2e85f8"/></g><g id="of5"><use href="#c3" transform="scale(1,1.00000)" stroke="#249ee6"/><use href="#c3" transform="scale(1,1.00105)" stroke="#22a2e4"/><use href="#c3" transform="scale(1,1.00210)" stroke="#1da8e0"/><use href="#c3" transform="scale(1,1.00315)" stroke="#14b0d8"/><use href="#c3" transform="scale(1,1.00421)" stroke="#05b6ce"/><use href="#c3" transform="scale(1,1.00526)" stroke="#02bac5"/><use href="#c3" transform="scale(1,1.00632)" stroke="#07bcc0"/><use href="#c3" transform="scale(1,1.00738)" stroke="#07bcc0"/><use href="#c3" transform="scale(1,1.00844)" stroke="#02bac5"/><use href="#c3" transform="scale(1,1.00949)" stroke="#05b6ce"/><use href="#c3" transform="scale(1,1.01056)" stroke="#14b0d8"/><use href="#c3" transform="scale(1,1.01162)" stroke="#1da8e0"/><use href="#c3" transform="scale(1,1.01268)" stroke="#22a2e4"/><use href="#c3" transform="scale(1,1.01374)" stroke="#249ee6"/></g>
</defs>
<rect width="2125" height="1633" fill="#fff"/>
<g clip-path="url(#cp)"><rect x="422.5" y="60.8" width="1274.5" height="1238.7" fill="#347afd"/>
<g transform="translate(1060.35,1918.85) scale(1,-1)"><use href="#c" transform="scale(1,560.00)" stroke="#2896eb"/>
<use href="#c" transform="matrix(1,0,0,560.64,0,0.03)" stroke="#2994ed"/>
<use href="#c" transform="matrix(1,0,0,561.28,0,0.04)" stroke="#2b91ef"/>
<use href="#c" transform="matrix(1,0,0,561.92,0,0.05)" stroke="#2c90f0"/>
<use href="#c" transform="matrix(1,0,0,562.57,0,0.04)" stroke="#2c8ef1"/>
<use href="#c" transform="matrix(1,0,0,563.21,0,0.03)" stroke="#2d8df2"/>
<use href="#c" transform="matrix(1,0,0,563.86,0,0.02)" stroke="#2d8cf3"/>
<use href="#c" transform="scale(1,564.51)" stroke="#2d8cf3"/>
<use href="#c" transform="matrix(1,0,0,565.18,0,-0.18)" stroke="#2d8cf3"/>
<use href="#c" transform="matrix(1,0,0,565.87,0,-0.42)" stroke="#2d8cf3"/>
<use href="#c" transform="matrix(1,0,0,566.56,0,-0.66)" stroke="#2d8df2"/>
<use href="#c" transform="matrix(1,0,0,567.25,0,-0.90)" stroke="#2c8ef1"/>
<use href="#c" transform="matrix(1,0,0,567.93,0,-1.13)" stroke="#2c90f0"/>
<use href="#c" transform="matrix(1,0,0,568.62,0,-1.34)" stroke="#2b92ee"/>
<use href="#c" transform="matrix(1,0,0,569.30,0,-1.54)" stroke="#2994ed"/>
<use href="#c" transform="matrix(1,0,0,569.97,0,-1.71)" stroke="#2796eb"/>
<use href="#c" transform="matrix(1,0,0,570.64,0,-1.86)" class="b22"/>
<use href="#c" transform="matrix(1,0,0,571.31,0,-1.97)" class="b23"/>
<use href="#c" transform="matrix(1,0,0,571.96,0,-2.04)" class="b23"/>
<use href="#c" transform="matrix(1,0,0,572.61,0,-2.05)" class="b24"/>
<use href="#c" transform="matrix(1,0,0,573.25,0,-2.01)" class="b25"/>
<use href="#c" transform="matrix(1,0,0,573.87,0,-1.91)" class="b26"/>
<use href="#c" transform="matrix(1,0,0,574.49,0,-1.76)" class="b27"/>
<use href="#c" transform="matrix(1,0,0,575.10,0,-1.57)" class="b28"/>
<use href="#c" transform="matrix(1,0,0,575.70,0,-1.36)" class="b29"/>
<use href="#c" transform="matrix(1,0,0,576.31,0,-1.13)" class="b30"/>
<use href="#c" transform="matrix(1,0,0,576.91,0,-0.89)" class="b31"/>
<use href="#c" transform="matrix(1,0,0,577.51,0,-0.66)" class="b31"/>
<use href="#c" transform="matrix(1,0,0,578.11,0,-0.41)" class="b32"/>
<use href="#c" transform="matrix(1,0,0,578.71,0,-0.17)" class="b32"/>
<use href="#c" transform="matrix(1,0,0,579.30,0,0.08)" class="b32"/>
<use href="#c" transform="matrix(1,0,0,579.89,0,0.39)" class="b32"/>
<use href="#c" transform="matrix(1,0,0,580.47,0,0.70)" class="b32"/>
<use href="#c" transform="matrix(1,0,0,581.06,0,1.00)" class="b32"/>
<use href="#c" transform="matrix(1,0,0,581.65,0,1.30)" class="b31"/>
<use href="#c" transform="matrix(1,0,0,582.24,0,1.60)" class="b31"/>
<use href="#c" transform="matrix(1,0,0,582.82,0,1.90)" class="b30"/>
<use href="#c" transform="matrix(1,0,0,583.41,0,2.19)" class="b30"/>
<use href="#c" transform="matrix(1,0,0,584.00,0,2.48)" class="b29"/>
<use href="#c" transform="matrix(1,0,0,584.59,0,2.76)" class="b29"/>
<use href="#c" transform="matrix(1,0,0,585.18,0,3.03)" class="b28"/>
<use href="#c" transform="matrix(1,0,0,585.78,0,3.29)" class="b28"/>
<use href="#c" transform="matrix(1,0,0,586.37,0,3.53)" class="b27"/>
<use href="#c" transform="matrix(1,0,0,586.98,0,3.74)" class="b26"/>
<use href="#c" transform="matrix(1,0,0,587.59,0,3.92)" class="b26"/>
<use href="#c" transform="matrix(1,0,0,588.20,0,4.06)" class="b25"/>
<use href="#c" transform="matrix(1,0,0,588.82,0,4.17)" class="b24"/>
<use href="#c" transform="matrix(1,0,0,589.45,0,4.24)" class="b24"/>
<use href="#c" transform="matrix(1,0,0,590.09,0,4.26)" class="b23"/>
<use href="#c" transform="matrix(1,0,0,590.74,0,4.25)" class="b23"/>
<use href="#c" transform="matrix(1,0,0,591.39,0,4.20)" class="b22"/>
<use href="#c" transform="matrix(1,0,0,592.05,0,4.12)" stroke="#2698ea"/>
<use href="#c" transform="matrix(1,0,0,592.71,0,4.02)" stroke="#2896eb"/>
<use href="#c" transform="matrix(1,0,0,593.38,0,3.89)" stroke="#2994ed"/>
<use href="#c" transform="matrix(1,0,0,594.05,0,3.74)" stroke="#2b92ee"/>
<use href="#c" transform="matrix(1,0,0,594.73,0,3.58)" stroke="#2c90f0"/>
<use href="#c" transform="matrix(1,0,0,595.40,0,3.40)" stroke="#2c8ef1"/>
<use href="#c" transform="matrix(1,0,0,596.08,0,3.21)" stroke="#2d8cf3"/>
<use href="#c" transform="matrix(1,0,0,596.77,0,3.01)" stroke="#2d8af4"/>
<use href="#c" transform="matrix(1,0,0,597.45,0,2.81)" stroke="#2d89f6"/>
<use href="#c" transform="matrix(1,0,0,598.14,0,2.61)" stroke="#2e87f7"/>
<use href="#c" transform="matrix(1,0,0,598.82,0,2.40)" stroke="#2e85f8"/>
<use href="#c" transform="matrix(1,0,0,599.51,0,2.19)" stroke="#2e84f8"/>
<use href="#c" transform="matrix(1,0,0,600.20,0,1.99)" stroke="#2f83f9"/>
<use href="#c" transform="matrix(1,0,0,600.89,0,1.78)" stroke="#2f81fa"/>
<use href="#c" transform="matrix(1,0,0,601.58,0,1.58)" stroke="#3080fa"/>
<use href="#c" transform="matrix(1,0,0,602.26,0,1.38)" stroke="#307ffb"/>
<use href="#c" transform="matrix(1,0,0,602.95,0,1.19)" stroke="#317efb"/>
<use href="#c" transform="matrix(1,0,0,603.64,0,1.00)" stroke="#317dfc"/>
<use href="#c" transform="matrix(1,0,0,604.33,0,0.81)" stroke="#327cfc"/>
<use href="#c" transform="matrix(1,0,0,605.01,0,0.63)" stroke="#327bfc"/>
<use href="#c" transform="matrix(1,0,0,605.70,0,0.45)" stroke="#337bfd"/>
<use href="#c" transform="matrix(1,0,0,606.39,0,0.27)" stroke="#337afd"/>
<use href="#c" transform="matrix(1,0,0,607.08,0,0.10)" stroke="#347afd"/>
<use href="#c" transform="scale(1,607.75)" stroke="#347afd"/>
<use href="#c" transform="matrix(1,0,0,608.40,0,0.01)" stroke="#337afd"/>
<use href="#c" transform="matrix(1,0,0,609.06,0,0.02)" stroke="#337bfd"/>
<use href="#c" transform="matrix(1,0,0,609.71,0,0.03)" stroke="#327bfc"/>
<use href="#c" transform="matrix(1,0,0,610.37,0,0.03)" stroke="#327cfc"/>
<use href="#c" transform="matrix(1,0,0,611.02,0,0.03)" stroke="#317dfc"/>
<use href="#c" transform="matrix(1,0,0,611.68,0,0.02)" stroke="#317efb"/>
<use href="#c" transform="matrix(1,0,0,612.34,0,0.02)" stroke="#307ffb"/>
<use href="#c" transform="scale(1,613.01)" stroke="#3080fb"/>
<use href="#c" transform="matrix(1,0,0,613.67,0,-0.01)" stroke="#2f81fa"/>
<use href="#c" transform="matrix(1,0,0,614.33,0,-0.03)" stroke="#2f82f9"/>
<use href="#c" transform="matrix(1,0,0,615.00,0,-0.05)" stroke="#2e83f9"/>
<use href="#c" transform="matrix(1,0,0,615.67,0,-0.07)" stroke="#2e85f8"/>
<use href="#c" transform="matrix(1,0,0,616.33,0,-0.09)" stroke="#2e86f7"/>
<use href="#c" transform="matrix(1,0,0,617.00,0,-0.11)" stroke="#2e87f7"/>
<use href="#c" transform="matrix(1,0,0,617.67,0,-0.12)" stroke="#2d88f6"/>
<use href="#c" transform="matrix(1,0,0,618.34,0,-0.14)" stroke="#2d8af5"/>
<use href="#c" transform="matrix(1,0,0,619.00,0,-0.15)" stroke="#2d8bf4"/>
<use href="#c" transform="matrix(1,0,0,619.67,0,-0.16)" stroke="#2d8cf3"/>
<use href="#c" transform="matrix(1,0,0,620.34,0,-0.16)" stroke="#2d8df2"/>
<use href="#c" transform="matrix(1,0,0,621.01,0,-0.16)" stroke="#2c8ef1"/>
<use href="#c" transform="matrix(1,0,0,621.68,0,-0.15)" stroke="#2c8ff1"/>
<use href="#c" transform="matrix(1,0,0,622.34,0,-0.14)" stroke="#2c90f0"/>
<use href="#c" transform="matrix(1,0,0,623.01,0,-0.12)" stroke="#2b91ef"/>
<use href="#c" transform="matrix(1,0,0,623.67,0,-0.10)" stroke="#2b91ef"/>
<use href="#c" transform="matrix(1,0,0,624.34,0,-0.07)" stroke="#2b92ee"/>
<use href="#c" transform="matrix(1,0,0,625.01,0,-0.04)" stroke="#2b92ee"/>
<use href="#c" transform="matrix(1,0,0,625.67,0,-0.01)" stroke="#2a92ee"/>
<use href="#c" transform="matrix(1,0,0,626.35,0,-0.03)" stroke="#2a92ee"/>
<use href="#c" transform="matrix(1,0,0,627.04,0,-0.08)" stroke="#2a92ee"/>
<use href="#c" transform="matrix(1,0,0,627.72,0,-0.13)" stroke="#2a92ee"/>
<use href="#c" transform="matrix(1,0,0,628.41,0,-0.18)" stroke="#2b92ee"/>
<use href="#c" transform="matrix(1,0,0,629.09,0,-0.23)" stroke="#2b92ee"/>
<use href="#c" transform="matrix(1,0,0,629.78,0,-0.28)" stroke="#2b92ee"/>
<use href="#c" transform="matrix(1,0,0,630.47,0,-0.33)" stroke="#2b92ee"/>
<use href="#c" transform="matrix(1,0,0,631.16,0,-0.38)" stroke="#2b92ef"/>
<use href="#c" transform="matrix(1,0,0,631.85,0,-0.43)" stroke="#2b91ef"/>
<use href="#c" transform="matrix(1,0,0,632.54,0,-0.49)" stroke="#2b91ef"/>
<use href="#c" transform="matrix(1,0,0,633.24,0,-0.55)" stroke="#2b91ef"/>
<use href="#c" transform="matrix(1,0,0,633.93,0,-0.60)" stroke="#2b91ef"/>
<use href="#c" transform="matrix(1,0,0,634.63,0,-0.67)" stroke="#2b91ef"/>
<use href="#c" transform="matrix(1,0,0,635.32,0,-0.73)" stroke="#2b90f0"/>
<use href="#c" transform="matrix(1,0,0,636.02,0,-0.79)" stroke="#2c90f0"/>
<use href="#c" transform="matrix(1,0,0,636.72,0,-0.86)" stroke="#2c90f0"/>
<use href="#c" transform="matrix(1,0,0,637.42,0,-0.93)" stroke="#2c8ff0"/>
<use href="#c" transform="matrix(1,0,0,638.12,0,-1.01)" stroke="#2c8ff0"/>
<use href="#c" transform="matrix(1,0,0,638.82,0,-1.08)" stroke="#2c8ff1"/>
<use href="#c" transform="matrix(1,0,0,639.53,0,-1.16)" stroke="#2c8ef1"/>
<use href="#c" transform="matrix(1,0,0,640.23,0,-1.24)" stroke="#2c8ef1"/>
<use href="#c" transform="matrix(1,0,0,640.94,0,-1.32)" stroke="#2c8ef2"/>
<use href="#c" transform="matrix(1,0,0,641.65,0,-1.40)" stroke="#2d8df2"/>
<use href="#c" transform="matrix(1,0,0,642.36,0,-1.49)" stroke="#2d8df2"/>
<use href="#c" transform="matrix(1,0,0,643.07,0,-1.58)" stroke="#2d8cf3"/>
<use href="#c" transform="matrix(1,0,0,643.78,0,-1.67)" stroke="#2d8cf3"/>
<use href="#c" transform="matrix(1,0,0,644.49,0,-1.77)" stroke="#2d8bf3"/>
<use href="#c" transform="matrix(1,0,0,645.21,0,-1.86)" stroke="#2d8bf4"/>
<use href="#c" transform="matrix(1,0,0,645.92,0,-1.96)" stroke="#2d8af4"/>
<use href="#c" transform="matrix(1,0,0,646.64,0,-2.06)" stroke="#2d8af4"/>
<use href="#c" transform="matrix(1,0,0,647.35,0,-2.16)" stroke="#2d89f5"/>
<use href="#c" transform="matrix(1,0,0,648.07,0,-2.27)" stroke="#2d89f5"/>
<use href="#c" transform="matrix(1,0,0,648.79,0,-2.37)" stroke="#2d88f6"/>
<use href="#c" transform="matrix(1,0,0,649.51,0,-2.48)" stroke="#2d88f6"/>
<use href="#c" transform="matrix(1,0,0,650.23,0,-2.59)" stroke="#2d87f7"/>
<use href="#c" transform="matrix(1,0,0,650.96,0,-2.70)" stroke="#2e87f7"/>
<use href="#c" transform="matrix(1,0,0,651.68,0,-2.80)" stroke="#2e86f7"/>
<use href="#c" transform="matrix(1,0,0,652.40,0,-2.91)" stroke="#2e86f8"/>
<use href="#c" transform="matrix(1,0,0,653.13,0,-3.02)" stroke="#2e85f8"/>
<use href="#c" transform="matrix(1,0,0,653.85,0,-3.13)" stroke="#2e84f8"/>
<use href="#c" transform="matrix(1,0,0,654.58,0,-3.24)" stroke="#2e83f9"/>
<use href="#c" transform="matrix(1,0,0,655.31,0,-3.35)" stroke="#2f82fa"/>
<use href="#c" transform="matrix(1,0,0,656.03,0,-3.45)" stroke="#3080fb"/>
<use href="#c" transform="matrix(1,0,0,656.76,0,-3.55)" stroke="#317efb"/>
<use href="#c" transform="matrix(1,0,0,657.48,0,-3.63)" stroke="#337bfc"/>
<use href="#c" transform="matrix(1,0,0,658.20,0,-3.70)" stroke="#3578fd"/>
<use href="#c" transform="matrix(1,0,0,658.92,0,-3.75)" stroke="#3975fe"/>
<use href="#c" transform="matrix(1,0,0,659.63,0,-3.77)" stroke="#3c71ff"/>
<use href="#c" transform="matrix(1,0,0,660.33,0,-3.75)" stroke="#3f6efe"/>
<use href="#c" transform="matrix(1,0,0,661.02,0,-3.68)" stroke="#426afe"/>
<use href="#c" transform="matrix(1,0,0,661.70,0,-3.56)" stroke="#4465fd"/>
<use href="#c" transform="matrix(1,0,0,662.37,0,-3.37)" stroke="#4661fc"/>
<use href="#c" transform="matrix(1,0,0,663.02,0,-3.11)" stroke="#475cfa"/>
<use href="#c" transform="matrix(1,0,0,663.66,0,-2.79)" stroke="#4757f7"/>
<use href="#c" transform="matrix(1,0,0,664.28,0,-2.42)" stroke="#4852f4"/>
<use href="#c" transform="matrix(1,0,0,664.90,0,-2.00)" stroke="#484ef1"/>
<use href="#c" transform="matrix(1,0,0,665.51,0,-1.56)" stroke="#484aee"/>
<use href="#c" transform="matrix(1,0,0,666.11,0,-1.10)" stroke="#4746eb"/>
<use href="#c" transform="matrix(1,0,0,666.72,0,-0.64)" stroke="#4744e8"/>
<use href="#c" transform="matrix(1,0,0,667.33,0,-0.17)" stroke="#4743e7"/>
<use href="#c" transform="matrix(1,0,0,667.91,0,0.37)" stroke="#4743e7"/>
<use href="#c" transform="matrix(1,0,0,668.50,0,0.95)" stroke="#4744e8"/>
<use href="#c" transform="matrix(1,0,0,669.08,0,1.51)" stroke="#4746ea"/>
<use href="#c" transform="matrix(1,0,0,669.67,0,2.06)" stroke="#4849ec"/>
<use href="#c" transform="matrix(1,0,0,670.26,0,2.59)" stroke="#484cef"/>
<use href="#c" transform="matrix(1,0,0,670.87,0,3.08)" stroke="#484ff2"/>
<use href="#c" transform="matrix(1,0,0,671.48,0,3.53)" stroke="#4853f5"/>
<use href="#c" transform="matrix(1,0,0,672.12,0,3.90)" stroke="#4757f7"/>
<use href="#c" transform="matrix(1,0,0,672.77,0,4.21)" stroke="#475bf9"/>
<use href="#c" transform="matrix(1,0,0,673.44,0,4.43)" stroke="#465ffb"/>
<use href="#c" transform="matrix(1,0,0,674.14,0,4.57)" stroke="#4563fc"/>
<use href="#c" transform="matrix(1,0,0,674.85,0,4.63)" stroke="#4366fd"/>
<use href="#c" transform="matrix(1,0,0,675.58,0,4.62)" stroke="#426afe"/>
<use href="#c" transform="matrix(1,0,0,676.33,0,4.56)" stroke="#3f6dfe"/>
<use href="#c" transform="matrix(1,0,0,677.09,0,4.44)" stroke="#3d71ff"/>
<use href="#c" transform="matrix(1,0,0,677.86,0,4.29)" stroke="#3a74fe"/>
<use href="#c" transform="matrix(1,0,0,678.65,0,4.11)" stroke="#3777fe"/>
<use href="#c" transform="matrix(1,0,0,679.43,0,3.89)" stroke="#3479fd"/>
<use href="#c" transform="matrix(1,0,0,680.23,0,3.66)" stroke="#327cfc"/>
<use href="#c" transform="matrix(1,0,0,681.03,0,3.42)" stroke="#307ffb"/>
<use href="#c" transform="matrix(1,0,0,681.83,0,3.16)" stroke="#2f81fa"/>
<use href="#c" transform="matrix(1,0,0,682.63,0,2.90)" stroke="#2e83f9"/>
<use href="#c" transform="matrix(1,0,0,683.44,0,2.64)" stroke="#2e85f8"/>
<use href="#c" transform="matrix(1,0,0,684.24,0,2.37)" stroke="#2e87f7"/>
<use href="#c" transform="matrix(1,0,0,685.05,0,2.11)" stroke="#2d89f5"/>
<use href="#c" transform="matrix(1,0,0,685.85,0,1.86)" stroke="#2d8bf4"/>
<use href="#c" transform="matrix(1,0,0,686.65,0,1.61)" stroke="#2d8df2"/>
<use href="#c" transform="matrix(1,0,0,687.45,0,1.38)" stroke="#2c8ff1"/>
<use href="#c" transform="matrix(1,0,0,688.25,0,1.16)" stroke="#2b91ef"/>
<use href="#c" transform="matrix(1,0,0,689.04,0,0.96)" stroke="#2a92ee"/>
<use href="#c" transform="matrix(1,0,0,689.83,0,0.78)" stroke="#2994ed"/>
<use href="#c" transform="matrix(1,0,0,690.62,0,0.62)" stroke="#2895ec"/>
<use href="#c" transform="matrix(1,0,0,691.40,0,0.48)" stroke="#2797eb"/>
<use href="#c" transform="matrix(1,0,0,692.18,0,0.36)" stroke="#2798ea"/>
<use href="#c" transform="matrix(1,0,0,692.95,0,0.26)" class="b22"/>
<use href="#c" transform="matrix(1,0,0,693.71,0,0.18)" class="b22"/>
<use href="#c" transform="matrix(1,0,0,694.48,0,0.11)" class="b22"/>
<use href="#c" transform="matrix(1,0,0,695.24,0,0.06)" class="b22"/>
<use href="#c" transform="matrix(1,0,0,696.00,0,0.02)" class="b22"/>
<use href="#c" transform="matrix(1,0,0,696.75,0,0.02)" class="b22"/>
<use href="#c" transform="matrix(1,0,0,697.49,0,0.05)" class="b22"/>
<use href="#c" transform="matrix(1,0,0,698.24,0,0.06)" class="b22"/>
<use href="#c" transform="matrix(1,0,0,698.99,0,0.07)" class="b22"/>
<use href="#c" transform="matrix(1,0,0,699.75,0,0.05)" class="b22"/>
<use href="#c" transform="matrix(1,0,0,700.51,0,0.01)" stroke="#2798ea"/>
<use href="#c" transform="matrix(1,0,0,701.28,0,-0.05)" stroke="#2796eb"/>
<use href="#c" transform="matrix(1,0,0,702.06,0,-0.14)" stroke="#2895ec"/>
<use href="#c" transform="matrix(1,0,0,702.85,0,-0.25)" stroke="#2a93ed"/>
<use href="#c" transform="matrix(1,0,0,703.64,0,-0.38)" stroke="#2b92ee"/>
<use href="#c" transform="matrix(1,0,0,704.44,0,-0.53)" stroke="#2c90f0"/>
<use href="#c" transform="matrix(1,0,0,705.24,0,-0.70)" stroke="#2c8ef1"/>
<use href="#c" transform="matrix(1,0,0,706.05,0,-0.88)" stroke="#2d8cf3"/>
<use href="#c" transform="matrix(1,0,0,706.86,0,-1.08)" stroke="#2d8af4"/>
<use href="#c" transform="matrix(1,0,0,707.67,0,-1.28)" stroke="#2d88f6"/>
<use href="#c" transform="matrix(1,0,0,708.49,0,-1.49)" stroke="#2e86f7"/>
<use href="#c" transform="matrix(1,0,0,709.31,0,-1.70)" stroke="#2e84f8"/>
<use href="#c" transform="matrix(1,0,0,710.13,0,-1.91)" stroke="#2f82f9"/>
<use href="#c" transform="matrix(1,0,0,710.95,0,-2.12)" stroke="#3080fa"/>
<use href="#c" transform="matrix(1,0,0,711.76,0,-2.32)" stroke="#317efb"/>
<use href="#c" transform="matrix(1,0,0,712.58,0,-2.50)" stroke="#337bfc"/>
<use href="#c" transform="matrix(1,0,0,713.39,0,-2.67)" stroke="#3578fd"/>
<use href="#c" transform="matrix(1,0,0,714.19,0,-2.81)" stroke="#3876fe"/>
<use href="#c" transform="matrix(1,0,0,714.99,0,-2.92)" stroke="#3b73fe"/>
<use href="#c" transform="matrix(1,0,0,715.78,0,-3.00)" stroke="#3d70ff"/>
<use href="#c" transform="matrix(1,0,0,716.55,0,-3.03)" stroke="#406dfe"/>
<use href="#c" transform="matrix(1,0,0,717.32,0,-3.01)" stroke="#426afe"/>
<use href="#c" transform="matrix(1,0,0,718.06,0,-2.93)" stroke="#4367fd"/>
<use href="#c" transform="matrix(1,0,0,718.80,0,-2.79)" stroke="#4564fd"/>
<use href="#c" transform="matrix(1,0,0,719.51,0,-2.58)" stroke="#4661fc"/>
<use href="#c" transform="matrix(1,0,0,720.21,0,-2.30)" stroke="#465efb"/>
<use href="#c" transform="matrix(1,0,0,720.88,0,-1.95)" stroke="#475bf9"/>
<use href="#c" transform="matrix(1,0,0,721.54,0,-1.55)" stroke="#4759f8"/>
<use href="#c" transform="matrix(1,0,0,722.19,0,-1.09)" stroke="#4757f7"/>
<use href="#c" transform="matrix(1,0,0,722.83,0,-0.61)" stroke="#4755f6"/>
<use href="#c" transform="matrix(1,0,0,723.47,0,-0.10)" stroke="#4755f6"/>
<use href="#c" transform="matrix(1,0,0,724.13,0,0.32)" stroke="#4755f6"/>
<use href="#c" transform="matrix(1,0,0,724.81,0,0.69)" stroke="#4757f7"/>
<use href="#c" transform="matrix(1,0,0,725.50,0,1.00)" stroke="#4759f8"/>
<use href="#c" transform="matrix(1,0,0,726.21,0,1.24)" stroke="#475cfa"/>
<use href="#c" transform="matrix(1,0,0,726.96,0,1.37)" stroke="#465ffb"/>
<use href="#c" transform="matrix(1,0,0,727.73,0,1.41)" stroke="#4562fc"/>
<use href="#c" transform="matrix(1,0,0,728.53,0,1.35)" stroke="#4466fd"/>
<use href="#c" transform="matrix(1,0,0,729.36,0,1.22)" stroke="#4269fe"/>
<use href="#c" transform="matrix(1,0,0,730.20,0,1.02)" stroke="#406cfe"/>
<use href="#c" transform="matrix(1,0,0,731.07,0,0.76)" stroke="#3e70ff"/>
<use href="#c" transform="matrix(1,0,0,731.94,0,0.45)" stroke="#3b73fe"/>
<use href="#c" transform="matrix(1,0,0,732.83,0,0.11)" stroke="#3876fe"/>
<use href="#c" transform="matrix(1,0,0,733.72,0,-0.25)" stroke="#3579fd"/>
<use href="#c" transform="matrix(1,0,0,734.63,0,-0.64)" stroke="#327cfc"/>
<use href="#c" transform="matrix(1,0,0,735.53,0,-1.05)" stroke="#307ffb"/>
<use href="#c" transform="matrix(1,0,0,736.45,0,-1.47)" stroke="#2f81fa"/>
<use href="#c" transform="matrix(1,0,0,737.36,0,-1.89)" stroke="#2e84f9"/>
<use href="#c" transform="matrix(1,0,0,738.28,0,-2.31)" stroke="#2e86f7"/>
<use href="#c" transform="matrix(1,0,0,739.19,0,-2.73)" stroke="#2d89f5"/>
<use href="#c" transform="matrix(1,0,0,740.10,0,-3.15)" stroke="#2d8cf3"/>
<use href="#c" transform="matrix(1,0,0,741.01,0,-3.55)" stroke="#2c8ef1"/>
<use href="#c" transform="matrix(1,0,0,741.92,0,-3.93)" stroke="#2b91ef"/>
<use href="#c" transform="matrix(1,0,0,742.82,0,-4.28)" stroke="#2994ed"/>
<use href="#c" transform="matrix(1,0,0,743.70,0,-4.59)" stroke="#2797eb"/>
<use href="#c" transform="matrix(1,0,0,744.58,0,-4.85)" class="b22"/>
<use href="#c" transform="matrix(1,0,0,745.43,0,-5.05)" class="b23"/>
<use href="#c" transform="matrix(1,0,0,746.26,0,-5.14)" class="b24"/>
<use href="#c" transform="matrix(1,0,0,747.04,0,-5.10)" class="b25"/>
<use href="#c" transform="matrix(1,0,0,747.78,0,-4.89)" class="b26"/>
<use href="#c" transform="matrix(1,0,0,748.46,0,-4.48)" class="b27"/>
<use href="#c" transform="matrix(1,0,0,749.09,0,-3.89)" class="b28"/>
<use href="#c" transform="matrix(1,0,0,749.68,0,-3.17)" class="b29"/>
<use href="#c" transform="matrix(1,0,0,750.25,0,-2.38)" class="b30"/>
<use href="#c" transform="matrix(1,0,0,750.81,0,-1.57)" class="b31"/>
<use href="#c" transform="matrix(1,0,0,751.36,0,-0.74)" class="b32"/>
<use href="#c" transform="matrix(1,0,0,751.92,0,0.11)" class="b32"/>
<use href="#c" transform="matrix(1,0,0,752.43,0,1.08)" class="b32"/>
<use href="#c" transform="matrix(1,0,0,752.95,0,2.04)" class="b31"/>
<use href="#c" transform="matrix(1,0,0,753.47,0,2.97)" class="b30"/>
<use href="#c" transform="matrix(1,0,0,754.02,0,3.82)" class="b29"/>
<use href="#c" transform="matrix(1,0,0,754.61,0,4.55)" class="b27"/>
<use href="#c" transform="matrix(1,0,0,755.27,0,5.07)" class="b26"/>
<use href="#c" transform="matrix(1,0,0,755.99,0,5.37)" class="b25"/>
<use href="#c" transform="matrix(1,0,0,756.77,0,5.49)" class="b24"/>
<use href="#c" transform="matrix(1,0,0,757.60,0,5.47)" class="b23"/>
<use href="#c" transform="matrix(1,0,0,758.46,0,5.34)" class="b23"/>
<use href="#c" transform="matrix(1,0,0,759.35,0,5.14)" class="b22"/>
<use href="#c" transform="matrix(1,0,0,760.25,0,4.88)" stroke="#2699ea"/>
<use href="#c" transform="matrix(1,0,0,761.17,0,4.58)" stroke="#2797eb"/>
<use href="#c" transform="matrix(1,0,0,762.10,0,4.25)" stroke="#2995ec"/>
<use href="#c" transform="matrix(1,0,0,763.04,0,3.89)" stroke="#2a93ed"/>
<use href="#c" transform="matrix(1,0,0,763.98,0,3.52)" stroke="#2b92ef"/>
<use href="#c" transform="matrix(1,0,0,764.93,0,3.12)" stroke="#2b90f0"/>
<use href="#c" transform="matrix(1,0,0,765.89,0,2.72)" stroke="#2c8ff0"/>
<use href="#c" transform="matrix(1,0,0,766.85,0,2.31)" stroke="#2c8ef1"/>
<use href="#c" transform="matrix(1,0,0,767.81,0,1.89)" stroke="#2d8df2"/>
<use href="#c" transform="matrix(1,0,0,768.77,0,1.47)" stroke="#2d8df2"/>
<use href="#c" transform="matrix(1,0,0,769.74,0,1.05)" stroke="#2d8cf3"/>
<use href="#c" transform="matrix(1,0,0,770.71,0,0.62)" stroke="#2d8cf3"/>
<use href="#c" transform="matrix(1,0,0,771.67,0,0.19)" stroke="#2d8cf3"/>
<use href="#c" transform="matrix(1,0,0,772.65,0,-0.27)" stroke="#2d8cf3"/>
<use href="#c" transform="matrix(1,0,0,773.64,0,-0.76)" stroke="#2d8cf3"/>
<use href="#c" transform="matrix(1,0,0,774.63,0,-1.25)" stroke="#2d8cf3"/>
<use href="#c" transform="matrix(1,0,0,775.62,0,-1.73)" stroke="#2d8df2"/>
<use href="#c" transform="matrix(1,0,0,776.61,0,-2.21)" stroke="#2d8df2"/>
<use href="#c" transform="matrix(1,0,0,777.59,0,-2.68)" stroke="#2c8ef1"/>
<use href="#c" transform="matrix(1,0,0,778.58,0,-3.15)" stroke="#2c8ff0"/>
<use href="#c" transform="matrix(1,0,0,779.56,0,-3.61)" stroke="#2b90f0"/>
<use href="#c" transform="matrix(1,0,0,780.54,0,-4.06)" stroke="#2b92ef"/>
<use href="#c" transform="matrix(1,0,0,781.52,0,-4.49)" stroke="#2a93ee"/>
<use href="#c" transform="matrix(1,0,0,782.49,0,-4.91)" stroke="#2995ec"/>
<use href="#c" transform="matrix(1,0,0,783.45,0,-5.30)" stroke="#2796eb"/>
<use href="#c" transform="matrix(1,0,0,784.41,0,-5.66)" stroke="#2699ea"/>
<use href="#c" transform="matrix(1,0,0,785.35,0,-5.98)" class="b22"/>
<use href="#c" transform="matrix(1,0,0,786.27,0,-6.24)" class="b23"/>
<use href="#c" transform="matrix(1,0,0,787.17,0,-6.41)" class="b24"/>
<use href="#c" transform="matrix(1,0,0,788.03,0,-6.46)" class="b24"/>
<use href="#c" transform="matrix(1,0,0,788.82,0,-6.32)" class="b25"/>
<use href="#c" transform="matrix(1,0,0,789.53,0,-5.92)" class="b27"/>
<use href="#c" transform="matrix(1,0,0,790.14,0,-5.20)" class="b29"/>
<use href="#c" transform="matrix(1,0,0,790.67,0,-4.24)" class="b31"/>
<use href="#c" transform="matrix(1,0,0,794.89,0,5.98)" class="b31"/>
<use href="#c" transform="matrix(1,0,0,795.37,0,7.07)" class="b29"/>
<use href="#c" transform="matrix(1,0,0,795.90,0,8.01)" class="b28"/>
<use href="#c" transform="matrix(1,0,0,796.52,0,8.72)" class="b27"/>
<use href="#c" transform="matrix(1,0,0,797.23,0,9.16)" class="b26"/>
<use href="#c" transform="matrix(1,0,0,798.02,0,9.38)" class="b25"/>
<use href="#c" transform="matrix(1,0,0,798.87,0,9.43)" class="b24"/>
<use href="#c" transform="matrix(1,0,0,799.77,0,9.35)" class="b24"/>
<use href="#c" transform="matrix(1,0,0,800.70,0,9.18)" class="b23"/>
<use href="#c" transform="matrix(1,0,0,801.66,0,8.93)" class="b23"/>
<use href="#c" transform="matrix(1,0,0,802.64,0,8.64)" class="b22"/>
<use href="#c" transform="matrix(1,0,0,803.63,0,8.30)" class="b22"/>
<use href="#c" transform="matrix(1,0,0,804.64,0,7.93)" stroke="#2797ea"/>
<use href="#c" transform="matrix(1,0,0,805.66,0,7.53)" stroke="#2896eb"/>
<use href="#c" transform="matrix(1,0,0,806.69,0,7.12)" stroke="#2995ec"/>
<use href="#c" transform="matrix(1,0,0,807.72,0,6.68)" stroke="#2994ed"/>
<use href="#c" transform="matrix(1,0,0,808.76,0,6.23)" stroke="#2a92ee"/>
<use href="#c" transform="matrix(1,0,0,809.80,0,5.77)" stroke="#2b91ef"/>
<use href="#c" transform="matrix(1,0,0,810.85,0,5.30)" stroke="#2b90ef"/>
<use href="#c" transform="matrix(1,0,0,811.90,0,4.82)" stroke="#2c90f0"/>
<use href="#c" transform="matrix(1,0,0,812.96,0,4.34)" stroke="#2c8ff1"/>
<use href="#c" transform="matrix(1,0,0,814.01,0,3.85)" stroke="#2c8ef1"/>
<use href="#c" transform="matrix(1,0,0,815.07,0,3.35)" stroke="#2c8ef2"/>
<use href="#c" transform="matrix(1,0,0,816.14,0,2.86)" stroke="#2d8df2"/>
<use href="#c" transform="matrix(1,0,0,817.20,0,2.36)" stroke="#2d8df2"/>
<use href="#c" transform="matrix(1,0,0,818.26,0,1.85)" stroke="#2d8cf3"/>
<use href="#c" transform="matrix(1,0,0,819.33,0,1.35)" stroke="#2d8cf3"/>
<use href="#c" transform="matrix(1,0,0,820.40,0,0.84)" stroke="#2d8cf3"/>
<use href="#c" transform="matrix(1,0,0,821.47,0,0.34)" stroke="#2d8cf3"/>
<use href="#c" transform="matrix(1,0,0,822.56,0,-0.24)" stroke="#2d8cf3"/>
<use href="#c" transform="matrix(1,0,0,823.71,0,-0.96)" stroke="#2d8cf3"/>
<use href="#c" transform="matrix(1,0,0,824.86,0,-1.68)" stroke="#2d8cf3"/>
<use href="#c" transform="matrix(1,0,0,826.00,0,-2.40)" stroke="#2d8cf3"/>
<use href="#c" transform="matrix(1,0,0,827.15,0,-3.12)" stroke="#2d8cf3"/>
<use href="#c" transform="matrix(1,0,0,828.30,0,-3.84)" stroke="#2d8df2"/>
<use href="#c" transform="matrix(1,0,0,829.45,0,-4.56)" stroke="#2d8df2"/>
<use href="#c" transform="matrix(1,0,0,830.60,0,-5.27)" stroke="#2c8ef2"/>
<use href="#c" transform="matrix(1,0,0,831.74,0,-5.98)" stroke="#2c8ef1"/>
<use href="#c" transform="matrix(1,0,0,832.89,0,-6.69)" stroke="#2c8ff1"/>
<use href="#c" transform="matrix(1,0,0,834.04,0,-7.40)" stroke="#2c90f0"/>
<use href="#c" transform="matrix(1,0,0,835.18,0,-8.11)" stroke="#2b91ef"/>
<use href="#c" transform="matrix(1,0,0,836.33,0,-8.81)" stroke="#2b91ef"/>
<use href="#c" transform="matrix(1,0,0,837.47,0,-9.50)" stroke="#2a92ee"/>
<use href="#c" transform="matrix(1,0,0,838.61,0,-10.19)" stroke="#2994ed"/>
<use href="#c" transform="matrix(1,0,0,839.75,0,-10.87)" stroke="#2995ec"/>
<use href="#c" transform="matrix(1,0,0,840.88,0,-11.54)" stroke="#2896eb"/>
<use href="#c" transform="matrix(1,0,0,842.01,0,-12.19)" stroke="#2797ea"/>
<use href="#c" transform="matrix(1,0,0,843.14,0,-12.83)" class="b22"/>
<use href="#c" transform="matrix(1,0,0,844.26,0,-13.46)" class="b22"/>
<use href="#c" transform="matrix(1,0,0,845.37,0,-14.05)" class="b23"/>
<use href="#c" transform="matrix(1,0,0,846.47,0,-14.61)" class="b23"/>
<use href="#c" transform="matrix(1,0,0,847.55,0,-15.12)" class="b24"/>
<use href="#c" transform="matrix(1,0,0,848.60,0,-15.55)" class="b24"/>
<use href="#c" transform="matrix(1,0,0,849.61,0,-15.86)" class="b25"/>
<use href="#c" transform="matrix(1,0,0,850.54,0,-15.94)" class="b27"/>
<use href="#c" transform="matrix(1,0,0,851.34,0,-15.66)" class="b29"/>
<use href="#c" transform="matrix(1,0,0,852.00,0,-15.00)" class="b31"/>
<use href="#c" transform="matrix(1,0,0,877.89,0,15.53)" class="b30"/>
<use href="#c" transform="matrix(1,0,0,878.65,0,16.00)" class="b29"/>
<use href="#c" transform="matrix(1,0,0,879.51,0,16.23)" class="b27"/>
<use href="#c" transform="matrix(1,0,0,880.48,0,16.22)" class="b26"/>
<use href="#c" transform="matrix(1,0,0,881.53,0,16.03)" class="b26"/>
<use href="#c" transform="matrix(1,0,0,882.64,0,15.72)" class="b25"/>
<use href="#c" transform="matrix(1,0,0,883.79,0,15.31)" class="b25"/>
<use href="#c" transform="matrix(1,0,0,884.97,0,14.84)" class="b24"/>
<use href="#c" transform="matrix(1,0,0,886.17,0,14.32)" class="b24"/>
<use href="#c" transform="matrix(1,0,0,887.39,0,13.76)" class="b23"/>
<use href="#c" transform="matrix(1,0,0,888.63,0,13.17)" class="b23"/>
<use href="#c" transform="matrix(1,0,0,889.87,0,12.56)" class="b23"/>
<use href="#c" transform="matrix(1,0,0,891.13,0,11.93)" class="b23"/>
<use href="#c" transform="matrix(1,0,0,892.39,0,11.29)" class="b22"/>
<use href="#c" transform="matrix(1,0,0,893.66,0,10.63)" class="b22"/>
<use href="#c" transform="matrix(1,0,0,894.94,0,9.97)" class="b22"/>
<use href="#c" transform="matrix(1,0,0,896.21,0,9.29)" class="b22"/>
<use href="#c" transform="matrix(1,0,0,897.50,0,8.60)" class="b22"/>
<use href="#c" transform="matrix(1,0,0,898.79,0,7.91)" stroke="#2698ea"/>
<use href="#c" transform="matrix(1,0,0,900.08,0,7.22)" stroke="#2798ea"/>
<use href="#c" transform="matrix(1,0,0,901.37,0,6.51)" stroke="#2797ea"/>
<use href="#c" transform="matrix(1,0,0,902.66,0,5.81)" stroke="#2797eb"/>
<use href="#c" transform="matrix(1,0,0,903.96,0,5.10)" stroke="#2797eb"/>
<use href="#c" transform="matrix(1,0,0,905.26,0,4.39)" stroke="#2796eb"/>
<use href="#c" transform="matrix(1,0,0,906.56,0,3.67)" stroke="#2896eb"/>
<use href="#c" transform="matrix(1,0,0,907.86,0,2.95)" stroke="#2896ec"/>
<use href="#c" transform="matrix(1,0,0,909.17,0,2.24)" stroke="#2896ec"/>
<use href="#c" transform="matrix(1,0,0,910.47,0,1.52)" stroke="#2896ec"/>
<use href="#c" transform="matrix(1,0,0,911.78,0,0.80)" stroke="#2895ec"/>
<use href="#c" transform="matrix(1,0,0,913.08,0,0.08)" stroke="#2895ec"/>
<use href="#c" transform="matrix(1,0,0,914.39,0,-0.65)" stroke="#2895ec"/>
<use href="#c" transform="matrix(1,0,0,915.70,0,-1.38)" stroke="#2896ec"/>
<use href="#c" transform="matrix(1,0,0,917.02,0,-2.11)" stroke="#2896eb"/>
<use href="#c" transform="matrix(1,0,0,918.33,0,-2.83)" stroke="#2796eb"/>
<use href="#c" transform="matrix(1,0,0,919.63,0,-3.56)" stroke="#2797eb"/>
<use href="#c" transform="matrix(1,0,0,920.94,0,-4.27)" stroke="#2798ea"/>
<use href="#c" transform="matrix(1,0,0,922.24,0,-4.98)" stroke="#2698ea"/>
<use href="#c" transform="matrix(1,0,0,923.54,0,-5.67)" class="b22"/>
<use href="#c" transform="matrix(1,0,0,924.84,0,-6.36)" class="b22"/>
<use href="#c" transform="matrix(1,0,0,926.13,0,-7.03)" class="b22"/>
<use href="#c" transform="matrix(1,0,0,927.41,0,-7.68)" class="b23"/>
<use href="#c" transform="matrix(1,0,0,928.67,0,-8.30)" class="b23"/>
<use href="#c" transform="matrix(1,0,0,929.92,0,-8.88)" class="b24"/>
<use href="#c" transform="matrix(1,0,0,931.15,0,-9.40)" class="b24"/>
<use href="#c" transform="matrix(1,0,0,932.33,0,-9.82)" class="b25"/>
<use href="#c" transform="matrix(1,0,0,933.44,0,-10.09)" class="b26"/>
<use href="#c" transform="matrix(1,0,0,934.43,0,-10.06)" class="b28"/>
<use href="#c" transform="matrix(1,0,0,935.23,0,-9.63)" class="b31"/>
<use href="#c" transform="matrix(1,0,0,1105.86,0,3.72)" class="v31"/>
<use href="#c" transform="matrix(1,0,0,1107.04,0,3.77)" class="v30"/>
<use href="#c" transform="matrix(1,0,0,1108.25,0,3.74)" class="v30"/>
<use href="#c" transform="matrix(1,0,0,1109.51,0,3.64)" class="v29"/>
<use href="#c" transform="matrix(1,0,0,1110.81,0,3.48)" class="v29"/>
<use href="#c" transform="matrix(1,0,0,1112.13,0,3.28)" class="v29"/>
<use href="#c" transform="matrix(1,0,0,1113.46,0,3.06)" class="v29"/>
<use href="#c" transform="matrix(1,0,0,1114.81,0,2.83)" class="v29"/>
<use href="#c" transform="matrix(1,0,0,1116.16,0,2.59)" class="v28"/>
<use href="#c" transform="matrix(1,0,0,1117.53,0,2.33)" class="v28"/>
<use href="#c" transform="matrix(1,0,0,1118.90,0,2.05)" class="v28"/>
<use href="#c" transform="matrix(1,0,0,1120.28,0,1.77)" class="v28"/>
<use href="#c" transform="matrix(1,0,0,1121.66,0,1.48)" class="v28"/>
<use href="#c" transform="matrix(1,0,0,1123.06,0,1.18)" class="v28"/>
<use href="#c" transform="matrix(1,0,0,1124.45,0,0.87)" class="v28"/>
<use href="#c" transform="matrix(1,0,0,1125.86,0,0.56)" class="v28"/>
<use href="#c" transform="matrix(1,0,0,1127.26,0,0.24)" class="v28"/>
<use href="#c" transform="matrix(1,0,0,1128.66,0,-0.07)" class="v28"/>
<use href="#c" transform="matrix(1,0,0,1130.06,0,-0.36)" class="v28"/>
<use href="#c" transform="matrix(1,0,0,1131.44,0,-0.65)" class="v28"/>
<use href="#c" transform="matrix(1,0,0,1132.83,0,-0.92)" class="v28"/>
<use href="#c" transform="matrix(1,0,0,1134.21,0,-1.18)" class="v28"/>
<use href="#c" transform="matrix(1,0,0,1135.58,0,-1.43)" class="v28"/>
<use href="#c" transform="matrix(1,0,0,1136.94,0,-1.66)" class="v29"/>
<use href="#c" transform="matrix(1,0,0,1138.28,0,-1.86)" class="v29"/>
<use href="#c" transform="matrix(1,0,0,1139.62,0,-2.04)" class="v29"/>
<use href="#c" transform="matrix(1,0,0,1140.93,0,-2.20)" class="v29"/>
<use href="#c" transform="matrix(1,0,0,1142.23,0,-2.32)" class="v29"/>
<use href="#c" transform="matrix(1,0,0,1143.51,0,-2.41)" class="v29"/>
<use href="#c" transform="matrix(1,0,0,1144.78,0,-2.47)" class="v30"/>
<use href="#c" transform="matrix(1,0,0,1146.02,0,-2.49)" class="v30"/>
<use href="#c" transform="matrix(1,0,0,1147.25,0,-2.49)" class="v30"/>
<use href="#c" transform="matrix(1,0,0,1148.46,0,-2.46)" class="v31"/>
<use href="#c" transform="matrix(1,0,0,1149.65,0,-2.38)" class="v31"/>
<use href="#c" transform="matrix(1,0,0,1150.81,0,-2.27)" class="v32"/>
<use href="#c" transform="matrix(1,0,0,1168.78,0,6.94)" class="v31"/>
<use href="#c" transform="matrix(1,0,0,1169.35,0,8.04)" class="v30"/>
<use href="#c" transform="matrix(1,0,0,1169.95,0,9.09)" class="v30"/>
<use href="#c" transform="matrix(1,0,0,1170.58,0,10.11)" class="v29"/>
<use href="#c" transform="matrix(1,0,0,1171.24,0,11.08)" class="v29"/>
<use href="#c" transform="matrix(1,0,0,1171.93,0,11.99)" class="v28"/>
<use href="#c" transform="matrix(1,0,0,1172.67,0,12.85)" class="v28"/>
<use href="#c" transform="matrix(1,0,0,1173.44,0,13.65)" class="v28"/>
<use href="#c" transform="matrix(1,0,0,1174.26,0,14.38)" class="v27"/>
<use href="#c" transform="matrix(1,0,0,1175.12,0,15.04)" class="v27"/>
<use href="#c" transform="matrix(1,0,0,1176.03,0,15.64)" class="v27"/>
<use href="#c" transform="matrix(1,0,0,1176.98,0,16.16)" class="v26"/>
<use href="#c" transform="matrix(1,0,0,1177.97,0,16.63)" class="v26"/>
<use href="#c" transform="matrix(1,0,0,1179.00,0,17.04)" class="v26"/>
<use href="#c" transform="matrix(1,0,0,1180.07,0,17.40)" class="v26"/>
<use href="#c" transform="matrix(1,0,0,1181.17,0,17.70)" class="v25"/>
<use href="#c" transform="matrix(1,0,0,1182.31,0,17.96)" class="v25"/>
<use href="#c" transform="matrix(1,0,0,1183.48,0,18.17)" class="v25"/>
<use href="#c" transform="matrix(1,0,0,1184.67,0,18.34)" class="v25"/>
<use href="#c" transform="matrix(1,0,0,1185.91,0,18.45)" class="v25"/>
<use href="#c" transform="matrix(1,0,0,1187.17,0,18.52)" class="v25"/>
<use href="#c" transform="matrix(1,0,0,1188.47,0,18.54)" class="v24"/>
<use href="#c" transform="matrix(1,0,0,1189.80,0,18.51)" class="v24"/>
<use href="#c" transform="matrix(1,0,0,1191.16,0,18.44)" class="v24"/>
<use href="#c" transform="matrix(1,0,0,1192.56,0,18.31)" class="v24"/>
<use href="#c" transform="matrix(1,0,0,1193.99,0,18.13)" class="v23"/>
<use href="#c" transform="matrix(1,0,0,1195.46,0,17.91)" class="v23"/>
<use href="#c" transform="matrix(1,0,0,1196.96,0,17.64)" class="v23"/>
<use href="#c" transform="matrix(1,0,0,1198.49,0,17.31)" class="v23"/>
<use href="#c" transform="matrix(1,0,0,1200.06,0,16.94)" class="v22"/>
<use href="#c" transform="matrix(1,0,0,1201.66,0,16.52)" class="v22"/>
<use href="#c" transform="matrix(1,0,0,1203.29,0,16.05)" stroke="#2699ea"/>
<use href="#c" transform="matrix(1,0,0,1204.96,0,15.53)" stroke="#2797eb"/>
<use href="#c" transform="matrix(1,0,0,1206.65,0,14.97)" stroke="#2895ec"/>
<use href="#c" transform="matrix(1,0,0,1208.37,0,14.38)" stroke="#2994ed"/>
<use href="#c" transform="matrix(1,0,0,1210.11,0,13.75)" stroke="#2b92ee"/>
<use href="#c" transform="matrix(1,0,0,1211.87,0,13.09)" stroke="#2c90f0"/>
<use href="#c" transform="matrix(1,0,0,1213.65,0,12.42)" stroke="#2c8ef1"/>
<use href="#c" transform="matrix(1,0,0,1215.44,0,11.72)" stroke="#2d8df2"/>
<use href="#c" transform="matrix(1,0,0,1217.25,0,11.01)" stroke="#2d8bf4"/>
<use href="#c" transform="matrix(1,0,0,1219.06,0,10.28)" stroke="#2d89f5"/>
<use href="#c" transform="matrix(1,0,0,1220.87,0,9.55)" stroke="#2d88f6"/>
<use href="#c" transform="matrix(1,0,0,1222.70,0,8.81)" stroke="#2e86f7"/>
<use href="#c" transform="matrix(1,0,0,1224.52,0,8.07)" stroke="#2e84f8"/>
<use href="#c" transform="matrix(1,0,0,1226.35,0,7.33)" stroke="#2f83f9"/>
<use href="#c" transform="matrix(1,0,0,1228.17,0,6.60)" stroke="#2f81fa"/>
<use href="#c" transform="matrix(1,0,0,1229.99,0,5.87)" stroke="#307ffb"/>
<use href="#c" transform="matrix(1,0,0,1231.80,0,5.15)" stroke="#317dfc"/>
<use href="#c" transform="matrix(1,0,0,1233.61,0,4.44)" stroke="#327cfc"/>
<use href="#c" transform="matrix(1,0,0,1235.41,0,3.75)" stroke="#347afd"/>
<use href="#c" transform="matrix(1,0,0,1237.20,0,3.08)" stroke="#3678fe"/>
<use href="#c" transform="matrix(1,0,0,1238.97,0,2.43)" stroke="#3875fe"/>
<use href="#c" transform="matrix(1,0,0,1240.71,0,1.82)" stroke="#3b73fe"/>
<use href="#c" transform="matrix(1,0,0,1242.43,0,1.26)" stroke="#3e70ff"/>
<use href="#c" transform="matrix(1,0,0,1244.10,0,0.76)" stroke="#406dfe"/>
<use href="#c" transform="matrix(1,0,0,1245.72,0,0.34)" stroke="#4269fe"/>
<use href="#c" transform="matrix(1,0,0,1247.28,0,0.03)" stroke="#4466fd"/>
<use href="#c" transform="matrix(1,0,0,1248.74,0,-0.16)" stroke="#4562fc"/>
<use href="#c" transform="matrix(1,0,0,1250.12,0,-0.21)" stroke="#465ffb"/>
<use href="#c" transform="matrix(1,0,0,1251.42,0,-0.14)" stroke="#475dfa"/>
<use href="#c" transform="matrix(1,0,0,1252.66,0,0.02)" stroke="#475cfa"/>
<use href="#c" transform="matrix(1,0,0,1253.75,0,0.41)" stroke="#475cfa"/>
<use href="#c" transform="matrix(1,0,0,1254.85,0,0.78)" stroke="#465dfa"/>
<use href="#c" transform="matrix(1,0,0,1255.99,0,1.09)" stroke="#465ffb"/>
<use href="#c" transform="matrix(1,0,0,1257.18,0,1.34)" stroke="#4660fc"/>
<use href="#c" transform="matrix(1,0,0,1258.42,0,1.51)" stroke="#4562fc"/>
<use href="#c" transform="matrix(1,0,0,1259.71,0,1.61)" stroke="#4564fd"/>
<use href="#c" transform="matrix(1,0,0,1261.05,0,1.64)" stroke="#4466fd"/>
<use href="#c" transform="matrix(1,0,0,1262.44,0,1.59)" stroke="#4367fd"/>
<use href="#c" transform="matrix(1,0,0,1263.87,0,1.49)" stroke="#4269fe"/>
<use href="#c" transform="matrix(1,0,0,1265.34,0,1.34)" stroke="#416afe"/>
<use href="#c" transform="matrix(1,0,0,1266.84,0,1.15)" stroke="#416cfe"/>
<use href="#c" transform="matrix(1,0,0,1268.36,0,0.92)" stroke="#406dfe"/>
<use href="#c" transform="matrix(1,0,0,1269.90,0,0.67)" stroke="#3f6dfe"/>
<use href="#c" transform="matrix(1,0,0,1271.45,0,0.39)" stroke="#3f6eff"/>
<use href="#c" transform="matrix(1,0,0,1273.02,0,0.11)" stroke="#3f6eff"/>
<use href="#c" transform="matrix(1,0,0,1274.66,0,-0.28)" stroke="#3f6eff"/>
<use href="#c" transform="matrix(1,0,0,1276.34,0,-0.73)" stroke="#3f6eff"/>
<use href="#c" transform="matrix(1,0,0,1278.01,0,-1.17)" stroke="#3f6eff"/>
<use href="#c" transform="matrix(1,0,0,1279.69,0,-1.61)" stroke="#3f6efe"/>
<use href="#c" transform="matrix(1,0,0,1281.36,0,-2.05)" stroke="#3f6dfe"/>
<use href="#c" transform="matrix(1,0,0,1283.03,0,-2.47)" stroke="#406dfe"/>
<use href="#c" transform="matrix(1,0,0,1284.69,0,-2.88)" stroke="#406cfe"/>
<use href="#c" transform="matrix(1,0,0,1286.34,0,-3.28)" stroke="#406cfe"/>
<use href="#c" transform="matrix(1,0,0,1287.99,0,-3.66)" stroke="#416bfe"/>
<use href="#c" transform="matrix(1,0,0,1289.61,0,-4.02)" stroke="#416afe"/>
<use href="#c" transform="matrix(1,0,0,1291.23,0,-4.35)" stroke="#426afe"/>
<use href="#c" transform="matrix(1,0,0,1292.82,0,-4.66)" stroke="#4369fe"/>
<use href="#c" transform="matrix(1,0,0,1294.40,0,-4.94)" stroke="#4368fd"/>
<use href="#c" transform="matrix(1,0,0,1295.95,0,-5.18)" stroke="#4367fd"/>
<use href="#c" transform="matrix(1,0,0,1297.48,0,-5.38)" stroke="#4465fd"/>
<use href="#c" transform="matrix(1,0,0,1298.97,0,-5.54)" stroke="#4464fd"/>
<use href="#c" transform="matrix(1,0,0,1300.44,0,-5.64)" stroke="#4563fc"/>
<use href="#c" transform="matrix(1,0,0,1301.86,0,-5.69)" stroke="#4562fc"/>
<use href="#c" transform="matrix(1,0,0,1303.24,0,-5.67)" stroke="#4660fb"/>
<use href="#c" transform="matrix(1,0,0,1304.58,0,-5.59)" stroke="#465efb"/>
<use href="#c" transform="matrix(1,0,0,1305.83,0,-5.39)" stroke="#475bf9"/>
<use href="#c" transform="matrix(1,0,0,1306.97,0,-5.01)" stroke="#4757f7"/>
<use href="#c" transform="matrix(1,0,0,1307.94,0,-4.40)" stroke="#4851f3"/>
<use href="#c" transform="matrix(1,0,0,1308.75,0,-3.56)" stroke="#484bee"/>
<use href="#c" transform="matrix(1,0,0,1309.43,0,-2.53)" stroke="#4744e8"/>
<use href="#c" transform="matrix(1,0,0,1310.04,0,-1.40)" stroke="#473fe2"/>
<use href="#c" transform="matrix(1,0,0,1310.63,0,-0.23)" stroke="#463cde"/>
<use href="#c" transform="matrix(1,0,0,1311.70,0,0.25)" stroke="#463cdf"/>
<use href="#c" transform="matrix(1,0,0,1312.90,0,0.55)" stroke="#463ee0"/>
<use href="#c" transform="matrix(1,0,0,1314.13,0,0.82)" stroke="#473fe3"/>
<use href="#c" transform="matrix(1,0,0,1315.39,0,1.04)" stroke="#4742e6"/>
<use href="#c" transform="matrix(1,0,0,1316.69,0,1.20)" stroke="#4744e8"/>
<use href="#c" transform="matrix(1,0,0,1318.05,0,1.29)" stroke="#4746ea"/>
<use href="#c" transform="matrix(1,0,0,1319.46,0,1.31)" stroke="#4848ec"/>
<use href="#c" transform="matrix(1,0,0,1320.91,0,1.26)" stroke="#4849ed"/>
<use href="#c" transform="matrix(1,0,0,1322.40,0,1.17)" stroke="#484aee"/>
<use href="#c" transform="matrix(1,0,0,1323.91,0,1.06)" stroke="#484aee"/>
<use href="#c" transform="matrix(1,0,0,1325.41,0,0.95)" stroke="#484aee"/>
<use href="#c" transform="matrix(1,0,0,1326.92,0,0.84)" stroke="#484aee"/>
<use href="#c" transform="matrix(1,0,0,1328.43,0,0.73)" stroke="#484aee"/>
<use href="#c" transform="matrix(1,0,0,1329.95,0,0.61)" stroke="#484aee"/>
<use href="#c" transform="matrix(1,0,0,1331.46,0,0.50)" stroke="#484aee"/>
<use href="#c" transform="matrix(1,0,0,1332.98,0,0.39)" stroke="#484aee"/>
<use href="#c" transform="matrix(1,0,0,1334.49,0,0.27)" stroke="#484aee"/>
<use href="#c" transform="matrix(1,0,0,1336.01,0,0.16)" stroke="#484aee"/>
<use href="#c" transform="matrix(1,0,0,1337.53,0,0.05)" stroke="#484aee"/>
<use href="#c" transform="matrix(1,0,0,1339.12,0,-0.15)" stroke="#484aee"/>
<use href="#c" transform="matrix(1,0,0,1340.74,0,-0.41)" stroke="#484aee"/>
<use href="#c" transform="matrix(1,0,0,1342.36,0,-0.65)" stroke="#484aed"/>
<use href="#c" transform="matrix(1,0,0,1343.97,0,-0.88)" stroke="#4849ed"/>
<use href="#c" transform="matrix(1,0,0,1345.56,0,-1.08)" stroke="#4848ec"/>
<use href="#c" transform="matrix(1,0,0,1347.13,0,-1.25)" stroke="#4848ec"/>
<use href="#c" transform="matrix(1,0,0,1348.68,0,-1.39)" stroke="#4747eb"/>
<use href="#c" transform="matrix(1,0,0,1350.20,0,-1.49)" stroke="#4746ea"/>
<use href="#c" transform="matrix(1,0,0,1351.70,0,-1.55)" stroke="#4745e9"/>
<use href="#c" transform="matrix(1,0,0,1353.17,0,-1.57)" stroke="#4743e7"/>
<use href="#c" transform="matrix(1,0,0,1354.61,0,-1.55)" stroke="#4742e6"/>
<use href="#c" transform="matrix(1,0,0,1356.01,0,-1.47)" stroke="#473fe3"/>
<use href="#c" transform="matrix(1,0,0,1357.37,0,-1.34)" stroke="#463cdf"/>
<use href="#c" transform="matrix(1,0,0,1358.68,0,-1.14)" stroke="#4639d9"/>
<use href="#c" transform="matrix(1,0,0,1359.97,0,-0.90)" stroke="#4536d3"/>
<use href="#c" transform="matrix(1,0,0,1361.23,0,-0.63)" stroke="#4433cd"/>
<use href="#c" transform="matrix(1,0,0,1362.49,0,-0.35)" stroke="#4331c8"/>
<use href="#c" transform="matrix(1,0,0,1363.75,0,-0.06)" stroke="#4331c5"/>
<use href="#c" transform="matrix(1,0,0,1364.48,0,0.94)" stroke="#4331c6"/>
<use href="#c" transform="matrix(1,0,0,1365.09,0,2.12)" stroke="#4332ca"/>
<use href="#c" transform="matrix(1,0,0,1365.70,0,3.29)" stroke="#4434cf"/>
<use href="#c" transform="matrix(1,0,0,1366.32,0,4.45)" stroke="#4537d6"/>
<use href="#c" transform="matrix(1,0,0,1366.94,0,5.61)" stroke="#463bdc"/>
<use href="#c" transform="matrix(1,0,0,1367.59,0,6.73)" stroke="#473fe2"/>
<use href="#c" transform="matrix(1,0,0,1368.27,0,7.81)" stroke="#4743e7"/>
<use href="#c" transform="matrix(1,0,0,1369.00,0,8.83)" stroke="#4746ea"/>
<use href="#c" transform="matrix(1,0,0,1369.78,0,9.79)" stroke="#4849ed"/>
<use href="#c" transform="matrix(1,0,0,1370.61,0,10.67)" stroke="#484bef"/>
<use href="#c" transform="matrix(1,0,0,1371.49,0,11.50)" stroke="#484df0"/>
<use href="#c" transform="matrix(1,0,0,1372.41,0,12.27)" stroke="#484ff2"/>
<use href="#c" transform="matrix(1,0,0,1373.38,0,12.98)" stroke="#4850f3"/>
<use href="#c" transform="matrix(1,0,0,1374.39,0,13.64)" stroke="#4851f4"/>
<use href="#c" transform="matrix(1,0,0,1375.44,0,14.23)" stroke="#4853f4"/>
<use href="#c" transform="matrix(1,0,0,1376.54,0,14.78)" stroke="#4854f5"/>
<use href="#c" transform="matrix(1,0,0,1377.68,0,15.27)" stroke="#4755f6"/>
<use href="#c" transform="matrix(1,0,0,1378.86,0,15.71)" stroke="#4756f6"/>
<use href="#c" transform="matrix(1,0,0,1380.08,0,16.09)" stroke="#4757f7"/>
<use href="#c" transform="matrix(1,0,0,1381.34,0,16.42)" stroke="#4758f8"/>
<use href="#c" transform="matrix(1,0,0,1382.65,0,16.70)" stroke="#4759f8"/>
<use href="#c" transform="matrix(1,0,0,1384.00,0,16.92)" stroke="#475af9"/>
<use href="#c" transform="matrix(1,0,0,1385.39,0,17.09)" stroke="#475bf9"/>
<use href="#c" transform="matrix(1,0,0,1386.83,0,17.20)" stroke="#475cfa"/>
<use href="#c" transform="matrix(1,0,0,1388.32,0,17.24)" stroke="#465dfb"/>
<use href="#c" transform="matrix(1,0,0,1389.85,0,17.23)" stroke="#465efb"/>
<use href="#c" transform="matrix(1,0,0,1391.44,0,17.16)" stroke="#4660fb"/>
<use href="#c" transform="matrix(1,0,0,1393.07,0,17.02)" stroke="#4561fc"/>
<use href="#c" transform="matrix(1,0,0,1394.75,0,16.83)" stroke="#4562fc"/>
<use href="#c" transform="matrix(1,0,0,1396.46,0,16.58)" stroke="#4563fd"/>
<use href="#c" transform="matrix(1,0,0,1398.22,0,16.29)" stroke="#4464fd"/>
<use href="#c" transform="matrix(1,0,0,1400.02,0,15.95)" stroke="#4465fd"/>
<use href="#c" transform="matrix(1,0,0,1401.85,0,15.56)" stroke="#4466fd"/>
<use href="#c" transform="matrix(1,0,0,1403.72,0,15.13)" stroke="#4367fd"/>
<use href="#c" transform="matrix(1,0,0,1405.62,0,14.66)" stroke="#4368fe"/>
<use href="#c" transform="matrix(1,0,0,1407.56,0,14.14)" stroke="#426afe"/>
<use href="#c" transform="matrix(1,0,0,1409.52,0,13.59)" stroke="#416bfe"/>
<use href="#c" transform="matrix(1,0,0,1411.52,0,12.99)" stroke="#406cfe"/>
<use href="#c" transform="matrix(1,0,0,1413.55,0,12.36)" stroke="#406dfe"/>
<use href="#c" transform="matrix(1,0,0,1415.62,0,11.69)" stroke="#3f6eff"/>
<use href="#c" transform="matrix(1,0,0,1417.71,0,10.98)" stroke="#3e70ff"/>
<use href="#c" transform="matrix(1,0,0,1419.82,0,10.24)" stroke="#3c71ff"/>
<use href="#c" transform="matrix(1,0,0,1421.97,0,9.47)" stroke="#3b72fe"/>
<use href="#c" transform="matrix(1,0,0,1424.14,0,8.66)" stroke="#3a74fe"/>
<use href="#c" transform="matrix(1,0,0,1426.33,0,7.83)" stroke="#3875fe"/>
<use href="#c" transform="matrix(1,0,0,1428.55,0,6.97)" stroke="#3777fe"/>
<use href="#c" transform="matrix(1,0,0,1430.78,0,6.09)" stroke="#3578fd"/>
<use href="#c" transform="matrix(1,0,0,1433.04,0,5.18)" stroke="#347afd"/>
<use href="#c" transform="matrix(1,0,0,1435.31,0,4.25)" stroke="#327cfc"/>
<use href="#c" transform="matrix(1,0,0,1437.60,0,3.30)" stroke="#317efb"/>
<use href="#c" transform="matrix(1,0,0,1439.91,0,2.33)" stroke="#2f80fa"/>
<use href="#c" transform="matrix(1,0,0,1442.23,0,1.35)" stroke="#2e83f9"/>
<use href="#c" transform="matrix(1,0,0,1444.55,0,0.35)" stroke="#2e86f7"/>
<use href="#c" transform="matrix(1,0,0,1446.88,0,-0.64)" stroke="#2d89f5"/>
<use href="#c" transform="matrix(1,0,0,1449.19,0,-1.61)" stroke="#2d8cf3"/>
<use href="#c" transform="matrix(1,0,0,1451.48,0,-2.55)" stroke="#2c90f0"/>
<use href="#c" transform="matrix(1,0,0,1453.73,0,-3.44)" stroke="#2a93ed"/>
<use href="#c" transform="matrix(1,0,0,1455.92,0,-4.24)" stroke="#2797eb"/>
<use href="#c" transform="matrix(1,0,0,1458.01,0,-4.92)" class="v22"/>
<use href="#c" transform="matrix(1,0,0,1459.96,0,-5.42)" class="v23"/>
<use href="#c" transform="matrix(1,0,0,1461.74,0,-5.69)" class="v24"/>
<use href="#c" transform="matrix(1,0,0,1463.30,0,-5.69)" class="v25"/>
<use href="#c" transform="matrix(1,0,0,1464.63,0,-5.39)" class="v26"/>
<use href="#c" transform="matrix(1,0,0,1465.71,0,-4.76)" class="v27"/>
<use href="#c" transform="matrix(1,0,0,1466.59,0,-3.88)" class="v29"/>
<use href="#c" transform="matrix(1,0,0,1467.34,0,-2.84)" class="v30"/>
<use href="#c" transform="matrix(1,0,0,1468.01,0,-1.69)" class="v31"/>
<use href="#c" transform="matrix(1,0,0,1468.65,0,-0.51)" class="v32"/>
<use href="#c" transform="matrix(1,0,0,1469.29,0,0.68)" class="v32"/>
<use href="#c" transform="matrix(1,0,0,1469.98,0,1.82)" class="v29"/>
<use href="#c" transform="matrix(1,0,0,1470.87,0,2.70)" class="v27"/>
<use href="#c" transform="matrix(1,0,0,1472.16,0,3.07)" class="v25"/>
<use href="#c" transform="matrix(1,0,0,1473.94,0,2.84)" class="v23"/>
<use href="#c" transform="matrix(1,0,0,1476.03,0,2.21)" class="v22"/>
<use href="#c" transform="matrix(1,0,0,1478.27,0,1.40)" stroke="#2995ec"/>
<use href="#c" transform="matrix(1,0,0,1480.58,0,0.50)" stroke="#2a93ee"/>
<use href="#c" transform="matrix(1,0,0,1482.74,0,-0.21)" stroke="#2a93ee"/>
<use href="#c" transform="matrix(1,0,0,1484.66,0,-0.61)" stroke="#2896ec"/>
<use href="#c" transform="matrix(1,0,0,1486.46,0,-0.87)" class="v22"/>
<use href="#c" transform="matrix(1,0,0,1488.04,0,-0.84)" class="v24"/>
<use href="#c" transform="matrix(1,0,0,1489.29,0,-0.40)" class="v25"/>
<use href="#c" transform="matrix(1,0,0,1490.31,0,0.32)" class="v25"/>
<use href="#c" transform="matrix(1,0,0,1491.49,0,0.85)" class="v23"/>
<use href="#c" transform="matrix(1,0,0,1493.07,0,0.88)" stroke="#2797eb"/>
<use href="#c" transform="matrix(1,0,0,1494.91,0,0.60)" stroke="#2c8ff1"/>
<use href="#c" transform="matrix(1,0,0,1496.87,0,0.17)" stroke="#2e85f8"/>
<use href="#c" transform="matrix(1,0,0,1498.83,0,-0.27)" stroke="#3479fd"/>
<use href="#c" transform="matrix(1,0,0,1500.62,0,-0.48)" stroke="#406cfe"/>
<use href="#c" transform="matrix(1,0,0,1502.08,0,-0.28)" stroke="#4562fc"/>
<use href="#c" transform="matrix(1,0,0,1503.65,0,-0.23)" stroke="#4660fc"/>
<use href="#c" transform="matrix(1,0,0,1505.86,0,-0.96)" stroke="#4466fd"/>
<use href="#c" transform="matrix(1,0,0,1508.29,0,-1.97)" stroke="#3f6eff"/>
<use href="#c" transform="matrix(1,0,0,1510.90,0,-3.19)" stroke="#3677fe"/>
<use href="#c" transform="matrix(1,0,0,1513.61,0,-4.53)" stroke="#3080fb"/>
<use href="#c" transform="matrix(1,0,0,1516.35,0,-5.91)" stroke="#2d88f6"/>
<use href="#c" transform="matrix(1,0,0,1519.07,0,-7.27)" stroke="#2c90f0"/>
<use href="#c" transform="matrix(1,0,0,1521.69,0,-8.49)" class="v22"/>
<use href="#c" transform="matrix(1,0,0,1523.94,0,-9.26)" class="v25"/>
<use href="#c" transform="matrix(1,0,0,1525.14,0,-8.73)" class="v32"/>
<use href="#c" transform="matrix(1,0,0,1541.75,0,11.17)" class="v31"/>
<use href="#c" transform="matrix(1,0,0,1542.91,0,11.78)" class="v27"/>
<use href="#c" transform="matrix(1,0,0,1544.94,0,11.37)" class="v24"/>
<use href="#c" transform="matrix(1,0,0,1547.57,0,10.24)" stroke="#2798ea"/>
<use href="#c" transform="matrix(1,0,0,1550.44,0,8.84)" stroke="#2b90f0"/>
<use href="#c" transform="matrix(1,0,0,1553.40,0,7.32)" stroke="#2d89f5"/>
<use href="#c" transform="matrix(1,0,0,1556.39,0,5.77)" stroke="#2f82f9"/>
<use href="#c" transform="matrix(1,0,0,1559.37,0,4.24)" stroke="#337bfc"/>
<use href="#c" transform="matrix(1,0,0,1562.29,0,2.78)" stroke="#3b73fe"/>
<use href="#c" transform="matrix(1,0,0,1565.07,0,1.48)" stroke="#426afe"/>
<use href="#c" transform="matrix(1,0,0,1567.57,0,0.51)" stroke="#4660fb"/>
<use href="#c" transform="matrix(1,0,0,1569.64,0,0.06)" stroke="#4757f7"/>
<use href="#c" transform="matrix(1,0,0,1571.42,0,-0.03)" stroke="#4756f7"/>
<use href="#c" transform="matrix(1,0,0,1573.45,0,-0.44)" stroke="#465ffb"/>
<use href="#c" transform="matrix(1,0,0,1575.95,0,-1.39)" stroke="#426afe"/>
<use href="#c" transform="matrix(1,0,0,1578.75,0,-2.69)" stroke="#3a74fe"/>
<use href="#c" transform="matrix(1,0,0,1581.69,0,-4.16)" stroke="#327cfc"/>
<use href="#c" transform="matrix(1,0,0,1584.69,0,-5.70)" stroke="#2e84f9"/>
<use href="#c" transform="matrix(1,0,0,1587.70,0,-7.25)" stroke="#2d8bf4"/>
<use href="#c" transform="matrix(1,0,0,1590.66,0,-8.74)" stroke="#2a92ee"/>
<use href="#c" transform="matrix(1,0,0,1593.50,0,-10.09)" class="v22"/>
<use href="#c" transform="matrix(1,0,0,1596.03,0,-11.07)" class="v24"/>
<use href="#c" transform="matrix(1,0,0,1597.85,0,-11.22)" class="v28"/>
<use href="#c" transform="matrix(1,0,0,1619.15,0,12.20)" class="v31"/>
<use href="#c" transform="matrix(1,0,0,1620.39,0,12.79)" class="v27"/>
<use href="#c" transform="matrix(1,0,0,1622.63,0,12.25)" class="v24"/>
<use href="#c" transform="matrix(1,0,0,1625.55,0,10.95)" stroke="#2797ea"/>
<use href="#c" transform="matrix(1,0,0,1628.73,0,9.36)" stroke="#2c8ff0"/>
<use href="#c" transform="matrix(1,0,0,1632.00,0,7.66)" stroke="#2d88f6"/>
<use href="#c" transform="matrix(1,0,0,1635.30,0,5.93)" stroke="#2f81fa"/>
<use href="#c" transform="matrix(1,0,0,1638.57,0,4.24)" stroke="#3579fd"/>
<use href="#c" transform="matrix(1,0,0,1641.75,0,2.65)" stroke="#3d70ff"/>
<use href="#c" transform="matrix(1,0,0,1644.73,0,1.29)" stroke="#4366fd"/>
<use href="#c" transform="matrix(1,0,0,1647.32,0,0.36)" stroke="#475cfa"/>
<use href="#c" transform="matrix(1,0,0,1649.40,0,0.02)" stroke="#4755f6"/>
<use href="#c" transform="matrix(1,0,0,1651.10,0,0.11)" stroke="#4758f8"/>
<use href="#c" transform="matrix(1,0,0,1653.14,0,-0.18)" stroke="#4561fc"/>
<use href="#c" transform="matrix(1,0,0,1655.67,0,-1.02)" stroke="#416bfe"/>
<use href="#c" transform="matrix(1,0,0,1658.53,0,-2.24)" stroke="#3a74fe"/>
<use href="#c" transform="matrix(1,0,0,1661.57,0,-3.65)" stroke="#327cfc"/>
<use href="#c" transform="matrix(1,0,0,1664.69,0,-5.15)" stroke="#2e84f9"/>
<use href="#c" transform="matrix(1,0,0,1667.83,0,-6.67)" stroke="#2d8bf4"/>
<use href="#c" transform="matrix(1,0,0,1670.91,0,-8.13)" stroke="#2b92ef"/>
<use href="#c" transform="matrix(1,0,0,1673.85,0,-9.42)" class="v22"/>
<use href="#c" transform="matrix(1,0,0,1676.48,0,-10.37)" class="v24"/>
<use href="#c" transform="matrix(1,0,0,1678.53,0,-10.66)" class="v26"/>
<use href="#c" transform="matrix(1,0,0,1679.86,0,-10.15)" class="v29"/>
<use href="#c" transform="matrix(1,0,0,1680.73,0,-9.11)" class="v32"/>
<use href="#c" transform="matrix(1,0,0,1742.15,0,6.18)" class="v31"/>
<use href="#c" transform="matrix(1,0,0,1742.92,0,7.36)" class="v30"/>
<use href="#c" transform="matrix(1,0,0,1743.78,0,8.45)" class="v29"/>
<use href="#c" transform="matrix(1,0,0,1744.79,0,9.38)" class="v28"/>
<use href="#c" transform="matrix(1,0,0,1746.19,0,9.90)" class="v26"/>
<use href="#c" transform="matrix(1,0,0,1748.17,0,9.82)" class="v24"/>
<use href="#c" transform="matrix(1,0,0,1750.66,0,9.19)" class="v23"/>
<use href="#c" transform="matrix(1,0,0,1753.50,0,8.21)" class="v22"/>
<use href="#c" transform="matrix(1,0,0,1756.56,0,7.00)" stroke="#2995ec"/>
<use href="#c" transform="matrix(1,0,0,1759.74,0,5.65)" stroke="#2b92ef"/>
<use href="#c" transform="matrix(1,0,0,1763.01,0,4.22)" stroke="#2c8ff1"/>
<use href="#c" transform="matrix(1,0,0,1766.32,0,2.74)" stroke="#2d8df2"/>
<use href="#c" transform="matrix(1,0,0,1769.66,0,1.24)" stroke="#2d8cf3"/>
<use href="#c" transform="matrix(1,0,0,1773.08,0,-0.35)" stroke="#2d8cf3"/>
<use href="#c" transform="matrix(1,0,0,1776.80,0,-2.25)" stroke="#2d8cf3"/>
<use href="#c" transform="matrix(1,0,0,1780.52,0,-4.14)" stroke="#2c8ef2"/>
<use href="#c" transform="matrix(1,0,0,1784.20,0,-6.00)" stroke="#2c90f0"/>
<use href="#c" transform="matrix(1,0,0,1787.84,0,-7.81)" stroke="#2a93ed"/>
<use href="#c" transform="matrix(1,0,0,1791.38,0,-9.51)" stroke="#2797ea"/>
<use href="#c" transform="matrix(1,0,0,1794.74,0,-11.03)" class="v23"/>
<use href="#c" transform="matrix(1,0,0,1797.73,0,-12.15)" class="v24"/>
<use href="#c" transform="matrix(1,0,0,1799.92,0,-12.43)" class="v27"/>
<use href="#c" transform="matrix(1,0,0,1801.12,0,-11.69)" class="v31"/>
<use href="#c" transform="matrix(1,0,0,1818.77,0,10.18)" class="v29"/>
<use href="#c" transform="matrix(1,0,0,1820.39,0,10.54)" class="v25"/>
<use href="#c" transform="matrix(1,0,0,1823.33,0,9.56)" class="v22"/>
<use href="#c" transform="matrix(1,0,0,1826.96,0,7.90)" stroke="#2c90f0"/>
<use href="#c" transform="matrix(1,0,0,1830.83,0,5.99)" stroke="#2e87f7"/>
<use href="#c" transform="matrix(1,0,0,1834.73,0,4.05)" stroke="#317dfc"/>
<use href="#c" transform="matrix(1,0,0,1838.50,0,2.25)" stroke="#3b72fe"/>
<use href="#c" transform="matrix(1,0,0,1841.92,0,0.80)" stroke="#4367fd"/>
<use href="#c" transform="matrix(1,0,0,1844.65,0,0.04)" stroke="#475bf9"/>
<use href="#c" transform="scale(1,1846.68)" stroke="#4755f6"/>
<use href="#c" transform="matrix(1,0,0,1848.61,0,0.07)" stroke="#475af9"/>
<use href="#c" transform="matrix(1,0,0,1851.14,0,-0.48)" stroke="#4464fd"/>
<use href="#c" transform="matrix(1,0,0,1854.36,0,-1.71)" stroke="#3e6fff"/>
<use href="#c" transform="matrix(1,0,0,1858.00,0,-3.37)" stroke="#3479fd"/>
<use href="#c" transform="matrix(1,0,0,1861.85,0,-5.22)" stroke="#2f82f9"/>
<use href="#c" transform="matrix(1,0,0,1865.74,0,-7.12)" stroke="#2d8bf4"/>
<use href="#c" transform="matrix(1,0,0,1869.52,0,-8.91)" stroke="#2994ed"/>
<use href="#c" transform="matrix(1,0,0,1872.94,0,-10.33)" class="v23"/>
<use href="#c" transform="matrix(1,0,0,1875.46,0,-10.86)" class="v26"/>
<use href="#c" transform="matrix(1,0,0,1876.75,0,-10.14)" class="v30"/>
<use href="#c" transform="matrix(1,0,0,1969.81,0,9.93)" class="v31"/>
<use href="#c" transform="matrix(1,0,0,1970.60,0,11.18)" class="v29"/>
<use href="#c" transform="matrix(1,0,0,1971.56,0,12.28)" class="v28"/>
<use href="#c" transform="matrix(1,0,0,1972.88,0,13.05)" class="v26"/>
<use href="#c" transform="matrix(1,0,0,1974.75,0,13.32)" class="v25"/>
<use href="#c" transform="matrix(1,0,0,1977.22,0,13.02)" class="v24"/>
<use href="#c" transform="matrix(1,0,0,1980.22,0,12.23)" class="v22"/>
<use href="#c" transform="matrix(1,0,0,1983.62,0,11.07)" stroke="#2796eb"/>
<use href="#c" transform="matrix(1,0,0,1987.37,0,9.60)" stroke="#2b91ef"/>
<use href="#c" transform="matrix(1,0,0,1991.34,0,7.91)" stroke="#2d8bf4"/>
<use href="#c" transform="matrix(1,0,0,1995.42,0,6.13)" stroke="#2e86f8"/>
<use href="#c" transform="matrix(1,0,0,1999.52,0,4.34)" stroke="#2f81fa"/>
<use href="#c" transform="matrix(1,0,0,2003.57,0,2.58)" stroke="#317dfc"/>
<use href="#c" transform="matrix(1,0,0,2007.56,0,0.89)" stroke="#337afd"/>
<use href="#c" transform="matrix(1,0,0,2011.07,0,-0.35)" stroke="#337afd"/>
<use href="#c" transform="matrix(1,0,0,2014.09,0,-1.14)" stroke="#317dfc"/>
<use href="#c" transform="matrix(1,0,0,2017.19,0,-2.00)" stroke="#2f82fa"/>
<use href="#c" transform="matrix(1,0,0,2020.33,0,-2.90)" stroke="#2e87f7"/>
<use href="#c" transform="matrix(1,0,0,2023.44,0,-3.76)" stroke="#2d8df2"/>
<use href="#c" transform="matrix(1,0,0,2026.38,0,-4.48)" stroke="#2a93ed"/>
<use href="#c" transform="matrix(1,0,0,2029.06,0,-4.94)" class="v22"/>
<use href="#c" transform="matrix(1,0,0,2031.45,0,-5.13)" class="v23"/>
<use href="#c" transform="matrix(1,0,0,2033.59,0,-5.10)" class="v23"/>
<use href="#c" transform="matrix(1,0,0,2035.46,0,-4.81)" class="v24"/>
<use href="#c" transform="matrix(1,0,0,2037.07,0,-4.29)" class="v25"/>
<use href="#c" transform="matrix(1,0,0,2038.43,0,-3.54)" class="v26"/>
<use href="#c" transform="matrix(1,0,0,2039.61,0,-2.61)" class="v26"/>
<use href="#c" transform="matrix(1,0,0,2040.65,0,-1.55)" class="v27"/>
<use href="#c" transform="matrix(1,0,0,2041.61,0,-0.43)" class="v27"/>
<use href="#c" transform="matrix(1,0,0,2042.57,0,0.70)" class="v27"/>
<use href="#c" transform="matrix(1,0,0,2043.59,0,1.77)" class="v26"/>
<use href="#c" transform="matrix(1,0,0,2044.72,0,2.75)" class="v26"/>
<use href="#c" transform="matrix(1,0,0,2046.05,0,3.54)" class="v25"/>
<use href="#c" transform="matrix(1,0,0,2047.66,0,4.08)" class="v24"/>
<use href="#c" transform="matrix(1,0,0,2049.63,0,4.30)" class="v23"/>
<use href="#c" transform="matrix(1,0,0,2051.98,0,4.18)" class="v22"/>
<use href="#c" transform="matrix(1,0,0,2054.67,0,3.75)" stroke="#2896eb"/>
<use href="#c" transform="matrix(1,0,0,2057.64,0,3.07)" stroke="#2b91ef"/>
<use href="#c" transform="matrix(1,0,0,2060.82,0,2.21)" stroke="#2d8df2"/>
<use href="#c" transform="matrix(1,0,0,2064.14,0,1.23)" stroke="#2d88f6"/>
<use href="#c" transform="matrix(1,0,0,2067.50,0,0.20)" stroke="#2e83f9"/>
<use href="#c" transform="matrix(1,0,0,2070.85,0,-0.80)" stroke="#317efb"/>
<use href="#c" transform="matrix(1,0,0,2074.09,0,-1.72)" stroke="#3579fd"/>
<use href="#c" transform="matrix(1,0,0,2077.14,0,-2.45)" stroke="#3c72ff"/>
<use href="#c" transform="matrix(1,0,0,2079.75,0,-2.79)" stroke="#4368fe"/>
<use href="#c" transform="matrix(1,0,0,2081.67,0,-2.50)" stroke="#475cfa"/>
<use href="#c" transform="matrix(1,0,0,2082.88,0,-1.59)" stroke="#4851f3"/>
<use href="#c" transform="matrix(1,0,0,2083.73,0,-0.35)" stroke="#484aee"/>
<use href="#c" transform="matrix(1,0,0,2084.46,0,1.00)" stroke="#484df0"/>
<use href="#c" transform="matrix(1,0,0,2085.33,0,2.23)" stroke="#4756f6"/>
<use href="#c" transform="matrix(1,0,0,2086.61,0,3.09)" stroke="#4660fc"/>
<use href="#c" transform="matrix(1,0,0,2088.43,0,3.48)" stroke="#4368fe"/>
<use href="#c" transform="matrix(1,0,0,2090.64,0,3.52)" stroke="#3f6eff"/>
<use href="#c" transform="matrix(1,0,0,2093.17,0,3.28)" stroke="#3a74fe"/>
<use href="#c" transform="matrix(1,0,0,2095.94,0,2.82)" stroke="#3479fd"/>
<use href="#c" transform="matrix(1,0,0,2098.88,0,2.22)" stroke="#317efb"/>
<use href="#c" transform="matrix(1,0,0,2101.92,0,1.54)" stroke="#2f82f9"/>
<use href="#c" transform="matrix(1,0,0,2105.00,0,0.82)" stroke="#2e86f7"/>
<use href="#c" transform="matrix(1,0,0,2108.07,0,0.12)" stroke="#2d89f5"/>
<use href="#c" transform="matrix(1,0,0,2111.09,0,-0.55)" stroke="#2d8cf3"/>
<use href="#c" transform="matrix(1,0,0,2114.04,0,-1.14)" stroke="#2c8ff0"/>
<use href="#c" transform="matrix(1,0,0,2116.89,0,-1.65)" stroke="#2a92ee"/>
<use href="#c" transform="matrix(1,0,0,2119.59,0,-2.02)" stroke="#2895ec"/>
<use href="#c" transform="matrix(1,0,0,2122.12,0,-2.24)" stroke="#2698ea"/>
<use href="#c" transform="matrix(1,0,0,2124.46,0,-2.29)" class="v22"/>
<use href="#c" transform="matrix(1,0,0,2126.59,0,-2.16)" class="v23"/>
<use href="#c" transform="matrix(1,0,0,2128.53,0,-1.86)" class="v23"/>
<use href="#c" transform="matrix(1,0,0,2130.30,0,-1.40)" class="v24"/>
<use href="#c" transform="matrix(1,0,0,2131.95,0,-0.84)" class="v24"/>
<use href="#c" transform="matrix(1,0,0,2133.51,0,-0.20)" class="v24"/>
<use href="#c" transform="matrix(1,0,0,2135.11,0,0.41)" class="v24"/>
<use href="#c" transform="matrix(1,0,0,2136.80,0,0.94)" class="v24"/>
<use href="#c" transform="matrix(1,0,0,2138.65,0,1.34)" class="v23"/>
<use href="#c" transform="matrix(1,0,0,2140.74,0,1.52)" class="v23"/>
<use href="#c" transform="matrix(1,0,0,2143.11,0,1.47)" class="v22"/>
<use href="#c" transform="matrix(1,0,0,2145.78,0,1.16)" stroke="#2895ec"/>
<use href="#c" transform="matrix(1,0,0,2148.71,0,0.62)" stroke="#2b90f0"/>
<use href="#c" transform="matrix(1,0,0,2151.85,0,-0.09)" stroke="#2d8cf3"/>
<use href="#c" transform="matrix(1,0,0,2155.11,0,-0.91)" stroke="#2e87f7"/>
<use href="#c" transform="matrix(1,0,0,2158.41,0,-1.75)" stroke="#2f81fa"/>
<use href="#c" transform="matrix(1,0,0,2161.64,0,-2.54)" stroke="#327cfc"/>
<use href="#c" transform="matrix(1,0,0,2164.71,0,-3.18)" stroke="#3975fe"/>
<use href="#c" transform="matrix(1,0,0,2167.35,0,-3.45)" stroke="#426afe"/>
<use href="#c" transform="matrix(1,0,0,2169.18,0,-3.02)" stroke="#475bf9"/>
<use href="#c" transform="matrix(1,0,0,2170.21,0,-1.90)" stroke="#484df0"/>
<use href="#c" transform="matrix(1,0,0,2170.89,0,-0.49)" stroke="#4744e8"/>
<use href="#c" transform="matrix(1,0,0,2171.50,0,0.99)" stroke="#4745e9"/>
<use href="#c" transform="matrix(1,0,0,2172.16,0,2.42)" stroke="#484ef1"/>
<use href="#c" transform="matrix(1,0,0,2173.11,0,3.62)" stroke="#475af9"/>
<use href="#c" transform="matrix(1,0,0,2174.59,0,4.36)" stroke="#4464fd"/>
<use href="#c" transform="matrix(1,0,0,2176.59,0,4.65)" stroke="#406cfe"/>
<use href="#c" transform="matrix(1,0,0,2179.03,0,4.58)" stroke="#3a73fe"/>
<use href="#c" transform="matrix(1,0,0,2181.80,0,4.23)" stroke="#337bfd"/>
<use href="#c" transform="matrix(1,0,0,2184.79,0,3.69)" stroke="#2f81fa"/>
<use href="#c" transform="matrix(1,0,0,2187.87,0,3.08)" stroke="#2e85f8"/>
<use href="#c" transform="matrix(1,0,0,2190.95,0,2.47)" stroke="#2d89f5"/>
<use href="#c" transform="matrix(1,0,0,2193.98,0,1.91)" stroke="#2d8cf3"/>
<use href="#c" transform="matrix(1,0,0,2196.96,0,1.39)" stroke="#2c8ef2"/>
<use href="#c" transform="matrix(1,0,0,2199.89,0,0.91)" stroke="#2c8ff0"/>
<use href="#c" transform="matrix(1,0,0,2202.76,0,0.50)" stroke="#2b91ef"/>
<use href="#c" transform="matrix(1,0,0,2205.55,0,0.14)" stroke="#2a92ee"/>
<use href="#c" transform="matrix(1,0,0,2208.28,0,-0.16)" stroke="#2994ed"/>
<use href="#c" transform="matrix(1,0,0,2210.93,0,-0.39)" stroke="#2895ec"/>
<use href="#c" transform="matrix(1,0,0,2213.51,0,-0.55)" stroke="#2796eb"/>
<use href="#c" transform="matrix(1,0,0,2216.01,0,-0.65)" stroke="#2798ea"/>
<use href="#c" transform="matrix(1,0,0,2218.44,0,-0.69)" class="v22"/>
<use href="#c" transform="matrix(1,0,0,2220.81,0,-0.68)" class="v22"/>
<use href="#c" transform="matrix(1,0,0,2223.13,0,-0.61)" class="v22"/>
<use href="#c" transform="matrix(1,0,0,2225.39,0,-0.51)" class="v22"/>
<use href="#c" transform="matrix(1,0,0,2227.62,0,-0.37)" class="v22"/>
<use href="#c" transform="matrix(1,0,0,2229.83,0,-0.21)" class="v22"/>
<use href="#c" transform="matrix(1,0,0,2232.02,0,-0.03)" class="v22"/>
<use href="#c" transform="matrix(1,0,0,2234.21,0,0.15)" class="v22"/>
<use href="#c" transform="matrix(1,0,0,2236.41,0,0.31)" class="v22"/>
<use href="#c" transform="matrix(1,0,0,2238.67,0,0.44)" class="v22"/>
<use href="#c" transform="matrix(1,0,0,2240.99,0,0.52)" class="v22"/>
<use href="#c" transform="matrix(1,0,0,2243.40,0,0.52)" stroke="#2798ea"/>
<use href="#c" transform="matrix(1,0,0,2245.92,0,0.44)" stroke="#2796eb"/>
<use href="#c" transform="matrix(1,0,0,2248.54,0,0.27)" stroke="#2995ec"/>
<use href="#c" transform="scale(1,2251.29)" stroke="#2a93ee"/>
<use href="#c" transform="matrix(1,0,0,2254.15,0,-0.36)" stroke="#2b90ef"/>
<use href="#c" transform="matrix(1,0,0,2257.12,0,-0.81)" stroke="#2c8ef1"/>
<use href="#c" transform="matrix(1,0,0,2260.19,0,-1.34)" stroke="#2d8cf3"/>
<use href="#c" transform="matrix(1,0,0,2263.34,0,-1.92)" stroke="#2d89f5"/>
<use href="#c" transform="matrix(1,0,0,2266.53,0,-2.55)" stroke="#2e86f7"/>
<use href="#c" transform="matrix(1,0,0,2269.73,0,-3.18)" stroke="#2f82fa"/>
<use href="#c" transform="matrix(1,0,0,2272.84,0,-3.72)" stroke="#3579fd"/>
<use href="#c" transform="matrix(1,0,0,2275.50,0,-3.91)" stroke="#416cfe"/>
<use href="#c" transform="matrix(1,0,0,2277.31,0,-3.38)" stroke="#475cfa"/>
<use href="#c" transform="matrix(1,0,0,2278.30,0,-2.20)" stroke="#484ef1"/>
<use href="#c" transform="matrix(1,0,0,2278.97,0,-0.74)" stroke="#4744e8"/>
<use href="#c" transform="matrix(1,0,0,2279.56,0,0.78)" stroke="#4744e8"/>
<use href="#c" transform="matrix(1,0,0,2280.18,0,2.28)" stroke="#484aed"/>
<use href="#c" transform="matrix(1,0,0,2280.93,0,3.66)" stroke="#4853f5"/>
<use href="#c" transform="matrix(1,0,0,2282.03,0,4.77)" stroke="#465efb"/>
<use href="#c" transform="matrix(1,0,0,2283.71,0,5.40)" stroke="#4368fe"/>
<use href="#c" transform="matrix(1,0,0,2286.02,0,5.54)" stroke="#3c71ff"/>
<use href="#c" transform="matrix(1,0,0,2288.75,0,5.33)" stroke="#3678fe"/>
<use href="#c" transform="matrix(1,0,0,2291.70,0,4.94)" stroke="#327bfc"/>
<use href="#c" transform="matrix(1,0,0,2294.75,0,4.48)" stroke="#317efb"/>
<use href="#c" transform="matrix(1,0,0,2297.88,0,3.96)" stroke="#2f81fa"/>
<use href="#c" transform="matrix(1,0,0,2301.05,0,3.40)" stroke="#2e83f9"/>
<use href="#c" transform="matrix(1,0,0,2304.23,0,2.84)" stroke="#2e86f8"/>
<use href="#c" transform="matrix(1,0,0,2307.42,0,2.28)" stroke="#2d88f6"/>
<use href="#c" transform="matrix(1,0,0,2310.59,0,1.73)" stroke="#2d89f5"/>
<use href="#c" transform="matrix(1,0,0,2313.73,0,1.20)" stroke="#2d8af4"/>
<use href="#c" transform="matrix(1,0,0,2316.86,0,0.69)" stroke="#2d8bf4"/>
<use href="#c" transform="matrix(1,0,0,2319.98,0,0.20)" stroke="#2d8cf3"/>
<use href="#c" transform="matrix(1,0,0,2323.21,0,-0.39)" stroke="#2d8bf3"/>
<use href="#c" transform="matrix(1,0,0,2326.54,0,-1.05)" stroke="#2d8af4"/>
<use href="#c" transform="matrix(1,0,0,2329.92,0,-1.75)" stroke="#2d88f6"/>
<use href="#c" transform="matrix(1,0,0,2333.33,0,-2.47)" stroke="#2e84f8"/>
<use href="#c" transform="matrix(1,0,0,2336.73,0,-3.19)" stroke="#2f80fa"/>
<use href="#c" transform="matrix(1,0,0,2340.05,0,-3.83)" stroke="#327bfc"/>
<use href="#c" transform="matrix(1,0,0,2343.18,0,-4.32)" stroke="#3875fe"/>
<use href="#c" transform="matrix(1,0,0,2346.01,0,-4.57)" stroke="#3e6fff"/>
<use href="#c" transform="matrix(1,0,0,2348.41,0,-4.48)" stroke="#4367fd"/>
<use href="#c" transform="matrix(1,0,0,2350.03,0,-3.76)" stroke="#4759f8"/>
<use href="#c" transform="matrix(1,0,0,2350.93,0,-2.47)" stroke="#484aed"/>
<use href="#c" transform="matrix(1,0,0,2351.55,0,-0.96)" stroke="#473ee1"/>
<use href="#c" transform="matrix(1,0,0,2352.12,0,0.58)" stroke="#463cdf"/>
<use href="#c" transform="matrix(1,0,0,2352.72,0,2.11)" stroke="#4741e5"/>
<use href="#c" transform="matrix(1,0,0,2353.39,0,3.59)" stroke="#484aed"/>
<use href="#c" transform="matrix(1,0,0,2354.22,0,4.93)" stroke="#4852f4"/>
<use href="#c" transform="matrix(1,0,0,2355.36,0,6.04)" stroke="#475af9"/>
<use href="#c" transform="matrix(1,0,0,2357.00,0,6.75)" stroke="#4563fc"/>
<use href="#c" transform="matrix(1,0,0,2359.31,0,6.93)" stroke="#416cfe"/>
<use href="#c" transform="matrix(1,0,0,2362.24,0,6.64)" stroke="#3a73fe"/>
<use href="#c" transform="matrix(1,0,0,2365.57,0,6.04)" stroke="#3579fd"/>
<use href="#c" transform="matrix(1,0,0,2369.10,0,5.28)" stroke="#327cfc"/>
<use href="#c" transform="matrix(1,0,0,2372.73,0,4.44)" stroke="#307efb"/>
<use href="#c" transform="matrix(1,0,0,2376.44,0,3.54)" stroke="#2f81fa"/>
<use href="#c" transform="matrix(1,0,0,2380.20,0,2.61)" stroke="#2f83f9"/>
<use href="#c" transform="matrix(1,0,0,2383.98,0,1.67)" stroke="#2e84f8"/>
<use href="#c" transform="matrix(1,0,0,2387.77,0,0.72)" stroke="#2e85f8"/>
<use href="#c" transform="matrix(1,0,0,2391.65,0,-0.30)" stroke="#2e85f8"/>
<use href="#c" transform="matrix(1,0,0,2395.78,0,-1.51)" stroke="#2e83f9"/>
<use href="#c" transform="matrix(1,0,0,2399.88,0,-2.69)" stroke="#307ffb"/>
<use href="#c" transform="matrix(1,0,0,2403.84,0,-3.76)" stroke="#3579fd"/>
<use href="#c" transform="matrix(1,0,0,2407.47,0,-4.57)" stroke="#3c72ff"/>
<use href="#c" transform="matrix(1,0,0,2410.57,0,-4.96)" stroke="#426afe"/>
<use href="#c" transform="matrix(1,0,0,2412.98,0,-4.83)" stroke="#4561fc"/>
<use href="#c" transform="matrix(1,0,0,2414.53,0,-4.02)" stroke="#4853f5"/>
<use href="#c" transform="matrix(1,0,0,2415.38,0,-2.68)" stroke="#4744e8"/>
<use href="#c" transform="matrix(1,0,0,2416.01,0,-1.17)" stroke="#4539d9"/>
<use href="#c" transform="matrix(1,0,0,2416.60,0,0.38)" stroke="#4536d4"/>
<use href="#c" transform="matrix(1,0,0,2417.20,0,1.92)" stroke="#463de0"/>
<use href="#c" transform="matrix(1,0,0,2417.89,0,3.39)" stroke="#484bef"/>
<use href="#c" transform="matrix(1,0,0,2418.98,0,4.55)" stroke="#475af9"/>
<use href="#c" transform="matrix(1,0,0,2420.85,0,5.12)" stroke="#4464fd"/>
<use href="#c" transform="matrix(1,0,0,2423.57,0,5.04)" stroke="#3f6eff"/>
<use href="#c" transform="matrix(1,0,0,2427.06,0,4.38)" stroke="#3678fd"/>
<use href="#c" transform="matrix(1,0,0,2431.04,0,3.34)" stroke="#2f80fa"/>
<use href="#c" transform="matrix(1,0,0,2435.21,0,2.16)" stroke="#2e87f7"/>
<use href="#c" transform="matrix(1,0,0,2439.34,0,1.02)" stroke="#2d8cf3"/>
<use href="#c" transform="matrix(1,0,0,2443.25,0,0.04)" stroke="#2b92ef"/>
<use href="#c" transform="matrix(1,0,0,2446.80,0,-0.66)" stroke="#2797eb"/>
<use href="#c" transform="matrix(1,0,0,2449.88,0,-0.99)" class="v22"/>
<use href="#c" transform="matrix(1,0,0,2452.46,0,-0.95)" class="v23"/>
<use href="#c" transform="matrix(1,0,0,2454.64,0,-0.60)" class="v24"/>
<use href="#c" transform="matrix(1,0,0,2456.58,0,-0.07)" class="v24"/>
<use href="#c" transform="matrix(1,0,0,2458.43,0,0.53)" class="v24"/>
<use href="#c" transform="matrix(1,0,0,2460.48,0,0.98)" class="v23"/>
<use href="#c" transform="matrix(1,0,0,2462.97,0,1.11)" class="v22"/>
<use href="#c" transform="matrix(1,0,0,2466.00,0,0.82)" stroke="#2896ec"/>
<use href="#c" transform="matrix(1,0,0,2469.56,0,0.14)" stroke="#2c90f0"/>
<use href="#c" transform="matrix(1,0,0,2473.49,0,-0.81)" stroke="#2d89f5"/>
<use href="#c" transform="matrix(1,0,0,2477.58,0,-1.88)" stroke="#307ffb"/>
<use href="#c" transform="matrix(1,0,0,2481.25,0,-2.64)" stroke="#3e70ff"/>
<use href="#c" transform="matrix(1,0,0,2483.72,0,-2.49)" stroke="#465ffb"/>
<use href="#c" transform="matrix(1,0,0,2485.01,0,-1.46)" stroke="#4851f3"/>
<use href="#c" transform="matrix(1,0,0,2485.84,0,-0.08)" stroke="#484aee"/>
<use href="#c" transform="matrix(1,0,0,2486.54,0,1.40)" stroke="#484ff1"/>
<use href="#c" transform="matrix(1,0,0,2487.46,0,2.71)" stroke="#475af9"/>
<use href="#c" transform="matrix(1,0,0,2489.01,0,3.55)" stroke="#4367fd"/>
<use href="#c" transform="matrix(1,0,0,2491.43,0,3.76)" stroke="#3b73fe"/>
<use href="#c" transform="matrix(1,0,0,2494.43,0,3.52)" stroke="#347afd"/>
<use href="#c" transform="matrix(1,0,0,2497.65,0,3.14)" stroke="#327dfc"/>
<use href="#c" transform="matrix(1,0,0,2500.96,0,2.68)" stroke="#307ffb"/>
<use href="#c" transform="matrix(1,0,0,2504.33,0,2.18)" stroke="#2f81fa"/>
<use href="#c" transform="matrix(1,0,0,2507.75,0,1.65)" stroke="#2e83f9"/>
<use href="#c" transform="matrix(1,0,0,2511.18,0,1.11)" stroke="#2e84f9"/>
<use href="#c" transform="matrix(1,0,0,2514.63,0,0.56)" stroke="#2e85f8"/>
<use href="#c" transform="matrix(1,0,0,2518.08,0,0.01)" stroke="#2e85f8"/>
<use href="#c" transform="matrix(1,0,0,2522.19,0,-1.02)" stroke="#2e84f8"/>
<use href="#c" transform="matrix(1,0,0,2526.32,0,-2.06)" stroke="#2f82fa"/>
<use href="#c" transform="matrix(1,0,0,2530.39,0,-3.06)" stroke="#307efb"/>
<use href="#c" transform="matrix(1,0,0,2534.33,0,-3.95)" stroke="#347afd"/>
<use href="#c" transform="matrix(1,0,0,2537.99,0,-4.64)" stroke="#3a74fe"/>
<use href="#c" transform="matrix(1,0,0,2541.23,0,-5.02)" stroke="#3f6dfe"/>
<use href="#c" transform="matrix(1,0,0,2543.93,0,-5.00)" stroke="#4367fd"/>
<use href="#c" transform="matrix(1,0,0,2546.01,0,-4.52)" stroke="#465efb"/>
<use href="#c" transform="matrix(1,0,0,2547.28,0,-3.45)" stroke="#4851f3"/>
<use href="#c" transform="matrix(1,0,0,2548.04,0,-2.01)" stroke="#4744e8"/>
<use href="#c" transform="matrix(1,0,0,2548.66,0,-0.46)" stroke="#463cdf"/>
<use href="#c" transform="matrix(1,0,0,2549.29,0,1.08)" stroke="#463de0"/>
<use href="#c" transform="matrix(1,0,0,2549.96,0,2.59)" stroke="#4742e6"/>
<use href="#c" transform="matrix(1,0,0,2550.72,0,4.04)" stroke="#484bee"/>
<use href="#c" transform="matrix(1,0,0,2551.74,0,5.30)" stroke="#4755f6"/>
<use href="#c" transform="matrix(1,0,0,2553.35,0,6.13)" stroke="#465ffb"/>
<use href="#c" transform="matrix(1,0,0,2555.82,0,6.34)" stroke="#4368fe"/>
<use href="#c" transform="matrix(1,0,0,2559.16,0,5.93)" stroke="#3e70ff"/>
<use href="#c" transform="matrix(1,0,0,2563.18,0,5.02)" stroke="#3777fe"/>
<use href="#c" transform="matrix(1,0,0,2567.72,0,3.74)" stroke="#317efb"/>
<use href="#c" transform="matrix(1,0,0,2572.55,0,2.26)" stroke="#2e85f8"/>
<use href="#c" transform="matrix(1,0,0,2577.39,0,0.76)" stroke="#2d8bf4"/>
<use href="#c" transform="matrix(1,0,0,2582.03,0,-0.58)" stroke="#2c90f0"/>
<use href="#c" transform="matrix(1,0,0,2586.30,0,-1.65)" stroke="#2994ed"/>
<use href="#c" transform="matrix(1,0,0,2590.16,0,-2.43)" stroke="#2798ea"/>
<use href="#c" transform="matrix(1,0,0,2593.58,0,-2.88)" class="v22"/>
<use href="#c" transform="matrix(1,0,0,2596.50,0,-2.97)" class="v23"/>
<use href="#c" transform="matrix(1,0,0,2598.95,0,-2.73)" class="v24"/>
<use href="#c" transform="matrix(1,0,0,2601.01,0,-2.21)" class="v25"/>
<use href="#c" transform="matrix(1,0,0,2602.77,0,-1.47)" class="v25"/>
<use href="#c" transform="matrix(1,0,0,2604.35,0,-0.59)" class="v26"/>
<use href="#c" transform="matrix(1,0,0,2605.88,0,0.32)" class="v26"/>
<use href="#c" transform="matrix(1,0,0,2607.48,0,1.18)" class="v25"/>
<use href="#c" transform="matrix(1,0,0,2609.23,0,1.93)" class="v25"/>
<use href="#c" transform="matrix(1,0,0,2611.28,0,2.48)" class="v24"/>
<use href="#c" transform="matrix(1,0,0,2613.74,0,2.73)" class="v23"/>
<use href="#c" transform="matrix(1,0,0,2616.75,0,2.59)" class="v23"/>
<use href="#c" transform="matrix(1,0,0,2620.38,0,2.02)" stroke="#2797ea"/>
<use href="#c" transform="matrix(1,0,0,2624.65,0,1.00)" stroke="#2b91ef"/>
<use href="#c" transform="matrix(1,0,0,2629.61,0,-0.51)" stroke="#2d87f6"/>
<use href="#c" transform="matrix(1,0,0,2634.74,0,-2.13)" stroke="#347afd"/>
<use href="#c" transform="matrix(1,0,0,2638.86,0,-3.04)" stroke="#4269fe"/>
<use href="#c" transform="matrix(1,0,0,2641.13,0,-2.64)" stroke="#4854f5"/>
<use href="#c" transform="matrix(1,0,0,2641.96,0,-1.23)" stroke="#463adc"/>
<use href="#c" transform="matrix(1,0,0,2642.66,0,0.28)" stroke="#4434ce"/>
<use href="#c" transform="matrix(1,0,0,2643.73,0,1.53)" stroke="#484aed"/>
<use href="#c" transform="matrix(1,0,0,2647.10,0,1.17)" stroke="#4367fd"/>
<use href="#c" transform="matrix(1,0,0,2655.08,0,-2.43)" stroke="#2f82fa"/>
<use href="#c" transform="matrix(1,0,0,2663.85,0,-6.57)" class="v22"/>
<use href="#c" transform="matrix(1,0,0,2668.37,0,-7.74)" class="v26"/>
<use href="#c" transform="matrix(1,0,0,2669.95,0,-6.84)" class="v30"/>
<use href="#c" transform="matrix(1,0,0,2678.90,0,6.94)" class="v30"/>
<use href="#c" transform="matrix(1,0,0,2680.21,0,8.03)" class="v27"/>
<use href="#c" transform="matrix(1,0,0,2683.46,0,7.79)" class="v23"/>
<use href="#c" transform="matrix(1,0,0,2690.23,0,5.13)" stroke="#2c8ff1"/>
<use href="#c" transform="matrix(1,0,0,2698.94,0,1.14)" stroke="#317efb"/>
<use href="#c" transform="matrix(1,0,0,2706.41,0,-2.00)" stroke="#416bfe"/>
<use href="#c" transform="matrix(1,0,0,2710.65,0,-2.91)" stroke="#4758f8"/>
<use href="#c" transform="matrix(1,0,0,2712.21,0,-1.98)" stroke="#4742e6"/>
<use href="#c" transform="matrix(1,0,0,2713.11,0,-0.60)" stroke="#4434d0"/>
<use href="#c" transform="matrix(1,0,0,2713.80,0,0.93)" stroke="#4435d1"/>
<use href="#c" transform="matrix(1,0,0,2714.38,0,2.53)" stroke="#473fe3"/>
<use href="#c" transform="matrix(1,0,0,2715.07,0,4.06)" stroke="#484ef1"/>
<use href="#c" transform="matrix(1,0,0,2716.16,0,5.31)" stroke="#475bf9"/>
<use href="#c" transform="matrix(1,0,0,2718.09,0,6.00)" stroke="#4368fe"/>
<use href="#c" transform="matrix(1,0,0,2721.17,0,5.91)" stroke="#3974fe"/>
<use href="#c" transform="matrix(1,0,0,2725.01,0,5.29)" stroke="#327bfc"/>
<use href="#c" transform="matrix(1,0,0,2729.15,0,4.48)" stroke="#3080fa"/>
<use href="#c" transform="matrix(1,0,0,2733.44,0,3.57)" stroke="#2e84f9"/>
<use href="#c" transform="matrix(1,0,0,2737.77,0,2.63)" stroke="#2e87f7"/>
<use href="#c" transform="matrix(1,0,0,2742.06,0,1.72)" stroke="#2d8af5"/>
<use href="#c" transform="matrix(1,0,0,2746.30,0,0.86)" stroke="#2d8bf4"/>
<use href="#c" transform="matrix(1,0,0,2750.50,0,0.02)" stroke="#2d8cf3"/>
<use href="#c" transform="matrix(1,0,0,2753.83,0,-0.23)" stroke="#2d8bf3"/>
<use href="#c" transform="matrix(1,0,0,2757.16,0,-0.47)" stroke="#2d8bf4"/>
<use href="#c" transform="matrix(1,0,0,2760.51,0,-0.74)" stroke="#2d8af5"/>
<use href="#c" transform="matrix(1,0,0,2763.91,0,-1.02)" stroke="#2d89f5"/>
<use href="#c" transform="matrix(1,0,0,2767.33,0,-1.32)" stroke="#2e87f7"/>
<use href="#c" transform="matrix(1,0,0,2770.79,0,-1.64)" stroke="#2e86f8"/>
<use href="#c" transform="matrix(1,0,0,2774.25,0,-1.96)" stroke="#2e84f9"/>
<use href="#c" transform="matrix(1,0,0,2777.70,0,-2.28)" stroke="#2f82fa"/>
<use href="#c" transform="matrix(1,0,0,2781.13,0,-2.57)" stroke="#3080fa"/>
<use href="#c" transform="matrix(1,0,0,2784.51,0,-2.83)" stroke="#317efb"/>
<use href="#c" transform="matrix(1,0,0,2787.80,0,-3.03)" stroke="#337bfd"/>
<use href="#c" transform="matrix(1,0,0,2790.93,0,-3.12)" stroke="#3777fe"/>
<use href="#c" transform="matrix(1,0,0,2793.84,0,-3.06)" stroke="#3b72ff"/>
<use href="#c" transform="matrix(1,0,0,2796.37,0,-2.75)" stroke="#416bfe"/>
<use href="#c" transform="matrix(1,0,0,2798.05,0,-1.86)" stroke="#475af9"/>
<use href="#c" transform="matrix(1,0,0,2798.87,0,-0.41)" stroke="#484bef"/>
<use href="#c" transform="matrix(1,0,0,2799.99,0,0.85)" stroke="#4851f3"/>
<use href="#c" transform="matrix(1,0,0,2802.83,0,0.97)" stroke="#4368fd"/>
<use href="#c" transform="matrix(1,0,0,2809.83,0,-1.67)" stroke="#2f81fa"/>
<use href="#c" transform="matrix(1,0,0,2818.10,0,-5.14)" stroke="#2b92ee"/>
<use href="#c" transform="matrix(1,0,0,2824.05,0,-7.07)" class="v23"/>
<use href="#c" transform="matrix(1,0,0,2826.91,0,-6.96)" class="v26"/>
<use href="#c" transform="matrix(1,0,0,2828.20,0,-5.81)" class="v29"/>
<use href="#c" transform="matrix(1,0,0,2829.06,0,-4.38)" class="v32"/>
<use href="#c" transform="matrix(1,0,0,2834.43,0,6.10)" class="v30"/>
<use href="#c" transform="matrix(1,0,0,2835.46,0,7.42)" class="v28"/>
<use href="#c" transform="matrix(1,0,0,2837.51,0,8.09)" class="v24"/>
<use href="#c" transform="matrix(1,0,0,2842.36,0,6.93)" stroke="#2896eb"/>
<use href="#c" transform="matrix(1,0,0,2850.23,0,3.81)" stroke="#2e87f7"/>
<use href="#c" transform="matrix(1,0,0,2858.35,0,0.53)" stroke="#3b72ff"/>
<use href="#c" transform="matrix(1,0,0,2863.08,0,-0.54)" stroke="#465dfb"/>
<use href="#c" transform="matrix(1,0,0,2865.32,0,0.01)" stroke="#4755f6"/>
<use href="#c" transform="matrix(1,0,0,2870.22,0,-1.17)" stroke="#3f6efe"/>
<use href="#c" transform="matrix(1,0,0,2882.29,0,-6.98)" stroke="#2994ed"/>
<use href="#c" transform="matrix(1,0,0,2887.88,0,-8.60)" class="v28"/>
<use href="#c" transform="matrix(1,0,0,2899.74,0,9.78)" class="v29"/>
<use href="#c" transform="matrix(1,0,0,2902.22,0,10.20)" class="v23"/>
<use href="#c" transform="matrix(1,0,0,2910.21,0,7.12)" stroke="#2d8cf3"/>
<use href="#c" transform="matrix(1,0,0,2920.59,0,2.52)" stroke="#3579fd"/>
<use href="#c" transform="matrix(1,0,0,2927.90,0,-0.12)" stroke="#4465fd"/>
<use href="#c" transform="matrix(1,0,0,2931.47,0,-0.38)" stroke="#4758f8"/>
<use href="#c" transform="matrix(1,0,0,2933.82,0,0.13)" stroke="#4756f6"/>
<use href="#c" transform="matrix(1,0,0,2937.15,0,0.02)" stroke="#465ffb"/>
<use href="#c" transform="matrix(1,0,0,2944.08,0,-2.36)" stroke="#3c71ff"/>
<use href="#c" transform="matrix(1,0,0,2955.88,0,-7.82)" stroke="#2e86f8"/>
<use href="#c" transform="matrix(1,0,0,2967.51,0,-13.15)" stroke="#2798ea"/>
<use href="#c" transform="matrix(1,0,0,2973.04,0,-14.64)" class="v26"/>
<use href="#c" transform="matrix(1,0,0,2974.46,0,-13.53)" class="v31"/></g>
<g mask="url(#k2)"><g transform="translate(1060.35,1918.85) scale(1,-1)"><use href="#ma1" transform="scale(1,269.44)"/>
<use href="#ma0" transform="scale(1,276.87)"/>
<use href="#ma2" transform="scale(1,284.51)"/>
<use href="#md2" transform="scale(1,292.35)"/>
<use href="#ma0" transform="scale(1,307.65)"/>
<use href="#mc1" transform="scale(1,316.13)"/>
<use href="#md2" transform="scale(1,328.74)"/>
<use href="#mc0" transform="scale(1,345.94)"/>
<use href="#me1" transform="scale(1,359.73)"/>
<use href="#md2" transform="scale(1,367.15)"/>
<use href="#md1" transform="scale(1,386.36)"/>
<use href="#mb3" transform="scale(1,406.57)"/>
<use href="#ma0" transform="scale(1,420.63)"/>
<use href="#mb1" transform="scale(1,432.23)"/>
<use href="#ma2" transform="scale(1,447.18)"/>
<use href="#mb0" transform="scale(1,459.51)"/>
<use href="#ma1" transform="scale(1,475.40)"/>
<use href="#mb3" transform="scale(1,488.51)"/>
<use href="#mb0" transform="scale(1,505.41)"/>
<use href="#mb0" transform="scale(1,522.89)"/>
<use href="#ma0" transform="scale(1,540.97)"/>
<use href="#ma0" transform="scale(1,555.89)"/>
<use href="#md0" transform="scale(1,571.21)"/>
<use href="#pd0" transform="scale(1,600.00)"/>
<use href="#pc0" transform="scale(1,628.18)"/>
<use href="#pa0" transform="scale(1,650.68)"/>
<use href="#pd1" transform="scale(1,666.81)"/>
<use href="#pb0" transform="scale(1,698.13)"/>
<use href="#pb0" transform="scale(1,719.82)"/>
<use href="#pb0" transform="scale(1,742.19)"/>
<use href="#pc0" transform="scale(1,765.25)"/>
<use href="#pa0" transform="scale(1,792.66)"/>
<use href="#pd1" transform="scale(1,812.30)"/>
<use href="#pe1" transform="scale(1,850.45)"/>
<use href="#pd1" transform="scale(1,866.21)"/>
<use href="#pb1" transform="scale(1,906.90)"/>
<use href="#pb1" transform="scale(1,935.08)"/>
<use href="#pa2" transform="scale(1,964.13)"/>
<use href="#pc1" transform="scale(1,988.03)"/>
<use href="#pb1" transform="scale(1,1023.41)"/>
<use href="#pb1" transform="scale(1,1055.21)"/>
<use href="#pd1" transform="scale(1,1088.00)"/>
<use href="#pb0" transform="scale(1,1139.11)"/>
<use href="#mc2" transform="scale(1,1150.00)"/>
<use href="#ma2" transform="scale(1,1195.86)"/>
<use href="#mb2" transform="scale(1,1228.83)"/>
<use href="#mb2" transform="scale(1,1271.33)"/>
<use href="#mc2" transform="scale(1,1315.30)"/>
<use href="#mb2" transform="scale(1,1367.74)"/>
<use href="#md2" transform="scale(1,1415.05)"/>
<use href="#mb3" transform="scale(1,1489.09)"/>
<use href="#mb2" transform="scale(1,1540.58)"/>
<use href="#ma3" transform="scale(1,1593.87)"/>
<use href="#mc2" transform="scale(1,1637.81)"/>
<use href="#mc2" transform="scale(1,1703.12)"/>
<use href="#md2" transform="scale(1,1771.03)"/>
<use href="#me2" transform="scale(1,1863.70)"/>
<use href="#ma2" transform="scale(1,1902.11)"/>
<use href="#me2" transform="scale(1,1954.55)"/>
<use href="#mb2" transform="scale(1,1994.84)"/>
<use href="#mc2" transform="scale(1,2063.83)"/>
<use href="#mb2" transform="scale(1,2146.12)"/>
<use href="#me2" transform="scale(1,2220.34)"/>
<use href="#ma2" transform="scale(1,2266.10)"/>
<use href="#mb2" transform="scale(1,2328.59)"/>
<use href="#mb1" transform="scale(1,2409.12)"/>
<use href="#ma1" transform="scale(1,2492.44)"/>
<use href="#me1" transform="scale(1,2561.16)"/>
<use href="#me1" transform="scale(1,2613.95)"/>
<use href="#ma1" transform="scale(1,2667.82)"/>
<use href="#mb1" transform="scale(1,2741.38)"/></g></g>
<g mask="url(#k3)"><g transform="translate(1060.35,1918.85) scale(1,-1)"><use href="#oa3" transform="scale(1,193.42)"/>
<use href="#ob3" transform="scale(1,197.53)"/>
<use href="#ob1" transform="scale(1,203.63)"/>
<use href="#oa3" transform="scale(1,209.93)"/>
<use href="#oa3" transform="scale(1,214.39)"/>
<use href="#od1" transform="scale(1,218.93)"/>
<use href="#oa3" transform="scale(1,227.85)"/>
<use href="#oa4" transform="scale(1,232.68)"/>
<use href="#of2" transform="scale(1,237.62)"/>
<use href="#oe1" transform="scale(1,241.14)"/>
<use href="#oa1" transform="scale(1,247.55)"/>
<use href="#oe2" transform="scale(1,252.81)"/>
<use href="#ob2" transform="scale(1,259.53)"/>
<use href="#oa2" transform="scale(1,267.55)"/>
<use href="#oa1" transform="scale(1,273.23)"/>
<use href="#oa2" transform="scale(1,279.03)"/>
<use href="#od4" transform="scale(1,284.95)"/>
<use href="#oe3" transform="scale(1,296.55)"/>
<use href="#oa1" transform="scale(1,304.44)"/>
<use href="#oa2" transform="scale(1,310.90)"/>
<use href="#oa2" transform="scale(1,317.50)"/>
<use href="#od3" transform="scale(1,324.24)"/>
<use href="#oe3" transform="scale(1,337.44)"/>
<use href="#oa2" transform="scale(1,346.41)"/>
<use href="#oa2" transform="scale(1,353.76)"/>
<use href="#oa3" transform="scale(1,361.27)"/>
<use href="#od3" transform="scale(1,368.94)"/>
<use href="#od2" transform="scale(1,383.95)"/>
<use href="#of3" transform="scale(1,399.58)"/>
<use href="#of4" transform="scale(1,405.50)"/>
<use href="#oa3" transform="scale(1,411.51)"/>
<use href="#oe2" transform="scale(1,420.24)"/>
<use href="#oe3" transform="scale(1,431.42)"/>
<use href="#oc2" transform="scale(1,442.89)"/>
<use href="#oc3" transform="scale(1,450.87)"/>
<use href="#of2" transform="scale(1,458.99)"/>
<use href="#oe2" transform="scale(1,465.78)"/>
<use href="#oa3" transform="scale(1,478.17)"/>
<use href="#oc4" transform="scale(1,488.32)"/>
<use href="#of3" transform="scale(1,497.12)"/>
<use href="#oa2" transform="scale(1,504.48)"/>
<use href="#oa1" transform="scale(1,515.18)"/>
<use href="#oa1" transform="scale(1,526.12)"/>
<use href="#oa1" transform="scale(1,537.28)"/>
<use href="#oc1" transform="scale(1,548.68)"/>
<use href="#od1" transform="scale(1,558.57)"/>
<use href="#of2" transform="scale(1,581.30)"/>
<use href="#oa2" transform="scale(1,589.91)"/>
<use href="#oe2" transform="scale(1,602.43)"/>
<use href="#oa2" transform="scale(1,618.45)"/>
<use href="#oe2" transform="scale(1,631.58)"/>
<use href="#ob2" transform="scale(1,648.38)"/>
<use href="#ob1" transform="scale(1,668.42)"/>
<use href="#ob1" transform="scale(1,689.09)"/>
<use href="#oc1" transform="scale(1,710.40)"/>
<use href="#od2" transform="scale(1,723.19)"/>
<use href="#ob1" transform="scale(1,752.63)"/>
<use href="#oa2" transform="scale(1,775.90)"/>
<use href="#oc2" transform="scale(1,792.37)"/>
<use href="#oa2" transform="scale(1,806.64)"/>
<use href="#oc2" transform="scale(1,823.76)"/>
<use href="#ob3" transform="scale(1,838.59)"/>
<use href="#nd1" transform="scale(1,850.00)"/>
<use href="#na1" transform="scale(1,874.57)"/>
<use href="#nc2" transform="scale(1,887.97)"/>
<use href="#nd2" transform="scale(1,907.58)"/>
<use href="#na1" transform="scale(1,933.82)"/>
<use href="#nd2" transform="scale(1,948.12)"/>
<use href="#nb2" transform="scale(1,975.54)"/>
<use href="#nb2" transform="scale(1,994.25)"/>
<use href="#na2" transform="scale(1,1013.32)"/>
<use href="#nd2" transform="scale(1,1028.84)"/>
<use href="#nb2" transform="scale(1,1058.58)"/>
<use href="#nb2" transform="scale(1,1078.89)"/>
<use href="#nd2" transform="scale(1,1099.58)"/>
<use href="#nc2" transform="scale(1,1131.37)"/>
<use href="#nb2" transform="scale(1,1156.36)"/></g></g>
<g transform="translate(1060.35,1918.85) scale(1,-1)"><use href="#ch" transform="matrix(1,0,0,791.17,0,-3.18)" class="b32"/>
<use href="#ch" transform="matrix(1,0,0,791.66,0,-2.11)" class="b34"/>
<use href="#ch" transform="matrix(1,0,0,792.15,0,-1.03)" class="b35"/>
<use href="#ch" transform="matrix(1,0,0,792.64,0,0.05)" class="b35"/>
<use href="#ch" transform="matrix(1,0,0,793.09,0,1.26)" class="b35"/>
<use href="#ch" transform="matrix(1,0,0,793.53,0,2.45)" class="b34"/>
<use href="#ch" transform="matrix(1,0,0,793.98,0,3.65)" class="b33"/>
<use href="#ch" transform="matrix(1,0,0,794.43,0,4.83)" class="b32"/>
<use href="#ch" transform="matrix(1,0,0,852.60,0,-14.20)" class="b34"/>
<use href="#ch" transform="matrix(1,0,0,853.20,0,-13.38)" class="b37"/>
<use href="#ch" transform="matrix(1,0,0,853.80,0,-12.55)" class="b38"/>
<use href="#ch" transform="matrix(1,0,0,854.41,0,-11.74)" class="b40"/>
<use href="#ch" transform="matrix(1,0,0,855.01,0,-10.92)" class="b41"/>
<use href="#ch" transform="matrix(1,0,0,855.61,0,-10.10)" class="b42"/>
<use href="#ch" transform="matrix(1,0,0,856.22,0,-9.29)" class="b43"/>
<use href="#ch" transform="matrix(1,0,0,856.82,0,-8.48)" class="b44"/>
<use href="#ch" transform="matrix(1,0,0,857.43,0,-7.67)" class="b45"/>
<use href="#ch" transform="matrix(1,0,0,858.03,0,-6.87)" class="b46"/>
<use href="#ch" transform="matrix(1,0,0,858.64,0,-6.06)" class="b47"/>
<use href="#ch" transform="matrix(1,0,0,859.25,0,-5.26)" class="b48"/>
<use href="#ch" transform="matrix(1,0,0,859.86,0,-4.46)" class="b49"/>
<use href="#ch" transform="matrix(1,0,0,860.47,0,-3.67)" class="b50"/>
<use href="#ch" transform="matrix(1,0,0,861.08,0,-2.87)" class="b50"/>
<use href="#ch" transform="matrix(1,0,0,861.69,0,-2.08)" class="b51"/>
<use href="#ch" transform="matrix(1,0,0,862.30,0,-1.29)" class="b51"/>
<use href="#ch" transform="matrix(1,0,0,862.91,0,-0.50)" class="b51"/>
<use href="#ch" transform="matrix(1,0,0,863.54,0,0.26)" class="b51"/>
<use href="#ch" transform="matrix(1,0,0,864.18,0,0.98)" class="b51"/>
<use href="#ch" transform="matrix(1,0,0,864.82,0,1.70)" class="b51"/>
<use href="#ch" transform="matrix(1,0,0,865.46,0,2.41)" class="b50"/>
<use href="#ch" transform="matrix(1,0,0,866.11,0,3.12)" class="b50"/>
<use href="#ch" transform="matrix(1,0,0,866.75,0,3.83)" class="b49"/>
<use href="#ch" transform="matrix(1,0,0,867.40,0,4.54)" class="b49"/>
<use href="#ch" transform="matrix(1,0,0,868.05,0,5.24)" class="b48"/>
<use href="#ch" transform="matrix(1,0,0,868.70,0,5.95)" class="b47"/>
<use href="#ch" transform="matrix(1,0,0,869.34,0,6.65)" class="b46"/>
<use href="#ch" transform="matrix(1,0,0,869.99,0,7.35)" class="b45"/>
<use href="#ch" transform="matrix(1,0,0,870.64,0,8.05)" class="b44"/>
<use href="#ch" transform="matrix(1,0,0,871.29,0,8.75)" class="b43"/>
<use href="#ch" transform="matrix(1,0,0,871.95,0,9.44)" class="b42"/>
<use href="#ch" transform="matrix(1,0,0,872.60,0,10.14)" class="b41"/>
<use href="#ch" transform="matrix(1,0,0,873.25,0,10.83)" class="b40"/>
<use href="#ch" transform="matrix(1,0,0,873.91,0,11.52)" class="b39"/>
<use href="#ch" transform="matrix(1,0,0,874.56,0,12.21)" class="b38"/>
<use href="#ch" transform="matrix(1,0,0,875.22,0,12.89)" class="b37"/>
<use href="#ch" transform="matrix(1,0,0,875.88,0,13.58)" class="b35"/>
<use href="#ch" transform="matrix(1,0,0,876.54,0,14.26)" class="b34"/>
<use href="#ch" transform="matrix(1,0,0,877.20,0,14.92)" class="b32"/>
<use href="#ch" transform="matrix(1,0,0,935.93,0,-8.98)" class="b34"/>
<use href="#ch" transform="matrix(1,0,0,936.61,0,-8.29)" class="b36"/>
<use href="#ch" transform="matrix(1,0,0,937.30,0,-7.60)" class="b38"/>
<use href="#ch" transform="matrix(1,0,0,937.98,0,-6.91)" class="b40"/>
<use href="#ch" transform="matrix(1,0,0,938.67,0,-6.22)" class="b42"/>
<use href="#ch" transform="matrix(1,0,0,939.36,0,-5.53)" class="b44"/>
<use href="#ch" transform="matrix(1,0,0,940.04,0,-4.85)" class="b45"/>
<use href="#ch" transform="matrix(1,0,0,940.73,0,-4.16)" class="b47"/>
<use href="#ch" transform="matrix(1,0,0,941.42,0,-3.48)" class="b48"/>
<use href="#ch" transform="matrix(1,0,0,942.11,0,-2.80)" class="b50"/>
<use href="#ch" transform="matrix(1,0,0,942.80,0,-2.12)" class="b51"/>
<use href="#ch" transform="matrix(1,0,0,943.49,0,-1.45)" class="b52"/>
<use href="#ch" transform="matrix(1,0,0,944.18,0,-0.77)" class="b52"/>
<use href="#ch" transform="matrix(1,0,0,944.88,0,-0.10)" class="b52"/>
<use href="#ch" transform="scale(1,945.85)" class="b52"/>
<use href="#ch" transform="scale(1,946.87)" class="b52"/>
<use href="#ch" transform="scale(1,947.89)" class="b52"/>
<use href="#ch" transform="scale(1,948.91)" class="b52"/>
<use href="#ch" transform="scale(1,949.93)" class="b52"/>
<use href="#ch" transform="scale(1,950.95)" class="b51"/>
<use href="#ch" transform="scale(1,951.98)" class="b51"/>
<use href="#ch" transform="scale(1,953.00)" class="b50"/>
<use href="#ch" transform="scale(1,954.03)" class="b50"/>
<use href="#ch" transform="scale(1,955.06)" class="b49"/>
<use href="#ch" transform="scale(1,956.08)" class="b49"/>
<use href="#ch" transform="scale(1,957.11)" class="b48"/>
<use href="#ch" transform="scale(1,958.14)" class="b47"/>
<use href="#ch" transform="scale(1,959.18)" class="b47"/>
<use href="#ch" transform="scale(1,960.21)" class="b46"/>
<use href="#ch" transform="scale(1,961.24)" class="b46"/>
<use href="#ch" transform="scale(1,962.28)" class="b45"/>
<use href="#ch" transform="scale(1,963.32)" class="b44"/>
<use href="#ch" transform="scale(1,964.35)" class="b44"/>
<use href="#ch" transform="scale(1,965.39)" class="b43"/>
<use href="#ch" transform="scale(1,966.43)" class="b43"/>
<use href="#ch" transform="scale(1,967.47)" class="b43"/>
<use href="#ch" transform="scale(1,968.51)" class="b42"/>
<use href="#ch" transform="scale(1,969.56)" class="b42"/>
<use href="#ch" transform="scale(1,970.60)" class="b42"/>
<use href="#ch" transform="scale(1,971.65)" class="b42"/>
<use href="#ch" transform="scale(1,972.69)" class="b42"/>
<use href="#ch" transform="scale(1,973.74)" class="b41"/>
<use href="#ch" transform="scale(1,974.79)" class="b41"/>
<use href="#ch" transform="scale(1,975.84)" class="b41"/>
<use href="#ch" transform="scale(1,976.89)" class="b41"/>
<use href="#ch" transform="scale(1,977.94)" class="b41"/>
<use href="#ch" transform="scale(1,979.00)" class="b40"/>
<use href="#ch" transform="scale(1,980.05)" class="b40"/>
<use href="#ch" transform="scale(1,981.11)" class="b40"/>
<use href="#ch" transform="scale(1,982.16)" class="b40"/>
<use href="#ch" transform="scale(1,983.22)" class="b40"/>
<use href="#ch" transform="scale(1,984.28)" class="b40"/>
<use href="#ch" transform="scale(1,985.34)" class="b40"/>
<use href="#ch" transform="scale(1,986.40)" class="b40"/>
<use href="#ch" transform="scale(1,987.46)" class="b40"/>
<use href="#ch" transform="scale(1,988.53)" class="b40"/>
<use href="#ch" transform="scale(1,989.59)" class="b40"/>
<use href="#ch" transform="scale(1,990.66)" class="b40"/>
<use href="#ch" transform="scale(1,991.72)" class="b40"/>
<use href="#ch" transform="scale(1,992.79)" class="b40"/>
<use href="#ch" transform="scale(1,993.86)" class="b40"/>
<use href="#ch" transform="scale(1,994.93)" class="b40"/>
<use href="#ch" transform="scale(1,996.00)" class="b40"/>
<use href="#ch" transform="scale(1,997.07)" class="b40"/>
<use href="#ch" transform="scale(1,998.15)" class="b40"/>
<use href="#ch" transform="scale(1,999.22)" class="b40"/>
<use href="#ch" transform="scale(1,1000.30)" class="b40"/>
<use href="#ch" transform="scale(1,1001.38)" class="b40"/>
<use href="#ch" transform="scale(1,1002.46)" class="b40"/>
<use href="#ch" transform="scale(1,1003.54)" class="b40"/>
<use href="#ch" transform="scale(1,1004.62)" class="b40"/>
<use href="#ch" transform="scale(1,1005.70)" class="b40"/>
<use href="#ch" transform="scale(1,1006.78)" class="b40"/>
<use href="#ch" transform="scale(1,1007.87)" class="b40"/>
<use href="#ch" transform="scale(1,1008.95)" class="b40"/>
<use href="#ch" transform="scale(1,1010.04)" class="b40"/>
<use href="#ch" transform="scale(1,1011.13)" class="b40"/>
<use href="#ch" transform="scale(1,1012.21)" class="b40"/>
<use href="#ch" transform="scale(1,1013.30)" class="b40"/>
<use href="#ch" transform="scale(1,1014.40)" class="b40"/>
<use href="#ch" transform="scale(1,1015.49)" class="b40"/>
<use href="#ch" transform="scale(1,1016.58)" class="b40"/>
<use href="#ch" transform="scale(1,1017.68)" class="b40"/>
<use href="#ch" transform="scale(1,1018.77)" class="b40"/>
<use href="#ch" transform="scale(1,1019.87)" class="b40"/>
<use href="#ch" transform="scale(1,1020.97)" class="b40"/>
<use href="#ch" transform="scale(1,1022.07)" class="b40"/>
<use href="#ch" transform="scale(1,1023.17)" class="b40"/>
<use href="#ch" transform="scale(1,1024.27)" class="b40"/>
<use href="#ch" transform="scale(1,1025.37)" class="b40"/>
<use href="#ch" transform="scale(1,1026.48)" class="b40"/>
<use href="#ch" transform="scale(1,1027.58)" class="b40"/>
<use href="#ch" transform="scale(1,1028.69)" class="b40"/>
<use href="#ch" transform="scale(1,1029.80)" class="b40"/>
<use href="#ch" transform="scale(1,1030.91)" class="b40"/>
<use href="#ch" transform="scale(1,1032.02)" class="b40"/>
<use href="#ch" transform="scale(1,1033.13)" class="b40"/>
<use href="#ch" transform="scale(1,1034.24)" class="b40"/>
<use href="#ch" transform="scale(1,1035.36)" class="b40"/>
<use href="#ch" transform="scale(1,1036.47)" class="b40"/>
<use href="#ch" transform="scale(1,1037.59)" class="b40"/>
<use href="#ch" transform="scale(1,1038.70)" class="b40"/>
<use href="#ch" transform="scale(1,1039.82)" class="b40"/>
<use href="#ch" transform="scale(1,1040.94)" class="b40"/>
<use href="#ch" transform="scale(1,1042.06)" class="b40"/>
<use href="#ch" transform="scale(1,1043.19)" class="b40"/>
<use href="#ch" transform="scale(1,1044.31)" class="b40"/>
<use href="#ch" transform="scale(1,1045.43)" class="b40"/>
<use href="#ch" transform="scale(1,1046.56)" class="b40"/>
<use href="#ch" transform="scale(1,1047.69)" class="b40"/>
<use href="#ch" transform="scale(1,1048.82)" class="b40"/>
<use href="#ch" transform="scale(1,1049.94)" class="b41"/>
<use href="#ch" transform="scale(1,1051.08)" class="b41"/>
<use href="#ch" transform="scale(1,1052.21)" class="b41"/>
<use href="#ch" transform="scale(1,1053.34)" class="b41"/>
<use href="#ch" transform="scale(1,1054.48)" class="b41"/>
<use href="#ch" transform="scale(1,1055.61)" class="b41"/>
<use href="#ch" transform="scale(1,1056.75)" class="b42"/>
<use href="#ch" transform="scale(1,1057.89)" class="b42"/>
<use href="#ch" transform="scale(1,1059.03)" class="b42"/>
<use href="#ch" transform="scale(1,1060.17)" class="b42"/>
<use href="#ch" transform="scale(1,1061.31)" class="b42"/>
<use href="#ch" transform="scale(1,1062.45)" class="b43"/>
<use href="#ch" transform="scale(1,1063.59)" class="b43"/>
<use href="#ch" transform="scale(1,1064.74)" class="b43"/>
<use href="#ch" transform="scale(1,1065.89)" class="b44"/>
<use href="#ch" transform="scale(1,1067.03)" class="b44"/>
<use href="#ch" transform="scale(1,1068.18)" class="b44"/>
<use href="#ch" transform="scale(1,1069.33)" class="b45"/>
<use href="#ch" transform="scale(1,1070.49)" class="b45"/>
<use href="#ch" transform="scale(1,1071.64)" class="b45"/>
<use href="#ch" transform="scale(1,1072.79)" class="b46"/>
<use href="#ch" transform="scale(1,1073.95)" class="b46"/>
<use href="#ch" transform="scale(1,1075.11)" class="b46"/>
<use href="#ch" transform="scale(1,1076.26)" class="b46"/>
<use href="#ch" transform="matrix(1,0,0,1077.37,0,0.09)" class="b46"/>
<use href="#ch" transform="matrix(1,0,0,1078.45,0,0.23)" class="b46"/>
<use href="#ch" transform="matrix(1,0,0,1079.53,0,0.37)" class="b46"/>
<use href="#ch" transform="matrix(1,0,0,1080.61,0,0.51)" class="b45"/>
<use href="#ch" transform="matrix(1,0,0,1081.69,0,0.65)" class="b45"/>
<use href="#ch" transform="matrix(1,0,0,1082.78,0,0.80)" class="b45"/>
<use href="#ch" transform="matrix(1,0,0,1083.86,0,0.94)" class="b44"/>
<use href="#ch" transform="matrix(1,0,0,1084.95,0,1.08)" class="b44"/>
<use href="#ch" transform="matrix(1,0,0,1086.03,0,1.22)" class="b44"/>
<use href="#ch" transform="matrix(1,0,0,1087.12,0,1.36)" class="b43"/>
<use href="#ch" transform="matrix(1,0,0,1088.21,0,1.51)" class="b43"/>
<use href="#ch" transform="matrix(1,0,0,1089.30,0,1.65)" class="b42"/>
<use href="#ch" transform="matrix(1,0,0,1090.40,0,1.79)" class="b42"/>
<use href="#ch" transform="matrix(1,0,0,1091.49,0,1.93)" class="b41"/>
<use href="#ch" transform="matrix(1,0,0,1092.58,0,2.08)" class="b41"/>
<use href="#ch" transform="matrix(1,0,0,1093.68,0,2.22)" class="b40"/>
<use href="#ch" transform="matrix(1,0,0,1094.78,0,2.36)" class="b40"/>
<use href="#ch" transform="matrix(1,0,0,1095.88,0,2.51)" class="b39"/>
<use href="#ch" transform="matrix(1,0,0,1096.98,0,2.65)" class="v38"/>
<use href="#ch" transform="matrix(1,0,0,1098.08,0,2.79)" class="v38"/>
<use href="#ch" transform="matrix(1,0,0,1099.18,0,2.94)" class="v37"/>
<use href="#ch" transform="matrix(1,0,0,1100.28,0,3.08)" class="v36"/>
<use href="#ch" transform="matrix(1,0,0,1101.39,0,3.22)" class="v36"/>
<use href="#ch" transform="matrix(1,0,0,1102.49,0,3.37)" class="v35"/>
<use href="#ch" transform="matrix(1,0,0,1103.61,0,3.50)" class="v33"/>
<use href="#ch" transform="matrix(1,0,0,1104.73,0,3.63)" class="v32"/>
<use href="#ch" transform="matrix(1,0,0,1151.96,0,-2.13)" class="v32"/>
<use href="#ch" transform="matrix(1,0,0,1153.10,0,-1.97)" class="v33"/>
<use href="#ch" transform="matrix(1,0,0,1154.23,0,-1.80)" class="v34"/>
<use href="#ch" transform="matrix(1,0,0,1155.36,0,-1.62)" class="v35"/>
<use href="#ch" transform="matrix(1,0,0,1156.49,0,-1.44)" class="v35"/>
<use href="#ch" transform="matrix(1,0,0,1157.62,0,-1.26)" class="v36"/>
<use href="#ch" transform="matrix(1,0,0,1158.75,0,-1.08)" class="v36"/>
<use href="#ch" transform="matrix(1,0,0,1159.89,0,-0.90)" class="v37"/>
<use href="#ch" transform="matrix(1,0,0,1161.02,0,-0.71)" class="v37"/>
<use href="#ch" transform="matrix(1,0,0,1162.16,0,-0.53)" class="v38"/>
<use href="#ch" transform="matrix(1,0,0,1163.29,0,-0.35)" class="v38"/>
<use href="#ch" transform="matrix(1,0,0,1164.43,0,-0.17)" class="v38"/>
<use href="#ch" transform="matrix(1,0,0,1165.51,0,0.11)" class="v38"/>
<use href="#ch" transform="matrix(1,0,0,1166.05,0,1.25)" class="v38"/>
<use href="#ch" transform="matrix(1,0,0,1166.59,0,2.39)" class="v37"/>
<use href="#ch" transform="matrix(1,0,0,1167.13,0,3.53)" class="v36"/>
<use href="#ch" transform="matrix(1,0,0,1167.68,0,4.67)" class="v34"/>
<use href="#ch" transform="matrix(1,0,0,1168.22,0,5.81)" class="v33"/>
<use href="#ch" transform="matrix(1,0,0,1525.93,0,-7.71)" class="v37"/>
<use href="#ch" transform="matrix(1,0,0,1526.73,0,-6.68)" class="v42"/>
<use href="#ch" transform="matrix(1,0,0,1527.52,0,-5.66)" class="v46"/>
<use href="#ch" transform="matrix(1,0,0,1528.31,0,-4.63)" class="v48"/>
<use href="#ch" transform="matrix(1,0,0,1529.11,0,-3.60)" class="v50"/>
<use href="#ch" transform="matrix(1,0,0,1529.90,0,-2.57)" class="v52"/>
<use href="#ch" transform="matrix(1,0,0,1530.70,0,-1.53)" class="v54"/>
<use href="#ch" transform="matrix(1,0,0,1531.49,0,-0.50)" class="v54"/>
<use href="#ch" transform="matrix(1,0,0,1532.32,0,0.50)" class="v54"/>
<use href="#ch" transform="matrix(1,0,0,1533.17,0,1.47)" class="v54"/>
<use href="#ch" transform="matrix(1,0,0,1534.02,0,2.44)" class="v53"/>
<use href="#ch" transform="matrix(1,0,0,1534.87,0,3.41)" class="v52"/>
<use href="#ch" transform="matrix(1,0,0,1535.73,0,4.38)" class="v50"/>
<use href="#ch" transform="matrix(1,0,0,1536.58,0,5.35)" class="v48"/>
<use href="#ch" transform="matrix(1,0,0,1537.44,0,6.33)" class="v46"/>
<use href="#ch" transform="matrix(1,0,0,1538.29,0,7.30)" class="v43"/>
<use href="#ch" transform="matrix(1,0,0,1539.15,0,8.27)" class="v40"/>
<use href="#ch" transform="matrix(1,0,0,1540.00,0,9.25)" class="v37"/>
<use href="#ch" transform="matrix(1,0,0,1540.86,0,10.22)" class="v34"/>
<use href="#ch" transform="matrix(1,0,0,1598.87,0,-10.41)" class="v32"/>
<use href="#ch" transform="matrix(1,0,0,1599.73,0,-9.42)" class="v37"/>
<use href="#ch" transform="matrix(1,0,0,1600.58,0,-8.42)" class="v42"/>
<use href="#ch" transform="matrix(1,0,0,1601.43,0,-7.41)" class="v46"/>
<use href="#ch" transform="matrix(1,0,0,1602.29,0,-6.41)" class="v51"/>
<use href="#ch" transform="matrix(1,0,0,1603.14,0,-5.41)" class="v54"/>
<use href="#ch" transform="matrix(1,0,0,1604.00,0,-4.40)" class="v57"/>
<use href="#ch" transform="matrix(1,0,0,1604.85,0,-3.40)" class="v58"/>
<use href="#ch" transform="matrix(1,0,0,1605.71,0,-2.39)" class="v60"/>
<use href="#ch" transform="matrix(1,0,0,1606.56,0,-1.38)" class="v61"/>
<use href="#ch" transform="matrix(1,0,0,1607.42,0,-0.37)" class="v61"/>
<use href="#ch" transform="matrix(1,0,0,1608.30,0,0.61)" class="v61"/>
<use href="#ch" transform="matrix(1,0,0,1609.20,0,1.57)" class="v61"/>
<use href="#ch" transform="matrix(1,0,0,1610.10,0,2.53)" class="v60"/>
<use href="#ch" transform="matrix(1,0,0,1611.00,0,3.50)" class="v59"/>
<use href="#ch" transform="matrix(1,0,0,1611.90,0,4.47)" class="v58"/>
<use href="#ch" transform="matrix(1,0,0,1612.80,0,5.43)" class="v55"/>
<use href="#ch" transform="matrix(1,0,0,1613.70,0,6.40)" class="v52"/>
<use href="#ch" transform="matrix(1,0,0,1614.60,0,7.37)" class="v48"/>
<use href="#ch" transform="matrix(1,0,0,1615.51,0,8.34)" class="v44"/>
<use href="#ch" transform="matrix(1,0,0,1616.41,0,9.31)" class="v41"/>
<use href="#ch" transform="matrix(1,0,0,1617.31,0,10.28)" class="v38"/>
<use href="#ch" transform="matrix(1,0,0,1618.22,0,11.25)" class="v34"/>
<use href="#ch" transform="matrix(1,0,0,1681.50,0,-7.98)" class="v35"/>
<use href="#ch" transform="matrix(1,0,0,1682.27,0,-6.83)" class="v38"/>
<use href="#ch" transform="matrix(1,0,0,1683.04,0,-5.68)" class="v40"/>
<use href="#ch" transform="matrix(1,0,0,1683.80,0,-4.54)" class="v41"/>
<use href="#ch" transform="matrix(1,0,0,1684.57,0,-3.39)" class="v43"/>
<use href="#ch" transform="matrix(1,0,0,1685.34,0,-2.24)" class="v45"/>
<use href="#ch" transform="matrix(1,0,0,1686.11,0,-1.09)" class="v46"/>
<use href="#ch" transform="scale(1,1686.94)" class="v46"/>
<use href="#ch" transform="matrix(1,0,0,1688.75,0,0.01)" class="v46"/>
<use href="#ch" transform="matrix(1,0,0,1690.56,0,0.02)" class="v46"/>
<use href="#ch" transform="matrix(1,0,0,1692.37,0,0.02)" class="v45"/>
<use href="#ch" transform="matrix(1,0,0,1694.19,0,0.03)" class="v44"/>
<use href="#ch" transform="matrix(1,0,0,1696.01,0,0.04)" class="v43"/>
<use href="#ch" transform="matrix(1,0,0,1697.83,0,0.05)" class="v43"/>
<use href="#ch" transform="matrix(1,0,0,1699.65,0,0.05)" class="v42"/>
<use href="#ch" transform="matrix(1,0,0,1701.47,0,0.06)" class="v41"/>
<use href="#ch" transform="matrix(1,0,0,1703.30,0,0.07)" class="v40"/>
<use href="#ch" transform="matrix(1,0,0,1705.12,0,0.08)" class="v39"/>
<use href="#ch" transform="matrix(1,0,0,1706.95,0,0.09)" class="v38"/>
<use href="#ch" transform="matrix(1,0,0,1708.79,0,0.09)" class="v37"/>
<use href="#ch" transform="matrix(1,0,0,1710.62,0,0.10)" class="v36"/>
<use href="#ch" transform="matrix(1,0,0,1712.46,0,0.11)" class="v35"/>
<use href="#ch" transform="matrix(1,0,0,1714.30,0,0.11)" class="v34"/>
<use href="#ch" transform="matrix(1,0,0,1716.16,0,0.10)" class="v33"/>
<use href="#ch" transform="matrix(1,0,0,1718.03,0,0.07)" class="v32"/>
<use href="#ch" transform="matrix(1,0,0,1719.92,0,0.02)" class="v32"/>
<use href="#ch" transform="matrix(1,0,0,1721.82,0,-0.02)" class="v32"/>
<use href="#ch" transform="matrix(1,0,0,1723.70,0,-0.05)" class="v32"/>
<use href="#ch" transform="matrix(1,0,0,1725.58,0,-0.08)" class="v33"/>
<use href="#ch" transform="matrix(1,0,0,1727.45,0,-0.09)" class="v33"/>
<use href="#ch" transform="matrix(1,0,0,1729.30,0,-0.08)" class="v33"/>
<use href="#ch" transform="matrix(1,0,0,1731.16,0,-0.07)" class="v34"/>
<use href="#ch" transform="matrix(1,0,0,1733.01,0,-0.06)" class="v34"/>
<use href="#ch" transform="matrix(1,0,0,1734.86,0,-0.04)" class="v35"/>
<use href="#ch" transform="matrix(1,0,0,1736.71,0,-0.02)" class="v35"/>
<use href="#ch" transform="matrix(1,0,0,1738.52,0,0.04)" class="v35"/>
<use href="#ch" transform="matrix(1,0,0,1739.24,0,1.27)" class="v35"/>
<use href="#ch" transform="matrix(1,0,0,1739.96,0,2.50)" class="v34"/>
<use href="#ch" transform="matrix(1,0,0,1740.68,0,3.74)" class="v34"/>
<use href="#ch" transform="matrix(1,0,0,1741.41,0,4.96)" class="v33"/>
<use href="#ch" transform="matrix(1,0,0,1802.04,0,-10.65)" class="v35"/>
<use href="#ch" transform="matrix(1,0,0,1802.95,0,-9.60)" class="v37"/>
<use href="#ch" transform="matrix(1,0,0,1803.85,0,-8.54)" class="v40"/>
<use href="#ch" transform="matrix(1,0,0,1804.76,0,-7.47)" class="v42"/>
<use href="#ch" transform="matrix(1,0,0,1805.67,0,-6.41)" class="v44"/>
<use href="#ch" transform="matrix(1,0,0,1806.57,0,-5.35)" class="v46"/>
<use href="#ch" transform="matrix(1,0,0,1807.48,0,-4.29)" class="v48"/>
<use href="#ch" transform="matrix(1,0,0,1808.39,0,-3.22)" class="v49"/>
<use href="#ch" transform="matrix(1,0,0,1809.30,0,-2.16)" class="v51"/>
<use href="#ch" transform="matrix(1,0,0,1810.21,0,-1.09)" class="v52"/>
<use href="#ch" transform="matrix(1,0,0,1811.12,0,-0.03)" class="v52"/>
<use href="#ch" transform="matrix(1,0,0,1811.96,0,1.11)" class="v52"/>
<use href="#ch" transform="matrix(1,0,0,1812.79,0,2.25)" class="v50"/>
<use href="#ch" transform="matrix(1,0,0,1813.63,0,3.40)" class="v48"/>
<use href="#ch" transform="matrix(1,0,0,1814.47,0,4.54)" class="v46"/>
<use href="#ch" transform="matrix(1,0,0,1815.31,0,5.68)" class="v43"/>
<use href="#ch" transform="matrix(1,0,0,1816.15,0,6.83)" class="v40"/>
<use href="#ch" transform="matrix(1,0,0,1816.99,0,7.97)" class="v37"/>
<use href="#ch" transform="matrix(1,0,0,1817.84,0,9.12)" class="v33"/>
<use href="#ch" transform="matrix(1,0,0,1877.60,0,-8.99)" class="v34"/>
<use href="#ch" transform="matrix(1,0,0,1878.42,0,-7.81)" class="v39"/>
<use href="#ch" transform="matrix(1,0,0,1879.23,0,-6.62)" class="v42"/>
<use href="#ch" transform="matrix(1,0,0,1880.05,0,-5.43)" class="v45"/>
<use href="#ch" transform="matrix(1,0,0,1880.87,0,-4.24)" class="v47"/>
<use href="#ch" transform="matrix(1,0,0,1881.68,0,-3.05)" class="v50"/>
<use href="#ch" transform="matrix(1,0,0,1882.50,0,-1.86)" class="v51"/>
<use href="#ch" transform="matrix(1,0,0,1883.32,0,-0.67)" class="v52"/>
<use href="#ch" transform="scale(1,1884.67)" class="v52"/>
<use href="#ch" transform="matrix(1,0,0,1886.69,0,0.01)" class="v52"/>
<use href="#ch" transform="matrix(1,0,0,1888.71,0,0.02)" class="v51"/>
<use href="#ch" transform="matrix(1,0,0,1890.74,0,0.03)" class="v50"/>
<use href="#ch" transform="matrix(1,0,0,1892.76,0,0.04)" class="v49"/>
<use href="#ch" transform="matrix(1,0,0,1894.79,0,0.05)" class="v48"/>
<use href="#ch" transform="matrix(1,0,0,1896.83,0,0.05)" class="v47"/>
<use href="#ch" transform="matrix(1,0,0,1898.86,0,0.06)" class="v46"/>
<use href="#ch" transform="matrix(1,0,0,1900.90,0,0.07)" class="v45"/>
<use href="#ch" transform="matrix(1,0,0,1902.94,0,0.08)" class="v43"/>
<use href="#ch" transform="matrix(1,0,0,1904.98,0,0.09)" class="v42"/>
<use href="#ch" transform="matrix(1,0,0,1907.02,0,0.10)" class="v41"/>
<use href="#ch" transform="matrix(1,0,0,1909.06,0,0.11)" class="v39"/>
<use href="#ch" transform="matrix(1,0,0,1911.11,0,0.11)" class="v38"/>
<use href="#ch" transform="matrix(1,0,0,1913.16,0,0.12)" class="v37"/>
<use href="#ch" transform="matrix(1,0,0,1915.21,0,0.13)" class="v36"/>
<use href="#ch" transform="matrix(1,0,0,1917.27,0,0.14)" class="v35"/>
<use href="#ch" transform="matrix(1,0,0,1919.33,0,0.14)" class="v34"/>
<use href="#ch" transform="matrix(1,0,0,1921.40,0,0.14)" class="v34"/>
<use href="#ch" transform="matrix(1,0,0,1923.49,0,0.12)" class="v33"/>
<use href="#ch" transform="matrix(1,0,0,1925.59,0,0.09)" class="v32"/>
<use href="#ch" transform="matrix(1,0,0,1927.72,0,0.04)" class="v32"/>
<use href="#ch" transform="matrix(1,0,0,1929.86,0,-0.02)" class="v32"/>
<use href="#ch" transform="matrix(1,0,0,1931.99,0,-0.07)" class="v32"/>
<use href="#ch" transform="matrix(1,0,0,1934.11,0,-0.11)" class="v32"/>
<use href="#ch" transform="matrix(1,0,0,1936.22,0,-0.14)" class="v33"/>
<use href="#ch" transform="matrix(1,0,0,1938.33,0,-0.16)" class="v33"/>
<use href="#ch" transform="matrix(1,0,0,1940.42,0,-0.17)" class="v33"/>
<use href="#ch" transform="matrix(1,0,0,1942.51,0,-0.16)" class="v34"/>
<use href="#ch" transform="matrix(1,0,0,1944.59,0,-0.16)" class="v34"/>
<use href="#ch" transform="matrix(1,0,0,1946.68,0,-0.15)" class="v35"/>
<use href="#ch" transform="matrix(1,0,0,1948.76,0,-0.13)" class="v35"/>
<use href="#ch" transform="matrix(1,0,0,1950.84,0,-0.12)" class="v36"/>
<use href="#ch" transform="matrix(1,0,0,1952.92,0,-0.10)" class="v37"/>
<use href="#ch" transform="matrix(1,0,0,1955.01,0,-0.08)" class="v37"/>
<use href="#ch" transform="matrix(1,0,0,1957.10,0,-0.06)" class="v38"/>
<use href="#ch" transform="matrix(1,0,0,1959.18,0,-0.05)" class="v39"/>
<use href="#ch" transform="matrix(1,0,0,1961.27,0,-0.03)" class="v39"/>
<use href="#ch" transform="matrix(1,0,0,1963.37,0,-0.01)" class="v40"/>
<use href="#ch" transform="matrix(1,0,0,1964.81,0,0.62)" class="v40"/>
<use href="#ch" transform="matrix(1,0,0,1965.52,0,1.96)" class="v39"/>
<use href="#ch" transform="matrix(1,0,0,1966.23,0,3.29)" class="v38"/>
<use href="#ch" transform="matrix(1,0,0,1966.93,0,4.62)" class="v37"/>
<use href="#ch" transform="matrix(1,0,0,1967.64,0,5.96)" class="v35"/>
<use href="#ch" transform="matrix(1,0,0,1968.35,0,7.29)" class="v34"/>
<use href="#ch" transform="matrix(1,0,0,1969.07,0,8.62)" class="v32"/>
<use href="#ch" transform="matrix(1,0,0,2670.94,0,-5.53)" class="v33"/>
<use href="#ch" transform="matrix(1,0,0,2671.87,0,-4.18)" class="v35"/>
<use href="#ch" transform="matrix(1,0,0,2672.80,0,-2.83)" class="v37"/>
<use href="#ch" transform="matrix(1,0,0,2673.73,0,-1.48)" class="v39"/>
<use href="#ch" transform="matrix(1,0,0,2674.66,0,-0.12)" class="v40"/>
<use href="#ch" transform="matrix(1,0,0,2675.50,0,1.29)" class="v39"/>
<use href="#ch" transform="matrix(1,0,0,2676.34,0,2.71)" class="v38"/>
<use href="#ch" transform="matrix(1,0,0,2677.18,0,4.13)" class="v36"/>
<use href="#ch" transform="matrix(1,0,0,2678.02,0,5.55)" class="v33"/>
<use href="#ch" transform="matrix(1,0,0,2829.84,0,-2.89)" class="v34"/>
<use href="#ch" transform="matrix(1,0,0,2830.61,0,-1.40)" class="v36"/>
<use href="#ch" transform="matrix(1,0,0,2831.37,0,0.10)" class="v36"/>
<use href="#ch" transform="matrix(1,0,0,2832.12,0,1.61)" class="v36"/>
<use href="#ch" transform="matrix(1,0,0,2832.87,0,3.12)" class="v34"/>
<use href="#ch" transform="matrix(1,0,0,2833.63,0,4.62)" class="v32"/>
<use href="#ch" transform="matrix(1,0,0,2888.97,0,-7.31)" class="v36"/>
<use href="#ch" transform="matrix(1,0,0,2889.95,0,-5.94)" class="v42"/>
<use href="#ch" transform="matrix(1,0,0,2890.94,0,-4.58)" class="v47"/>
<use href="#ch" transform="matrix(1,0,0,2891.93,0,-3.22)" class="v50"/>
<use href="#ch" transform="matrix(1,0,0,2892.92,0,-1.85)" class="v53"/>
<use href="#ch" transform="matrix(1,0,0,2893.91,0,-0.49)" class="v54"/>
<use href="#ch" transform="matrix(1,0,0,2894.78,0,0.95)" class="v54"/>
<use href="#ch" transform="matrix(1,0,0,2895.60,0,2.43)" class="v52"/>
<use href="#ch" transform="matrix(1,0,0,2896.42,0,3.90)" class="v49"/>
<use href="#ch" transform="matrix(1,0,0,2897.23,0,5.38)" class="v46"/>
<use href="#ch" transform="matrix(1,0,0,2898.05,0,6.86)" class="v40"/>
<use href="#ch" transform="matrix(1,0,0,2898.87,0,8.34)" class="v35"/>
<use href="#ch" transform="matrix(1,0,0,2975.37,0,-12.11)" class="v36"/>
<use href="#ch" transform="matrix(1,0,0,2976.28,0,-10.68)" class="v41"/>
<use href="#ch" transform="matrix(1,0,0,2977.19,0,-9.25)" class="v45"/>
<use href="#ch" transform="matrix(1,0,0,2978.10,0,-7.82)" class="v48"/>
<use href="#ch" transform="matrix(1,0,0,2979.01,0,-6.39)" class="v51"/>
<use href="#ch" transform="matrix(1,0,0,2979.91,0,-4.96)" class="v54"/>
<use href="#ch" transform="matrix(1,0,0,2980.82,0,-3.52)" class="v56"/>
<use href="#ch" transform="matrix(1,0,0,2981.73,0,-2.09)" class="v58"/>
<use href="#ch" transform="matrix(1,0,0,2982.64,0,-0.66)" class="v59"/>
<use href="#ch" transform="scale(1,2984.80)" class="v59"/>
<use href="#ch" transform="scale(1,2988.01)" class="v59"/>
<use href="#ch" transform="scale(1,2991.23)" class="v58"/>
<use href="#ch" transform="scale(1,2994.45)" class="v56"/>
<use href="#ch" transform="scale(1,2997.67)" class="v55"/>
<use href="#ch" transform="scale(1,3000.90)" class="v54"/>
<use href="#ch" transform="scale(1,3004.13)" class="v53"/>
<use href="#ch" transform="scale(1,3007.37)" class="v52"/></g>
</g>
<rect x="422.5" y="60.8" width="1274.5" height="1238.7" fill="none" stroke="#303048" stroke-width="1.6"/>
<rect x="1861" y="60.6" width="82.7" height="1234.8" fill="url(#cb)" stroke="#262626" stroke-width="2.3"/>
<line x1="1929.7" x2="1943.7" y1="1048.4" y2="1048.4" stroke="#262626" stroke-width="1.6"/>
<line x1="1929.7" x2="1943.7" y1="801.5" y2="801.5" stroke="#262626" stroke-width="1.6"/>
<line x1="1929.7" x2="1943.7" y1="554.5" y2="554.5" stroke="#262626" stroke-width="1.6"/>
<line x1="1929.7" x2="1943.7" y1="307.6" y2="307.6" stroke="#262626" stroke-width="1.6"/>
<text class="s" x="153.56 209.84 269.63 329.41" y="1340.0" font-size="107.5">1000</text>
<text class="s" x="153.56 209.84 269.63 329.41" y="1030.3" font-size="107.5">1500</text>
<text class="s" x="389.2" y="720.6" font-size="107.5" text-anchor="end">2000</text>
<text class="s" x="389.2" y="411.0" font-size="107.5" text-anchor="end">2500</text>
<text class="s" x="389.2" y="101.3" font-size="107.5" text-anchor="end">3000</text>
<text class="s" x="675.6" y="1439" font-size="107.5" text-anchor="middle">200</text>
<text class="s" x="930.5" y="1439" font-size="107.5" text-anchor="middle">400</text>
<text class="s" x="1185.4" y="1439" font-size="107.5" text-anchor="middle">600</text>
<text class="s" x="1440.3" y="1439" font-size="107.5" text-anchor="middle">800</text>
<text class="s" x="1579.09 1635.38 1695.16 1754.95" y="1439" font-size="107.5">1000</text>
<text class="s" x="1972.8" y="1334.0" font-size="96.5">0</text>
<text class="s" x="1972.8" y="1087.0" font-size="96.5">0.2</text>
<text class="s" x="1972.8" y="840.1" font-size="96.5">0.4</text>
<text class="s" x="1972.8" y="593.1" font-size="96.5">0.6</text>
<text class="s" x="1972.8" y="346.2" font-size="96.5">0.8</text>
<text class="s" x="1975.95" y="99.2" font-size="96.5">1</text>
<text class="r" x="1060.5" y="1587.5" font-size="118" text-anchor="middle">t(s)</text>
<text class="r" transform="translate(105.8,678.5) rotate(-90)" font-size="118" text-anchor="middle">f(Hz)</text>
<rect x="160.7" y="1330.0" width="19.8" height="11.0" fill="#fff"/><rect x="190.2" y="1330.0" width="19.2" height="11.0" fill="#fff"/>
<rect x="160.7" y="1020.3" width="19.8" height="11.0" fill="#fff"/><rect x="190.2" y="1020.3" width="19.2" height="11.0" fill="#fff"/>
<rect x="1586.2" y="1429.0" width="19.8" height="11.0" fill="#fff"/><rect x="1615.8" y="1429.0" width="19.2" height="11.0" fill="#fff"/>
<rect x="1982.3" y="90.0" width="17.8" height="10.2" fill="#fff"/><rect x="2008.9" y="90.0" width="17.2" height="10.2" fill="#fff"/>
</svg></body></html>
